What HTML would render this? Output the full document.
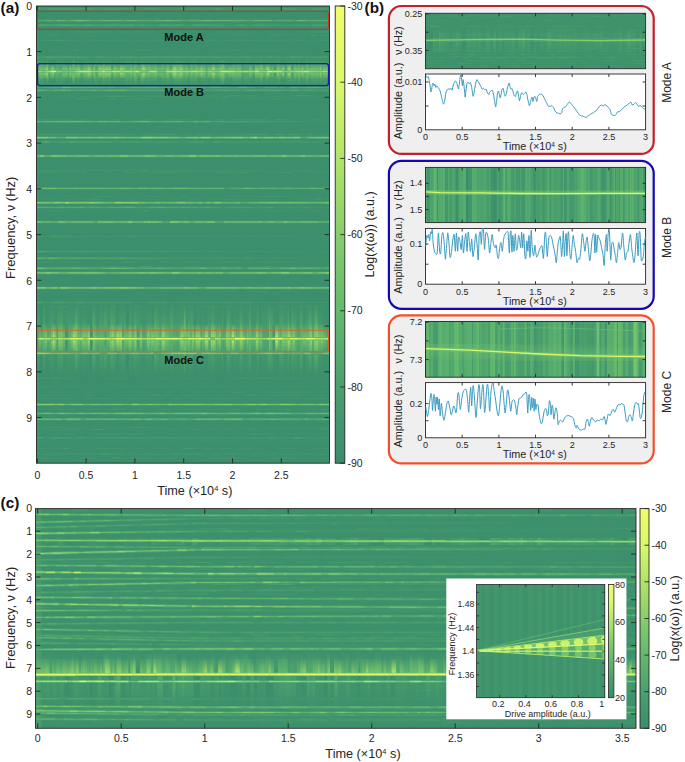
<!DOCTYPE html><html><head><meta charset="utf-8"><style>html,body{margin:0;padding:0;background:#fff;}body{width:685px;height:762px;overflow:hidden;font-family:"Liberation Sans",sans-serif;}svg{display:block;}</style></head><body>
<svg width="685" height="762" viewBox="0 0 685 762" font-family="Liberation Sans, sans-serif">
<defs>
<linearGradient id="cbg" x1="0" y1="1" x2="0" y2="0">
<stop offset="0.00" stop-color="#3a8d6c"/>
<stop offset="0.08" stop-color="#42966d"/>
<stop offset="0.17" stop-color="#4ba06e"/>
<stop offset="0.25" stop-color="#58ac6e"/>
<stop offset="0.33" stop-color="#64b96e"/>
<stop offset="0.42" stop-color="#76c36d"/>
<stop offset="0.50" stop-color="#87cd6c"/>
<stop offset="0.58" stop-color="#9cd86b"/>
<stop offset="0.67" stop-color="#b2e469"/>
<stop offset="0.75" stop-color="#c4ee6a"/>
<stop offset="0.83" stop-color="#d7f86c"/>
<stop offset="0.92" stop-color="#e5fa6a"/>
<stop offset="1.00" stop-color="#f2fc69"/>
</linearGradient>
<filter id="bl" x="-5%" y="-50%" width="110%" height="200%"><feGaussianBlur stdDeviation="0.45"/></filter>
<filter id="bl2" x="-5%" y="-50%" width="110%" height="200%"><feGaussianBlur stdDeviation="2.5"/></filter>
<clipPath id="cA"><rect x="36.5" y="6" width="293" height="457.2"/></clipPath>
<clipPath id="cC"><rect x="35.5" y="508.6" width="600.5" height="219.7"/></clipPath>
</defs>
<defs>
<linearGradient id="fadeV" x1="0" y1="0" x2="0" y2="1"><stop offset="0" stop-color="#fff" stop-opacity="0"/><stop offset="0.5" stop-color="#fff" stop-opacity="1"/><stop offset="1" stop-color="#fff" stop-opacity="0"/></linearGradient>
<mask id="mB" maskUnits="userSpaceOnUse" x="30" y="55" width="310" height="40"><rect x="30" y="60" width="310" height="26" fill="url(#fadeV)"/></mask>
<mask id="mC" maskUnits="userSpaceOnUse" x="30" y="295" width="310" height="90"><rect x="30" y="300" width="310" height="76" fill="url(#fadeV)"/></mask>
</defs>
<g clip-path="url(#cA)">
<rect x="36.5" y="6.0" width="293.0" height="457.2" fill="#3c8f6c"/>
<path d="M199 50.2H211.7M309.8 50.2H323.3M54.1 441.3H67.1M123.3 306.8H136.1M166.6 306.8H178.8M178.8 306.8H186.1M122.6 349.1H128.4M74.6 434.2H88.1M200.3 434.2H209.8M107.6 392.2H115.9M173.4 392.2H185.7M224.3 395.3H235.5M257 395.3H263.1M300.8 395.3H305.5M84.3 40.3H96.4M124.9 40.3H138.4M36.5 349.2H41.7M301.7 349.2H315.1M184 210.9H190.5M202 32H215.7M274.2 32H279.5M289.4 32H297.7M229 414.9H237.6M78.8 378.4H91.5M96.8 378.4H105.6M126.9 378.4H132.5M132.5 378.4H141.4M217.2 378.4H228.8M322.9 172.4H329.5M211.7 171.4H220.4M179.7 77.1H190.2M287.7 77.1H297.1M194.4 119.4H206.9M296 119.4H300.3M36.5 335.7H42.1M132.5 335.7H143.6M154.8 335.7H168.3M168.3 335.7H175M212.7 335.7H226.4M240.4 335.7H253.7M83.3 196.4H94.6M188.6 196.4H202.3M202.3 196.4H210.6M68.7 98.9H76M79.7 331H86.2M211.9 331H217.2M272.7 331H280.8M283 199.2H296M177.5 350.8H184.7M115.9 429.4H122M130 429.4H134.4M259.4 457.9H263.7M36.5 35H49.5M146.9 35H159.6M113.1 262H117.5M117.5 262H122.6M90.1 86.9H102M171.7 427.4H182.4M236.1 70.9H246.8M46.4 273.7H51.7M51.7 273.7H58.8M295.5 96.6H305.1M74.9 409.5H85.1M290 409.5H296M146.1 40.3H151M213.8 40.3H220.2M70.4 343.3H79.6" stroke="#3d906c" stroke-width="0.8" fill="none"/>
<path d="M36.5 291.8H49.5M49.5 291.8H55.7M68.5 291.8H80.7M187.9 291.8H193.8M193.8 291.8H199.8M299.4 291.8H309.3M309.3 291.8H319.7M325.2 291.8H329.5M60.9 50.2H73.6M79 50.2H92.4M92.4 50.2H102.1M102.1 50.2H108M117.5 50.2H130.4M152.6 50.2H161.3M177 50.2H190.7M44.9 441.3H54.1M67.1 441.3H76.9M76.9 441.3H89.7M124.7 441.3H136.8M147.9 441.3H155.2M155.2 441.3H161.3M161.3 441.3H167.4M188.6 441.3H199.2M249.2 441.3H254.3M266.3 441.3H275.6M275.6 441.3H280M290.7 441.3H300.4M118 306.8H123.3M232.3 306.8H240.9M245.9 306.8H251.2M263.5 306.8H271.3M129.9 386.8H141.9M178.3 386.8H188.7M211.5 386.8H219.3M250.3 386.8H263.5M268.9 386.8H282.8M307.2 386.8H321M42.4 349.1H48.6M100.4 349.1H108.3M108.3 349.1H113.6M128.4 349.1H137.2M137.2 349.1H147.9M234.7 349.1H247.9M255 349.1H259.7M304 349.1H315.4M321.1 349.1H326.7M56.7 434.2H63.5M119.3 434.2H128.8M146.3 434.2H157.5M178.4 434.2H191.7M231.6 434.2H243.1M273.5 434.2H283.9M72.1 392.2H81.7M92.4 392.2H100.6M100.6 392.2H107.6M124.4 392.2H134.2M185.7 392.2H194.4M242.6 392.2H251.1M322.5 392.2H327.2M41.9 95.4H53.6M53.6 95.4H66.8M95.1 95.4H104M117.7 95.4H123.5M123.5 95.4H137.1M160.2 95.4H166.9M193 95.4H206.3M275.4 95.4H285.6M285.6 95.4H296.3M104.6 395.3H110.1M127.6 395.3H134.3M168.3 395.3H178.4M235.5 395.3H243.4M263.1 395.3H269.9M305.5 395.3H311.6M41.7 40.3H50.5M104.9 40.3H112.1M120.1 40.3H124.9M158.6 40.3H168.5M215.1 40.3H223.1M230.9 40.3H241.7M260 40.3H266.5M266.5 40.3H279M289.4 40.3H302.6M302.6 40.3H308.3M41.7 349.2H48.8M74.8 349.2H81.6M138.3 349.2H151.5M192.5 349.2H206.2M206.2 349.2H211.5M216.5 349.2H223.9M238.3 349.2H248M78.3 210.9H85.1M149.3 210.9H159.2M170.3 210.9H184M190.5 210.9H204.5M132.7 77.2H144.8M171.5 77.2H184.1M210.3 77.2H223.3M262.5 77.2H270.9M270.9 77.2H284.4M296.7 77.2H308M324.2 77.2H329.5M36.5 32H44.8M49.4 32H53.5M61.4 32H68.3M176.1 32H190M256.8 32H270.1M279.5 32H289.4M329.3 32H329.5M44.4 414.9H57.2M57.2 414.9H62.2M76.1 414.9H83.1M180 414.9H191.2M191.2 414.9H199.3M199.3 414.9H205.1M250.8 414.9H261.8M279.4 414.9H289.5M325.7 414.9H329.5M54.2 266.5H66.9M73.8 266.5H80.7M85.5 266.5H97M102.5 266.5H109.5M163.8 266.5H176.6M176.6 266.5H189.3M200.5 266.5H207.2M273 266.5H285.8M285.8 266.5H290.4M290.4 266.5H298.2M298.2 266.5H308.1M308.1 266.5H315.5M146.3 378.4H159.4M166 378.4H173.2M189.8 378.4H202.8M302.5 378.4H316M316 378.4H329.5M56.9 172.4H61M71 172.4H82.3M133.6 172.4H147M196.2 172.4H207.9M207.9 172.4H216.5M256.8 172.4H265.7M272.2 172.4H280.6M36.5 69.4H50.2M62.1 69.4H74.8M101 69.4H112.9M204.7 69.4H211.3M260.5 69.4H270.6M280.2 69.4H289.2M63.8 171.4H71.4M97.3 171.4H102.7M170.3 171.4H178.2M178.2 171.4H189.2M132.3 77.1H138.3M145.3 77.1H152.7M166.1 77.1H179.7M201.2 77.1H209.3M218.6 77.1H229.8M243.8 77.1H251.2M251.2 77.1H256.2M307.9 77.1H319.8M328.8 77.1H329.5M69.8 119.4H78.2M91.2 119.4H100M134.1 119.4H144.9M151.9 119.4H165.2M206.9 119.4H214.6M225.2 119.4H233.2M288.4 119.4H296M300.3 119.4H312.3M111.6 398.4H123.9M240 398.4H249.1M255.3 398.4H259.9M268.4 398.4H276.2M325 398.4H329.5M53.8 335.7H58M58 335.7H69.5M87.2 335.7H93.1M93.1 335.7H101.7M111.1 335.7H121.7M261.9 335.7H267.6M327.1 335.7H329.5M36.5 196.4H47M70.4 196.4H83.3M111 196.4H119.8M137.3 196.4H145.3M158.8 196.4H163.9M218.8 196.4H232.3M292.4 196.4H305.9M40.6 98.9H45.4M56.3 98.9H68.7M89.2 98.9H96.8M162 98.9H168.1M206.1 98.9H216M234.8 98.9H241.7M278.8 98.9H286.2M311.7 98.9H323.1M36.5 331H50.3M98.5 331H109.9M109.9 331H118.5M118.5 331H126.1M150.8 331H162.3M184.8 331H198.5M225.5 331H237.8M253.2 331H259.9M52.7 199.2H63.6M111.8 199.2H125M157.8 199.2H169.2M275.1 199.2H283M104.3 350.8H115.3M129 350.8H139.4M139.4 350.8H147.8M168.5 350.8H177.5M251.1 350.8H260M260 350.8H271.3M134.4 429.4H148.3M174.3 429.4H186.1M220 429.4H224.9M268.2 429.4H274.9M280.1 429.4H290.6M304.4 429.4H314.2M314.2 429.4H318.6M68.4 337.8H77.2M77.2 337.8H89.7M105 337.8H114.3M135.4 337.8H144.4M187.4 337.8H196.1M202.3 337.8H207.2M231.3 337.8H236.3M280.2 337.8H287.4M61.8 457.9H73.1M177.4 457.9H188.4M252.2 457.9H259.4M263.7 457.9H273.7M294.6 457.9H300.3M300.3 457.9H308.8M308.8 457.9H317.6M58.6 35H68.1M101.4 35H112.7M112.7 35H120.7M170.4 35H183.8M183.8 35H196.8M264.8 35H269M306.6 35H310.7M93.5 262H104.8M176.9 262H182.6M204 262H215.6M234.8 262H247.1M254.1 262H259.6M275.4 262H286.4M286.4 262H298.8M298.8 262H311.2M311.2 262H324.5M36.5 86.9H49.2M83.4 86.9H90.1M113.1 86.9H124.3M136.6 86.9H149.5M161 86.9H168.5M182.4 86.9H194.1M245.7 86.9H258.1M277.9 86.9H283.9M111.2 136.8H119.6M119.6 136.8H125M125 136.8H134.6M134.6 136.8H147.5M167.8 136.8H178.8M190.9 136.8H203.2M203.2 136.8H213.9M213.9 136.8H222M234.8 136.8H242.6M248.3 136.8H261.2M277 136.8H285.8M303.5 136.8H311.4M326.7 136.8H329.5M165.3 427.4H171.7M217.1 427.4H228.2M228.2 427.4H238.5M255.9 427.4H264.2M93.3 70.9H103.6M140.7 70.9H147.6M177.6 70.9H190.2M208.6 70.9H215.3M265.6 70.9H277.3M295.4 70.9H308.9M308.9 70.9H313.5M321.6 70.9H329.5M44.5 448.7H50.8M81.3 448.7H91.5M129.3 448.7H135.5M214.5 448.7H219.4M249.8 448.7H255.4M294.9 448.7H301.4M119.3 273.7H125.9M235.1 273.7H242.8M255.9 273.7H268.3M268.3 273.7H275.7M275.7 273.7H281.8M62.9 96.6H73.2M80.5 96.6H93.6M194.6 96.6H199.2M229.9 96.6H242.1M255.8 96.6H259.8M269.7 96.6H274.5M305.1 96.6H316.2M36.5 409.5H44.3M44.3 409.5H56.4M64.9 409.5H70M99.1 409.5H104.6M176.3 409.5H188.1M188.1 409.5H198.1M198.1 409.5H204.2M222.4 409.5H234.4M296 409.5H308.1M308.1 409.5H320.7M326.9 409.5H329.5M109.5 40.3H121.6M130 40.3H138M220.2 40.3H227.8M249.5 40.3H262.8M288.8 40.3H295.8M305.1 40.3H319M64.4 343.3H70.4M102.9 343.3H115.6M129.8 343.3H135.6M135.6 343.3H146.1M146.1 343.3H152.3M156.7 343.3H163.9M192.4 343.3H199.5M217.2 343.3H223.2M247.7 343.3H260.9M281.6 343.3H286.3" stroke="#3f936d" stroke-width="0.8" fill="none"/>
<path d="M55.7 291.8H68.5M89.4 291.8H96.1M96.1 291.8H104.6M145.5 291.8H150M159.1 291.8H172.3M181.4 291.8H187.9M203.9 291.8H209.4M209.4 291.8H222.2M222.2 291.8H234.7M246.1 291.8H255.5M108 50.2H117.5M130.4 50.2H140.1M148.2 50.2H152.6M161.3 50.2H168.5M190.7 50.2H199M211.7 50.2H221.6M221.6 50.2H229.2M246.3 50.2H250.4M250.4 50.2H262.5M270.7 50.2H274.8M274.8 50.2H286.8M323.3 50.2H329.5M102.9 441.3H111.2M111.2 441.3H124.7M136.8 441.3H147.9M167.4 441.3H179.8M212.8 441.3H223.1M228.9 441.3H237M254.3 441.3H266.3M280 441.3H284.2M310.3 441.3H321.1M88.3 306.8H93.4M105.4 306.8H118M136.1 306.8H145.9M156 306.8H166.6M186.1 306.8H198.8M198.8 306.8H204.4M224.5 306.8H232.3M240.9 306.8H245.9M251.2 306.8H263.5M304.5 306.8H316.1M316.1 306.8H321.5M46.7 386.8H55M90.3 386.8H94.9M106.5 386.8H113.2M113.2 386.8H124.6M166.5 386.8H178.3M188.7 386.8H200.3M223.6 386.8H233M263.5 386.8H268.9M321 386.8H329.5M73.3 349.1H87.2M147.9 349.1H157.2M157.2 349.1H166.3M166.3 349.1H175.7M187.6 349.1H193.4M193.4 349.1H198.5M259.7 349.1H268.3M315.4 349.1H321.1M36.5 434.2H42.1M47 434.2H56.7M63.5 434.2H74.6M137.6 434.2H146.3M168.8 434.2H178.4M191.7 434.2H200.3M219.7 434.2H225.7M261.3 434.2H273.5M283.9 434.2H293.5M293.5 434.2H305M305 434.2H313.6M322.7 434.2H329.5M48.4 392.2H59.5M81.7 392.2H92.4M134.2 392.2H147.1M147.1 392.2H153.7M261.9 392.2H272.3M272.3 392.2H282.7M282.7 392.2H291.5M301.8 392.2H315.4M315.4 392.2H322.5M36.5 95.4H41.9M66.8 95.4H77M104 95.4H112.4M112.4 95.4H117.7M137.1 95.4H142.9M142.9 95.4H151.7M151.7 95.4H160.2M172.8 95.4H180.8M180.8 95.4H193M206.3 95.4H216.9M239.3 95.4H252.8M309.9 95.4H317.2M321.4 95.4H329.5M48.1 395.3H52.8M58.7 395.3H67.1M67.1 395.3H73.9M84.7 395.3H92.8M139.6 395.3H144.8M161.6 395.3H168.3M188.7 395.3H201.3M201.3 395.3H212.9M212.9 395.3H224.3M311.6 395.3H324.8M324.8 395.3H329.5M36.5 40.3H41.7M67.8 40.3H71.9M71.9 40.3H79.6M79.6 40.3H84.3M112.1 40.3H120.1M148.9 40.3H158.6M193.5 40.3H205.7M317.6 40.3H325.9M58.5 349.2H69.1M69.1 349.2H74.8M81.6 349.2H87.8M110.7 349.2H122.2M122.2 349.2H130.3M130.3 349.2H138.3M151.5 349.2H162.9M183.7 349.2H192.5M274 349.2H282.1M315.1 349.2H322.8M36.5 210.9H44.4M61.3 210.9H72M96.7 210.9H103.9M109.8 210.9H120.8M120.8 210.9H127.7M132.1 210.9H141.9M214.5 210.9H228M248.2 210.9H255.5M284.6 210.9H295.7M302.2 210.9H315.1M324.3 210.9H328.6M56.9 77.2H68.8M78.3 77.2H83.3M93.1 77.2H105.3M105.3 77.2H114.5M184.1 77.2H191.2M253.4 77.2H262.5M44.8 32H49.4M53.5 32H61.4M68.3 32H74M150.5 32H155.2M190 32H202M215.7 32H228.4M228.4 32H238.6M238.6 32H244.6M244.6 32H251.5M270.1 32H274.2M297.7 32H308.3M36.5 414.9H44.4M62.2 414.9H76.1M83.1 414.9H87.2M121.4 414.9H131M131 414.9H140.4M148.7 414.9H156.6M205.1 414.9H216.3M66.9 266.5H73.8M97 266.5H102.5M109.5 266.5H120.9M207.2 266.5H217.1M217.1 266.5H230.4M230.4 266.5H236.3M236.3 266.5H248.5M248.5 266.5H257.6M315.5 266.5H325.6M45.4 378.4H52.2M59.2 378.4H69.2M91.5 378.4H96.8M105.6 378.4H113.7M141.4 378.4H146.3M182.9 378.4H189.8M202.8 378.4H209.3M228.8 378.4H239.9M273.8 378.4H285M292.9 378.4H302.5M36.5 172.4H43.8M61 172.4H71M147 172.4H155.1M182.4 172.4H196.2M226.6 172.4H237.5M265.7 172.4H272.2M300.4 172.4H313.4M50.2 69.4H62.1M74.8 69.4H85.9M144.8 69.4H154.9M186.9 69.4H200.1M200.1 69.4H204.7M219.1 69.4H228M228 69.4H238.9M238.9 69.4H249.7M270.6 69.4H280.2M297 69.4H307.6M315.1 69.4H325.3M76.8 171.4H85.1M138.8 171.4H149.3M201.1 171.4H211.7M242.9 171.4H254.9M314.9 171.4H325.6M95.3 77.1H100.2M100.2 77.1H112.8M124.8 77.1H132.3M152.7 77.1H166.1M229.8 77.1H239.4M256.2 77.1H264.8M264.8 77.1H275.9M50.1 119.4H62.6M62.6 119.4H69.8M78.2 119.4H86.4M86.4 119.4H91.2M165.2 119.4H172.6M190.4 119.4H194.4M312.3 119.4H320.7M48.7 398.4H53M53 398.4H60M85.2 398.4H97.6M104.2 398.4H111.6M123.9 398.4H129.6M187.5 398.4H198.8M198.8 398.4H205.1M205.1 398.4H217.6M227.2 398.4H240M249.1 398.4H255.3M292.9 398.4H304.9M42.1 335.7H48.6M48.6 335.7H53.8M69.5 335.7H74.8M175 335.7H184.2M184.2 335.7H190.7M190.7 335.7H198.3M198.3 335.7H206.7M206.7 335.7H212.7M235.8 335.7H240.4M267.6 335.7H279.4M279.4 335.7H290.1M290.1 335.7H296.4M296.4 335.7H307.5M316 335.7H320.2M59.4 196.4H70.4M145.3 196.4H152.3M232.3 196.4H238.3M238.3 196.4H248.2M248.2 196.4H261.6M284.5 196.4H292.4M318.1 196.4H322.5M148.6 98.9H154.5M168.1 98.9H181.9M193.8 98.9H206.1M241.7 98.9H254.8M262.4 98.9H271.3M86.2 331H98.5M137.9 331H150.8M162.3 331H169.6M198.5 331H211.9M237.8 331H242.3M303.8 331H313.5M313.5 331H321.1M36.5 199.2H46.1M46.1 199.2H52.7M63.6 199.2H77.2M77.2 199.2H89.4M125 199.2H135M169.2 199.2H173.8M173.8 199.2H182.5M208.6 199.2H221.1M240.4 199.2H250.9M250.9 199.2H263.7M263.7 199.2H275.1M296 199.2H309.1M309.1 199.2H314.8M36.5 350.8H47.9M47.9 350.8H54.5M94.1 350.8H99.7M115.3 350.8H129M188.8 350.8H194.6M194.6 350.8H208.1M215.1 350.8H226.1M295.7 350.8H307.5M319.5 350.8H329.5M46.4 429.4H58.6M79.4 429.4H84.2M84.2 429.4H93M108.8 429.4H115.9M122 429.4H130M161.7 429.4H174.3M214.9 429.4H220M224.9 429.4H236.6M290.6 429.4H298.3M298.3 429.4H304.4M94.1 337.8H105M114.3 337.8H121.6M121.6 337.8H135.4M196.1 337.8H202.3M236.3 337.8H248.9M259.2 337.8H264.7M287.4 337.8H293.9M326.3 337.8H329.5M49.5 457.9H61.8M78.5 457.9H88.3M120.4 457.9H125.3M125.3 457.9H137M151.6 457.9H164.8M188.4 457.9H197.8M317.6 457.9H329.5M83.4 35H87.9M87.9 35H101.4M159.6 35H170.4M210.6 35H219.9M219.9 35H225.8M225.8 35H230.5M291.6 35H296.5M296.5 35H306.6M327.9 35H329.5M53.7 262H66.2M104.8 262H113.1M136.1 262H149.4M159.9 262H172.1M182.6 262H195.8M195.8 262H204M247.1 262H254.1M259.6 262H264.3M324.5 262H328.9M328.9 262H329.5M49.2 86.9H55.1M55.1 86.9H61.3M61.3 86.9H75M75 86.9H83.4M102 86.9H113.1M124.3 86.9H129.6M194.1 86.9H208.1M208.1 86.9H218.6M227.3 86.9H234.1M297.5 86.9H305.6M318.3 86.9H329.5M56.1 136.8H68.8M77.3 136.8H83.5M83.5 136.8H90.2M242.6 136.8H248.3M285.8 136.8H290.1M290.1 136.8H297.5M311.4 136.8H322.1M322.1 136.8H326.7M64.7 427.4H72.9M72.9 427.4H77.2M77.2 427.4H84.1M106.8 427.4H113.4M125.8 427.4H131.7M155.3 427.4H165.3M182.4 427.4H193.6M204.7 427.4H212.9M238.5 427.4H243.1M243.1 427.4H255.9M281.6 427.4H288.2M294.1 427.4H300.2M300.2 427.4H306.7M306.7 427.4H316.6M50.1 70.9H60.3M190.2 70.9H199.7M277.3 70.9H281.9M313.5 70.9H321.6M50.8 448.7H59.5M123.1 448.7H129.3M153.4 448.7H157.7M157.7 448.7H171.3M193.7 448.7H201.4M255.4 448.7H262M275.7 448.7H281M281 448.7H294.9M310.7 448.7H323.5M36.5 273.7H41.7M113.4 273.7H119.3M138.2 273.7H146.7M178 273.7H188.7M301.2 273.7H305.7M166.3 96.6H171.3M282.5 96.6H289.2M56.4 409.5H64.9M85.1 409.5H99.1M104.6 409.5H113M215.2 409.5H222.4M255.5 409.5H264.4M264.4 409.5H274M274 409.5H278.4M278.4 409.5H285.5M36.5 40.3H45.1M67.5 40.3H75.8M151 40.3H163.3M172.3 40.3H184.5M237.4 40.3H249.5M262.8 40.3H272.4M272.4 40.3H284.6M284.6 40.3H288.8M119.7 343.3H124.9M124.9 343.3H129.8M152.3 343.3H156.7M199.5 343.3H208.8M223.2 343.3H234.4M286.3 343.3H292.7M310.9 343.3H316.6" stroke="#42966d" stroke-width="0.8" fill="none"/>
<path d="M80.7 291.8H89.4M199.8 291.8H203.9M278.2 291.8H286.1M286.1 291.8H291.6M291.6 291.8H299.4M50.2 50.2H60.9M229.2 50.2H240.8M262.5 50.2H270.7M199.2 441.3H212.8M223.1 441.3H228.9M284.2 441.3H290.7M300.4 441.3H310.3M321.1 441.3H328.2M328.2 441.3H329.5M46.6 306.8H56.4M80.9 306.8H88.3M214.9 306.8H224.5M321.5 306.8H326.3M67.8 386.8H79.5M153.1 386.8H166.5M200.3 386.8H211.5M242.5 386.8H250.3M282.8 386.8H293.9M293.9 386.8H307.2M36.5 349.1H42.4M211.9 349.1H225.6M88.1 434.2H96.2M243.1 434.2H252.7M313.6 434.2H322.7M167.4 392.2H173.4M252.8 95.4H258M36.5 395.3H48.1M52.8 395.3H58.7M120.9 395.3H127.6M134.3 395.3H139.6M144.8 395.3H149.1M178.4 395.3H188.7M243.4 395.3H257M269.9 395.3H282.5M282.5 395.3H289.4M289.4 395.3H294.1M168.5 40.3H178M223.1 40.3H230.9M246.8 40.3H260M279 40.3H283.5M96.5 349.2H106.3M162.9 349.2H168.3M178.3 349.2H183.7M223.9 349.2H228.2M248 349.2H257.6M44.4 210.9H49.8M127.7 210.9H132.1M159.2 210.9H170.3M237.2 210.9H248.2M255.5 210.9H259.9M276.3 210.9H284.6M295.7 210.9H302.2M83.3 77.2H93.1M127.4 77.2H132.7M195.3 77.2H201.3M223.3 77.2H230.1M230.1 77.2H239.1M243.6 77.2H253.4M318.2 77.2H324.2M96.3 32H103.2M117.4 32H130.7M130.7 32H142.7M142.7 32H150.5M251.5 32H256.8M109.3 414.9H121.4M156.6 414.9H161.7M161.7 414.9H173.4M237.6 414.9H250.8M261.8 414.9H275.1M289.5 414.9H298.5M298.5 414.9H308M315.6 414.9H325.7M189.3 266.5H200.5M257.6 266.5H268.2M325.6 266.5H329.5M69.2 378.4H74.1M113.7 378.4H126.9M159.4 378.4H166M239.9 378.4H253.5M253.5 378.4H266.2M285 378.4H292.9M43.8 172.4H56.9M177.7 172.4H182.4M313.4 172.4H322.9M85.9 69.4H95M112.9 69.4H123.6M134.1 69.4H144.8M36.5 171.4H45.4M45.4 171.4H52.6M71.4 171.4H76.8M157 171.4H170.3M220.4 171.4H228.4M228.4 171.4H234.3M268.4 171.4H278.9M325.6 171.4H329.5M138.3 77.1H145.3M239.4 77.1H243.8M115.5 119.4H122.6M144.9 119.4H151.9M172.6 119.4H183M183 119.4H190.4M214.6 119.4H225.2M258.6 119.4H268M280.3 119.4H288.4M36.5 398.4H48.7M60 398.4H72.6M138.2 398.4H151.6M151.6 398.4H162.9M217.6 398.4H227.2M259.9 398.4H268.4M284 398.4H292.9M304.9 398.4H313.5M74.8 335.7H87.2M152.3 196.4H158.8M179.6 196.4H188.6M327.1 196.4H329.5M181.9 98.9H188.8M188.8 98.9H193.8M216 98.9H227M254.8 98.9H262.4M271.3 98.9H278.8M286.2 98.9H299.6M64.3 331H75.5M169.6 331H179.7M242.3 331H253.2M280.8 331H284.8M321.1 331H329.5M144.7 199.2H157.8M189.4 199.2H201.7M233.3 199.2H240.4M321.9 199.2H329.5M76.7 350.8H85.1M147.8 350.8H154.7M226.1 350.8H233.9M290.8 350.8H295.7M307.5 350.8H319.5M36.5 429.4H46.4M58.6 429.4H69.4M155.9 429.4H161.7M208.8 429.4H214.9M274.9 429.4H280.1M36.5 337.8H48.7M161.1 337.8H170.8M219.8 337.8H231.3M273.6 337.8H280.2M36.5 457.9H49.5M164.8 457.9H177.4M205.5 457.9H218.5M218.5 457.9H230.2M230.2 457.9H236M236 457.9H245.8M273.7 457.9H280.6M76.9 35H83.4M138 35H146.9M230.5 35H236.4M241.2 35H253.8M280.5 35H291.6M66.2 262H79.6M215.6 262H221.3M129.6 86.9H136.6M258.1 86.9H264.5M305.6 86.9H318.3M68.8 136.8H77.3M90.2 136.8H99.4M99.4 136.8H111.2M147.5 136.8H152.7M152.7 136.8H162.2M222 136.8H234.8M261.2 136.8H272.7M272.7 136.8H277M36.5 427.4H47.6M113.4 427.4H125.8M145.3 427.4H155.3M264.2 427.4H270.6M270.6 427.4H281.6M288.2 427.4H294.1M60.3 70.9H72.4M147.6 70.9H156.2M156.2 70.9H169.4M223.1 70.9H231.1M246.8 70.9H255.4M281.9 70.9H295.4M59.5 448.7H64M95.7 448.7H109.6M109.6 448.7H123.1M135.5 448.7H143.9M201.4 448.7H214.5M219.4 448.7H232.2M63.5 273.7H74.1M125.9 273.7H138.2M146.7 273.7H158.7M188.7 273.7H198.2M219.4 273.7H223.9M223.9 273.7H235.1M242.8 273.7H255.9M305.7 273.7H319M319 273.7H329.5M56.8 96.6H62.9M93.6 96.6H106M126.5 96.6H137.7M145 96.6H152.9M171.3 96.6H182M205.4 96.6H217.6M242.1 96.6H255.8M274.5 96.6H282.5M134.3 409.5H144.1M157.4 409.5H171.2M204.2 409.5H208.9M208.9 409.5H215.2M234.4 409.5H238.9M320.7 409.5H326.9M58 40.3H67.5M97.8 40.3H109.5M121.6 40.3H130M138 40.3H146.1M227.8 40.3H237.4M295.8 40.3H305.1M323.9 40.3H329.5M90.8 343.3H102.9M171.6 343.3H181.3M208.8 343.3H217.2M329.4 343.3H329.5" stroke="#44986d" stroke-width="0.8" fill="none"/>
<path d="M73.6 50.2H79M140.1 50.2H148.2M36.5 441.3H44.9M277.4 306.8H286M297.5 306.8H304.5M36.5 386.8H46.7M62.8 386.8H67.8M124.6 386.8H129.9M141.9 386.8H153.1M219.3 386.8H223.6M57.6 349.1H64.7M64.7 349.1H73.3M113.6 349.1H122.6M291.5 349.1H304M96.2 434.2H108.6M108.6 434.2H119.3M133.4 434.2H137.6M252.7 434.2H261.3M231.3 392.2H242.6M291.5 392.2H301.8M227.6 95.4H239.3M149.1 395.3H161.6M294.1 395.3H300.8M50.5 40.3H55.2M106.3 349.2H110.7M282.1 349.2H295M49.8 210.9H61.3M264.6 210.9H272M272 210.9H276.3M315.1 210.9H320.1M328.6 210.9H329.5M191.2 77.2H195.3M201.3 77.2H210.3M308 77.2H314.1M74 32H87.6M102.1 414.9H109.3M216.3 414.9H229M308 414.9H315.6M268.2 266.5H273M266.2 378.4H273.8M106.9 172.4H111.3M124.3 172.4H133.6M155.1 172.4H166.3M166.3 172.4H177.7M216.5 172.4H226.6M237.5 172.4H248.7M95 69.4H101M123.6 69.4H134.1M161.2 69.4H169.8M169.8 69.4H177.5M211.3 69.4H219.1M289.2 69.4H297M307.6 69.4H315.1M52.6 171.4H63.8M302.6 171.4H314.9M53.6 77.1H64.4M64.4 77.1H78.3M209.3 77.1H218.6M36.5 119.4H50.1M110.4 119.4H115.5M233.2 119.4H244.1M250 119.4H258.6M97.6 398.4H104.2M129.6 398.4H138.2M173.6 398.4H180.4M101.7 335.7H111.1M121.7 335.7H132.5M226.4 335.7H235.8M94.6 196.4H101.1M101.1 196.4H111M261.6 196.4H271.6M271.6 196.4H284.5M125.7 98.9H135.4M135.4 98.9H148.6M179.7 331H184.8M284.8 331H292.1M221.1 199.2H233.3M54.5 350.8H67.6M99.7 350.8H104.3M246.4 350.8H251.1M69.4 429.4H79.4M190.3 429.4H201.7M247.2 429.4H257.3M318.6 429.4H329.5M48.7 337.8H55.6M89.7 337.8H94.1M264.7 337.8H273.6M301.7 337.8H315M315 337.8H326.3M88.3 457.9H93.8M137 457.9H144.6M144.6 457.9H151.6M280.6 457.9H294.6M236.4 35H241.2M269 35H280.5M323 35H327.9M36.5 262H42.8M42.8 262H53.7M128.8 262H136.1M221.3 262H234.8M264.3 262H275.4M149.5 86.9H161M168.5 86.9H182.4M297.5 136.8H303.5M47.6 427.4H55.8M55.8 427.4H64.7M316.6 427.4H329.1M109.3 70.9H121M121 70.9H135M215.3 70.9H223.1M36.5 448.7H44.5M237.4 448.7H249.8M323.5 448.7H329.5M85.2 273.7H95.8M107.2 273.7H113.4M36.5 96.6H43M152.9 96.6H166.3M182 96.6H194.6M221.8 96.6H229.9M70 409.5H74.9M113 409.5H124.7M45.1 40.3H58M89.7 40.3H97.8M163.3 40.3H172.3M50.4 343.3H64.4M181.3 343.3H192.4M234.4 343.3H247.7" stroke="#479b6d" stroke-width="0.8" fill="none"/>
<path d="M255.5 291.8H268.2M56.4 306.8H68.4M204.4 306.8H214.9M87.2 349.1H100.4M175.7 349.1H187.6M247.9 349.1H255M296.3 95.4H309.9M55.2 40.3H67.8M205.7 40.3H215.1M241.7 40.3H246.8M325.9 40.3H329.5M87.8 349.2H96.5M49.5 77.2H56.9M68.8 77.2H78.3M87.6 32H96.3M103.2 32H110.1M308.3 32H316.3M316.3 32H329.3M140.4 414.9H148.7M173.4 414.9H180M120.9 266.5H125.5M36.5 378.4H45.4M82.3 172.4H87.2M280.6 172.4H292.9M177.5 69.4H186.9M45.4 77.1H53.6M112.8 77.1H124.8M297.1 77.1H307.9M244.1 119.4H250M274.4 119.4H280.3M313.5 398.4H325M253.7 335.7H261.9M76 98.9H89.2M110.2 98.9H115.1M126.1 331H137.9M89.4 199.2H102.6M314.8 199.2H321.9M67.6 350.8H76.7M85.1 350.8H94.1M55.6 337.8H68.4M180.1 337.8H187.4M248.9 337.8H259.2M49.5 35H58.6M310.7 35H315.6M122.6 262H128.8M131.7 427.4H145.3M36.5 70.9H50.1M72.4 70.9H80.7M182.7 448.7H193.7M41.7 273.7H46.4M74.1 273.7H85.2M167.1 273.7H178M106 96.6H115.7M115.7 96.6H126.5M316.6 343.3H329.4" stroke="#499e6e" stroke-width="0.8" fill="none"/>
<path d="M128.8 434.2H133.4M187.8 40.3H193.5M141.9 210.9H149.3M157.7 77.2H171.5M139.3 266.5H151M52.2 378.4H59.2M36.5 77.1H45.4M196.2 77.1H201.2M93 429.4H104.6M112.8 457.9H120.4M264.5 86.9H277.9M135 70.9H140.7M64 448.7H69.5M58.8 273.7H63.5M285.5 409.5H290" stroke="#4ca16e" stroke-width="0.8" fill="none"/>
<mask id="mB1" maskUnits="userSpaceOnUse" x="30" y="56" width="310" height="32"><rect x="30" y="58" width="310" height="28" fill="url(#fadeV)"/></mask>
<g mask="url(#mB1)" filter="url(#bl)">
<path d="M54.4 58V86" stroke="#3d906c" stroke-width="1.9" fill="none"/>
<path d="M76.3 58V86" stroke="#42966d" stroke-width="1.8" fill="none"/>
<path d="M45.4 58V86" stroke="#44986d" stroke-width="2.1" fill="none"/>
<path d="M50 58V86" stroke="#44986d" stroke-width="3" fill="none"/>
<path d="M67.1 58V86" stroke="#44986d" stroke-width="2.4" fill="none"/>
<path d="M71.2 58V86" stroke="#44986d" stroke-width="1.7" fill="none"/>
<path d="M92.9 58V86" stroke="#44986d" stroke-width="1.8" fill="none"/>
<path d="M199.6 58V86" stroke="#44986d" stroke-width="3.1" fill="none"/>
<path d="M209.4 58V86M302 58V86" stroke="#44986d" stroke-width="1.5" fill="none"/>
<path d="M281.8 58V86" stroke="#44986d" stroke-width="2.3" fill="none"/>
<path d="M80.3 58V86M139.3 58V86" stroke="#479b6d" stroke-width="2.4" fill="none"/>
<path d="M111.9 58V86" stroke="#479b6d" stroke-width="2.3" fill="none"/>
<path d="M122.1 58V86" stroke="#479b6d" stroke-width="2" fill="none"/>
<path d="M160.7 58V86" stroke="#479b6d" stroke-width="1.1" fill="none"/>
<path d="M188.3 58V86" stroke="#479b6d" stroke-width="3.3" fill="none"/>
<path d="M231.1 58V86" stroke="#479b6d" stroke-width="1.7" fill="none"/>
<path d="M253.4 58V86" stroke="#479b6d" stroke-width="3.1" fill="none"/>
<path d="M82.1 58V86" stroke="#499e6e" stroke-width="1.3" fill="none"/>
<path d="M119.3 58V86" stroke="#499e6e" stroke-width="1.1" fill="none"/>
<path d="M206.8 58V86" stroke="#499e6e" stroke-width="1.2" fill="none"/>
<path d="M284.4 58V86" stroke="#499e6e" stroke-width="2.9" fill="none"/>
<path d="M297.1 58V86M309.9 58V86" stroke="#499e6e" stroke-width="2.2" fill="none"/>
<path d="M328.7 58V86" stroke="#499e6e" stroke-width="2.7" fill="none"/>
<path d="M52.5 58V86" stroke="#4ca16e" stroke-width="2" fill="none"/>
<path d="M84.1 58V86" stroke="#4ca16e" stroke-width="2.8" fill="none"/>
<path d="M100.8 58V86" stroke="#4ca16e" stroke-width="3.3" fill="none"/>
<path d="M118.1 58V86" stroke="#4ca16e" stroke-width="1.5" fill="none"/>
<path d="M132.8 58V86" stroke="#4ca16e" stroke-width="1.7" fill="none"/>
<path d="M157.8 58V86" stroke="#4ca16e" stroke-width="2.6" fill="none"/>
<path d="M159.6 58V86" stroke="#4ca16e" stroke-width="1.1" fill="none"/>
<path d="M170.5 58V86" stroke="#4ca16e" stroke-width="2.1" fill="none"/>
<path d="M203.3 58V86" stroke="#4ca16e" stroke-width="1.4" fill="none"/>
<path d="M242.9 58V86" stroke="#4ca16e" stroke-width="3" fill="none"/>
<path d="M263.9 58V86" stroke="#4ca16e" stroke-width="2.4" fill="none"/>
<path d="M268.8 58V86" stroke="#4ca16e" stroke-width="1.6" fill="none"/>
<path d="M37.5 58V86M59.1 58V86M211.1 58V86M218.7 58V86" stroke="#50a56e" stroke-width="2" fill="none"/>
<path d="M64.2 58V86M271.3 58V86" stroke="#50a56e" stroke-width="3.5" fill="none"/>
<path d="M69.3 58V86" stroke="#50a56e" stroke-width="2.1" fill="none"/>
<path d="M98 58V86" stroke="#50a56e" stroke-width="2.3" fill="none"/>
<path d="M114.3 58V86" stroke="#50a56e" stroke-width="2.6" fill="none"/>
<path d="M120.5 58V86" stroke="#50a56e" stroke-width="1.3" fill="none"/>
<path d="M124.4 58V86M228.9 58V86" stroke="#50a56e" stroke-width="2.8" fill="none"/>
<path d="M172.4 58V86M300.5 58V86" stroke="#50a56e" stroke-width="1.7" fill="none"/>
<path d="M216.2 58V86" stroke="#50a56e" stroke-width="3" fill="none"/>
<path d="M226 58V86" stroke="#50a56e" stroke-width="3.2" fill="none"/>
<path d="M251.1 58V86" stroke="#50a56e" stroke-width="1.5" fill="none"/>
<path d="M274.3 58V86" stroke="#50a56e" stroke-width="2.7" fill="none"/>
<path d="M88.3 58V86M145.5 58V86" stroke="#54a96e" stroke-width="3" fill="none"/>
<path d="M90.9 58V86" stroke="#54a96e" stroke-width="2.2" fill="none"/>
<path d="M107.1 58V86M197.3 58V86" stroke="#54a96e" stroke-width="1.6" fill="none"/>
<path d="M116.5 58V86" stroke="#54a96e" stroke-width="1.8" fill="none"/>
<path d="M137.5 58V86M164.4 58V86" stroke="#54a96e" stroke-width="1.3" fill="none"/>
<path d="M153 58V86M205.1 58V86" stroke="#54a96e" stroke-width="2.3" fill="none"/>
<path d="M166 58V86" stroke="#54a96e" stroke-width="2" fill="none"/>
<path d="M184.2 58V86" stroke="#54a96e" stroke-width="1.7" fill="none"/>
<path d="M248.7 58V86" stroke="#54a96e" stroke-width="3.5" fill="none"/>
<path d="M258.6 58V86" stroke="#54a96e" stroke-width="2.6" fill="none"/>
<path d="M265.6 58V86" stroke="#54a96e" stroke-width="1.1" fill="none"/>
<path d="M287.5 58V86" stroke="#54a96e" stroke-width="3.4" fill="none"/>
<path d="M304.3 58V86" stroke="#54a96e" stroke-width="3.2" fill="none"/>
<path d="M56.8 58V86" stroke="#58ac6e" stroke-width="2.8" fill="none"/>
<path d="M131.5 58V86" stroke="#58ac6e" stroke-width="1.1" fill="none"/>
<path d="M151.1 58V86" stroke="#58ac6e" stroke-width="1.6" fill="none"/>
<path d="M162.5 58V86M276.9 58V86" stroke="#58ac6e" stroke-width="2.7" fill="none"/>
<path d="M208 58V86" stroke="#58ac6e" stroke-width="1.3" fill="none"/>
<path d="M233.5 58V86M323.9 58V86" stroke="#58ac6e" stroke-width="3.3" fill="none"/>
<path d="M239.9 58V86" stroke="#58ac6e" stroke-width="3.1" fill="none"/>
<path d="M256.1 58V86" stroke="#58ac6e" stroke-width="2.5" fill="none"/>
<path d="M292.9 58V86" stroke="#58ac6e" stroke-width="1.2" fill="none"/>
<path d="M319.2 58V86" stroke="#58ac6e" stroke-width="1.8" fill="none"/>
<path d="M61.3 58V86M129.8 58V86" stroke="#5bb06e" stroke-width="2.4" fill="none"/>
<path d="M78.1 58V86" stroke="#5bb06e" stroke-width="2.1" fill="none"/>
<path d="M86.2 58V86" stroke="#5bb06e" stroke-width="1.4" fill="none"/>
<path d="M109.4 58V86" stroke="#5bb06e" stroke-width="2.9" fill="none"/>
<path d="M148.7 58V86M181.8 58V86M315.7 58V86" stroke="#5bb06e" stroke-width="3.3" fill="none"/>
<path d="M174.8 58V86M290.8 58V86" stroke="#5bb06e" stroke-width="3.2" fill="none"/>
<path d="M185.9 58V86" stroke="#5bb06e" stroke-width="1.7" fill="none"/>
<path d="M191.7 58V86" stroke="#5bb06e" stroke-width="3.5" fill="none"/>
<path d="M201.9 58V86" stroke="#5bb06e" stroke-width="1.6" fill="none"/>
<path d="M213.4 58V86M245.7 58V86M294.8 58V86" stroke="#5bb06e" stroke-width="2.7" fill="none"/>
<path d="M267 58V86M326.5 58V86" stroke="#5bb06e" stroke-width="1.9" fill="none"/>
<path d="M280 58V86" stroke="#5bb06e" stroke-width="1.5" fill="none"/>
<path d="M312.5 58V86" stroke="#5bb06e" stroke-width="3.1" fill="none"/>
<path d="M43.5 58V86" stroke="#5fb46e" stroke-width="1.7" fill="none"/>
<path d="M95.4 58V86" stroke="#5fb46e" stroke-width="3.1" fill="none"/>
<path d="M105.4 58V86" stroke="#5fb46e" stroke-width="1.9" fill="none"/>
<path d="M155.4 58V86" stroke="#5fb46e" stroke-width="2.5" fill="none"/>
<path d="M168.2 58V86" stroke="#5fb46e" stroke-width="2.6" fill="none"/>
<path d="M195 58V86" stroke="#5fb46e" stroke-width="3.2" fill="none"/>
<path d="M236.8 58V86" stroke="#5fb46e" stroke-width="3.3" fill="none"/>
<path d="M321.2 58V86" stroke="#5fb46e" stroke-width="2.2" fill="none"/>
<path d="M39.6 58V86" stroke="#63b86e" stroke-width="2.2" fill="none"/>
<path d="M41.6 58V86" stroke="#63b86e" stroke-width="2.1" fill="none"/>
<path d="M127.2 58V86" stroke="#63b86e" stroke-width="2.9" fill="none"/>
<path d="M220.6 58V86" stroke="#63b86e" stroke-width="1.8" fill="none"/>
<path d="M103.4 58V86" stroke="#68bb6e" stroke-width="2.1" fill="none"/>
<path d="M261.3 58V86" stroke="#68bb6e" stroke-width="2.9" fill="none"/>
<path d="M47.5 58V86" stroke="#6dbe6d" stroke-width="2.2" fill="none"/>
<path d="M278.8 58V86M317.8 58V86" stroke="#6dbe6d" stroke-width="1.1" fill="none"/>
<path d="M307.3 58V86" stroke="#6dbe6d" stroke-width="3" fill="none"/>
<path d="M73.7 58V86" stroke="#72c16d" stroke-width="3.4" fill="none"/>
<path d="M135.3 58V86" stroke="#72c16d" stroke-width="3.2" fill="none"/>
<path d="M143.2 58V86" stroke="#72c16d" stroke-width="1.7" fill="none"/>
<path d="M177.3 58V86" stroke="#72c16d" stroke-width="2" fill="none"/>
<path d="M179.2 58V86" stroke="#72c16d" stroke-width="1.9" fill="none"/>
<path d="M141.4 58V86" stroke="#77c46d" stroke-width="1.9" fill="none"/>
<path d="M222.9 58V86" stroke="#7dc76d" stroke-width="3.1" fill="none"/>
<path d="M298.9 58V86" stroke="#7dc76d" stroke-width="1.5" fill="none"/>
</g>
<mask id="mB2" maskUnits="userSpaceOnUse" x="30" y="62" width="310" height="19"><rect x="30" y="64" width="310" height="15" fill="url(#fadeV)"/></mask>
<g mask="url(#mB2)" filter="url(#bl)">
<path d="M275.2 64V79" stroke="#499e6e" stroke-width="3.2" fill="none"/>
<path d="M292.1 64V79" stroke="#499e6e" stroke-width="2.7" fill="none"/>
<path d="M242 64V79" stroke="#4ca16e" stroke-width="1.2" fill="none"/>
<path d="M126.5 64V79" stroke="#50a56e" stroke-width="1.3" fill="none"/>
<path d="M245.9 64V79" stroke="#50a56e" stroke-width="1.9" fill="none"/>
<path d="M61.1 64V79M96.3 64V79" stroke="#54a96e" stroke-width="3.1" fill="none"/>
<path d="M248.1 64V79" stroke="#54a96e" stroke-width="2.4" fill="none"/>
<path d="M253.7 64V79" stroke="#54a96e" stroke-width="2.5" fill="none"/>
<path d="M68.6 64V79" stroke="#58ac6e" stroke-width="1.6" fill="none"/>
<path d="M243.8 64V79" stroke="#58ac6e" stroke-width="2.4" fill="none"/>
<path d="M285.8 64V79" stroke="#58ac6e" stroke-width="3.2" fill="none"/>
<path d="M111.9 64V79" stroke="#5bb06e" stroke-width="1.1" fill="none"/>
<path d="M48.7 64V79" stroke="#5fb46e" stroke-width="1.8" fill="none"/>
<path d="M55.2 64V79" stroke="#5fb46e" stroke-width="1.9" fill="none"/>
<path d="M128.8 64V79" stroke="#5fb46e" stroke-width="3.3" fill="none"/>
<path d="M170.6 64V79" stroke="#5fb46e" stroke-width="2.4" fill="none"/>
<path d="M185.3 64V79" stroke="#5fb46e" stroke-width="1.2" fill="none"/>
<path d="M194 64V79" stroke="#5fb46e" stroke-width="3.2" fill="none"/>
<path d="M206.3 64V79" stroke="#5fb46e" stroke-width="2.8" fill="none"/>
<path d="M37.5 64V79" stroke="#63b86e" stroke-width="2.1" fill="none"/>
<path d="M57.8 64V79M305.2 64V79" stroke="#63b86e" stroke-width="3.5" fill="none"/>
<path d="M81.8 64V79M189.9 64V79" stroke="#63b86e" stroke-width="2.9" fill="none"/>
<path d="M136.5 64V79M226 64V79" stroke="#63b86e" stroke-width="2" fill="none"/>
<path d="M235.6 64V79" stroke="#63b86e" stroke-width="1.5" fill="none"/>
<path d="M270.6 64V79" stroke="#63b86e" stroke-width="1.9" fill="none"/>
<path d="M92.1 64V79" stroke="#68bb6e" stroke-width="2.7" fill="none"/>
<path d="M164.7 64V79" stroke="#68bb6e" stroke-width="3.2" fill="none"/>
<path d="M228 64V79" stroke="#68bb6e" stroke-width="2" fill="none"/>
<path d="M321.7 64V79" stroke="#68bb6e" stroke-width="1.4" fill="none"/>
<path d="M113.1 64V79" stroke="#6dbe6d" stroke-width="1.5" fill="none"/>
<path d="M265.4 64V79M329.9 64V79" stroke="#6dbe6d" stroke-width="1.7" fill="none"/>
<path d="M280.5 64V79" stroke="#6dbe6d" stroke-width="3.5" fill="none"/>
<path d="M72.5 64V79" stroke="#72c16d" stroke-width="2.3" fill="none"/>
<path d="M74.5 64V79" stroke="#72c16d" stroke-width="1.8" fill="none"/>
<path d="M134.1 64V79" stroke="#72c16d" stroke-width="2.9" fill="none"/>
<path d="M140.8 64V79" stroke="#72c16d" stroke-width="3" fill="none"/>
<path d="M151.4 64V79" stroke="#72c16d" stroke-width="1.1" fill="none"/>
<path d="M153 64V79" stroke="#72c16d" stroke-width="2.2" fill="none"/>
<path d="M216.6 64V79" stroke="#72c16d" stroke-width="2.8" fill="none"/>
<path d="M272.6 64V79" stroke="#72c16d" stroke-width="2.1" fill="none"/>
<path d="M300 64V79" stroke="#72c16d" stroke-width="3.3" fill="none"/>
<path d="M308.5 64V79" stroke="#72c16d" stroke-width="3.2" fill="none"/>
<path d="M315.8 64V79" stroke="#72c16d" stroke-width="1.5" fill="none"/>
<path d="M318.8 64V79" stroke="#72c16d" stroke-width="2.5" fill="none"/>
<path d="M118.6 64V79" stroke="#77c46d" stroke-width="2.7" fill="none"/>
<path d="M138.4 64V79" stroke="#77c46d" stroke-width="2" fill="none"/>
<path d="M158.4 64V79M237.5 64V79" stroke="#77c46d" stroke-width="2.3" fill="none"/>
<path d="M177 64V79M322.9 64V79" stroke="#77c46d" stroke-width="1.1" fill="none"/>
<path d="M183.2 64V79" stroke="#77c46d" stroke-width="3.1" fill="none"/>
<path d="M218.5 64V79" stroke="#77c46d" stroke-width="1.2" fill="none"/>
<path d="M223.7 64V79" stroke="#77c46d" stroke-width="2.6" fill="none"/>
<path d="M294.2 64V79" stroke="#77c46d" stroke-width="1.6" fill="none"/>
<path d="M314.3 64V79" stroke="#77c46d" stroke-width="1.7" fill="none"/>
<path d="M41 64V79" stroke="#7dc76d" stroke-width="2.9" fill="none"/>
<path d="M50.8 64V79" stroke="#7dc76d" stroke-width="2.6" fill="none"/>
<path d="M86.7 64V79" stroke="#7dc76d" stroke-width="1.4" fill="none"/>
<path d="M147.2 64V79" stroke="#7dc76d" stroke-width="3.5" fill="none"/>
<path d="M149.9 64V79" stroke="#7dc76d" stroke-width="2" fill="none"/>
<path d="M155.7 64V79" stroke="#7dc76d" stroke-width="3.3" fill="none"/>
<path d="M160.2 64V79" stroke="#7dc76d" stroke-width="1.3" fill="none"/>
<path d="M162 64V79" stroke="#7dc76d" stroke-width="2.4" fill="none"/>
<path d="M178.9 64V79" stroke="#7dc76d" stroke-width="2.7" fill="none"/>
<path d="M233.6 64V79" stroke="#7dc76d" stroke-width="2.8" fill="none"/>
<path d="M240 64V79M259.5 64V79" stroke="#7dc76d" stroke-width="3" fill="none"/>
<path d="M296.6 64V79M311.7 64V79" stroke="#7dc76d" stroke-width="3.4" fill="none"/>
<path d="M39 64V79" stroke="#82ca6c" stroke-width="1.1" fill="none"/>
<path d="M43.6 64V79" stroke="#82ca6c" stroke-width="2.4" fill="none"/>
<path d="M84.7 64V79" stroke="#82ca6c" stroke-width="2.9" fill="none"/>
<path d="M116.4 64V79" stroke="#82ca6c" stroke-width="1.9" fill="none"/>
<path d="M131.5 64V79M208.8 64V79" stroke="#82ca6c" stroke-width="2.3" fill="none"/>
<path d="M167.8 64V79" stroke="#82ca6c" stroke-width="3.2" fill="none"/>
<path d="M197 64V79" stroke="#82ca6c" stroke-width="3" fill="none"/>
<path d="M199.3 64V79M250.1 64V79" stroke="#82ca6c" stroke-width="1.7" fill="none"/>
<path d="M210.9 64V79" stroke="#82ca6c" stroke-width="2" fill="none"/>
<path d="M230.6 64V79" stroke="#82ca6c" stroke-width="3.3" fill="none"/>
<path d="M251.7 64V79" stroke="#82ca6c" stroke-width="1.6" fill="none"/>
<path d="M66.2 64V79" stroke="#87cd6c" stroke-width="3.3" fill="none"/>
<path d="M187.2 64V79" stroke="#87cd6c" stroke-width="2.7" fill="none"/>
<path d="M203.5 64V79" stroke="#87cd6c" stroke-width="2.8" fill="none"/>
<path d="M220.8 64V79" stroke="#87cd6c" stroke-width="3.4" fill="none"/>
<path d="M262.1 64V79" stroke="#87cd6c" stroke-width="2.4" fill="none"/>
<path d="M263.9 64V79" stroke="#87cd6c" stroke-width="1.3" fill="none"/>
<path d="M317 64V79" stroke="#87cd6c" stroke-width="1.1" fill="none"/>
<path d="M324.4 64V79" stroke="#87cd6c" stroke-width="2.1" fill="none"/>
<path d="M63.6 64V79M76.3 64V79" stroke="#8dd06c" stroke-width="2" fill="none"/>
<path d="M98.5 64V79" stroke="#8dd06c" stroke-width="1.3" fill="none"/>
<path d="M124.5 64V79" stroke="#8dd06c" stroke-width="2.8" fill="none"/>
<path d="M172.4 64V79" stroke="#8dd06c" stroke-width="1.4" fill="none"/>
<path d="M191.9 64V79" stroke="#8dd06c" stroke-width="1.1" fill="none"/>
<path d="M255.8 64V79" stroke="#8dd06c" stroke-width="1.8" fill="none"/>
<path d="M326.3 64V79" stroke="#8dd06c" stroke-width="1.9" fill="none"/>
<path d="M78.8 64V79" stroke="#94d46b" stroke-width="3.2" fill="none"/>
<path d="M103.4 64V79" stroke="#94d46b" stroke-width="3.5" fill="none"/>
<path d="M277.8 64V79" stroke="#94d46b" stroke-width="2.1" fill="none"/>
<path d="M109.9 64V79" stroke="#9ad76b" stroke-width="2.9" fill="none"/>
<path d="M257.4 64V79" stroke="#9ad76b" stroke-width="1.4" fill="none"/>
<path d="M53.2 64V79" stroke="#a1db6a" stroke-width="2.3" fill="none"/>
<path d="M70.4 64V79M201.2 64V79" stroke="#a1db6a" stroke-width="2.1" fill="none"/>
<path d="M114.7 64V79" stroke="#a1db6a" stroke-width="1.6" fill="none"/>
<path d="M46.3 64V79" stroke="#a7de6a" stroke-width="3.1" fill="none"/>
<path d="M89.1 64V79" stroke="#a7de6a" stroke-width="3.4" fill="none"/>
<path d="M94.1 64V79" stroke="#a7de6a" stroke-width="1.5" fill="none"/>
<path d="M106.8 64V79" stroke="#a7de6a" stroke-width="3.3" fill="none"/>
<path d="M302.5 64V79M328.2 64V79" stroke="#a7de6a" stroke-width="1.9" fill="none"/>
<path d="M320.5 64V79" stroke="#a7de6a" stroke-width="1.1" fill="none"/>
<path d="M100.4 64V79" stroke="#aee269" stroke-width="2.6" fill="none"/>
<path d="M121.6 64V79" stroke="#aee269" stroke-width="3.2" fill="none"/>
<path d="M213.6 64V79" stroke="#aee269" stroke-width="3.3" fill="none"/>
<path d="M268 64V79M289.1 64V79" stroke="#aee269" stroke-width="3.5" fill="none"/>
<path d="M283.2 64V79" stroke="#aee269" stroke-width="2.1" fill="none"/>
<path d="M143.9 64V79" stroke="#b4e569" stroke-width="3.1" fill="none"/>
<path d="M174.8 64V79" stroke="#b4e569" stroke-width="3.4" fill="none"/>
<path d="M181 64V79" stroke="#bfeb6a" stroke-width="1.6" fill="none"/>
</g>
<mask id="mC1a" maskUnits="userSpaceOnUse" x="30" y="300" width="310" height="78"><rect x="30" y="302" width="310" height="74" fill="url(#fadeV)"/></mask>
<g mask="url(#mC1a)" filter="url(#bl)">
<path d="M127.5 302V376" stroke="#3a8d6c" stroke-width="3.1" fill="none"/>
<path d="M244 302V376" stroke="#3a8d6c" stroke-width="1.2" fill="none"/>
<path d="M277.6 302V376" stroke="#3a8d6c" stroke-width="1.1" fill="none"/>
<path d="M41.3 302V376" stroke="#3d906c" stroke-width="3.1" fill="none"/>
<path d="M91.2 302V376" stroke="#3f936d" stroke-width="2.4" fill="none"/>
<path d="M153.2 302V376" stroke="#3f936d" stroke-width="1.7" fill="none"/>
<path d="M195 302V376M225 302V376" stroke="#3f936d" stroke-width="3.4" fill="none"/>
<path d="M200.7 302V376" stroke="#3f936d" stroke-width="2" fill="none"/>
<path d="M205.9 302V376" stroke="#3f936d" stroke-width="3.2" fill="none"/>
<path d="M260 302V376" stroke="#3f936d" stroke-width="2.2" fill="none"/>
<path d="M327.4 302V376" stroke="#3f936d" stroke-width="1.8" fill="none"/>
<path d="M46.5 302V376M117.3 302V376" stroke="#42966d" stroke-width="3.1" fill="none"/>
<path d="M97.8 302V376" stroke="#42966d" stroke-width="3" fill="none"/>
<path d="M233.2 302V376" stroke="#42966d" stroke-width="1.3" fill="none"/>
<path d="M290.1 302V376" stroke="#42966d" stroke-width="2.1" fill="none"/>
<path d="M303.7 302V376" stroke="#42966d" stroke-width="1.5" fill="none"/>
<path d="M323.2 302V376" stroke="#42966d" stroke-width="2.9" fill="none"/>
<path d="M325.6 302V376" stroke="#42966d" stroke-width="1.9" fill="none"/>
<path d="M329.2 302V376" stroke="#42966d" stroke-width="2" fill="none"/>
<path d="M56.5 302V376" stroke="#44986d" stroke-width="1.6" fill="none"/>
<path d="M81.4 302V376M276.4 302V376" stroke="#44986d" stroke-width="1.4" fill="none"/>
<path d="M89.1 302V376" stroke="#44986d" stroke-width="1.8" fill="none"/>
<path d="M108.7 302V376" stroke="#44986d" stroke-width="2.6" fill="none"/>
<path d="M143.3 302V376M252.3 302V376" stroke="#44986d" stroke-width="2.8" fill="none"/>
<path d="M220.9 302V376" stroke="#44986d" stroke-width="2.3" fill="none"/>
<path d="M254.6 302V376" stroke="#44986d" stroke-width="2" fill="none"/>
<path d="M305.2 302V376" stroke="#44986d" stroke-width="1.7" fill="none"/>
<path d="M49.5 302V376M298.2 302V376" stroke="#479b6d" stroke-width="3.1" fill="none"/>
<path d="M54.2 302V376M86.7 302V376M274.3 302V376" stroke="#479b6d" stroke-width="3" fill="none"/>
<path d="M64.1 302V376M218.7 302V376" stroke="#479b6d" stroke-width="2.1" fill="none"/>
<path d="M140.8 302V376M186.8 302V376" stroke="#479b6d" stroke-width="2.3" fill="none"/>
<path d="M203 302V376" stroke="#479b6d" stroke-width="2.7" fill="none"/>
<path d="M210.4 302V376M248.3 302V376" stroke="#479b6d" stroke-width="1.3" fill="none"/>
<path d="M236.8 302V376M238.6 302V376" stroke="#479b6d" stroke-width="1.8" fill="none"/>
<path d="M285.8 302V376" stroke="#479b6d" stroke-width="3.4" fill="none"/>
<path d="M313.3 302V376" stroke="#479b6d" stroke-width="1.5" fill="none"/>
<path d="M66.5 302V376M132.7 302V376" stroke="#499e6e" stroke-width="2.7" fill="none"/>
<path d="M74.1 302V376" stroke="#499e6e" stroke-width="1.7" fill="none"/>
<path d="M79.5 302V376M176.4 302V376M231.3 302V376" stroke="#499e6e" stroke-width="2.6" fill="none"/>
<path d="M83 302V376" stroke="#499e6e" stroke-width="2" fill="none"/>
<path d="M146.3 302V376" stroke="#499e6e" stroke-width="3.5" fill="none"/>
<path d="M168.6 302V376" stroke="#499e6e" stroke-width="2.5" fill="none"/>
<path d="M174.2 302V376M216.7 302V376" stroke="#499e6e" stroke-width="1.9" fill="none"/>
<path d="M198.2 302V376" stroke="#499e6e" stroke-width="3.1" fill="none"/>
<path d="M215.1 302V376" stroke="#499e6e" stroke-width="1.3" fill="none"/>
<path d="M245.6 302V376" stroke="#499e6e" stroke-width="2.1" fill="none"/>
<path d="M247.2 302V376" stroke="#499e6e" stroke-width="1.1" fill="none"/>
<path d="M262.5 302V376M265.3 302V376" stroke="#499e6e" stroke-width="2.8" fill="none"/>
<path d="M38.8 302V376M159.9 302V376" stroke="#4ca16e" stroke-width="2.1" fill="none"/>
<path d="M71.9 302V376" stroke="#4ca16e" stroke-width="2.8" fill="none"/>
<path d="M150.9 302V376" stroke="#4ca16e" stroke-width="3.1" fill="none"/>
<path d="M178.7 302V376M180.8 302V376M234.9 302V376M256.7 302V376M320.7 302V376" stroke="#4ca16e" stroke-width="2.2" fill="none"/>
<path d="M279 302V376" stroke="#4ca16e" stroke-width="1.7" fill="none"/>
<path d="M69.1 302V376M307.4 302V376" stroke="#50a56e" stroke-width="2.8" fill="none"/>
<path d="M84.6 302V376M148.7 302V376" stroke="#50a56e" stroke-width="1.3" fill="none"/>
<path d="M103.2 302V376" stroke="#50a56e" stroke-width="1.5" fill="none"/>
<path d="M119.8 302V376" stroke="#50a56e" stroke-width="2" fill="none"/>
<path d="M122.5 302V376" stroke="#50a56e" stroke-width="3.5" fill="none"/>
<path d="M125.1 302V376" stroke="#50a56e" stroke-width="1.8" fill="none"/>
<path d="M130.2 302V376" stroke="#50a56e" stroke-width="2.5" fill="none"/>
<path d="M138.1 302V376" stroke="#50a56e" stroke-width="3.3" fill="none"/>
<path d="M161.6 302V376" stroke="#50a56e" stroke-width="1.4" fill="none"/>
<path d="M166.1 302V376" stroke="#50a56e" stroke-width="2.7" fill="none"/>
<path d="M182.9 302V376M318.6 302V376" stroke="#50a56e" stroke-width="2.1" fill="none"/>
<path d="M208.7 302V376" stroke="#50a56e" stroke-width="2.3" fill="none"/>
<path d="M51.9 302V376" stroke="#54a96e" stroke-width="1.7" fill="none"/>
<path d="M58.6 302V376" stroke="#54a96e" stroke-width="2.6" fill="none"/>
<path d="M95.4 302V376" stroke="#54a96e" stroke-width="2" fill="none"/>
<path d="M100.9 302V376" stroke="#54a96e" stroke-width="3.2" fill="none"/>
<path d="M163.5 302V376" stroke="#54a96e" stroke-width="2.5" fill="none"/>
<path d="M189.3 302V376" stroke="#54a96e" stroke-width="2.8" fill="none"/>
<path d="M242.4 302V376" stroke="#54a96e" stroke-width="2.3" fill="none"/>
<path d="M267.7 302V376" stroke="#54a96e" stroke-width="2.2" fill="none"/>
<path d="M283.1 302V376" stroke="#54a96e" stroke-width="2.1" fill="none"/>
<path d="M295 302V376" stroke="#54a96e" stroke-width="3.3" fill="none"/>
<path d="M37.1 302V376M222.6 302V376" stroke="#58ac6e" stroke-width="1.3" fill="none"/>
<path d="M43.9 302V376" stroke="#58ac6e" stroke-width="2.1" fill="none"/>
<path d="M61.4 302V376" stroke="#58ac6e" stroke-width="3.3" fill="none"/>
<path d="M114.6 302V376" stroke="#58ac6e" stroke-width="2.4" fill="none"/>
<path d="M135.3 302V376M271.6 302V376" stroke="#58ac6e" stroke-width="2.5" fill="none"/>
<path d="M157.4 302V376" stroke="#58ac6e" stroke-width="3" fill="none"/>
<path d="M192 302V376" stroke="#58ac6e" stroke-width="2.7" fill="none"/>
<path d="M212.7 302V376" stroke="#58ac6e" stroke-width="3.5" fill="none"/>
<path d="M280.9 302V376" stroke="#58ac6e" stroke-width="2.3" fill="none"/>
<path d="M312 302V376" stroke="#58ac6e" stroke-width="1.2" fill="none"/>
<path d="M105.7 302V376M111.7 302V376" stroke="#5bb06e" stroke-width="3.5" fill="none"/>
<path d="M171.6 302V376M228.3 302V376" stroke="#5bb06e" stroke-width="3.4" fill="none"/>
<path d="M240.4 302V376" stroke="#5bb06e" stroke-width="1.8" fill="none"/>
<path d="M258.3 302V376" stroke="#5bb06e" stroke-width="1.3" fill="none"/>
<path d="M292.3 302V376" stroke="#5bb06e" stroke-width="2.3" fill="none"/>
<path d="M301.3 302V376" stroke="#5bb06e" stroke-width="3.3" fill="none"/>
<path d="M155 302V376" stroke="#5fb46e" stroke-width="2" fill="none"/>
<path d="M249.9 302V376" stroke="#5fb46e" stroke-width="2.1" fill="none"/>
<path d="M288.3 302V376" stroke="#5fb46e" stroke-width="1.6" fill="none"/>
<path d="M76.5 302V376" stroke="#63b86e" stroke-width="3.4" fill="none"/>
<path d="M310.1 302V376" stroke="#63b86e" stroke-width="2.7" fill="none"/>
<path d="M315.1 302V376" stroke="#63b86e" stroke-width="2.1" fill="none"/>
<path d="M93.4 302V376" stroke="#68bb6e" stroke-width="2.1" fill="none"/>
<path d="M269.6 302V376" stroke="#6dbe6d" stroke-width="1.6" fill="none"/>
<path d="M316.8 302V376" stroke="#72c16d" stroke-width="1.6" fill="none"/>
<path d="M184.8 302V376" stroke="#82ca6c" stroke-width="1.8" fill="none"/>
</g>
<mask id="mC2a" maskUnits="userSpaceOnUse" x="30" y="321" width="310" height="36"><rect x="30" y="323" width="310" height="32" fill="url(#fadeV)"/></mask>
<g mask="url(#mC2a)" filter="url(#bl)">
<path d="M91.4 323V355" stroke="#3d906c" stroke-width="2.7" fill="none"/>
<path d="M66.5 323V355" stroke="#3f936d" stroke-width="3.1" fill="none"/>
<path d="M123 323V355" stroke="#479b6d" stroke-width="1.7" fill="none"/>
<path d="M273.7 323V355" stroke="#479b6d" stroke-width="3.1" fill="none"/>
<path d="M57.3 323V355" stroke="#499e6e" stroke-width="1.7" fill="none"/>
<path d="M138.1 323V355" stroke="#499e6e" stroke-width="3.1" fill="none"/>
<path d="M105.5 323V355" stroke="#4ca16e" stroke-width="2.8" fill="none"/>
<path d="M160.8 323V355" stroke="#4ca16e" stroke-width="1.1" fill="none"/>
<path d="M268 323V355" stroke="#4ca16e" stroke-width="2" fill="none"/>
<path d="M37.6 323V355" stroke="#50a56e" stroke-width="2.2" fill="none"/>
<path d="M177.7 323V355M263.9 323V355" stroke="#54a96e" stroke-width="3.2" fill="none"/>
<path d="M266.3 323V355" stroke="#54a96e" stroke-width="1.7" fill="none"/>
<path d="M313 323V355" stroke="#54a96e" stroke-width="1.5" fill="none"/>
<path d="M143.1 323V355" stroke="#58ac6e" stroke-width="2.3" fill="none"/>
<path d="M145.4 323V355" stroke="#58ac6e" stroke-width="2.5" fill="none"/>
<path d="M222.4 323V355" stroke="#58ac6e" stroke-width="2.9" fill="none"/>
<path d="M298.6 323V355" stroke="#58ac6e" stroke-width="2.6" fill="none"/>
<path d="M328.2 323V355" stroke="#58ac6e" stroke-width="3.5" fill="none"/>
<path d="M47.6 323V355" stroke="#5bb06e" stroke-width="1.4" fill="none"/>
<path d="M171.7 323V355M245.8 323V355" stroke="#5bb06e" stroke-width="1.9" fill="none"/>
<path d="M174.4 323V355" stroke="#5bb06e" stroke-width="3.5" fill="none"/>
<path d="M209.5 323V355" stroke="#5bb06e" stroke-width="2.7" fill="none"/>
<path d="M224.7 323V355" stroke="#5bb06e" stroke-width="2" fill="none"/>
<path d="M301.1 323V355" stroke="#5bb06e" stroke-width="2.6" fill="none"/>
<path d="M42.5 323V355" stroke="#5fb46e" stroke-width="1.3" fill="none"/>
<path d="M49.4 323V355" stroke="#5fb46e" stroke-width="2.1" fill="none"/>
<path d="M69.4 323V355" stroke="#5fb46e" stroke-width="2.7" fill="none"/>
<path d="M103 323V355" stroke="#5fb46e" stroke-width="2.3" fill="none"/>
<path d="M169.9 323V355" stroke="#5fb46e" stroke-width="1.9" fill="none"/>
<path d="M190.9 323V355" stroke="#5fb46e" stroke-width="1.8" fill="none"/>
<path d="M252.4 323V355" stroke="#5fb46e" stroke-width="3.4" fill="none"/>
<path d="M281.1 323V355" stroke="#5fb46e" stroke-width="2.4" fill="none"/>
<path d="M296.1 323V355" stroke="#5fb46e" stroke-width="2.5" fill="none"/>
<path d="M97.4 323V355M271.4 323V355" stroke="#63b86e" stroke-width="1.7" fill="none"/>
<path d="M100.8 323V355" stroke="#63b86e" stroke-width="2.1" fill="none"/>
<path d="M108.1 323V355" stroke="#63b86e" stroke-width="2.5" fill="none"/>
<path d="M150.4 323V355" stroke="#63b86e" stroke-width="1.2" fill="none"/>
<path d="M255 323V355" stroke="#63b86e" stroke-width="1.9" fill="none"/>
<path d="M43.9 323V355M307.7 323V355" stroke="#68bb6e" stroke-width="1.7" fill="none"/>
<path d="M81.2 323V355" stroke="#68bb6e" stroke-width="1.2" fill="none"/>
<path d="M99 323V355" stroke="#68bb6e" stroke-width="1.5" fill="none"/>
<path d="M133 323V355" stroke="#68bb6e" stroke-width="3.1" fill="none"/>
<path d="M159.1 323V355M249.5 323V355" stroke="#68bb6e" stroke-width="2.5" fill="none"/>
<path d="M184.4 323V355M216.4 323V355" stroke="#68bb6e" stroke-width="1.3" fill="none"/>
<path d="M237.9 323V355" stroke="#68bb6e" stroke-width="3.4" fill="none"/>
<path d="M244.2 323V355" stroke="#68bb6e" stroke-width="1.6" fill="none"/>
<path d="M40.3 323V355" stroke="#6dbe6d" stroke-width="3.2" fill="none"/>
<path d="M64.1 323V355" stroke="#6dbe6d" stroke-width="2" fill="none"/>
<path d="M78.9 323V355" stroke="#6dbe6d" stroke-width="3.5" fill="none"/>
<path d="M96 323V355" stroke="#6dbe6d" stroke-width="1.2" fill="none"/>
<path d="M200.8 323V355" stroke="#6dbe6d" stroke-width="1.7" fill="none"/>
<path d="M203.3 323V355" stroke="#6dbe6d" stroke-width="3.3" fill="none"/>
<path d="M291.6 323V355" stroke="#6dbe6d" stroke-width="2.2" fill="none"/>
<path d="M324.8 323V355" stroke="#6dbe6d" stroke-width="3.4" fill="none"/>
<path d="M94.1 323V355" stroke="#72c16d" stroke-width="2.7" fill="none"/>
<path d="M115.1 323V355" stroke="#72c16d" stroke-width="2.4" fill="none"/>
<path d="M154.9 323V355" stroke="#72c16d" stroke-width="1.1" fill="none"/>
<path d="M167.9 323V355" stroke="#72c16d" stroke-width="2.1" fill="none"/>
<path d="M179.9 323V355M195 323V355" stroke="#72c16d" stroke-width="1.3" fill="none"/>
<path d="M217.8 323V355" stroke="#72c16d" stroke-width="1.6" fill="none"/>
<path d="M258.8 323V355" stroke="#72c16d" stroke-width="1.4" fill="none"/>
<path d="M51.5 323V355" stroke="#77c46d" stroke-width="2.2" fill="none"/>
<path d="M124.7 323V355" stroke="#77c46d" stroke-width="1.9" fill="none"/>
<path d="M126.4 323V355" stroke="#77c46d" stroke-width="1.7" fill="none"/>
<path d="M165.8 323V355" stroke="#77c46d" stroke-width="2.1" fill="none"/>
<path d="M269.8 323V355" stroke="#77c46d" stroke-width="1.6" fill="none"/>
<path d="M279 323V355" stroke="#77c46d" stroke-width="1.8" fill="none"/>
<path d="M305.3 323V355" stroke="#77c46d" stroke-width="3.1" fill="none"/>
<path d="M71.7 323V355" stroke="#7dc76d" stroke-width="2" fill="none"/>
<path d="M156.7 323V355" stroke="#7dc76d" stroke-width="2.5" fill="none"/>
<path d="M229.7 323V355" stroke="#7dc76d" stroke-width="1.5" fill="none"/>
<path d="M235.1 323V355" stroke="#7dc76d" stroke-width="2.3" fill="none"/>
<path d="M260.9 323V355" stroke="#7dc76d" stroke-width="2.9" fill="none"/>
<path d="M303.1 323V355" stroke="#7dc76d" stroke-width="1.4" fill="none"/>
<path d="M319.4 323V355" stroke="#7dc76d" stroke-width="2.7" fill="none"/>
<path d="M45.9 323V355M188.9 323V355M309.6 323V355" stroke="#82ca6c" stroke-width="2.3" fill="none"/>
<path d="M61.5 323V355" stroke="#82ca6c" stroke-width="3.2" fill="none"/>
<path d="M83.4 323V355" stroke="#82ca6c" stroke-width="3.4" fill="none"/>
<path d="M86.4 323V355" stroke="#82ca6c" stroke-width="2.7" fill="none"/>
<path d="M110.4 323V355" stroke="#82ca6c" stroke-width="2.2" fill="none"/>
<path d="M186.4 323V355" stroke="#82ca6c" stroke-width="2.8" fill="none"/>
<path d="M231.3 323V355" stroke="#82ca6c" stroke-width="1.7" fill="none"/>
<path d="M247.5 323V355" stroke="#82ca6c" stroke-width="1.6" fill="none"/>
<path d="M284.3 323V355" stroke="#82ca6c" stroke-width="1.4" fill="none"/>
<path d="M286.2 323V355" stroke="#82ca6c" stroke-width="2.4" fill="none"/>
<path d="M59.1 323V355" stroke="#87cd6c" stroke-width="1.9" fill="none"/>
<path d="M128.6 323V355" stroke="#87cd6c" stroke-width="2.7" fill="none"/>
<path d="M140.8 323V355" stroke="#87cd6c" stroke-width="2.3" fill="none"/>
<path d="M152.7 323V355" stroke="#87cd6c" stroke-width="3.4" fill="none"/>
<path d="M193.1 323V355" stroke="#87cd6c" stroke-width="2.6" fill="none"/>
<path d="M242.7 323V355" stroke="#87cd6c" stroke-width="1.4" fill="none"/>
<path d="M314.5 323V355" stroke="#87cd6c" stroke-width="1.8" fill="none"/>
<path d="M322 323V355" stroke="#87cd6c" stroke-width="2.4" fill="none"/>
<path d="M55.6 323V355" stroke="#8dd06c" stroke-width="1.9" fill="none"/>
<path d="M148.3 323V355M227.3 323V355" stroke="#8dd06c" stroke-width="3.3" fill="none"/>
<path d="M219.7 323V355" stroke="#8dd06c" stroke-width="2.5" fill="none"/>
<path d="M293.8 323V355" stroke="#8dd06c" stroke-width="2.2" fill="none"/>
<path d="M76.2 323V355" stroke="#94d46b" stroke-width="2" fill="none"/>
<path d="M135.5 323V355" stroke="#94d46b" stroke-width="2.2" fill="none"/>
<path d="M240.8 323V355" stroke="#94d46b" stroke-width="2.5" fill="none"/>
<path d="M283 323V355" stroke="#94d46b" stroke-width="1.4" fill="none"/>
<path d="M316.7 323V355" stroke="#94d46b" stroke-width="2.8" fill="none"/>
<path d="M112.7 323V355" stroke="#9ad76b" stroke-width="2.6" fill="none"/>
<path d="M130.7 323V355" stroke="#9ad76b" stroke-width="1.5" fill="none"/>
<path d="M162.1 323V355" stroke="#9ad76b" stroke-width="1.7" fill="none"/>
<path d="M182.1 323V355" stroke="#9ad76b" stroke-width="3.3" fill="none"/>
<path d="M311.5 323V355" stroke="#9ad76b" stroke-width="1.6" fill="none"/>
<path d="M88.9 323V355" stroke="#a1db6a" stroke-width="2.4" fill="none"/>
<path d="M163.9 323V355" stroke="#a1db6a" stroke-width="1.9" fill="none"/>
<path d="M198.7 323V355" stroke="#a1db6a" stroke-width="2.5" fill="none"/>
<path d="M214.2 323V355" stroke="#a1db6a" stroke-width="3.3" fill="none"/>
<path d="M257 323V355" stroke="#a1db6a" stroke-width="2.3" fill="none"/>
<path d="M120.8 323V355" stroke="#a7de6a" stroke-width="2.7" fill="none"/>
<path d="M196.6 323V355" stroke="#a7de6a" stroke-width="1.9" fill="none"/>
<path d="M289 323V355" stroke="#a7de6a" stroke-width="3.2" fill="none"/>
<path d="M74 323V355" stroke="#aee269" stroke-width="2.6" fill="none"/>
<path d="M117.9 323V355" stroke="#aee269" stroke-width="3.2" fill="none"/>
<path d="M206.6 323V355" stroke="#aee269" stroke-width="3.3" fill="none"/>
<path d="M211.7 323V355" stroke="#b4e569" stroke-width="1.7" fill="none"/>
<path d="M276.7 323V355" stroke="#bfeb6a" stroke-width="2.9" fill="none"/>
<path d="M53.6 323V355" stroke="#c4ee6a" stroke-width="2.1" fill="none"/>
<path d="M233 323V355" stroke="#caf16b" stroke-width="1.9" fill="none"/>
</g>
<g filter="url(#bl)">
<path d="M298.6 121.6H307.9M307.9 121.6H316.9M316.9 121.6H324.2M324.2 121.6H329.5M80.8 134.7H85.5M127 134.7H135M135 134.7H142M177.7 134.7H183.7M183.7 134.7H188.7M191.7 134.7H197.1M214.4 134.7H222.4M267.8 134.7H275.5M283.1 134.7H288.6M302.3 134.7H305.5M313.6 134.7H321.9M36.5 170.4H41.7M45.1 170.4H52.4M52.4 170.4H61.1M69 170.4H72.5M72.5 170.4H76M76 170.4H79.9M79.9 170.4H89.9M89.9 170.4H97M97 170.4H106.8M106.8 170.4H114.6M114.6 170.4H119.7M119.7 170.4H123M123 170.4H131.3M131.3 170.4H140.5M147.7 170.4H152.3M152.3 170.4H161.9M161.9 170.4H170.5M170.5 170.4H175.4M175.4 170.4H183.7M183.7 170.4H193.6M193.6 170.4H197M197 170.4H200.5M200.5 170.4H205.7M205.7 170.4H210.4M210.4 170.4H216.8M216.8 170.4H224M224 170.4H227.5M227.5 170.4H233M233 170.4H242.4M242.4 170.4H249.6M249.6 170.4H259.1M259.1 170.4H266.4M266.4 170.4H271M271 170.4H274.7M274.7 170.4H284M284 170.4H288.2M288.2 170.4H291.9M291.9 170.4H300.9M300.9 170.4H306.3M306.3 170.4H313.8M313.8 170.4H318.4M318.4 170.4H327.1M327.1 170.4H329.5M273.3 207.4H277.3M282.5 207.4H287.7M309.5 207.4H315.9M315.9 207.4H321.2M321.2 207.4H329.5M43 236.4H52M70.5 236.4H76.9M84.6 236.4H93.3M93.3 236.4H101M101 236.4H106.4M109.9 236.4H119.6M119.6 236.4H125.9M136.3 236.4H145.5M145.5 236.4H154.4M154.4 236.4H163.4M163.4 236.4H171.1M171.1 236.4H179.2M179.2 236.4H185.5M185.5 236.4H189.4M189.4 236.4H193.7M193.7 236.4H197.8M197.8 236.4H207.5M207.5 236.4H210.8M210.8 236.4H217.1M217.1 236.4H221.1M221.1 236.4H230.6M230.6 236.4H239.9M239.9 236.4H247.7M247.7 236.4H255.3M255.3 236.4H259.4M259.4 236.4H263.1M263.1 236.4H268.8M268.8 236.4H277.9M277.9 236.4H282M282 236.4H291.4M291.4 236.4H294.6M294.6 236.4H302M302 236.4H306.3M306.3 236.4H313M313 236.4H318.5M318.5 236.4H322.9M322.9 236.4H327.4M327.4 236.4H329.5M196.3 251.6H205.1M205.1 251.6H209.4M216.8 251.6H223.1M223.1 251.6H231.2M231.2 251.6H234.6M234.6 251.6H244.5M244.5 251.6H251.9M258.9 251.6H267.3M267.3 251.6H273.5M273.5 251.6H277.6M277.6 251.6H283.7M283.7 251.6H290.3M290.3 251.6H298.4M298.4 251.6H303M303 251.6H306.4M306.4 251.6H314.7M314.7 251.6H318.7M318.7 251.6H327.6M327.6 251.6H329.5M179.2 258.2H186.6M186.6 258.2H194M194 258.2H201.9M223.6 258.2H230.8M230.8 258.2H240.3M240.3 258.2H243.5M251.6 258.2H254.8M254.8 258.2H262.7M262.7 258.2H268.4M268.4 258.2H271.8M271.8 258.2H277.8M277.8 258.2H284.2M284.2 258.2H293.3M293.3 258.2H299M299 258.2H305.5M305.5 258.2H314.7M314.7 258.2H320.2M320.2 258.2H326.1M326.1 258.2H329.5M132.5 302.5H142.2M142.2 302.5H147.6M165.8 302.5H170.6M170.6 302.5H175.3M205.2 302.5H209.4M214.8 302.5H218.7M218.7 302.5H221.9M231 302.5H235.5M253.9 302.5H260.9M260.9 302.5H267.8M267.8 302.5H273.9M273.9 302.5H283.8M301 302.5H305.1M305.1 302.5H311.7M311.7 302.5H319.1M319.1 302.5H327.9M327.9 302.5H329.5M221.3 437.9H229.2M229.2 437.9H236.8M328.3 437.9H329.5M40.3 454H48.1M63.7 454H73.4M73.4 454H77.4M77.4 454H84.9M89.7 454H95.1M95.1 454H100.6M108.9 454H117.8M122.9 454H130.4M130.4 454H135M135 454H142.5M142.5 454H146.2M150.6 454H157.3M157.3 454H160.6M160.6 454H163.7M163.7 454H168.8M168.8 454H172.9M182.8 454H186.1M186.1 454H192.7M202.6 454H211.8M218.4 454H222.9M222.9 454H229.8M229.8 454H233.3M237.5 454H242.7M242.7 454H252.4M252.4 454H258.8M258.8 454H263.3M263.3 454H270.3M270.3 454H275.3M275.3 454H278.4M278.4 454H281.7M281.7 454H291.7M291.7 454H298.1M298.1 454H303.7M303.7 454H311.6M311.6 454H317M317 454H325.9M325.9 454H329.5" stroke="#3d906c" stroke-width="2.4" fill="none"/>
<path d="M299 258.2H305.5M320.2 258.2H326.1" stroke="#3d906c" stroke-width="1" fill="none"/>
<path d="M41.6 8.9H48.1M93 8.9H99M99 8.9H102.1M129.4 8.9H132.8M136 8.9H144.1M158.6 8.9H166.9M166.9 8.9H176.6M176.6 8.9H183.2M183.2 8.9H189.8M189.8 8.9H193.1M193.1 8.9H201.6M201.6 8.9H208.4M208.4 8.9H214.3M221.6 8.9H230.9M230.9 8.9H240.9M240.9 8.9H245.8M245.8 8.9H249.3M253.1 8.9H261M266.6 8.9H271.4M274.6 8.9H281.6M296.1 8.9H301.1M301.1 8.9H306.1M306.1 8.9H313.1M322.1 8.9H329.5M134.6 25.2H138.6M144.8 25.2H153.8M153.8 25.2H159.1M183.5 25.2H192.7M223.2 25.2H231.9M231.9 25.2H236.9M245.1 25.2H252.7M264.3 25.2H273.4M273.4 25.2H282.5M282.5 25.2H289.5M289.5 25.2H295.5M295.5 25.2H300.3M300.3 25.2H305.9M305.9 25.2H309.3M309.3 25.2H312.4M321.6 25.2H329.5M40.3 57.2H44.6M89.4 57.2H95.4M104.6 57.2H112.2M112.2 57.2H119.7M222.5 57.2H225.7M228.9 57.2H236.5M250.6 57.2H260.2M260.2 57.2H267.1M272.3 57.2H275.9M275.9 57.2H280.3M280.3 57.2H289.8M302.1 57.2H306.6M306.6 57.2H312.3M327.5 87.4H329.5M202.2 90.3H210.9M249.4 121.6H258.7M264 121.6H269.6M269.6 121.6H275.6M275.6 121.6H281.8M281.8 121.6H288.8M288.8 121.6H298.6M36.5 134.7H44.9M44.9 134.7H51M51 134.7H54.7M54.7 134.7H58.4M58.4 134.7H63.9M63.9 134.7H67.4M67.4 134.7H76.3M76.3 134.7H80.8M85.5 134.7H90.4M90.4 134.7H96.8M96.8 134.7H101.8M101.8 134.7H107M107 134.7H114.4M114.4 134.7H122.1M122.1 134.7H127M142 134.7H151.5M151.5 134.7H160.8M160.8 134.7H168.7M168.7 134.7H172.8M172.8 134.7H177.7M188.7 134.7H191.7M197.1 134.7H202.2M202.2 134.7H206.7M206.7 134.7H214.4M222.4 134.7H227.8M227.8 134.7H232.4M232.4 134.7H238.6M238.6 134.7H243.1M243.1 134.7H251.1M251.1 134.7H259.7M259.7 134.7H267.8M275.5 134.7H283.1M288.6 134.7H298.2M298.2 134.7H302.3M305.5 134.7H309.6M309.6 134.7H313.6M321.9 134.7H327.8M327.8 134.7H329.5M49.7 142H59.1M111.3 142H119.9M141 142H147.5M147.5 142H151M151 142H157.4M166.4 142H173.9M173.9 142H178.9M178.9 142H183.7M183.7 142H189M204.7 142H212.5M219.8 142H223.7M223.7 142H228M228 142H235.1M235.1 142H244.1M244.1 142H250.5M250.5 142H259.8M259.8 142H268.9M268.9 142H276.6M276.6 142H283.4M283.4 142H287.6M287.6 142H291.4M291.4 142H296.5M296.5 142H304.9M304.9 142H310.6M310.6 142H320.1M320.1 142H327.7M327.7 142H329.5M41.7 170.4H45.1M61.1 170.4H69M140.5 170.4H147.7M216.4 207.4H220.7M220.7 207.4H229.4M245.3 207.4H250.2M250.2 207.4H254.4M254.4 207.4H264.2M268.4 207.4H273.3M277.3 207.4H282.5M287.7 207.4H294.9M294.9 207.4H303.3M303.3 207.4H309.5M36.5 236.4H43M52 236.4H60M60 236.4H65.8M65.8 236.4H70.5M76.9 236.4H84.6M106.4 236.4H109.9M125.9 236.4H131.7M131.7 236.4H136.3M45.7 251.6H53.9M53.9 251.6H58.9M58.9 251.6H65.6M65.6 251.6H74.7M74.7 251.6H82.8M87.7 251.6H96.6M96.6 251.6H104.2M104.2 251.6H109.4M109.4 251.6H116.7M116.7 251.6H123.2M123.2 251.6H132.6M132.6 251.6H136.8M136.8 251.6H140.4M140.4 251.6H148.4M148.4 251.6H155M155 251.6H158.5M158.5 251.6H164M164 251.6H168.3M168.3 251.6H175.7M175.7 251.6H179.9M179.9 251.6H188.5M188.5 251.6H196.3M209.4 251.6H216.8M251.9 251.6H258.9M141.8 258.2H150.3M150.3 258.2H157.8M157.8 258.2H163M163 258.2H170.4M170.4 258.2H179.2M201.9 258.2H207.8M207.8 258.2H215.5M215.5 258.2H223.6M243.5 258.2H251.6M241.4 268.3H247.7M41.8 302.5H44.8M44.8 302.5H53.5M65.2 302.5H69.9M69.9 302.5H75.3M84.9 302.5H91.3M91.3 302.5H98.6M98.6 302.5H102.1M102.1 302.5H111.5M111.5 302.5H115.8M115.8 302.5H122M122 302.5H128.4M128.4 302.5H132.5M147.6 302.5H152.1M152.1 302.5H161.7M161.7 302.5H165.8M175.3 302.5H180.2M180.2 302.5H188.2M188.2 302.5H194M194 302.5H199.7M199.7 302.5H205.2M209.4 302.5H214.8M221.9 302.5H231M235.5 302.5H244.3M244.3 302.5H253.9M283.8 302.5H291.3M291.3 302.5H301M43.6 437.9H51M59.6 437.9H67.3M71.4 437.9H76M76 437.9H85.2M85.2 437.9H92.9M92.9 437.9H100.3M100.3 437.9H109M109 437.9H115.7M115.7 437.9H119.9M119.9 437.9H128.1M128.1 437.9H137.6M137.6 437.9H145.7M145.7 437.9H153M153 437.9H158M158 437.9H166.3M166.3 437.9H173.3M173.3 437.9H183.1M183.1 437.9H187.8M187.8 437.9H197.3M197.3 437.9H204.3M204.3 437.9H212.5M212.5 437.9H221.3M236.8 437.9H244.3M244.3 437.9H251.7M251.7 437.9H257.7M257.7 437.9H263.1M263.1 437.9H267.6M267.6 437.9H276.7M276.7 437.9H285.8M285.8 437.9H293.9M301.5 437.9H309.4M309.4 437.9H319.3M319.3 437.9H325.2M325.2 437.9H328.3M36.5 454H40.3M48.1 454H51.4M51.4 454H55.4M55.4 454H63.7M84.9 454H89.7M100.6 454H108.9M117.8 454H122.9M146.2 454H150.6M172.9 454H182.8M192.7 454H202.6M211.8 454H218.4M233.3 454H237.5" stroke="#3f936d" stroke-width="2.4" fill="none"/>
<path d="M307.9 121.6H316.9M316.9 121.6H324.2M324.2 121.6H329.5M147.7 170.4H152.3M205.7 170.4H210.4M224 170.4H227.5M233 170.4H242.4M266.4 170.4H271M271 170.4H274.7M274.7 170.4H284M284 170.4H288.2M288.2 170.4H291.9M306.3 170.4H313.8M313.8 170.4H318.4M318.4 170.4H327.1M327.1 170.4H329.5M207.5 236.4H210.8M221.1 236.4H230.6M239.9 236.4H247.7M259.4 236.4H263.1M263.1 236.4H268.8M291.4 236.4H294.6M294.6 236.4H302M302 236.4H306.3M306.3 236.4H313M313 236.4H318.5M318.5 236.4H322.9M322.9 236.4H327.4M327.4 236.4H329.5M231.2 251.6H234.6M283.7 251.6H290.3M298.4 251.6H303M303 251.6H306.4M306.4 251.6H314.7M314.7 251.6H318.7M318.7 251.6H327.6M240.3 258.2H243.5M262.7 258.2H268.4M268.4 258.2H271.8M284.2 258.2H293.3M293.3 258.2H299M305.5 258.2H314.7M314.7 258.2H320.2M326.1 258.2H329.5M122.9 454H130.4M202.6 454H211.8M218.4 454H222.9M242.7 454H252.4M263.3 454H270.3M275.3 454H278.4M298.1 454H303.7M311.6 454H317M325.9 454H329.5" stroke="#3f936d" stroke-width="1" fill="none"/>
<path d="M36.5 8.9H41.6M48.1 8.9H54.3M54.3 8.9H62.2M62.2 8.9H71.4M71.4 8.9H76.4M76.4 8.9H81.5M81.5 8.9H84.9M84.9 8.9H93M102.1 8.9H111.2M111.2 8.9H118.8M118.8 8.9H124.7M124.7 8.9H129.4M132.8 8.9H136M144.1 8.9H150.6M150.6 8.9H154.8M154.8 8.9H158.6M214.3 8.9H221.6M249.3 8.9H253.1M261 8.9H266.6M271.4 8.9H274.6M281.6 8.9H290.6M290.6 8.9H296.1M313.1 8.9H322.1M249.7 20.6H252.7M271.6 20.6H276.1M291.9 20.6H296.9M46.2 25.2H50.8M50.8 25.2H54.7M78.2 25.2H84.1M93.3 25.2H101.2M101.2 25.2H109.1M109.1 25.2H115.3M115.3 25.2H119.4M119.4 25.2H128.3M128.3 25.2H134.6M138.6 25.2H144.8M166.8 25.2H174.6M178.6 25.2H183.5M202.1 25.2H205.7M205.7 25.2H214.3M214.3 25.2H223.2M236.9 25.2H245.1M252.7 25.2H260.8M260.8 25.2H264.3M312.4 25.2H321.6M36.5 57.2H40.3M44.6 57.2H54M54 57.2H62.4M62.4 57.2H71.3M71.3 57.2H76.6M76.6 57.2H80.6M80.6 57.2H89.4M95.4 57.2H104.6M119.7 57.2H128.5M128.5 57.2H133.6M133.6 57.2H137.4M137.4 57.2H141.3M141.3 57.2H144.6M144.6 57.2H153.1M153.1 57.2H162.9M162.9 57.2H166.3M166.3 57.2H171.3M171.3 57.2H174.4M174.4 57.2H181.6M181.6 57.2H188.5M188.5 57.2H195.7M195.7 57.2H199.1M199.1 57.2H205M205 57.2H214.5M214.5 57.2H217.8M217.8 57.2H222.5M225.7 57.2H228.9M236.5 57.2H245.7M245.7 57.2H250.6M267.1 57.2H272.3M289.8 57.2H295M295 57.2H302.1M312.3 57.2H318.1M318.1 57.2H327.2M327.2 57.2H329.5M36.5 87.4H42.9M228.9 87.4H238.1M255.9 87.4H263.8M276.7 87.4H279.8M284.5 87.4H290.6M49.6 90.3H52.8M71 90.3H79.9M150.4 90.3H158.3M184.4 90.3H189.2M210.9 90.3H220.8M220.8 90.3H226.1M226.1 90.3H235.5M235.5 90.3H239M239 90.3H244.7M254.6 90.3H259.5M275.6 90.3H285.4M285.4 90.3H290.9M298.4 90.3H304.2M313.3 90.3H318.6M318.6 90.3H322.5M322.5 90.3H327M327 90.3H329.5M186.1 121.6H193.7M210.6 121.6H218.5M223.9 121.6H233.7M233.7 121.6H239.6M239.6 121.6H249.4M258.7 121.6H264M36.5 142H43.9M59.1 142H69M78.1 142H85M85 142H93.7M93.7 142H97.6M97.6 142H104.4M104.4 142H111.3M119.9 142H125.3M125.3 142H133.6M133.6 142H141M157.4 142H166.4M189 142H198.7M198.7 142H204.7M212.5 142H219.8M223.8 188.4H229.9M255.7 188.4H258.7M47.9 207.4H57.5M64.7 207.4H74.2M83.8 207.4H89M95.4 207.4H100.9M100.9 207.4H108M134.9 207.4H142.8M142.8 207.4H149.2M149.2 207.4H157.3M166 207.4H169.9M178 207.4H181.3M181.3 207.4H186.6M186.6 207.4H190.3M190.3 207.4H193.4M196.6 207.4H204.8M212.1 207.4H216.4M229.4 207.4H236.7M236.7 207.4H245.3M264.2 207.4H268.4M36.5 251.6H45.7M82.8 251.6H87.7M60.6 258.2H64.5M97.7 258.2H105M105 258.2H110.8M110.8 258.2H118.3M123.5 258.2H128.1M128.1 258.2H131.8M131.8 258.2H135.9M135.9 258.2H141.8M134.9 268.3H142.1M170.8 268.3H177.8M177.8 268.3H182.7M270 268.3H279.4M320 268.3H327M36.5 302.5H41.8M53.5 302.5H61.1M61.1 302.5H65.2M75.3 302.5H84.9M36.5 437.9H43.6M51 437.9H59.6M67.3 437.9H71.4M293.9 437.9H301.5" stroke="#42966d" stroke-width="2.4" fill="none"/>
<path d="M298.6 121.6H307.9M135 134.7H142M177.7 134.7H183.7M191.7 134.7H197.1M214.4 134.7H222.4M267.8 134.7H275.5M283.1 134.7H288.6M302.3 134.7H305.5M313.6 134.7H321.9M36.5 170.4H41.7M45.1 170.4H52.4M52.4 170.4H61.1M69 170.4H72.5M72.5 170.4H76M76 170.4H79.9M79.9 170.4H89.9M97 170.4H106.8M106.8 170.4H114.6M114.6 170.4H119.7M119.7 170.4H123M123 170.4H131.3M131.3 170.4H140.5M152.3 170.4H161.9M161.9 170.4H170.5M170.5 170.4H175.4M175.4 170.4H183.7M183.7 170.4H193.6M193.6 170.4H197M197 170.4H200.5M200.5 170.4H205.7M210.4 170.4H216.8M216.8 170.4H224M227.5 170.4H233M242.4 170.4H249.6M249.6 170.4H259.1M259.1 170.4H266.4M291.9 170.4H300.9M300.9 170.4H306.3M273.3 207.4H277.3M309.5 207.4H315.9M315.9 207.4H321.2M321.2 207.4H329.5M43 236.4H52M70.5 236.4H76.9M84.6 236.4H93.3M93.3 236.4H101M109.9 236.4H119.6M119.6 236.4H125.9M136.3 236.4H145.5M154.4 236.4H163.4M163.4 236.4H171.1M171.1 236.4H179.2M179.2 236.4H185.5M189.4 236.4H193.7M193.7 236.4H197.8M197.8 236.4H207.5M210.8 236.4H217.1M217.1 236.4H221.1M230.6 236.4H239.9M247.7 236.4H255.3M255.3 236.4H259.4M268.8 236.4H277.9M277.9 236.4H282M282 236.4H291.4M196.3 251.6H205.1M205.1 251.6H209.4M223.1 251.6H231.2M234.6 251.6H244.5M244.5 251.6H251.9M258.9 251.6H267.3M267.3 251.6H273.5M273.5 251.6H277.6M277.6 251.6H283.7M290.3 251.6H298.4M327.6 251.6H329.5M179.2 258.2H186.6M186.6 258.2H194M194 258.2H201.9M230.8 258.2H240.3M251.6 258.2H254.8M254.8 258.2H262.7M271.8 258.2H277.8M277.8 258.2H284.2M132.5 302.5H142.2M205.2 302.5H209.4M253.9 302.5H260.9M301 302.5H305.1M305.1 302.5H311.7M311.7 302.5H319.1M319.1 302.5H327.9M327.9 302.5H329.5M328.3 437.9H329.5M40.3 454H48.1M63.7 454H73.4M73.4 454H77.4M77.4 454H84.9M89.7 454H95.1M95.1 454H100.6M130.4 454H135M135 454H142.5M142.5 454H146.2M157.3 454H160.6M163.7 454H168.8M168.8 454H172.9M229.8 454H233.3M237.5 454H242.7M252.4 454H258.8M258.8 454H263.3M270.3 454H275.3M278.4 454H281.7M281.7 454H291.7M291.7 454H298.1M303.7 454H311.6M317 454H325.9" stroke="#42966d" stroke-width="1" fill="none"/>
<path d="M36.5 20.6H45.2M52.2 20.6H56.6M64.9 20.6H69.7M90.3 20.6H96.7M122.3 20.6H126.7M136.7 20.6H143.1M143.1 20.6H147.1M147.1 20.6H154.9M180.9 20.6H189.9M244.2 20.6H249.7M276.1 20.6H282.4M282.4 20.6H288M305.8 20.6H313M313 20.6H319.5M319.5 20.6H326.2M36.5 25.2H42M42 25.2H46.2M54.7 25.2H60.3M60.3 25.2H69.5M69.5 25.2H78.2M84.1 25.2H93.3M159.1 25.2H166.8M174.6 25.2H178.6M192.7 25.2H202.1M42.9 87.4H52.4M52.4 87.4H55.9M55.9 87.4H62M100.2 87.4H107.7M115.6 87.4H123.8M123.8 87.4H130.8M158.9 87.4H167.1M167.1 87.4H174.5M183.6 87.4H190M195.4 87.4H205.1M205.1 87.4H210.3M220 87.4H228.9M247.6 87.4H252.3M252.3 87.4H255.9M263.8 87.4H272.8M272.8 87.4H276.7M279.8 87.4H284.5M298.3 87.4H306.8M319.1 87.4H327.5M44.7 90.3H49.6M57.7 90.3H61.1M79.9 90.3H85.7M85.7 90.3H90.6M96.5 90.3H104.6M125.4 90.3H130.1M130.1 90.3H136.4M136.4 90.3H140.7M140.7 90.3H150.4M158.3 90.3H164.2M164.2 90.3H168.5M168.5 90.3H174.5M174.5 90.3H184.4M189.2 90.3H196.2M196.2 90.3H202.2M244.7 90.3H250.1M250.1 90.3H254.6M259.5 90.3H265.5M265.5 90.3H272.1M272.1 90.3H275.6M290.9 90.3H298.4M304.2 90.3H309.7M309.7 90.3H313.3M40.4 121.6H45.2M93.3 121.6H98.4M120 121.6H123M123 121.6H132.5M148.9 121.6H156M156 121.6H164M182.1 121.6H186.1M198.4 121.6H203.1M218.5 121.6H223.9M43.9 142H49.7M69 142H78.1M229.9 188.4H239.6M239.6 188.4H243.5M264 188.4H269.2M275.6 188.4H283.8M293.5 188.4H298.3M298.3 188.4H304.4M304.4 188.4H309.7M326.3 188.4H329.5M41.6 207.4H47.9M74.2 207.4H78.7M89 207.4H92.3M92.3 207.4H95.4M108 207.4H116.4M116.4 207.4H125.7M125.7 207.4H134.9M157.3 207.4H166M169.9 207.4H178M193.4 207.4H196.6M204.8 207.4H212.1M44.2 258.2H47.9M64.5 258.2H72.3M72.3 258.2H77M77 258.2H85.4M85.4 258.2H90.9M90.9 258.2H97.7M118.3 258.2H123.5M88.1 268.3H94.3M94.3 268.3H101.5M142.1 268.3H149M149 268.3H157.5M163 268.3H170.8M182.7 268.3H191.6M206.5 268.3H210.5M210.5 268.3H214.7M214.7 268.3H222.4M226.8 268.3H230.8M230.8 268.3H236.8M290.9 413.4H299.5M299.5 413.4H305.3M80.8 419.2H85.2M140.7 419.2H145.5M168.3 419.2H176.3M187.3 419.2H191.2M191.2 419.2H195.4M242.1 419.2H249.4M299.6 419.2H304.5M308.3 419.2H315.7" stroke="#44986d" stroke-width="2.4" fill="none"/>
<path d="M223.2 25.2H231.9M275.6 121.6H281.8M281.8 121.6H288.8M288.8 121.6H298.6M36.5 134.7H44.9M51 134.7H54.7M54.7 134.7H58.4M63.9 134.7H67.4M76.3 134.7H80.8M80.8 134.7H85.5M90.4 134.7H96.8M96.8 134.7H101.8M114.4 134.7H122.1M122.1 134.7H127M127 134.7H135M142 134.7H151.5M151.5 134.7H160.8M168.7 134.7H172.8M183.7 134.7H188.7M188.7 134.7H191.7M197.1 134.7H202.2M202.2 134.7H206.7M206.7 134.7H214.4M222.4 134.7H227.8M227.8 134.7H232.4M232.4 134.7H238.6M238.6 134.7H243.1M243.1 134.7H251.1M259.7 134.7H267.8M298.2 134.7H302.3M305.5 134.7H309.6M321.9 134.7H327.8M327.8 134.7H329.5M178.9 142H183.7M204.7 142H212.5M320.1 142H327.7M327.7 142H329.5M41.7 170.4H45.1M61.1 170.4H69M89.9 170.4H97M140.5 170.4H147.7M277.3 207.4H282.5M282.5 207.4H287.7M294.9 207.4H303.3M303.3 207.4H309.5M36.5 236.4H43M60 236.4H65.8M65.8 236.4H70.5M76.9 236.4H84.6M101 236.4H106.4M106.4 236.4H109.9M125.9 236.4H131.7M131.7 236.4H136.3M145.5 236.4H154.4M185.5 236.4H189.4M96.6 251.6H104.2M132.6 251.6H136.8M148.4 251.6H155M155 251.6H158.5M158.5 251.6H164M168.3 251.6H175.7M175.7 251.6H179.9M179.9 251.6H188.5M188.5 251.6H196.3M209.4 251.6H216.8M216.8 251.6H223.1M251.9 251.6H258.9M170.4 258.2H179.2M201.9 258.2H207.8M207.8 258.2H215.5M215.5 258.2H223.6M223.6 258.2H230.8M243.5 258.2H251.6M69.9 302.5H75.3M84.9 302.5H91.3M115.8 302.5H122M142.2 302.5H147.6M165.8 302.5H170.6M170.6 302.5H175.3M175.3 302.5H180.2M180.2 302.5H188.2M188.2 302.5H194M194 302.5H199.7M199.7 302.5H205.2M209.4 302.5H214.8M214.8 302.5H218.7M218.7 302.5H221.9M231 302.5H235.5M235.5 302.5H244.3M260.9 302.5H267.8M267.8 302.5H273.9M273.9 302.5H283.8M283.8 302.5H291.3M291.3 302.5H301M43.6 437.9H51M71.4 437.9H76M85.2 437.9H92.9M187.8 437.9H197.3M204.3 437.9H212.5M212.5 437.9H221.3M221.3 437.9H229.2M229.2 437.9H236.8M236.8 437.9H244.3M244.3 437.9H251.7M257.7 437.9H263.1M263.1 437.9H267.6M276.7 437.9H285.8M285.8 437.9H293.9M309.4 437.9H319.3M325.2 437.9H328.3M36.5 454H40.3M48.1 454H51.4M51.4 454H55.4M55.4 454H63.7M84.9 454H89.7M108.9 454H117.8M117.8 454H122.9M146.2 454H150.6M150.6 454H157.3M160.6 454H163.7M172.9 454H182.8M182.8 454H186.1M186.1 454H192.7M192.7 454H202.6M211.8 454H218.4M222.9 454H229.8M233.3 454H237.5" stroke="#44986d" stroke-width="1" fill="none"/>
<path d="M56 137.6H65.9M300.4 137.6H307.3M240.6 202.8H249.1M162.2 222H169.8M214.7 222H223.7" stroke="#44986d" stroke-width="2.5" fill="none"/>
<path d="M99 8.9H102.1M136 8.9H144.1M158.6 8.9H166.9M166.9 8.9H176.6M183.2 8.9H189.8M201.6 8.9H208.4M221.6 8.9H230.9M230.9 8.9H240.9M266.6 8.9H271.4M296.1 8.9H301.1M301.1 8.9H306.1M306.1 8.9H313.1M153.8 25.2H159.1M183.5 25.2H192.7M231.9 25.2H236.9M245.1 25.2H252.7M282.5 25.2H289.5M309.3 25.2H312.4M89.4 57.2H95.4M250.6 57.2H260.2M260.2 57.2H267.1M280.3 57.2H289.8M269.6 121.6H275.6M44.9 134.7H51M58.4 134.7H63.9M67.4 134.7H76.3M85.5 134.7H90.4M101.8 134.7H107M107 134.7H114.4M160.8 134.7H168.7M172.8 134.7H177.7M251.1 134.7H259.7M275.5 134.7H283.1M288.6 134.7H298.2M309.6 134.7H313.6M151 142H157.4M173.9 142H178.9M183.7 142H189M219.8 142H223.7M223.7 142H228M235.1 142H244.1M250.5 142H259.8M259.8 142H268.9M268.9 142H276.6M287.6 142H291.4M304.9 142H310.6M310.6 142H320.1M220.7 207.4H229.4M250.2 207.4H254.4M254.4 207.4H264.2M287.7 207.4H294.9M52 236.4H60M58.9 251.6H65.6M104.2 251.6H109.4M109.4 251.6H116.7M116.7 251.6H123.2M123.2 251.6H132.6M136.8 251.6H140.4M140.4 251.6H148.4M164 251.6H168.3M150.3 258.2H157.8M157.8 258.2H163M163 258.2H170.4M41.8 302.5H44.8M44.8 302.5H53.5M98.6 302.5H102.1M102.1 302.5H111.5M111.5 302.5H115.8M122 302.5H128.4M128.4 302.5H132.5M147.6 302.5H152.1M152.1 302.5H161.7M221.9 302.5H231M244.3 302.5H253.9M59.6 437.9H67.3M92.9 437.9H100.3M128.1 437.9H137.6M137.6 437.9H145.7M145.7 437.9H153M153 437.9H158M166.3 437.9H173.3M173.3 437.9H183.1M183.1 437.9H187.8M197.3 437.9H204.3M251.7 437.9H257.7M301.5 437.9H309.4M319.3 437.9H325.2M100.6 454H108.9" stroke="#479b6d" stroke-width="1" fill="none"/>
<path d="M45.2 20.6H52.2M60.3 20.6H64.9M69.7 20.6H75.6M83.5 20.6H90.3M96.7 20.6H101.8M101.8 20.6H107.9M111.1 20.6H116.4M116.4 20.6H122.3M126.7 20.6H133.5M154.9 20.6H159.5M159.5 20.6H164.6M173.2 20.6H176.4M176.4 20.6H180.9M189.9 20.6H199.4M199.4 20.6H202.5M211.8 20.6H220.6M220.6 20.6H228.8M228.8 20.6H238.1M238.1 20.6H244.2M252.7 20.6H262M262 20.6H271.6M288 20.6H291.9M296.9 20.6H305.8M326.2 20.6H329.5M70.4 87.4H79.3M79.3 87.4H87.3M87.3 87.4H94.4M94.4 87.4H100.2M107.7 87.4H115.6M130.8 87.4H139.2M139.2 87.4H142.4M142.4 87.4H149.8M149.8 87.4H158.9M174.5 87.4H183.6M190 87.4H195.4M210.3 87.4H220M238.1 87.4H247.6M290.6 87.4H298.3M306.8 87.4H311.7M311.7 87.4H319.1M36.5 90.3H44.7M52.8 90.3H57.7M66.5 90.3H71M90.6 90.3H96.5M104.6 90.3H113.6M113.6 90.3H118.7M45.2 121.6H54.8M85.3 121.6H93.3M106 121.6H114.2M114.2 121.6H120M132.5 121.6H139.8M164 121.6H173.5M173.5 121.6H182.1M193.7 121.6H198.4M203.1 121.6H210.6M36.5 188.4H41.8M55.8 188.4H64.7M64.7 188.4H69.8M69.8 188.4H74M79.5 188.4H88.6M102.8 188.4H111.6M111.6 188.4H119.4M127.7 188.4H133.1M133.1 188.4H137.8M147.2 188.4H153M162.8 188.4H172.5M188.3 188.4H193.8M193.8 188.4H203.4M203.4 188.4H212M212 188.4H220.8M220.8 188.4H223.8M250.1 188.4H255.7M258.7 188.4H264M269.2 188.4H275.6M283.8 188.4H293.5M309.7 188.4H316.5M316.5 188.4H323.3M323.3 188.4H326.3M36.5 207.4H41.6M57.5 207.4H64.7M78.7 207.4H83.8M36.5 258.2H44.2M54.1 258.2H60.6M44.5 268.3H52.3M52.3 268.3H55.3M55.3 268.3H60.7M60.7 268.3H66.4M66.4 268.3H71.8M80.8 268.3H88.1M101.5 268.3H109.4M117 268.3H123.5M127.4 268.3H130.8M130.8 268.3H134.9M157.5 268.3H163M191.6 268.3H199.9M236.8 268.3H241.4M247.7 268.3H253M253 268.3H261M261 268.3H270M279.4 268.3H285.3M285.3 268.3H289.6M295.7 268.3H302.1M305.9 268.3H312.5M312.5 268.3H320M327 268.3H329.5M36.5 413.4H43.2M52.2 413.4H59.1M71.5 413.4H78.4M84 413.4H91M107.9 413.4H114.5M143.3 413.4H152.9M165.6 413.4H173.4M207.1 413.4H216.3M216.3 413.4H224.3M224.3 413.4H227.7M240.3 413.4H249.5M260.4 413.4H265.7M315 413.4H320.6M327 413.4H329.5M61.4 419.2H66.3M97.2 419.2H103.5M116.7 419.2H125.5M125.5 419.2H133.1M152.2 419.2H160.7M176.3 419.2H179.7M179.7 419.2H187.3M220.7 419.2H224.2M249.4 419.2H255.4M255.4 419.2H263.5M263.5 419.2H269.8M275.9 419.2H281.9M281.9 419.2H291M291 419.2H299.6M315.7 419.2H320.2M320.2 419.2H329.2M329.2 419.2H329.5" stroke="#479b6d" stroke-width="2.4" fill="none"/>
<path d="M179.8 137.6H186.2M202.8 202.8H206.8M51.2 222H57.9M93.5 222H98M188.9 222H194.5M318.2 222H328.2M105.4 272.9H110.5M223.1 272.9H228.5M144.2 287.9H149.8M149.8 287.9H158.5M198.5 287.9H205.9M99.5 353.3H107.5M153.5 353.3H161.6M64.2 404.5H70.4M83.2 404.5H91M123.5 404.5H131.5M161.6 404.5H168.2M295.4 404.5H298.5M313.1 404.5H319.2" stroke="#479b6d" stroke-width="2.5" fill="none"/>
<path d="M41.6 8.9H48.1M93 8.9H99M118.8 8.9H124.7M124.7 8.9H129.4M129.4 8.9H132.8M132.8 8.9H136M144.1 8.9H150.6M154.8 8.9H158.6M176.6 8.9H183.2M189.8 8.9H193.1M193.1 8.9H201.6M208.4 8.9H214.3M240.9 8.9H245.8M245.8 8.9H249.3M249.3 8.9H253.1M253.1 8.9H261M261 8.9H266.6M271.4 8.9H274.6M274.6 8.9H281.6M322.1 8.9H329.5M134.6 25.2H138.6M144.8 25.2H153.8M264.3 25.2H273.4M273.4 25.2H282.5M289.5 25.2H295.5M295.5 25.2H300.3M300.3 25.2H305.9M305.9 25.2H309.3M321.6 25.2H329.5M36.5 57.2H40.3M40.3 57.2H44.6M80.6 57.2H89.4M104.6 57.2H112.2M112.2 57.2H119.7M205 57.2H214.5M222.5 57.2H225.7M228.9 57.2H236.5M236.5 57.2H245.7M272.3 57.2H275.9M275.9 57.2H280.3M302.1 57.2H306.6M306.6 57.2H312.3M327.2 57.2H329.5M327.5 87.4H329.5M202.2 90.3H210.9M239 90.3H244.7M298.4 90.3H304.2M313.3 90.3H318.6M249.4 121.6H258.7M264 121.6H269.6M49.7 142H59.1M111.3 142H119.9M141 142H147.5M147.5 142H151M166.4 142H173.9M228 142H235.1M244.1 142H250.5M276.6 142H283.4M283.4 142H287.6M291.4 142H296.5M296.5 142H304.9M223.8 188.4H229.9M212.1 207.4H216.4M216.4 207.4H220.7M236.7 207.4H245.3M245.3 207.4H250.2M264.2 207.4H268.4M268.4 207.4H273.3M45.7 251.6H53.9M53.9 251.6H58.9M65.6 251.6H74.7M74.7 251.6H82.8M82.8 251.6H87.7M87.7 251.6H96.6M135.9 258.2H141.8M141.8 258.2H150.3M241.4 268.3H247.7M61.1 302.5H65.2M65.2 302.5H69.9M75.3 302.5H84.9M91.3 302.5H98.6M161.7 302.5H165.8M51 437.9H59.6M67.3 437.9H71.4M76 437.9H85.2M100.3 437.9H109M109 437.9H115.7M115.7 437.9H119.9M119.9 437.9H128.1M158 437.9H166.3M267.6 437.9H276.7" stroke="#499e6e" stroke-width="1" fill="none"/>
<path d="M56.6 20.6H60.3M107.9 20.6H111.1M133.5 20.6H136.7M164.6 20.6H170.1M170.1 20.6H173.2M202.5 20.6H211.8M62 87.4H70.4M61.1 90.3H66.5M118.7 90.3H125.4M36.5 121.6H40.4M54.8 121.6H63.6M63.6 121.6H70.5M70.5 121.6H75.9M75.9 121.6H85.3M98.4 121.6H106M139.8 121.6H148.9M41.8 188.4H47.7M74 188.4H79.5M88.6 188.4H95.1M95.1 188.4H102.8M119.4 188.4H127.7M137.8 188.4H147.2M153 188.4H162.8M172.5 188.4H179.1M179.1 188.4H188.3M243.5 188.4H250.1M47.9 258.2H54.1M71.8 268.3H80.8M109.4 268.3H117M123.5 268.3H127.4M199.9 268.3H206.5M222.4 268.3H226.8M302.1 268.3H305.9M43.2 413.4H52.2M63.9 413.4H71.5M78.4 413.4H84M91 413.4H98.4M98.4 413.4H107.9M114.5 413.4H120.5M135 413.4H138.2M152.9 413.4H159.8M173.4 413.4H182.1M182.1 413.4H192M192 413.4H200.3M227.7 413.4H231.3M231.3 413.4H240.3M249.5 413.4H254.7M275.6 413.4H282M282 413.4H290.9M305.3 413.4H315M320.6 413.4H327M36.5 419.2H42.1M42.1 419.2H48.5M48.5 419.2H55.4M85.2 419.2H94M94 419.2H97.2M103.5 419.2H111.1M111.1 419.2H116.7M160.7 419.2H168.3M200 419.2H208M208 419.2H215.7M215.7 419.2H220.7M269.8 419.2H275.9M304.5 419.2H308.3" stroke="#499e6e" stroke-width="2.4" fill="none"/>
<path d="M48.4 137.6H56M93.5 137.6H98.5M127.5 137.6H135.9M135.9 137.6H141.6M197.1 137.6H200.8M210.7 137.6H215M243.3 137.6H250.1M257.3 137.6H263.3M273.1 137.6H278.7M285.6 137.6H292.8M307.3 137.6H314.2M44 156H50.6M88.9 156H92.2M104.1 156H107.3M156.6 156H164.8M173.6 156H179.6M265.8 156H272.1M310.9 156H320.1M105.6 202.8H114.7M146.4 202.8H155.3M159.8 202.8H167.2M193.4 202.8H197.5M210.1 202.8H213.8M221.1 202.8H229M229 202.8H235.7M249.1 202.8H258M309.3 202.8H316.9M316.9 202.8H324.6M41.5 222H45.3M65.6 222H70.5M132.3 222H140.5M140.5 222H143.6M262.2 222H265.3M274.3 222H283.9M295.3 222H298.7M59.3 272.9H67.9M110.5 272.9H119.6M164 272.9H172M210.8 272.9H215.4M228.5 272.9H236.2M236.2 272.9H241.9M266 272.9H271.4M289.7 272.9H297.5M312.7 272.9H317.9M46.2 287.9H50.7M57.3 287.9H60.4M80.2 287.9H85.9M158.5 287.9H163.9M171.5 287.9H179.9M179.9 287.9H183.3M238.3 287.9H245.6M253.3 287.9H262.2M312.5 287.9H316.9M316.9 287.9H326.6M78.3 353.3H81.4M117.2 353.3H121.8M196.9 353.3H200.9M223.5 353.3H230.8M238.1 353.3H247.5M247.5 353.3H256.5M256.5 353.3H259.6M282.7 353.3H290.4M310.5 353.3H315.5M315.5 353.3H322.9M54.3 404.5H57.9M91 404.5H100.4M100.4 404.5H105M105 404.5H111.6M116.6 404.5H123.5M139.4 404.5H146.7M153.6 404.5H161.6M204.7 404.5H213.6M232.2 404.5H238.8M238.8 404.5H243M243 404.5H247.2M256.6 404.5H260.2M267.1 404.5H276.4M298.5 404.5H305.5M305.5 404.5H313.1M329.1 404.5H329.5" stroke="#499e6e" stroke-width="2.5" fill="none"/>
<path d="M71.4 8.9H76.4M76.4 8.9H81.5M102.1 8.9H111.2M111.2 8.9H118.8M150.6 8.9H154.8M281.6 8.9H290.6M290.6 8.9H296.1M313.1 8.9H322.1M93.3 25.2H101.2M205.7 25.2H214.3M214.3 25.2H223.2M252.7 25.2H260.8M54 57.2H62.4M71.3 57.2H76.6M95.4 57.2H104.6M133.6 57.2H137.4M137.4 57.2H141.3M144.6 57.2H153.1M153.1 57.2H162.9M166.3 57.2H171.3M171.3 57.2H174.4M181.6 57.2H188.5M188.5 57.2H195.7M199.1 57.2H205M217.8 57.2H222.5M225.7 57.2H228.9M267.1 57.2H272.3M295 57.2H302.1M312.3 57.2H318.1M318.1 57.2H327.2M255.9 87.4H263.8M284.5 87.4H290.6M210.9 90.3H220.8M285.4 90.3H290.9M318.6 90.3H322.5M210.6 121.6H218.5M223.9 121.6H233.7M233.7 121.6H239.6M258.7 121.6H264M97.6 142H104.4M104.4 142H111.3M119.9 142H125.3M125.3 142H133.6M133.6 142H141M157.4 142H166.4M189 142H198.7M198.7 142H204.7M212.5 142H219.8M83.8 207.4H89M100.9 207.4H108M134.9 207.4H142.8M142.8 207.4H149.2M178 207.4H181.3M190.3 207.4H193.4M196.6 207.4H204.8M229.4 207.4H236.7M131.8 258.2H135.9M53.5 302.5H61.1M36.5 437.9H43.6M293.9 437.9H301.5" stroke="#4ca16e" stroke-width="1" fill="none"/>
<path d="M75.6 20.6H83.5M47.7 188.4H55.8M36.5 268.3H44.5M289.6 268.3H295.7M59.1 413.4H63.9M120.5 413.4H127.8M127.8 413.4H135M138.2 413.4H143.3M159.8 413.4H165.6M200.3 413.4H207.1M254.7 413.4H260.4M265.7 413.4H275.6M55.4 419.2H61.4M66.3 419.2H73.9M73.9 419.2H80.8M133.1 419.2H140.7M145.5 419.2H152.2M195.4 419.2H200M224.2 419.2H233.8M233.8 419.2H242.1" stroke="#4ca16e" stroke-width="2.4" fill="none"/>
<path d="M62.1 71.5H65.4M156.8 71.5H166" stroke="#4ca16e" stroke-width="2.7" fill="none"/>
<path d="M77 137.6H84.5M84.5 137.6H93.5M102.9 137.6H112.5M118.6 137.6H127.5M168.6 137.6H175M175 137.6H179.8M186.2 137.6H193.6M215 137.6H222.3M222.3 137.6H230.7M263.3 137.6H273.1M314.2 137.6H321.8M321.8 137.6H328.8M328.8 137.6H329.5M36.5 156H39.8M66.4 156H74.9M92.2 156H96.4M96.4 156H104.1M112.4 156H119.5M128.4 156H136.9M136.9 156H144.3M196.1 156H199.4M220.5 156H223.9M223.9 156H233.7M238.1 156H243.4M243.4 156H251.3M272.1 156H275.6M275.6 156H281.4M286.8 156H295.6M295.6 156H300.3M305 156H310.9M320.1 156H327.9M327.9 156H329.5M47.9 202.8H53.7M101.6 202.8H105.6M138.5 202.8H146.4M167.2 202.8H176.5M185.2 202.8H193.4M197.5 202.8H202.8M235.7 202.8H240.6M258 202.8H267.1M267.1 202.8H277M277 202.8H286.3M286.3 202.8H292M292 202.8H301.7M301.7 202.8H309.3M45.3 222H51.2M70.5 222H77.9M77.9 222H86.7M86.7 222H93.5M115.3 222H118.9M118.9 222H128.2M157.8 222H162.2M179.1 222H183.8M201.1 222H206.5M223.7 222H228.4M228.4 222H237.8M237.8 222H244.2M244.2 222H247.9M247.9 222H257.4M265.3 222H268.4M287 222H295.3M298.7 222H308.5M308.5 222H312.6M312.6 222H318.2M36.5 272.9H46M50.8 272.9H59.3M67.9 272.9H74.8M74.8 272.9H82.4M99.7 272.9H105.4M119.6 272.9H129.3M129.3 272.9H138.2M145.5 272.9H148.6M156.9 272.9H164M179.6 272.9H186.4M186.4 272.9H193.4M193.4 272.9H197.2M201 272.9H205.3M205.3 272.9H210.8M215.4 272.9H223.1M241.9 272.9H247M247 272.9H256.4M271.4 272.9H280.7M297.5 272.9H304.2M317.9 272.9H325.9M68.1 287.9H73.6M73.6 287.9H80.2M85.9 287.9H91.5M97.5 287.9H103.6M136.4 287.9H140.9M140.9 287.9H144.2M163.9 287.9H171.5M190.5 287.9H198.5M205.9 287.9H213.9M213.9 287.9H223.3M223.3 287.9H233.1M233.1 287.9H238.3M245.6 287.9H253.3M262.2 287.9H266.8M270.8 287.9H280.7M280.7 287.9H286.5M290.1 287.9H298.3M305.6 287.9H312.5M326.6 287.9H329.5M49.9 353.3H58.3M68.1 353.3H71.3M71.3 353.3H78.3M88.3 353.3H94.3M121.8 353.3H130.4M138.2 353.3H143.7M143.7 353.3H149.6M215.9 353.3H223.5M259.6 353.3H265.2M271.8 353.3H278.2M290.4 353.3H293.9M293.9 353.3H299.6M299.6 353.3H304.5M70.4 404.5H78.2M78.2 404.5H83.2M111.6 404.5H116.6M146.7 404.5H153.6M172.2 404.5H181.9M181.9 404.5H190.6M190.6 404.5H200.2M200.2 404.5H204.7M213.6 404.5H222.4M276.4 404.5H279.7M291.8 404.5H295.4M324.2 404.5H329.1" stroke="#4ca16e" stroke-width="2.5" fill="none"/>
<path d="M36.5 8.9H41.6M48.1 8.9H54.3M54.3 8.9H62.2M62.2 8.9H71.4M81.5 8.9H84.9M84.9 8.9H93M214.3 8.9H221.6M271.6 20.6H276.1M291.9 20.6H296.9M46.2 25.2H50.8M50.8 25.2H54.7M78.2 25.2H84.1M115.3 25.2H119.4M119.4 25.2H128.3M138.6 25.2H144.8M166.8 25.2H174.6M178.6 25.2H183.5M202.1 25.2H205.7M236.9 25.2H245.1M260.8 25.2H264.3M312.4 25.2H321.6M44.6 57.2H54M62.4 57.2H71.3M76.6 57.2H80.6M119.7 57.2H128.5M128.5 57.2H133.6M141.3 57.2H144.6M162.9 57.2H166.3M174.4 57.2H181.6M195.7 57.2H199.1M245.7 57.2H250.6M289.8 57.2H295M36.5 87.4H42.9M228.9 87.4H238.1M276.7 87.4H279.8M49.6 90.3H52.8M71 90.3H79.9M184.4 90.3H189.2M226.1 90.3H235.5M322.5 90.3H327M327 90.3H329.5M186.1 121.6H193.7M239.6 121.6H249.4M36.5 142H43.9M59.1 142H69M78.1 142H85M85 142H93.7M93.7 142H97.6M166 207.4H169.9M36.5 251.6H45.7M60.6 258.2H64.5M97.7 258.2H105M105 258.2H110.8M110.8 258.2H118.3M123.5 258.2H128.1M128.1 258.2H131.8M134.9 268.3H142.1M177.8 268.3H182.7M36.5 302.5H41.8" stroke="#50a56e" stroke-width="1" fill="none"/>
<path d="M41.5 71.5H46.6M65.4 71.5H75.1M142 71.5H149.4M204.6 71.5H208.2M282 71.5H289.3" stroke="#50a56e" stroke-width="2.7" fill="none"/>
<path d="M39.9 137.6H48.4M65.9 137.6H72.9M72.9 137.6H77M98.5 137.6H102.9M112.5 137.6H118.6M151 137.6H156.9M156.9 137.6H160M160 137.6H168.6M193.6 137.6H197.1M200.8 137.6H210.7M230.7 137.6H235.3M235.3 137.6H243.3M250.1 137.6H254M278.7 137.6H285.6M292.8 137.6H300.4M60.2 156H66.4M74.9 156H78M78 156H83.9M83.9 156H88.9M107.3 156H112.4M149.9 156H156.6M164.8 156H173.6M179.6 156H188.4M199.4 156H206.8M206.8 156H215.8M233.7 156H238.1M251.3 156H254.3M254.3 156H259.8M259.8 156H265.8M40 202.8H47.9M60.5 202.8H65.2M69.1 202.8H72.6M72.6 202.8H81.3M81.3 202.8H89M95 202.8H101.6M155.3 202.8H159.8M206.8 202.8H210.1M213.8 202.8H221.1M324.6 202.8H329.5M36.5 222H41.5M57.9 222H65.6M98 222H102.5M102.5 222H111.5M111.5 222H115.3M143.6 222H147.9M151.6 222H157.8M183.8 222H188.9M194.5 222H201.1M257.4 222H262.2M268.4 222H274.3M328.2 222H329.5M82.4 272.9H91.3M91.3 272.9H99.7M138.2 272.9H145.5M148.6 272.9H156.9M197.2 272.9H201M256.4 272.9H262.5M262.5 272.9H266M304.2 272.9H312.7M50.7 287.9H57.3M91.5 287.9H97.5M103.6 287.9H111.1M111.1 287.9H117M117 287.9H120.1M129.5 287.9H136.4M183.3 287.9H190.5M266.8 287.9H270.8M286.5 287.9H290.1M298.3 287.9H305.6M58.3 353.3H68.1M81.4 353.3H88.3M94.3 353.3H99.5M107.5 353.3H117.2M130.4 353.3H138.2M161.6 353.3H171.1M200.9 353.3H203.9M210.6 353.3H215.9M230.8 353.3H238.1M278.2 353.3H282.7M322.9 353.3H329.5M36.5 404.5H46.3M46.3 404.5H54.3M57.9 404.5H64.2M131.5 404.5H139.4M168.2 404.5H172.2M222.4 404.5H232.2M247.2 404.5H256.6M260.2 404.5H267.1M279.7 404.5H287.4M287.4 404.5H291.8M319.2 404.5H324.2" stroke="#50a56e" stroke-width="2.5" fill="none"/>
<path d="M210.3 338.7H215" stroke="#50a56e" stroke-width="2.9" fill="none"/>
<path d="M36.5 20.6H45.2M52.2 20.6H56.6M180.9 20.6H189.9M249.7 20.6H252.7M36.5 25.2H42M42 25.2H46.2M54.7 25.2H60.3M69.5 25.2H78.2M101.2 25.2H109.1M109.1 25.2H115.3M128.3 25.2H134.6M159.1 25.2H166.8M174.6 25.2H178.6M192.7 25.2H202.1M214.5 57.2H217.8M115.6 87.4H123.8M158.9 87.4H167.1M205.1 87.4H210.3M319.1 87.4H327.5M130.1 90.3H136.4M140.7 90.3H150.4M150.4 90.3H158.3M189.2 90.3H196.2M196.2 90.3H202.2M220.8 90.3H226.1M235.5 90.3H239M254.6 90.3H259.5M259.5 90.3H265.5M265.5 90.3H272.1M275.6 90.3H285.4M304.2 90.3H309.7M309.7 90.3H313.3M123 121.6H132.5M156 121.6H164M198.4 121.6H203.1M218.5 121.6H223.9M69 142H78.1M229.9 188.4H239.6M255.7 188.4H258.7M47.9 207.4H57.5M64.7 207.4H74.2M74.2 207.4H78.7M89 207.4H92.3M95.4 207.4H100.9M149.2 207.4H157.3M169.9 207.4H178M181.3 207.4H186.6M186.6 207.4H190.3M204.8 207.4H212.1M64.5 258.2H72.3M90.9 258.2H97.7M118.3 258.2H123.5M94.3 268.3H101.5M170.8 268.3H177.8M206.5 268.3H210.5M270 268.3H279.4M320 268.3H327" stroke="#54a96e" stroke-width="1" fill="none"/>
<path d="M56 71.5H62.1M90.9 71.5H95.2M95.2 71.5H101.4M138.7 71.5H142M212.3 71.5H220.5M248.8 71.5H254.7M259.3 71.5H267.3M289.3 71.5H295.1M309.5 71.5H316.3M316.3 71.5H321.7" stroke="#54a96e" stroke-width="2.7" fill="none"/>
<path d="M36.5 137.6H39.9M141.6 137.6H151M39.8 156H44M50.6 156H56.6M56.6 156H60.2M119.5 156H128.4M144.3 156H149.9M215.8 156H220.5M281.4 156H286.8M300.3 156H305M36.5 202.8H40M53.7 202.8H60.5M89 202.8H95M114.7 202.8H123.5M123.5 202.8H128.9M128.9 202.8H138.5M176.5 202.8H185.2M147.9 222H151.6M169.8 222H179.1M206.5 222H214.7M283.9 222H287M46 272.9H50.8M172 272.9H179.6M280.7 272.9H289.7M325.9 272.9H329.5M36.5 287.9H46.2M60.4 287.9H68.1M120.1 287.9H129.5M45.3 353.3H49.9M149.6 353.3H153.5M171.1 353.3H177.3M187.2 353.3H196.9M203.9 353.3H210.6M265.2 353.3H271.8M304.5 353.3H310.5" stroke="#54a96e" stroke-width="2.5" fill="none"/>
<path d="M300.4 137.6H307.3" stroke="#54a96e" stroke-width="1.1" fill="none"/>
<path d="M220 338.7H225.5M259.9 338.7H267" stroke="#54a96e" stroke-width="2.9" fill="none"/>
<path d="M64.9 20.6H69.7M90.3 20.6H96.7M122.3 20.6H126.7M143.1 20.6H147.1M147.1 20.6H154.9M244.2 20.6H249.7M276.1 20.6H282.4M282.4 20.6H288M305.8 20.6H313M319.5 20.6H326.2M84.1 25.2H93.3M42.9 87.4H52.4M55.9 87.4H62M123.8 87.4H130.8M220 87.4H228.9M247.6 87.4H252.3M252.3 87.4H255.9M263.8 87.4H272.8M279.8 87.4H284.5M298.3 87.4H306.8M44.7 90.3H49.6M57.7 90.3H61.1M85.7 90.3H90.6M96.5 90.3H104.6M136.4 90.3H140.7M158.3 90.3H164.2M168.5 90.3H174.5M174.5 90.3H184.4M244.7 90.3H250.1M272.1 90.3H275.6M120 121.6H123M182.1 121.6H186.1M239.6 188.4H243.5M275.6 188.4H283.8M293.5 188.4H298.3M92.3 207.4H95.4M108 207.4H116.4M116.4 207.4H125.7M193.4 207.4H196.6M72.3 258.2H77M77 258.2H85.4M85.4 258.2H90.9M210.5 268.3H214.7M214.7 268.3H222.4M290.9 413.4H299.5M187.3 419.2H191.2M299.6 419.2H304.5M308.3 419.2H315.7" stroke="#58ac6e" stroke-width="1" fill="none"/>
<path d="M36.5 71.5H41.5M46.6 71.5H50.9M75.1 71.5H78.6M104.9 71.5H111.8M120.7 71.5H126M130.8 71.5H135.3M181.5 71.5H191M197.8 71.5H204.6M208.2 71.5H212.3M234.8 71.5H243.8M243.8 71.5H248.8M295.1 71.5H300.1M321.7 71.5H329.5" stroke="#58ac6e" stroke-width="2.7" fill="none"/>
<path d="M254 137.6H257.3M188.4 156H196.1M128.2 222H132.3M36.5 353.3H45.3M177.3 353.3H187.2" stroke="#58ac6e" stroke-width="2.5" fill="none"/>
<path d="M162.2 222H169.8" stroke="#58ac6e" stroke-width="1.1" fill="none"/>
<path d="M50.3 338.7H58.6M62.4 338.7H69.5M83.4 338.7H87.5M142.6 338.7H147" stroke="#58ac6e" stroke-width="2.9" fill="none"/>
<path d="M96.7 20.6H101.8M136.7 20.6H143.1M189.9 20.6H199.4M313 20.6H319.5M60.3 25.2H69.5M52.4 87.4H55.9M100.2 87.4H107.7M167.1 87.4H174.5M183.6 87.4H190M195.4 87.4H205.1M272.8 87.4H276.7M79.9 90.3H85.7M125.4 90.3H130.1M164.2 90.3H168.5M250.1 90.3H254.6M290.9 90.3H298.4M40.4 121.6H45.2M93.3 121.6H98.4M148.9 121.6H156M43.9 142H49.7M133.1 188.4H137.8M264 188.4H269.2M269.2 188.4H275.6M283.8 188.4H293.5M298.3 188.4H304.4M304.4 188.4H309.7M316.5 188.4H323.3M326.3 188.4H329.5M36.5 207.4H41.6M41.6 207.4H47.9M57.5 207.4H64.7M125.7 207.4H134.9M157.3 207.4H166M44.2 258.2H47.9M54.1 258.2H60.6M88.1 268.3H94.3M142.1 268.3H149M149 268.3H157.5M163 268.3H170.8M182.7 268.3H191.6M191.6 268.3H199.9M226.8 268.3H230.8M230.8 268.3H236.8M52.2 413.4H59.1M224.3 413.4H227.7M299.5 413.4H305.3M61.4 419.2H66.3M80.8 419.2H85.2M140.7 419.2H145.5M168.3 419.2H176.3M191.2 419.2H195.4M242.1 419.2H249.4" stroke="#5bb06e" stroke-width="1" fill="none"/>
<path d="M78.6 71.5H83.6M111.8 71.5H120.7M126 71.5H130.8M149.4 71.5H156.8M166 71.5H172M176 71.5H181.5M191 71.5H197.8M229.6 71.5H234.8M300.1 71.5H303.9" stroke="#5bb06e" stroke-width="2.7" fill="none"/>
<path d="M56 137.6H65.9M240.6 202.8H249.1M214.7 222H223.7" stroke="#5bb06e" stroke-width="1.1" fill="none"/>
<path d="M65.2 202.8H69.1" stroke="#5bb06e" stroke-width="2.5" fill="none"/>
<path d="M36.5 338.7H39.8M42.8 338.7H50.3M182.2 338.7H187.7M215 338.7H220M225.5 338.7H234.9M252 338.7H259.9M282.7 338.7H290M297 338.7H305.9M314.6 338.7H317.9M317.9 338.7H322M322 338.7H326.7" stroke="#5bb06e" stroke-width="2.9" fill="none"/>
<path d="M45.2 20.6H52.2M159.5 20.6H164.6M199.4 20.6H202.5M211.8 20.6H220.6M228.8 20.6H238.1M238.1 20.6H244.2M252.7 20.6H262M288 20.6H291.9M326.2 20.6H329.5M79.3 87.4H87.3M94.4 87.4H100.2M107.7 87.4H115.6M139.2 87.4H142.4M149.8 87.4H158.9M190 87.4H195.4M210.3 87.4H220M290.6 87.4H298.3M306.8 87.4H311.7M52.8 90.3H57.7M66.5 90.3H71M90.6 90.3H96.5M113.6 90.3H118.7M85.3 121.6H93.3M106 121.6H114.2M164 121.6H173.5M173.5 121.6H182.1M203.1 121.6H210.6M36.5 188.4H41.8M111.6 188.4H119.4M147.2 188.4H153M162.8 188.4H172.5M188.3 188.4H193.8M193.8 188.4H203.4M203.4 188.4H212M250.1 188.4H255.7M258.7 188.4H264M323.3 188.4H326.3M78.7 207.4H83.8M44.5 268.3H52.3M52.3 268.3H55.3M66.4 268.3H71.8M80.8 268.3H88.1M127.4 268.3H130.8M130.8 268.3H134.9M236.8 268.3H241.4M253 268.3H261M295.7 268.3H302.1M312.5 268.3H320M71.5 413.4H78.4M143.3 413.4H152.9M165.6 413.4H173.4M176.3 419.2H179.7M220.7 419.2H224.2M291 419.2H299.6M315.7 419.2H320.2M320.2 419.2H329.2" stroke="#5fb46e" stroke-width="1" fill="none"/>
<path d="M83.6 71.5H90.9M101.4 71.5H104.9M135.3 71.5H138.7M172 71.5H176M220.5 71.5H229.6M254.7 71.5H259.3M272.5 71.5H282M303.9 71.5H309.5" stroke="#5fb46e" stroke-width="2.7" fill="none"/>
<path d="M93.5 222H98M223.1 272.9H228.5M198.5 287.9H205.9M99.5 353.3H107.5M83.2 404.5H91M123.5 404.5H131.5" stroke="#5fb46e" stroke-width="1.1" fill="none"/>
<path d="M39.8 338.7H42.8M58.6 338.7H62.4M105.1 338.7H111.7M111.7 338.7H115.7M137.4 338.7H142.6M147 338.7H155.3M244.6 338.7H252M267 338.7H273.3" stroke="#5fb46e" stroke-width="2.9" fill="none"/>
<path d="M60.3 20.6H64.9M69.7 20.6H75.6M83.5 20.6H90.3M101.8 20.6H107.9M111.1 20.6H116.4M116.4 20.6H122.3M126.7 20.6H133.5M154.9 20.6H159.5M173.2 20.6H176.4M176.4 20.6H180.9M220.6 20.6H228.8M262 20.6H271.6M70.4 87.4H79.3M87.3 87.4H94.4M130.8 87.4H139.2M142.4 87.4H149.8M174.5 87.4H183.6M238.1 87.4H247.6M311.7 87.4H319.1M36.5 90.3H44.7M104.6 90.3H113.6M45.2 121.6H54.8M132.5 121.6H139.8M193.7 121.6H198.4M55.8 188.4H64.7M64.7 188.4H69.8M69.8 188.4H74M102.8 188.4H111.6M212 188.4H220.8M220.8 188.4H223.8M36.5 258.2H44.2M55.3 268.3H60.7M60.7 268.3H66.4M101.5 268.3H109.4M117 268.3H123.5M157.5 268.3H163M247.7 268.3H253M261 268.3H270M285.3 268.3H289.6M36.5 413.4H43.2M84 413.4H91M107.9 413.4H114.5M216.3 413.4H224.3M240.3 413.4H249.5M260.4 413.4H265.7M315 413.4H320.6M327 413.4H329.5M116.7 419.2H125.5M152.2 419.2H160.7M179.7 419.2H187.3M249.4 419.2H255.4M255.4 419.2H263.5M263.5 419.2H269.8M275.9 419.2H281.9M281.9 419.2H291M329.2 419.2H329.5" stroke="#63b86e" stroke-width="1" fill="none"/>
<path d="M50.9 71.5H56M267.3 71.5H272.5" stroke="#63b86e" stroke-width="2.7" fill="none"/>
<path d="M179.8 137.6H186.2M202.8 202.8H206.8M188.9 222H194.5M318.2 222H328.2M105.4 272.9H110.5M144.2 287.9H149.8M149.8 287.9H158.5M153.5 353.3H161.6M64.2 404.5H70.4M161.6 404.5H168.2M295.4 404.5H298.5" stroke="#63b86e" stroke-width="1.1" fill="none"/>
<path d="M69.5 338.7H79.2M79.2 338.7H83.4M87.5 338.7H92M97.8 338.7H105.1M124.4 338.7H129M129 338.7H137.4M162.3 338.7H172.1M172.1 338.7H178.3M178.3 338.7H182.2M187.7 338.7H197.7M202.4 338.7H210.3M290 338.7H293.3M293.3 338.7H297M326.7 338.7H329.5" stroke="#63b86e" stroke-width="2.9" fill="none"/>
<path d="M170.1 20.6H173.2M296.9 20.6H305.8M61.1 90.3H66.5M118.7 90.3H125.4M114.2 121.6H120M74 188.4H79.5M79.5 188.4H88.6M88.6 188.4H95.1M95.1 188.4H102.8M127.7 188.4H133.1M153 188.4H162.8M243.5 188.4H250.1M309.7 188.4H316.5M47.9 258.2H54.1M71.8 268.3H80.8M123.5 268.3H127.4M222.4 268.3H226.8M279.4 268.3H285.3M302.1 268.3H305.9M305.9 268.3H312.5M327 268.3H329.5M63.9 413.4H71.5M152.9 413.4H159.8M207.1 413.4H216.3M282 413.4H290.9M305.3 413.4H315M42.1 419.2H48.5M48.5 419.2H55.4M94 419.2H97.2M97.2 419.2H103.5M125.5 419.2H133.1" stroke="#68bb6e" stroke-width="1" fill="none"/>
<path d="M210.7 137.6H215M88.9 156H92.2M221.1 202.8H229M229 202.8H235.7M249.1 202.8H258M51.2 222H57.9M262.2 222H265.3M59.3 272.9H67.9M110.5 272.9H119.6M312.7 272.9H317.9M57.3 287.9H60.4M247.5 353.3H256.5M310.5 353.3H315.5M315.5 353.3H322.9M100.4 404.5H105M139.4 404.5H146.7M238.8 404.5H243M313.1 404.5H319.2M329.1 404.5H329.5" stroke="#68bb6e" stroke-width="1.1" fill="none"/>
<path d="M92 338.7H97.8M155.3 338.7H162.3M197.7 338.7H202.4M305.9 338.7H314.6" stroke="#68bb6e" stroke-width="2.9" fill="none"/>
<path d="M107.9 20.6H111.1M133.5 20.6H136.7M164.6 20.6H170.1M202.5 20.6H211.8M36.5 121.6H40.4M54.8 121.6H63.6M63.6 121.6H70.5M70.5 121.6H75.9M75.9 121.6H85.3M98.4 121.6H106M139.8 121.6H148.9M119.4 188.4H127.7M137.8 188.4H147.2M172.5 188.4H179.1M179.1 188.4H188.3M199.9 268.3H206.5M91 413.4H98.4M98.4 413.4H107.9M135 413.4H138.2M173.4 413.4H182.1M192 413.4H200.3M227.7 413.4H231.3M231.3 413.4H240.3M249.5 413.4H254.7M320.6 413.4H327M36.5 419.2H42.1M103.5 419.2H111.1M111.1 419.2H116.7M160.7 419.2H168.3M200 419.2H208M215.7 419.2H220.7M269.8 419.2H275.9M304.5 419.2H308.3" stroke="#6dbe6d" stroke-width="1" fill="none"/>
<path d="M48.4 137.6H56M93.5 137.6H98.5M127.5 137.6H135.9M135.9 137.6H141.6M243.3 137.6H250.1M257.3 137.6H263.3M307.3 137.6H314.2M44 156H50.6M146.4 202.8H155.3M193.4 202.8H197.5M210.1 202.8H213.8M309.3 202.8H316.9M65.6 222H70.5M274.3 222H283.9M295.3 222H298.7M266 272.9H271.4M46.2 287.9H50.7M238.3 287.9H245.6M78.3 353.3H81.4M196.9 353.3H200.9M238.1 353.3H247.5M105 404.5H111.6M153.6 404.5H161.6M204.7 404.5H213.6M232.2 404.5H238.8M243 404.5H247.2M267.1 404.5H276.4" stroke="#6dbe6d" stroke-width="1.1" fill="none"/>
<path d="M273.3 338.7H282.7" stroke="#6dbe6d" stroke-width="2.9" fill="none"/>
<path d="M56.6 20.6H60.3M62 87.4H70.4M41.8 188.4H47.7M109.4 268.3H117M289.6 268.3H295.7M43.2 413.4H52.2M78.4 413.4H84M114.5 413.4H120.5M138.2 413.4H143.3M182.1 413.4H192M275.6 413.4H282M85.2 419.2H94M145.5 419.2H152.2M208 419.2H215.7" stroke="#72c16d" stroke-width="1" fill="none"/>
<path d="M77 137.6H84.5M118.6 137.6H127.5M168.6 137.6H175M197.1 137.6H200.8M215 137.6H222.3M273.1 137.6H278.7M285.6 137.6H292.8M104.1 156H107.3M156.6 156H164.8M173.6 156H179.6M265.8 156H272.1M286.8 156H295.6M310.9 156H320.1M105.6 202.8H114.7M159.8 202.8H167.2M235.7 202.8H240.6M316.9 202.8H324.6M41.5 222H45.3M132.3 222H140.5M140.5 222H143.6M164 272.9H172M201 272.9H205.3M210.8 272.9H215.4M228.5 272.9H236.2M236.2 272.9H241.9M247 272.9H256.4M289.7 272.9H297.5M73.6 287.9H80.2M80.2 287.9H85.9M158.5 287.9H163.9M163.9 287.9H171.5M171.5 287.9H179.9M179.9 287.9H183.3M253.3 287.9H262.2M290.1 287.9H298.3M312.5 287.9H316.9M316.9 287.9H326.6M117.2 353.3H121.8M121.8 353.3H130.4M223.5 353.3H230.8M256.5 353.3H259.6M282.7 353.3H290.4M299.6 353.3H304.5M54.3 404.5H57.9M91 404.5H100.4M116.6 404.5H123.5M172.2 404.5H181.9M256.6 404.5H260.2M276.4 404.5H279.7M298.5 404.5H305.5M305.5 404.5H313.1" stroke="#72c16d" stroke-width="1.1" fill="none"/>
<path d="M115.7 338.7H124.4" stroke="#72c16d" stroke-width="2.9" fill="none"/>
<path d="M75.6 20.6H83.5M47.7 188.4H55.8M36.5 268.3H44.5M59.1 413.4H63.9M127.8 413.4H135M159.8 413.4H165.6M265.7 413.4H275.6M55.4 419.2H61.4M73.9 419.2H80.8M133.1 419.2H140.7M195.4 419.2H200M224.2 419.2H233.8" stroke="#77c46d" stroke-width="1" fill="none"/>
<path d="M62.1 71.5H65.4M156.8 71.5H166" stroke="#77c46d" stroke-width="1.3" fill="none"/>
<path d="M84.5 137.6H93.5M102.9 137.6H112.5M175 137.6H179.8M222.3 137.6H230.7M314.2 137.6H321.8M328.8 137.6H329.5M36.5 156H39.8M66.4 156H74.9M92.2 156H96.4M128.4 156H136.9M196.1 156H199.4M220.5 156H223.9M238.1 156H243.4M243.4 156H251.3M295.6 156H300.3M305 156H310.9M320.1 156H327.9M327.9 156H329.5M167.2 202.8H176.5M185.2 202.8H193.4M258 202.8H267.1M277 202.8H286.3M292 202.8H301.7M301.7 202.8H309.3M45.3 222H51.2M70.5 222H77.9M115.3 222H118.9M179.1 222H183.8M228.4 222H237.8M237.8 222H244.2M247.9 222H257.4M287 222H295.3M99.7 272.9H105.4M119.6 272.9H129.3M129.3 272.9H138.2M179.6 272.9H186.4M186.4 272.9H193.4M193.4 272.9H197.2M241.9 272.9H247M297.5 272.9H304.2M136.4 287.9H140.9M140.9 287.9H144.2M190.5 287.9H198.5M223.3 287.9H233.1M233.1 287.9H238.3M262.2 287.9H266.8M270.8 287.9H280.7M280.7 287.9H286.5M71.3 353.3H78.3M138.2 353.3H143.7M143.7 353.3H149.6M290.4 353.3H293.9M293.9 353.3H299.6M70.4 404.5H78.2M111.6 404.5H116.6M200.2 404.5H204.7M324.2 404.5H329.1" stroke="#77c46d" stroke-width="1.1" fill="none"/>
<path d="M234.9 338.7H244.6" stroke="#77c46d" stroke-width="2.9" fill="none"/>
<path d="M186.2 137.6H193.6M321.8 137.6H328.8M96.4 156H104.1M136.9 156H144.3M223.9 156H233.7M275.6 156H281.4M47.9 202.8H53.7M101.6 202.8H105.6M138.5 202.8H146.4M197.5 202.8H202.8M286.3 202.8H292M86.7 222H93.5M118.9 222H128.2M157.8 222H162.2M201.1 222H206.5M244.2 222H247.9M298.7 222H308.5M308.5 222H312.6M312.6 222H318.2M36.5 272.9H46M50.8 272.9H59.3M67.9 272.9H74.8M74.8 272.9H82.4M145.5 272.9H148.6M156.9 272.9H164M205.3 272.9H210.8M215.4 272.9H223.1M271.4 272.9H280.7M317.9 272.9H325.9M68.1 287.9H73.6M85.9 287.9H91.5M97.5 287.9H103.6M205.9 287.9H213.9M213.9 287.9H223.3M245.6 287.9H253.3M305.6 287.9H312.5M49.9 353.3H58.3M68.1 353.3H71.3M88.3 353.3H94.3M215.9 353.3H223.5M271.8 353.3H278.2M146.7 404.5H153.6M181.9 404.5H190.6M190.6 404.5H200.2M213.6 404.5H222.4M291.8 404.5H295.4" stroke="#7dc76d" stroke-width="1.1" fill="none"/>
<path d="M120.5 413.4H127.8M200.3 413.4H207.1M254.7 413.4H260.4M66.3 419.2H73.9M233.8 419.2H242.1" stroke="#7dc76d" stroke-width="1" fill="none"/>
<path d="M65.4 71.5H75.1M204.6 71.5H208.2" stroke="#82ca6c" stroke-width="1.3" fill="none"/>
<path d="M65.9 137.6H72.9M98.5 137.6H102.9M112.5 137.6H118.6M156.9 137.6H160M230.7 137.6H235.3M250.1 137.6H254M263.3 137.6H273.1M278.7 137.6H285.6M292.8 137.6H300.4M74.9 156H78M83.9 156H88.9M107.3 156H112.4M112.4 156H119.5M179.6 156H188.4M251.3 156H254.3M272.1 156H275.6M60.5 202.8H65.2M155.3 202.8H159.8M206.8 202.8H210.1M267.1 202.8H277M324.6 202.8H329.5M77.9 222H86.7M111.5 222H115.3M223.7 222H228.4M257.4 222H262.2M265.3 222H268.4M328.2 222H329.5M82.4 272.9H91.3M91.3 272.9H99.7M262.5 272.9H266M304.2 272.9H312.7M111.1 287.9H117M117 287.9H120.1M129.5 287.9H136.4M183.3 287.9H190.5M266.8 287.9H270.8M326.6 287.9H329.5M94.3 353.3H99.5M161.6 353.3H171.1M259.6 353.3H265.2M36.5 404.5H46.3M78.2 404.5H83.2M131.5 404.5H139.4M168.2 404.5H172.2M222.4 404.5H232.2M247.2 404.5H256.6M319.2 404.5H324.2" stroke="#82ca6c" stroke-width="1.1" fill="none"/>
<path d="M41.5 71.5H46.6M142 71.5H149.4" stroke="#87cd6c" stroke-width="1.3" fill="none"/>
<path d="M39.9 137.6H48.4M72.9 137.6H77M151 137.6H156.9M160 137.6H168.6M193.6 137.6H197.1M235.3 137.6H243.3M60.2 156H66.4M78 156H83.9M164.8 156H173.6M206.8 156H215.8M233.7 156H238.1M254.3 156H259.8M259.8 156H265.8M40 202.8H47.9M69.1 202.8H72.6M72.6 202.8H81.3M81.3 202.8H89M95 202.8H101.6M98 222H102.5M183.8 222H188.9M194.5 222H201.1M268.4 222H274.3M138.2 272.9H145.5M148.6 272.9H156.9M197.2 272.9H201M256.4 272.9H262.5M50.7 287.9H57.3M103.6 287.9H111.1M298.3 287.9H305.6M58.3 353.3H68.1M200.9 353.3H203.9M210.6 353.3H215.9M46.3 404.5H54.3M57.9 404.5H64.2M260.2 404.5H267.1M279.7 404.5H287.4M287.4 404.5H291.8" stroke="#87cd6c" stroke-width="1.1" fill="none"/>
<path d="M56 71.5H62.1M212.3 71.5H220.5M282 71.5H289.3" stroke="#8dd06c" stroke-width="1.3" fill="none"/>
<path d="M200.8 137.6H210.7M149.9 156H156.6M199.4 156H206.8M176.5 202.8H185.2M213.8 202.8H221.1M36.5 222H41.5M57.9 222H65.6M102.5 222H111.5M143.6 222H147.9M151.6 222H157.8M206.5 222H214.7M36.5 287.9H46.2M91.5 287.9H97.5M286.5 287.9H290.1M81.4 353.3H88.3M107.5 353.3H117.2M130.4 353.3H138.2M230.8 353.3H238.1M278.2 353.3H282.7M304.5 353.3H310.5M322.9 353.3H329.5" stroke="#8dd06c" stroke-width="1.1" fill="none"/>
<path d="M210.3 338.7H215" stroke="#8dd06c" stroke-width="1.5" fill="none"/>
<path d="M138.7 71.5H142M259.3 71.5H267.3M316.3 71.5H321.7" stroke="#94d46b" stroke-width="1.3" fill="none"/>
<path d="M36.5 137.6H39.9M141.6 137.6H151M50.6 156H56.6M56.6 156H60.2M215.8 156H220.5M281.4 156H286.8M300.3 156H305M36.5 202.8H40M123.5 202.8H128.9M283.9 222H287M46 272.9H50.8M172 272.9H179.6M280.7 272.9H289.7M325.9 272.9H329.5M60.4 287.9H68.1M120.1 287.9H129.5M149.6 353.3H153.5M203.9 353.3H210.6M265.2 353.3H271.8" stroke="#94d46b" stroke-width="1.1" fill="none"/>
<path d="M90.9 71.5H95.2M95.2 71.5H101.4M289.3 71.5H295.1M309.5 71.5H316.3" stroke="#9ad76b" stroke-width="1.3" fill="none"/>
<path d="M119.5 156H128.4M144.3 156H149.9M53.7 202.8H60.5M89 202.8H95M128.9 202.8H138.5M147.9 222H151.6M169.8 222H179.1M45.3 353.3H49.9M171.1 353.3H177.3M187.2 353.3H196.9" stroke="#9ad76b" stroke-width="1.1" fill="none"/>
<path d="M220 338.7H225.5M259.9 338.7H267" stroke="#9ad76b" stroke-width="1.5" fill="none"/>
<path d="M36.5 71.5H41.5M75.1 71.5H78.6M120.7 71.5H126M208.2 71.5H212.3M234.8 71.5H243.8M248.8 71.5H254.7" stroke="#a1db6a" stroke-width="1.3" fill="none"/>
<path d="M254 137.6H257.3M39.8 156H44M188.4 156H196.1M114.7 202.8H123.5M128.2 222H132.3M177.3 353.3H187.2" stroke="#a1db6a" stroke-width="1.1" fill="none"/>
<path d="M50.3 338.7H58.6" stroke="#a1db6a" stroke-width="1.5" fill="none"/>
<path d="M46.6 71.5H50.9M104.9 71.5H111.8M130.8 71.5H135.3M181.5 71.5H191M197.8 71.5H204.6M321.7 71.5H329.5" stroke="#a7de6a" stroke-width="1.3" fill="none"/>
<path d="M83.4 338.7H87.5" stroke="#a7de6a" stroke-width="1.5" fill="none"/>
<path d="M166 71.5H172M243.8 71.5H248.8M295.1 71.5H300.1" stroke="#aee269" stroke-width="1.3" fill="none"/>
<path d="M65.2 202.8H69.1M36.5 353.3H45.3" stroke="#aee269" stroke-width="1.1" fill="none"/>
<path d="M62.4 338.7H69.5M142.6 338.7H147" stroke="#aee269" stroke-width="1.5" fill="none"/>
<path d="M126 71.5H130.8M149.4 71.5H156.8M176 71.5H181.5M191 71.5H197.8M300.1 71.5H303.9" stroke="#b4e569" stroke-width="1.3" fill="none"/>
<path d="M36.5 338.7H39.8M42.8 338.7H50.3M225.5 338.7H234.9M252 338.7H259.9M282.7 338.7H290M317.9 338.7H322M322 338.7H326.7" stroke="#b4e569" stroke-width="1.5" fill="none"/>
<path d="M111.8 71.5H120.7M229.6 71.5H234.8" stroke="#b9e86a" stroke-width="1.3" fill="none"/>
<path d="M182.2 338.7H187.7M215 338.7H220M297 338.7H305.9" stroke="#b9e86a" stroke-width="1.5" fill="none"/>
<path d="M78.6 71.5H83.6M83.6 71.5H90.9M172 71.5H176M272.5 71.5H282M303.9 71.5H309.5" stroke="#bfeb6a" stroke-width="1.3" fill="none"/>
<path d="M111.7 338.7H115.7M147 338.7H155.3M244.6 338.7H252M314.6 338.7H317.9" stroke="#bfeb6a" stroke-width="1.5" fill="none"/>
<path d="M101.4 71.5H104.9M135.3 71.5H138.7M220.5 71.5H229.6M254.7 71.5H259.3" stroke="#c4ee6a" stroke-width="1.3" fill="none"/>
<path d="M58.6 338.7H62.4M105.1 338.7H111.7M137.4 338.7H142.6M267 338.7H273.3" stroke="#c4ee6a" stroke-width="1.5" fill="none"/>
<path d="M39.8 338.7H42.8M202.4 338.7H210.3" stroke="#caf16b" stroke-width="1.5" fill="none"/>
<path d="M267.3 71.5H272.5" stroke="#d0f46b" stroke-width="1.3" fill="none"/>
<path d="M79.2 338.7H83.4M97.8 338.7H105.1M124.4 338.7H129M129 338.7H137.4M178.3 338.7H182.2M187.7 338.7H197.7M293.3 338.7H297M326.7 338.7H329.5" stroke="#d0f46b" stroke-width="1.5" fill="none"/>
<path d="M50.9 71.5H56" stroke="#d5f76c" stroke-width="1.3" fill="none"/>
<path d="M69.5 338.7H79.2M87.5 338.7H92M162.3 338.7H172.1M172.1 338.7H178.3M290 338.7H293.3" stroke="#d5f76c" stroke-width="1.5" fill="none"/>
<path d="M92 338.7H97.8M155.3 338.7H162.3M305.9 338.7H314.6" stroke="#daf86c" stroke-width="1.5" fill="none"/>
<path d="M197.7 338.7H202.4" stroke="#e2fa6b" stroke-width="1.5" fill="none"/>
<path d="M273.3 338.7H282.7" stroke="#e6fa6a" stroke-width="1.5" fill="none"/>
<path d="M115.7 338.7H124.4M234.9 338.7H244.6" stroke="#f2fc69" stroke-width="1.5" fill="none"/>
</g>
</g>
<rect x="37.5" y="11.2" width="291" height="18.2" rx="2" fill="none" stroke="#c0392b" stroke-width="1.1"/>
<rect x="37.5" y="63.6" width="291" height="22" rx="2.5" fill="none" stroke="#1a1ab8" stroke-width="1.3"/>
<rect x="37.5" y="330.3" width="291" height="21.3" rx="2" fill="none" stroke="#e0622a" stroke-width="1.1"/>
<text x="164.3" y="41.4" font-size="11" text-anchor="start" font-weight="bold" fill="#111">Mode A</text>
<text x="164.3" y="96.3" font-size="11" text-anchor="start" font-weight="bold" fill="#111">Mode B</text>
<text x="164.3" y="364.2" font-size="11" text-anchor="start" font-weight="bold" fill="#111">Mode C</text>
<rect x="36.5" y="6.0" width="293.0" height="457.2" fill="none" stroke="#262626" stroke-width="0.9"/>
<path d="M36.5 51.5h4.8M329.5 51.5h-4.8M36.5 97.3h4.8M329.5 97.3h-4.8M36.5 143.1h4.8M329.5 143.1h-4.8M36.5 188.8h4.8M329.5 188.8h-4.8M36.5 234.6h4.8M329.5 234.6h-4.8M36.5 280.3h4.8M329.5 280.3h-4.8M36.5 326.1h4.8M329.5 326.1h-4.8M36.5 371.8h4.8M329.5 371.8h-4.8M36.5 417.6h4.8M329.5 417.6h-4.8M37.3 6.0v4.8M37.3 463.2v-4.8M86.1 6.0v4.8M86.1 463.2v-4.8M134.9 6.0v4.8M134.9 463.2v-4.8M183.7 6.0v4.8M183.7 463.2v-4.8M232.5 6.0v4.8M232.5 463.2v-4.8M281.3 6.0v4.8M281.3 463.2v-4.8" stroke="#262626" stroke-width="0.9" fill="none"/>
<text x="32.2" y="10.1" font-size="10.5" text-anchor="end" fill="#262626">0</text>
<text x="32.2" y="55.8" font-size="10.5" text-anchor="end" fill="#262626">1</text>
<text x="32.2" y="101.6" font-size="10.5" text-anchor="end" fill="#262626">2</text>
<text x="32.2" y="147.4" font-size="10.5" text-anchor="end" fill="#262626">3</text>
<text x="32.2" y="193.1" font-size="10.5" text-anchor="end" fill="#262626">4</text>
<text x="32.2" y="238.9" font-size="10.5" text-anchor="end" fill="#262626">5</text>
<text x="32.2" y="284.6" font-size="10.5" text-anchor="end" fill="#262626">6</text>
<text x="32.2" y="330.4" font-size="10.5" text-anchor="end" fill="#262626">7</text>
<text x="32.2" y="376.1" font-size="10.5" text-anchor="end" fill="#262626">8</text>
<text x="32.2" y="421.9" font-size="10.5" text-anchor="end" fill="#262626">9</text>
<text x="37.3" y="479" font-size="10.5" text-anchor="middle" fill="#262626">0</text>
<text x="86.1" y="479" font-size="10.5" text-anchor="middle" fill="#262626">0.5</text>
<text x="134.9" y="479" font-size="10.5" text-anchor="middle" fill="#262626">1</text>
<text x="183.7" y="479" font-size="10.5" text-anchor="middle" fill="#262626">1.5</text>
<text x="232.5" y="479" font-size="10.5" text-anchor="middle" fill="#262626">2</text>
<text x="281.3" y="479" font-size="10.5" text-anchor="middle" fill="#262626">2.5</text>
<text x="194.8" y="495.2" font-size="12.7" text-anchor="middle" fill="#262626">Time (×10<tspan font-size="7.5" dy="-4.3">4</tspan><tspan dy="4.3"> s)</tspan></text>
<text x="15.2" y="227.8" font-size="13.0" text-anchor="middle" transform="rotate(-90 15.2 227.8)" fill="#262626">Frequency, ν (Hz)</text>
<rect x="335.2" y="6" width="9.6" height="457.2" fill="url(#cbg)" stroke="#262626" stroke-width="0.9"/>
<path d="M344.8 6h-4.5M344.8 82.2h-4.5M344.8 158.4h-4.5M344.8 234.6h-4.5M344.8 310.8h-4.5M344.8 387h-4.5M344.8 463.2h-4.5" stroke="#262626" stroke-width="0.9"/>
<text x="347.5" y="9.5" font-size="10.5" text-anchor="start" fill="#262626">-30</text>
<text x="347.5" y="85.7" font-size="10.5" text-anchor="start" fill="#262626">-40</text>
<text x="347.5" y="161.9" font-size="10.5" text-anchor="start" fill="#262626">-50</text>
<text x="347.5" y="238.1" font-size="10.5" text-anchor="start" fill="#262626">-60</text>
<text x="347.5" y="314.3" font-size="10.5" text-anchor="start" fill="#262626">-70</text>
<text x="347.5" y="390.5" font-size="10.5" text-anchor="start" fill="#262626">-80</text>
<text x="347.5" y="466.7" font-size="10.5" text-anchor="start" fill="#262626">-90</text>
<text x="374.3" y="234.5" font-size="12.5" text-anchor="middle" transform="rotate(-90 374.3 234.5)" fill="#262626">Log(x(ω)) (a.u.)</text>
<text x="364.6" y="12.7" font-size="15.3" font-weight="bold" fill="#111">(b)</text>
<text x="0.6" y="12.7" font-size="15.3" font-weight="bold" fill="#111">(a)</text>
<text x="0.6" y="508.4" font-size="15.3" font-weight="bold" fill="#111">(c)</text>
<rect x="388.9" y="6.0" width="264.8" height="147.9" rx="12.5" fill="#efefef" stroke="#c4202b" stroke-width="2.2"/>
<clipPath id="cb0"><rect x="425.5" y="13.3" width="220.1" height="55.4"/></clipPath>
<g clip-path="url(#cb0)">
<rect x="425.5" y="13.3" width="220.1" height="55.4" fill="#3e926c"/>
<path d="M476.4 41.3H481.9M559 41.3H568.4M607.6 41.3H618.3M434.9 54.7H442.4M595.6 54.7H600.4M555.9 45.6H564.4M520.1 51.1H528.3M541.4 51.1H546M597.3 51.1H601.7M450.2 30.4H460.8M490.1 30.4H495.1M507 30.4H514.5M613.7 63.7H622.9M425.5 43H435.5M458.3 48.6H469.8M560.1 40.2H566.9M437.1 57.9H447M589.3 26.5H595.9M490.9 36.2H500.2M540 14.9H547M461 60.3H465.8" stroke="#3d906c" stroke-width="0.8" fill="none"/>
<path d="M430.3 41.3H435.3M435.3 41.3H442.8M450.9 41.3H458.7M522.2 41.3H530.7M554.1 41.3H559M629.3 41.3H638.9M638.9 41.3H645.6M482.6 50.5H491.2M591.2 50.5H601.5M619.8 50.5H625.6M625.6 50.5H635.8M481.4 54.7H487M497.1 54.7H505.2M538.7 54.7H550.4M554.6 54.7H563M574.5 54.7H580.3M612 54.7H621.9M641.4 54.7H645.6M616.9 45.6H628M638.4 45.6H645.6M517.2 16.8H523.1M523.1 16.8H534.5M564.7 16.8H576.1M621.5 16.8H631.7M641.3 16.8H645.6M585.4 51.1H593M593 51.1H597.3M511.6 41.7H521.7M534.4 41.7H538.9M596.4 41.7H604.3M632.9 41.7H638.6M433.2 56.8H442.7M481.2 56.8H488.8M493.2 56.8H501.9M521.1 56.8H528.3M540 56.8H548.5M604.8 56.8H609.2M633.3 56.8H644.3M644.3 56.8H645.6M441.1 30.4H450.2M470.9 30.4H476.7M586.1 30.4H597.9M442.9 63.7H454.7M472.7 63.7H483.1M573.3 63.7H580.1M586.9 63.7H596.7M596.7 63.7H607.1M607.1 63.7H613.7M469.1 20.3H475.6M475.6 20.3H486.6M486.6 20.3H492M615.7 20.3H622.3M425.5 57.5H436.9M442.6 57.5H450.7M454.7 57.5H462.5M537.5 57.5H545.1M583.4 57.5H592.6M592.6 57.5H601.2M626.8 57.5H631.9M638.5 57.5H645.3M425.5 66.1H433.8M433.8 66.1H442M459.5 66.1H465.6M487.4 66.1H495.5M560.6 66.1H566.3M632.8 66.1H641.2M641.2 66.1H645.6M475.4 43H486.9M529.8 43H539.9M545 43H550.5M556 43H562.2M588.6 43H592.9M469.8 48.6H476.3M518.2 48.6H523.2M550.5 48.6H559.7M559.7 48.6H568.4M597.1 48.6H604.2M611.9 48.6H619.6M425.5 40.2H432M432 40.2H442.2M479.5 40.2H483.5M503.6 40.2H515.4M549 40.2H555.9M487.9 57.9H493M503.9 57.9H513.1M432.5 33.4H437.9M485.9 33.4H494.6M512.1 33.4H517.5M561.9 33.4H572.3M578.4 33.4H583.9M605.8 33.4H613.1M626.1 33.4H630.4M425.5 26.5H430.6M438.7 26.5H447.7M447.7 26.5H457.8M627.5 26.5H637.6M425.5 36.2H431M431 36.2H441.9M541.2 36.2H548.4M556.6 36.2H560.7M614.7 36.2H619.1M425.5 14.9H430.9M430.9 14.9H436.4M457.6 14.9H467.1M534 14.9H540M642.9 14.9H645.6M455.4 58H466.9M466.9 58H472.9M472.9 58H477.4M530.9 58H538.9M601 34.4H608.1M620.4 34.4H624.6M625 41.4H635.5M511.6 60.3H517" stroke="#3f936d" stroke-width="0.8" fill="none"/>
<path d="M458.7 41.3H466.7M499.9 41.3H506.2M506.2 41.3H517.8M618.3 41.3H622.8M425.5 50.5H434.3M500.7 50.5H509.1M519.3 50.5H526M537.8 50.5H548.3M548.3 50.5H557.3M567.6 50.5H572.4M582.9 50.5H591.2M607.9 50.5H619.8M635.8 50.5H641M425.5 54.7H434.9M442.4 54.7H446.8M446.8 54.7H450.9M459 54.7H468.3M580.3 54.7H590.3M600.4 54.7H605.4M632.5 54.7H641.4M425.5 45.6H434.1M443.1 45.6H453.4M527.3 45.6H538.9M564.4 45.6H573.8M593.3 45.6H605M472.8 16.8H477.6M511.3 16.8H517.2M534.5 16.8H545.2M545.2 16.8H549.5M576.1 16.8H585.4M609.5 16.8H621.5M631.7 16.8H641.3M457.9 51.1H462.6M462.6 51.1H470.3M490.3 51.1H495.6M500.1 51.1H509.3M567 51.1H573.9M631.1 51.1H640.5M425.5 41.7H431.6M431.6 41.7H442.6M442.6 41.7H447.1M458.5 41.7H468.1M505.8 41.7H511.6M559.2 41.7H565.7M604.3 41.7H613.1M613.1 41.7H623.5M442.7 56.8H452.1M459.3 56.8H467.1M475.6 56.8H481.2M513.8 56.8H521.1M533.9 56.8H540M593.9 56.8H604.8M476.7 30.4H482.1M482.1 30.4H490.1M530.7 30.4H540.3M597.9 30.4H604.1M454.7 63.7H459.2M515.6 63.7H521.8M551.5 63.7H563.4M445.3 20.3H455.4M492 20.3H500M507 20.3H517.1M517.1 20.3H523.6M564.8 20.3H575.6M622.3 20.3H632M436.9 57.5H442.6M462.5 57.5H471.3M507 57.5H515.3M515.3 57.5H522.6M545.1 57.5H556.8M574.2 57.5H583.4M611.5 57.5H619.9M619.9 57.5H626.8M631.9 57.5H638.5M645.3 57.5H645.6M469.8 66.1H476.1M495.5 66.1H503.1M521.8 66.1H532.1M566.3 66.1H575.1M623.2 66.1H632.8M458.7 43H464.8M504.6 43H514.8M522.5 43H529.8M539.9 43H545M583.1 43H588.6M619.8 43H625.9M633 43H637M436.7 48.6H443.2M476.3 48.6H483.5M492.9 48.6H497.1M503.4 48.6H508.1M523.2 48.6H534.2M628.1 48.6H632.4M447.2 40.2H452.7M492.1 40.2H503.6M555.9 40.2H560.1M586.8 40.2H595.1M618.9 40.2H629.8M447 57.9H458.1M458.1 57.9H462.7M467.7 57.9H472.2M522.9 57.9H530.7M553.7 57.9H557.8M578.4 57.9H588.5M597.3 57.9H605M614.6 57.9H621.1M621.1 57.9H628.6M628.6 57.9H638.7M446.1 33.4H455.7M528 33.4H538.4M583.9 33.4H593.1M479.6 26.5H483.7M519.4 26.5H526M532.2 26.5H539.9M539.9 26.5H546.2M567.4 26.5H577M604.4 26.5H616.2M616.2 26.5H627.5M637.6 26.5H645.6M473.5 36.2H480.8M500.2 36.2H512M596.3 36.2H605.1M605.1 36.2H609.2M609.2 36.2H614.7M619.1 36.2H628.1M635.3 36.2H640.5M488 14.9H493M617.8 14.9H623.2M425.5 58H431.1M477.4 58H486.4M526.8 58H530.9M579.8 58H589.4M589.4 58H596.6M619.7 58H628.3M635.4 58H645.6M425.5 34.4H430.3M440.5 34.4H451M484.3 34.4H493.3M493.3 34.4H500.6M542 34.4H546.6M546.6 34.4H551M560.6 34.4H569.9M569.9 34.4H579M579 34.4H583M608.1 34.4H612.4M641.6 34.4H645.6M437.4 41.4H447M483.2 41.4H493.1M535 41.4H540.1M540.1 41.4H547.4M578.9 41.4H586.1M586.1 41.4H597.5M597.5 41.4H608.4M441.1 60.3H449.2M496.1 60.3H500.2M500.2 60.3H506.9M506.9 60.3H511.6M524.8 60.3H532.7M558.5 60.3H565.5M585 60.3H591.9M591.9 60.3H602.1M625.2 60.3H629.7" stroke="#42966d" stroke-width="0.8" fill="none"/>
<path d="M425.5 41.3H430.3M442.8 41.3H450.9M466.7 41.3H476.4M488.7 41.3H499.9M517.8 41.3H522.2M538.4 41.3H543.1M579.3 41.3H583.3M622.8 41.3H629.3M444.1 50.5H449.5M454.5 50.5H465.9M474.5 50.5H482.6M491.2 50.5H500.7M509.1 50.5H519.3M526 50.5H537.8M557.3 50.5H567.6M476.5 54.7H481.4M487 54.7H497.1M505.2 54.7H514M528.2 54.7H534M563 54.7H574.5M590.3 54.7H595.6M605.4 54.7H612M463.6 45.6H469.7M469.7 45.6H474.6M474.6 45.6H480.8M480.8 45.6H489.8M516.9 45.6H527.3M582.3 45.6H587.1M587.1 45.6H593.3M612.1 45.6H616.9M425.5 16.8H436.4M441.2 16.8H450.9M468.2 16.8H472.8M477.6 16.8H483.7M483.7 16.8H492.9M492.9 16.8H499.4M558.7 16.8H564.7M425.5 51.1H437.1M437.1 51.1H443.2M443.2 51.1H450M546 51.1H557.4M468.1 41.7H477.7M489.1 41.7H495.6M495.6 41.7H505.8M527.9 41.7H534.4M538.9 41.7H547.5M547.5 41.7H559.2M565.7 41.7H576.9M586.5 41.7H596.4M425.5 56.8H433.2M488.8 56.8H493.2M501.9 56.8H509.1M548.5 56.8H558.9M576.5 56.8H584.2M584.2 56.8H593.9M609.2 56.8H616.8M623.1 56.8H633.3M434.9 30.4H441.1M460.8 30.4H470.9M495.1 30.4H507M514.5 30.4H522.8M522.8 30.4H530.7M540.3 30.4H548.9M579.1 30.4H586.1M615.3 30.4H620.9M620.9 30.4H629M425.5 63.7H432.9M432.9 63.7H442.9M463.3 63.7H472.7M508.5 63.7H515.6M538.9 63.7H543.5M543.5 63.7H551.5M563.4 63.7H573.3M580.1 63.7H586.9M622.9 63.7H634.3M425.5 20.3H434.6M455.4 20.3H461.9M500 20.3H507M523.6 20.3H533M553.2 20.3H564.8M581.4 20.3H590.2M590.2 20.3H600.5M600.5 20.3H607.5M607.5 20.3H615.7M632 20.3H642M471.3 57.5H480.8M493.9 57.5H501.8M556.8 57.5H561.7M566.9 57.5H574.2M601.2 57.5H611.5M465.6 66.1H469.8M503.1 66.1H512.6M536.5 66.1H545.4M545.4 66.1H551.8M575.1 66.1H584.1M435.5 43H446.5M454.4 43H458.7M562.2 43H572.8M604.6 43H615.5M625.9 43H633M637 43H643.4M643.4 43H645.6M443.2 48.6H453M453 48.6H458.3M488.1 48.6H492.9M508.1 48.6H518.2M534.2 48.6H541.1M541.1 48.6H545.6M568.4 48.6H579.7M619.6 48.6H628.1M442.2 40.2H447.2M483.5 40.2H492.1M530.1 40.2H537.9M566.9 40.2H577.6M582.6 40.2H586.8M609.4 40.2H618.9M635.2 40.2H645.6M497.3 57.9H503.9M437.9 33.4H446.1M455.7 33.4H461.6M461.6 33.4H473.2M538.4 33.4H545.1M572.3 33.4H578.4M599.8 33.4H605.8M621.2 33.4H626.1M630.4 33.4H634.9M457.8 26.5H467.8M498.8 26.5H508.7M508.7 26.5H519.4M546.2 26.5H552.7M581.8 26.5H589.3M537 36.2H541.2M588.8 36.2H596.3M628.1 36.2H635.3M596.4 14.9H606.3M606.3 14.9H617.8M431.1 58H440.7M445.1 58H450.1M450.1 58H455.4M507.1 58H514.9M547.1 58H556.8M568.4 58H579.8M608.4 58H619.7M509.9 34.4H515.2M515.2 34.4H522.5M522.5 34.4H531.5M583 34.4H589.5M589.5 34.4H601M612.4 34.4H620.4M478.3 41.4H483.2M493.1 41.4H501.8M509.9 41.4H521.2M521.2 41.4H528.7M528.7 41.4H535M553.8 41.4H560.3M560.3 41.4H572.1M572.1 41.4H578.9M635.5 41.4H645.4M645.4 41.4H645.6M425.5 60.3H435.1M543 60.3H553.2M553.2 60.3H558.5M565.5 60.3H574.9M614.1 60.3H625.2" stroke="#44986d" stroke-width="0.8" fill="none"/>
<path d="M481.9 41.3H488.7M530.7 41.3H538.4M543.1 41.3H554.1M568.4 41.3H579.3M592.4 41.3H601.1M601.1 41.3H607.6M449.5 50.5H454.5M572.4 50.5H578M578 50.5H582.9M534 54.7H538.7M621.9 54.7H632.5M434.1 45.6H443.1M453.4 45.6H463.6M489.8 45.6H498.5M498.5 45.6H510.4M545.6 45.6H555.9M628 45.6H638.4M450.9 16.8H456.6M456.6 16.8H468.2M549.5 16.8H558.7M585.4 16.8H591.2M602 16.8H609.5M495.6 51.1H500.1M509.3 51.1H520.1M528.3 51.1H533.3M533.3 51.1H541.4M573.9 51.1H585.4M601.7 51.1H613.4M624.6 51.1H631.1M640.5 51.1H645.6M576.9 41.7H581.8M581.8 41.7H586.5M467.1 56.8H475.6M509.1 56.8H513.8M528.3 56.8H533.9M558.9 56.8H564.6M564.6 56.8H576.5M548.9 30.4H560.2M560.2 30.4H571.5M571.5 30.4H579.1M644.3 30.4H645.6M497.4 63.7H508.5M521.8 63.7H530.1M530.1 63.7H538.9M434.6 20.3H445.3M575.6 20.3H581.4M450.7 57.5H454.7M486.8 57.5H493.9M501.8 57.5H507M522.6 57.5H533M561.7 57.5H566.9M442 66.1H450.7M450.7 66.1H459.5M476.1 66.1H487.4M551.8 66.1H560.6M584.1 66.1H591.5M591.5 66.1H600.3M611.4 66.1H623.2M446.5 43H454.4M486.9 43H493.8M493.8 43H504.6M514.8 43H522.5M550.5 43H556M572.8 43H583.1M592.9 43H604.6M615.5 43H619.8M425.5 48.6H436.7M483.5 48.6H488.1M579.7 48.6H589.3M452.7 40.2H463.6M470.8 40.2H479.5M515.4 40.2H521M595.1 40.2H602.4M425.5 57.9H437.1M483.6 57.9H487.9M530.7 57.9H542.6M557.8 57.9H567.6M567.6 57.9H578.4M588.5 57.9H597.3M425.5 33.4H432.5M473.2 33.4H481.2M481.2 33.4H485.9M494.6 33.4H500.4M517.5 33.4H528M593.1 33.4H599.8M613.1 33.4H621.2M483.7 26.5H489.9M552.7 26.5H561.4M561.4 26.5H567.4M577 26.5H581.8M595.9 26.5H604.4M441.9 36.2H449.3M512 36.2H518.2M518.2 36.2H527.3M568.2 36.2H575.3M575.3 36.2H581.9M581.9 36.2H588.8M640.5 36.2H645.6M436.4 14.9H447.7M479.1 14.9H488M502.8 14.9H509.6M509.6 14.9H514.7M514.7 14.9H521.2M521.2 14.9H526.2M526.2 14.9H534M552.7 14.9H560.1M560.1 14.9H571.6M571.6 14.9H577.1M577.1 14.9H583.2M583.2 14.9H592.3M592.3 14.9H596.4M634.9 14.9H642.9M628.3 58H635.4M460 34.4H467.2M551 34.4H560.6M624.6 34.4H632.4M632.4 34.4H641.6M425.5 41.4H437.4M458.3 41.4H469.5M469.5 41.4H478.3M547.4 41.4H553.8M608.4 41.4H615.5M615.5 41.4H625M435.1 60.3H441.1M477.5 60.3H486.8M486.8 60.3H496.1M517 60.3H524.8M574.9 60.3H580.2M580.2 60.3H585M602.1 60.3H614.1M629.7 60.3H637M644.2 60.3H645.6" stroke="#479b6d" stroke-width="0.8" fill="none"/>
<path d="M583.3 41.3H592.4M465.9 50.5H474.5M601.5 50.5H607.9M641 50.5H645.6M450.9 54.7H459M520.2 54.7H528.2M538.9 45.6H545.6M591.2 16.8H602M470.3 51.1H481.7M481.7 51.1H490.3M557.4 51.1H567M477.7 41.7H489.1M623.5 41.7H632.9M452.1 56.8H459.3M629 30.4H640.2M492.7 63.7H497.4M634.3 63.7H644.7M461.9 20.3H469.1M544.9 20.3H553.2M642 20.3H645.6M480.8 57.5H486.8M533 57.5H537.5M512.6 66.1H521.8M532.1 66.1H536.5M497.1 48.6H503.4M589.3 48.6H597.1M604.2 48.6H611.9M632.4 48.6H640.5M521 40.2H530.1M537.9 40.2H549M577.6 40.2H582.6M602.4 40.2H609.4M629.8 40.2H635.2M462.7 57.9H467.7M513.1 57.9H522.9M605 57.9H614.6M467.8 26.5H479.6M526 26.5H532.2M458.9 36.2H466.7M480.8 36.2H486.3M486.3 36.2H490.9M447.7 14.9H457.6M467.1 14.9H479.1M493 14.9H502.8M547 14.9H552.7M623.2 14.9H634.9M486.4 58H495.3M495.3 58H507.1M520.9 58H526.8M538.9 58H547.1M451 34.4H460M467.2 34.4H476.5M476.5 34.4H484.3M531.5 34.4H542M501.8 41.4H509.9M465.8 60.3H477.5M637 60.3H644.2" stroke="#499e6e" stroke-width="0.8" fill="none"/>
<path d="M434.3 50.5H444.1M550.4 54.7H554.6M499.4 16.8H511.3M459.2 63.7H463.3M545.6 48.6H550.5M463.6 40.2H470.8M542.6 57.9H553.7M500.4 33.4H512.1M548.4 36.2H556.6M560.7 36.2H568.2M440.7 58H445.1M556.8 58H568.4M447 41.4H458.3" stroke="#4ca16e" stroke-width="0.8" fill="none"/>
<path d="M468.3 54.7H476.5M545.1 33.4H553.9M430.6 26.5H438.7" stroke="#50a56e" stroke-width="0.8" fill="none"/>
<mask id="mAb" maskUnits="userSpaceOnUse" x="420" y="24" width="230" height="34"><rect x="420" y="26" width="230" height="30" fill="url(#fadeV)"/></mask>
<g mask="url(#mAb)" filter="url(#bl)">
<path d="M431.1 26V56" stroke="#3a8d6c" stroke-width="3.7" fill="none"/>
<path d="M463.5 26V56" stroke="#3a8d6c" stroke-width="3.6" fill="none"/>
<path d="M451.1 26V56" stroke="#3d906c" stroke-width="1.6" fill="none"/>
<path d="M465.8 26V56" stroke="#3d906c" stroke-width="1.1" fill="none"/>
<path d="M497.2 26V56" stroke="#3d906c" stroke-width="2.1" fill="none"/>
<path d="M517.1 26V56" stroke="#3d906c" stroke-width="2.3" fill="none"/>
<path d="M526 26V56" stroke="#3d906c" stroke-width="1.5" fill="none"/>
<path d="M532.1 26V56" stroke="#3d906c" stroke-width="3.5" fill="none"/>
<path d="M427.4 26V56" stroke="#3f936d" stroke-width="3.8" fill="none"/>
<path d="M483.6 26V56" stroke="#3f936d" stroke-width="3.7" fill="none"/>
<path d="M491.5 26V56" stroke="#3f936d" stroke-width="3.3" fill="none"/>
<path d="M503.1 26V56" stroke="#3f936d" stroke-width="1.9" fill="none"/>
<path d="M538.5 26V56" stroke="#3f936d" stroke-width="3.1" fill="none"/>
<path d="M637.5 26V56" stroke="#3f936d" stroke-width="1.1" fill="none"/>
<path d="M642.5 26V56" stroke="#3f936d" stroke-width="2" fill="none"/>
<path d="M459.5 26V56M638.8 26V56" stroke="#42966d" stroke-width="1.7" fill="none"/>
<path d="M471.8 26V56M613.1 26V56" stroke="#42966d" stroke-width="1.6" fill="none"/>
<path d="M481.1 26V56M562.9 26V56M636.4 26V56" stroke="#42966d" stroke-width="1.3" fill="none"/>
<path d="M504.6 26V56" stroke="#42966d" stroke-width="1.2" fill="none"/>
<path d="M536.3 26V56" stroke="#42966d" stroke-width="1.4" fill="none"/>
<path d="M545.5 26V56" stroke="#42966d" stroke-width="3.4" fill="none"/>
<path d="M580.1 26V56" stroke="#42966d" stroke-width="2.8" fill="none"/>
<path d="M610.5 26V56" stroke="#42966d" stroke-width="3.7" fill="none"/>
<path d="M435.8 26V56M507 26V56" stroke="#44986d" stroke-width="3.7" fill="none"/>
<path d="M438.3 26V56" stroke="#44986d" stroke-width="1.4" fill="none"/>
<path d="M448.4 26V56M553.1 26V56M625.5 26V56" stroke="#44986d" stroke-width="3.8" fill="none"/>
<path d="M453.7 26V56M557.7 26V56" stroke="#44986d" stroke-width="1.7" fill="none"/>
<path d="M476.4 26V56" stroke="#44986d" stroke-width="2.6" fill="none"/>
<path d="M510.1 26V56M577.4 26V56" stroke="#44986d" stroke-width="2.8" fill="none"/>
<path d="M514.9 26V56" stroke="#44986d" stroke-width="2.2" fill="none"/>
<path d="M541.9 26V56" stroke="#44986d" stroke-width="3.9" fill="none"/>
<path d="M571.9 26V56" stroke="#44986d" stroke-width="1.5" fill="none"/>
<path d="M582.9 26V56" stroke="#44986d" stroke-width="2.7" fill="none"/>
<path d="M591.9 26V56M607.1 26V56" stroke="#44986d" stroke-width="3.3" fill="none"/>
<path d="M603.7 26V56" stroke="#44986d" stroke-width="3.5" fill="none"/>
<path d="M617.1 26V56" stroke="#44986d" stroke-width="3.4" fill="none"/>
<path d="M623.1 26V56" stroke="#44986d" stroke-width="1.1" fill="none"/>
<path d="M644.3 26V56" stroke="#44986d" stroke-width="1.6" fill="none"/>
<path d="M444.6 26V56" stroke="#479b6d" stroke-width="3.9" fill="none"/>
<path d="M452.4 26V56" stroke="#479b6d" stroke-width="1.1" fill="none"/>
<path d="M455.5 26V56M555.9 26V56" stroke="#479b6d" stroke-width="1.9" fill="none"/>
<path d="M461 26V56M599.1 26V56M614.6 26V56" stroke="#479b6d" stroke-width="1.5" fill="none"/>
<path d="M467.9 26V56" stroke="#479b6d" stroke-width="3.3" fill="none"/>
<path d="M500.2 26V56" stroke="#479b6d" stroke-width="4" fill="none"/>
<path d="M534.7 26V56M589.4 26V56" stroke="#479b6d" stroke-width="1.8" fill="none"/>
<path d="M566.1 26V56" stroke="#479b6d" stroke-width="2.9" fill="none"/>
<path d="M569.3 26V56" stroke="#479b6d" stroke-width="3.8" fill="none"/>
<path d="M574.4 26V56" stroke="#479b6d" stroke-width="3.5" fill="none"/>
<path d="M585.2 26V56" stroke="#479b6d" stroke-width="2.1" fill="none"/>
<path d="M595.3 26V56" stroke="#479b6d" stroke-width="3.6" fill="none"/>
<path d="M433.5 26V56" stroke="#499e6e" stroke-width="1.1" fill="none"/>
<path d="M441.7 26V56" stroke="#499e6e" stroke-width="2.1" fill="none"/>
<path d="M470.2 26V56" stroke="#499e6e" stroke-width="1.5" fill="none"/>
<path d="M473.9 26V56M631.4 26V56" stroke="#499e6e" stroke-width="2.7" fill="none"/>
<path d="M479.1 26V56" stroke="#499e6e" stroke-width="2.9" fill="none"/>
<path d="M486.9 26V56" stroke="#499e6e" stroke-width="3" fill="none"/>
<path d="M512.7 26V56" stroke="#499e6e" stroke-width="2.3" fill="none"/>
<path d="M519.9 26V56" stroke="#499e6e" stroke-width="3.4" fill="none"/>
<path d="M528.5 26V56" stroke="#499e6e" stroke-width="3.7" fill="none"/>
<path d="M560.4 26V56M620.7 26V56" stroke="#499e6e" stroke-width="3.9" fill="none"/>
<path d="M587.4 26V56" stroke="#499e6e" stroke-width="2.4" fill="none"/>
<path d="M597.8 26V56" stroke="#499e6e" stroke-width="1.3" fill="none"/>
<path d="M634.2 26V56" stroke="#499e6e" stroke-width="3.1" fill="none"/>
<path d="M457.6 26V56" stroke="#4ca16e" stroke-width="2.4" fill="none"/>
<path d="M489.1 26V56" stroke="#4ca16e" stroke-width="1.6" fill="none"/>
<path d="M494.7 26V56" stroke="#4ca16e" stroke-width="3.1" fill="none"/>
<path d="M549.2 26V56" stroke="#4ca16e" stroke-width="4" fill="none"/>
<path d="M600.9 26V56" stroke="#4ca16e" stroke-width="2.1" fill="none"/>
<path d="M640.6 26V56" stroke="#4ca16e" stroke-width="2" fill="none"/>
<path d="M646.1 26V56" stroke="#4ca16e" stroke-width="2.2" fill="none"/>
<path d="M439.8 26V56" stroke="#50a56e" stroke-width="1.7" fill="none"/>
<path d="M523.4 26V56" stroke="#50a56e" stroke-width="3.8" fill="none"/>
<path d="M564.1 26V56" stroke="#50a56e" stroke-width="1.1" fill="none"/>
<path d="M628.7 26V56" stroke="#50a56e" stroke-width="2.7" fill="none"/>
</g>
</g>
<g clip-path="url(#cb0)" filter="url(#bl)">
<path d="M425.5 40.4 L470 39.6 L520 39.2 L560 40.2 L600 40.6 L645.6 40" stroke="#50a56e" stroke-width="4" fill="none" opacity="0.6"/>
<path d="M425.5 40.4 L470 39.6 L520 39.2 L560 40.2 L600 40.6 L645.6 40" stroke="#87cd6c" stroke-width="1.3" fill="none"/>
</g>
<rect x="425.5" y="13.3" width="220.1" height="55.4" fill="none" stroke="#262626" stroke-width="0.9"/>
<rect x="425.5" y="74.0" width="220.1" height="55.8" fill="#fff" stroke="#262626" stroke-width="0.9"/>
<path d="M426.1 75.3C426.2 75.5 427.2 77.8 427.4 77.9C427.5 78 428.3 76.4 428.4 76.7C428.6 76.9 429 79.7 429.1 80.5C429.3 81.3 430 85.7 430.2 86.6C430.3 87.6 430.7 91.6 430.9 91.9C431 92.2 431.4 90.7 431.6 90.1C431.7 89.6 432.1 85.5 432.3 84.9C432.4 84.3 433 83.1 433.1 83.1C433.3 83.2 433.9 85.7 434 85.8C434.2 85.8 434.7 83.9 434.9 84C435 84.2 435.6 87.4 435.8 87.5C435.9 87.7 436.5 85.8 436.6 85.8C436.8 85.7 437.3 86.4 437.5 86.6C437.7 86.9 438.7 88 438.9 88.4C439.1 88.8 439.9 90.4 440.1 91C440.4 91.7 441.2 95.5 441.4 96.3C441.6 97.1 442.2 100 442.4 100.7C442.6 101.3 443.3 104.1 443.5 104.2C443.7 104.2 444.3 102.5 444.5 101.5C444.7 100.6 445.7 93.8 445.9 92.8C446.1 91.8 447 89.9 447.2 89.6C447.4 89.3 448.2 89 448.4 88.9C448.6 88.9 449.5 89.3 449.8 89.3C450 89.2 451 88.3 451.2 88.4C451.4 88.5 451.9 90.4 452.1 90.1C452.2 89.9 453.1 85.6 453.3 84.9C453.5 84.2 454.3 82.2 454.5 81.9C454.7 81.6 455.4 80.8 455.6 80.9C455.8 81 456.6 82.7 456.8 83.1C457 83.6 457.5 86.2 457.7 86.6C457.8 87.1 458.4 89.2 458.5 88.9C458.7 88.6 459.3 84.2 459.4 83.1C459.6 82.1 460.2 76.8 460.3 76.1C460.4 75.4 460.9 74.5 461 74.9C461.1 75.3 461.6 79.6 461.7 80.5C461.8 81.4 462.3 85.8 462.4 85.8C462.5 85.7 463 79.8 463.1 79.6C463.2 79.5 463.7 82.9 463.8 84C463.9 85.1 464.6 91.7 464.7 92.8C464.8 93.9 465.1 97.4 465.2 97.2C465.3 96.9 465.9 90.4 466.1 89.3C466.2 88.1 466.8 83.7 467 83.1C467.1 82.6 468 82.2 468.2 82.3C468.4 82.3 469.2 84 469.4 84C469.6 84 470.3 82.3 470.5 82.6C470.6 82.9 471.5 86.4 471.7 87.5C471.9 88.7 472.9 96 473.1 96.3C473.3 96.6 474.1 92.1 474.3 91C474.5 89.9 475.5 84.1 475.7 83.1C475.9 82.2 476.7 79.8 476.9 79.6C477.1 79.5 477.9 81 478.2 81.4C478.4 81.8 479.3 83.6 479.6 84C479.8 84.5 480.7 86.2 481 86.6C481.2 87.1 482 89.1 482.2 89.3C482.4 89.4 483.2 88.4 483.4 88.4C483.6 88.4 484.6 89.5 484.8 89.6C485.1 89.7 486 89 486.2 89.3C486.4 89.5 487.2 92.3 487.4 92.8C487.7 93.2 488.5 94.6 488.7 94.5C488.9 94.5 489.5 92.2 489.7 91.9C489.9 91.6 490.7 91.2 491 91C491.2 90.9 492 90 492.2 90.1C492.4 90.3 493.1 92.1 493.2 92.8C493.4 93.4 494 97.2 494.1 98C494.3 98.9 494.9 102.6 495 103.3C495.1 104 495.6 106.9 495.7 106.8C495.8 106.6 496.4 102.6 496.6 101.5C496.7 100.4 497.3 94.5 497.4 93.7C497.6 92.8 498.3 91 498.5 91C498.6 91 499 93.1 499.2 93.7C499.3 94.2 500.1 97.9 500.2 98C500.4 98.2 500.8 96.1 500.9 95.4C501.1 94.7 501.8 89.9 502 89.3C502.2 88.7 503 88.1 503.2 88.4C503.4 88.7 503.9 92.1 504.1 92.8C504.3 93.4 505 96.1 505.1 96.3C505.3 96.4 506 95.1 506.2 94.5C506.4 93.9 507.1 90.1 507.2 89.3C507.4 88.4 508.3 84.5 508.5 84C508.6 83.5 509.2 82.8 509.3 83.1C509.5 83.4 510.1 87 510.2 87.5C510.4 88 511 89.2 511.1 89.3C511.2 89.3 511.8 88.2 512 88.4C512.1 88.5 512.7 90.4 512.9 91C513 91.6 513.9 95 514.1 95.4C514.3 95.8 515.3 96.6 515.5 96.3C515.7 96 516.5 92.3 516.7 91.9C516.9 91.5 517.6 90.7 517.8 91C517.9 91.4 518.5 95.5 518.6 96.3C518.8 97.1 519.3 100.7 519.5 100.7C519.7 100.6 520.6 96.1 520.7 95.4C520.9 94.7 521.4 92.8 521.6 92.8C521.8 92.7 522.8 94.5 523 94.5C523.2 94.6 524.1 93.8 524.2 93.7C524.4 93.5 525 92.9 525.1 92.8C525.3 92.6 525.8 91.8 526 91.9C526.1 92 526.7 93.9 526.9 94.5C527 95.1 527.6 98.2 527.7 98.9C527.9 99.6 528.5 102.7 528.6 103.3C528.8 103.9 529.3 106 529.5 105.9C529.6 105.8 530.2 103 530.4 102.4C530.5 101.8 531.1 99.3 531.2 98.9C531.4 98.5 532 96.9 532.1 97.2C532.3 97.4 532.9 101.5 533 101.5C533.1 101.5 533.7 97.6 533.9 97.2C534 96.7 534.8 96.1 535 96.3C535.2 96.4 535.7 98.5 535.9 98.9C536 99.3 536.6 101.8 536.8 101.5C536.9 101.3 537.4 96.9 537.6 96.3C537.8 95.7 539.1 94.7 539.4 94.5C539.7 94.3 540.8 93.9 541.1 94C541.4 94.1 542.6 95 542.9 95.4C543.2 95.8 544.3 98.3 544.6 98.9C544.9 99.5 546.1 101.8 546.4 102.4C546.7 103 547.8 105.6 548.1 105.9C548.4 106.3 549.6 106.4 549.9 106.4C550.2 106.4 551.4 105.9 551.6 105.9C551.9 106 553.1 106.7 553.4 107.1C553.7 107.6 554.9 110.7 555.1 111.2C555.4 111.7 556.6 112.7 556.9 112.9C557.2 113.1 558.4 113.4 558.7 113.4C558.9 113.5 560.2 113.8 560.4 113.8C560.7 113.8 561.4 113.4 561.6 112.9C561.8 112.5 562.5 109 562.7 108.5C562.9 108.1 563.7 107.8 563.9 107.7C564.2 107.5 565.4 107.1 565.7 106.8C566 106.5 567.1 104.6 567.4 104.2C567.7 103.8 568.9 102.1 569.2 102.1C569.5 102 570.6 103 570.9 103.3C571.2 103.6 572.4 105.5 572.7 105.9C573 106.3 574.1 107.3 574.4 107.7C574.7 108 575.9 109.9 576.2 110.3C576.5 110.7 577.6 112.5 577.9 112.9C578.2 113.3 579.4 115 579.7 115.2C580 115.4 581.1 115.8 581.4 115.9C581.7 116 582.9 116.3 583.2 116.4C583.5 116.5 584.7 116.8 584.9 117C585.2 117.1 585.9 117.7 586.2 117.7C586.4 117.6 587.3 116.1 587.6 115.9C587.8 115.7 589 115.4 589.3 115.2C589.6 115 590.8 114 591.1 113.8C591.4 113.6 592.5 113.1 592.8 112.9C593.1 112.7 594.3 111.9 594.6 111.7C594.9 111.5 596 110.9 596.3 110.6C596.6 110.4 597.8 108.6 598.1 108.2C598.4 107.8 599.5 106.2 599.8 105.9C600.1 105.7 601.3 105 601.6 105C601.9 105 603 105.9 603.3 105.9C603.6 105.9 604.8 104.7 605.1 104.7C605.4 104.7 606.5 105.7 606.8 105.9C607.1 106.2 608.3 107.4 608.6 107.7C608.8 108 609.8 108.9 610 109.4C610.2 109.9 611 113.3 611.2 113.8C611.5 114.3 612.7 115.1 613 115.2C613.3 115.3 614.5 115.6 614.7 115.6C615 115.5 615.7 115 615.9 114.7C616.2 114.4 617.1 112.3 617.3 112C617.6 111.8 618.8 111.8 619.1 111.7C619.4 111.5 620.6 110.5 620.8 110.3C621.1 110.1 622.3 109.2 622.6 108.9C622.9 108.6 624.1 107 624.3 106.8C624.6 106.5 625.8 106.1 626.1 105.9C626.4 105.7 627.6 104.4 627.9 104.2C628.1 103.9 629.3 103.5 629.6 103.3C629.9 103.1 630.8 101.9 631 102.1C631.2 102.2 632 104.9 632.2 105C632.5 105.2 633.7 104.4 634 104.2C634.3 103.9 635.5 102.4 635.7 102.4C636 102.4 636.7 103.8 637 104.2C637.2 104.5 638.1 106.3 638.4 106.4C638.6 106.6 639.8 105.5 640.1 105.6C640.4 105.6 641.6 106.5 641.9 106.8C642.2 107 643.4 108.4 643.6 108.5C643.9 108.7 644.9 108.9 645 108.9" fill="none" stroke="#3699c0" stroke-width="1.0" stroke-linejoin="round"/>
<path d="M462.2 13.3v3M462.2 68.7v-3M462.2 74.0v3M462.2 129.8v-3M498.9 13.3v3M498.9 68.7v-3M498.9 74.0v3M498.9 129.8v-3M535.5 13.3v3M535.5 68.7v-3M535.5 74.0v3M535.5 129.8v-3M572.2 13.3v3M572.2 68.7v-3M572.2 74.0v3M572.2 129.8v-3M608.9 13.3v3M608.9 68.7v-3M608.9 74.0v3M608.9 129.8v-3M425.5 13.9h3M645.6 13.9h-3M425.5 32.2h3M645.6 32.2h-3M425.5 50.4h3M645.6 50.4h-3M425.5 82h3M645.6 82h-3M425.5 106h3M645.6 106h-3" stroke="#262626" stroke-width="0.9" fill="none"/>
<text x="422.2" y="17" font-size="9.0" text-anchor="end" fill="#262626">0.25</text>
<text x="422.2" y="53.5" font-size="9.0" text-anchor="end" fill="#262626">0.35</text>
<text x="422.2" y="85.1" font-size="9.0" text-anchor="end" fill="#262626">0.01</text>
<text x="422.2" y="132.9" font-size="9.0" text-anchor="end" fill="#262626">0</text>
<text x="425.5" y="140.3" font-size="9.0" text-anchor="middle" fill="#262626">0</text>
<text x="462.2" y="140.3" font-size="9.0" text-anchor="middle" fill="#262626">0.5</text>
<text x="498.9" y="140.3" font-size="9.0" text-anchor="middle" fill="#262626">1</text>
<text x="535.5" y="140.3" font-size="9.0" text-anchor="middle" fill="#262626">1.5</text>
<text x="572.2" y="140.3" font-size="9.0" text-anchor="middle" fill="#262626">2</text>
<text x="608.9" y="140.3" font-size="9.0" text-anchor="middle" fill="#262626">2.5</text>
<text x="645.6" y="140.3" font-size="9.0" text-anchor="middle" fill="#262626">3</text>
<text x="534.8" y="150.3" font-size="10.8" text-anchor="middle" fill="#262626">Time (×10<tspan font-size="6.5" dy="-3.7">4</tspan><tspan dy="3.7"> s)</tspan></text>
<text x="401.6" y="40.7" font-size="10.8" text-anchor="middle" transform="rotate(-90 401.6 40.7)" fill="#262626">ν (Hz)</text>
<text x="401.7" y="100.9" font-size="10.85" text-anchor="middle" transform="rotate(-90 401.7 100.9)" fill="#262626">Amplitude (a.u.)</text>
<text x="670.8" y="82.5" font-size="12" text-anchor="middle" transform="rotate(-90 670.8 82.5)" fill="#262626">Mode A</text>
<rect x="388.9" y="160.9" width="264.8" height="147.9" rx="12.5" fill="#efefef" stroke="#1408b4" stroke-width="2.2"/>
<clipPath id="cb1"><rect x="425.5" y="167.4" width="220.1" height="55.2"/></clipPath>
<g clip-path="url(#cb1)">
<rect x="425.5" y="167.4" width="220.1" height="55.2" fill="#4ea36e"/>
<path d="M467.3 167.4V222.6" stroke="#3a8d6c" stroke-width="3" fill="none"/>
<path d="M457.1 167.4V222.6" stroke="#3d906c" stroke-width="2.6" fill="none"/>
<path d="M487.9 167.4V222.6" stroke="#3d906c" stroke-width="1.4" fill="none"/>
<path d="M491.7 167.4V222.6" stroke="#3d906c" stroke-width="1.8" fill="none"/>
<path d="M493.8 167.4V222.6" stroke="#3d906c" stroke-width="2.3" fill="none"/>
<path d="M495.9 167.4V222.6" stroke="#3d906c" stroke-width="2" fill="none"/>
<path d="M513.1 167.4V222.6" stroke="#3d906c" stroke-width="1.3" fill="none"/>
<path d="M534 167.4V222.6" stroke="#3d906c" stroke-width="1.6" fill="none"/>
<path d="M428.7 167.4V222.6M499.6 167.4V222.6" stroke="#3f936d" stroke-width="2.3" fill="none"/>
<path d="M471.7 167.4V222.6" stroke="#3f936d" stroke-width="0.9" fill="none"/>
<path d="M535.5 167.4V222.6" stroke="#3f936d" stroke-width="1.5" fill="none"/>
<path d="M543.6 167.4V222.6" stroke="#3f936d" stroke-width="2.2" fill="none"/>
<path d="M565.2 167.4V222.6" stroke="#3f936d" stroke-width="3" fill="none"/>
<path d="M602.5 167.4V222.6M644.5 167.4V222.6" stroke="#3f936d" stroke-width="2.7" fill="none"/>
<path d="M604.7 167.4V222.6" stroke="#3f936d" stroke-width="1.8" fill="none"/>
<path d="M615.7 167.4V222.6" stroke="#3f936d" stroke-width="1.3" fill="none"/>
<path d="M437.3 167.4V222.6M524.4 167.4V222.6" stroke="#42966d" stroke-width="1.5" fill="none"/>
<path d="M442.2 167.4V222.6" stroke="#42966d" stroke-width="0.7" fill="none"/>
<path d="M446.4 167.4V222.6" stroke="#42966d" stroke-width="3" fill="none"/>
<path d="M470.1 167.4V222.6M610.6 167.4V222.6" stroke="#42966d" stroke-width="2.6" fill="none"/>
<path d="M522.5 167.4V222.6" stroke="#42966d" stroke-width="2.4" fill="none"/>
<path d="M590.8 167.4V222.6" stroke="#42966d" stroke-width="2" fill="none"/>
<path d="M427.3 167.4V222.6M539.4 167.4V222.6" stroke="#44986d" stroke-width="0.7" fill="none"/>
<path d="M516.4 167.4V222.6M619.3 167.4V222.6" stroke="#44986d" stroke-width="1.6" fill="none"/>
<path d="M518.5 167.4V222.6" stroke="#44986d" stroke-width="2.9" fill="none"/>
<path d="M561.7 167.4V222.6M570.5 167.4V222.6M573.2 167.4V222.6" stroke="#44986d" stroke-width="2.8" fill="none"/>
<path d="M606.2 167.4V222.6" stroke="#44986d" stroke-width="1.3" fill="none"/>
<path d="M623.7 167.4V222.6" stroke="#44986d" stroke-width="1.8" fill="none"/>
<path d="M638.3 167.4V222.6" stroke="#44986d" stroke-width="2.2" fill="none"/>
<path d="M450.6 167.4V222.6" stroke="#479b6d" stroke-width="2.7" fill="none"/>
<path d="M455.3 167.4V222.6" stroke="#479b6d" stroke-width="1.2" fill="none"/>
<path d="M502.1 167.4V222.6" stroke="#479b6d" stroke-width="2.8" fill="none"/>
<path d="M511.1 167.4V222.6" stroke="#479b6d" stroke-width="1.4" fill="none"/>
<path d="M537.5 167.4V222.6" stroke="#479b6d" stroke-width="1" fill="none"/>
<path d="M550 167.4V222.6" stroke="#479b6d" stroke-width="2.9" fill="none"/>
<path d="M592.8 167.4V222.6" stroke="#479b6d" stroke-width="2" fill="none"/>
<path d="M432 167.4V222.6M538.5 167.4V222.6" stroke="#499e6e" stroke-width="1.2" fill="none"/>
<path d="M458.9 167.4V222.6" stroke="#499e6e" stroke-width="1.1" fill="none"/>
<path d="M505.4 167.4V222.6" stroke="#499e6e" stroke-width="1.5" fill="none"/>
<path d="M506.8 167.4V222.6M545.3 167.4V222.6M629.8 167.4V222.6" stroke="#499e6e" stroke-width="1.3" fill="none"/>
<path d="M531.8 167.4V222.6" stroke="#499e6e" stroke-width="2.9" fill="none"/>
<path d="M555.3 167.4V222.6" stroke="#499e6e" stroke-width="2.4" fill="none"/>
<path d="M576.1 167.4V222.6M600.8 167.4V222.6" stroke="#499e6e" stroke-width="0.8" fill="none"/>
<path d="M595.3 167.4V222.6" stroke="#499e6e" stroke-width="1.8" fill="none"/>
<path d="M425.9 167.4V222.6M528.9 167.4V222.6M536.6 167.4V222.6" stroke="#4ca16e" stroke-width="0.8" fill="none"/>
<path d="M478.1 167.4V222.6M596.8 167.4V222.6" stroke="#4ca16e" stroke-width="1.3" fill="none"/>
<path d="M481.8 167.4V222.6" stroke="#4ca16e" stroke-width="3" fill="none"/>
<path d="M489.7 167.4V222.6" stroke="#4ca16e" stroke-width="2.3" fill="none"/>
<path d="M497.7 167.4V222.6" stroke="#4ca16e" stroke-width="1.6" fill="none"/>
<path d="M512.1 167.4V222.6" stroke="#4ca16e" stroke-width="0.7" fill="none"/>
<path d="M514.7 167.4V222.6" stroke="#4ca16e" stroke-width="2" fill="none"/>
<path d="M520.6 167.4V222.6M559.6 167.4V222.6M577.2 167.4V222.6" stroke="#4ca16e" stroke-width="1.5" fill="none"/>
<path d="M541.2 167.4V222.6" stroke="#4ca16e" stroke-width="2.8" fill="none"/>
<path d="M546.9 167.4V222.6" stroke="#4ca16e" stroke-width="1.9" fill="none"/>
<path d="M557.7 167.4V222.6" stroke="#4ca16e" stroke-width="2.4" fill="none"/>
<path d="M575.1 167.4V222.6" stroke="#4ca16e" stroke-width="1.2" fill="none"/>
<path d="M586.6 167.4V222.6" stroke="#4ca16e" stroke-width="1" fill="none"/>
<path d="M612.8 167.4V222.6" stroke="#4ca16e" stroke-width="1.8" fill="none"/>
<path d="M625 167.4V222.6M631.7 167.4V222.6" stroke="#4ca16e" stroke-width="0.9" fill="none"/>
<path d="M634.9 167.4V222.6" stroke="#4ca16e" stroke-width="2.9" fill="none"/>
<path d="M426.6 167.4V222.6M594.1 167.4V222.6M597.7 167.4V222.6" stroke="#50a56e" stroke-width="0.7" fill="none"/>
<path d="M430.6 167.4V222.6" stroke="#50a56e" stroke-width="1.6" fill="none"/>
<path d="M433.1 167.4V222.6M462.5 167.4V222.6" stroke="#50a56e" stroke-width="1.2" fill="none"/>
<path d="M453.3 167.4V222.6" stroke="#50a56e" stroke-width="2.7" fill="none"/>
<path d="M476.9 167.4V222.6M628.7 167.4V222.6" stroke="#50a56e" stroke-width="1.1" fill="none"/>
<path d="M479.5 167.4V222.6" stroke="#50a56e" stroke-width="1.7" fill="none"/>
<path d="M484.4 167.4V222.6" stroke="#50a56e" stroke-width="2.2" fill="none"/>
<path d="M486.4 167.4V222.6" stroke="#50a56e" stroke-width="1.9" fill="none"/>
<path d="M552.8 167.4V222.6M588.5 167.4V222.6" stroke="#50a56e" stroke-width="2.8" fill="none"/>
<path d="M567.9 167.4V222.6" stroke="#50a56e" stroke-width="2.5" fill="none"/>
<path d="M617 167.4V222.6" stroke="#50a56e" stroke-width="1.5" fill="none"/>
<path d="M639.8 167.4V222.6" stroke="#50a56e" stroke-width="1" fill="none"/>
<path d="M439.3 167.4V222.6M526.4 167.4V222.6" stroke="#54a96e" stroke-width="2.5" fill="none"/>
<path d="M448.6 167.4V222.6" stroke="#54a96e" stroke-width="1.5" fill="none"/>
<path d="M460.1 167.4V222.6" stroke="#54a96e" stroke-width="1.4" fill="none"/>
<path d="M461.4 167.4V222.6" stroke="#54a96e" stroke-width="1.1" fill="none"/>
<path d="M528.1 167.4V222.6M636.8 167.4V222.6" stroke="#54a96e" stroke-width="0.9" fill="none"/>
<path d="M579.3 167.4V222.6M641.7 167.4V222.6" stroke="#54a96e" stroke-width="2.9" fill="none"/>
<path d="M599.2 167.4V222.6" stroke="#54a96e" stroke-width="2.4" fill="none"/>
<path d="M608.1 167.4V222.6" stroke="#54a96e" stroke-width="2.6" fill="none"/>
<path d="M618.1 167.4V222.6" stroke="#54a96e" stroke-width="0.8" fill="none"/>
<path d="M441.2 167.4V222.6" stroke="#58ac6e" stroke-width="1.4" fill="none"/>
<path d="M464.4 167.4V222.6M584.7 167.4V222.6" stroke="#58ac6e" stroke-width="2.9" fill="none"/>
<path d="M472.9 167.4V222.6" stroke="#58ac6e" stroke-width="1.6" fill="none"/>
<path d="M475.1 167.4V222.6M621.5 167.4V222.6" stroke="#58ac6e" stroke-width="2.8" fill="none"/>
<path d="M508.9 167.4V222.6" stroke="#58ac6e" stroke-width="3" fill="none"/>
<path d="M529.8 167.4V222.6" stroke="#58ac6e" stroke-width="1.1" fill="none"/>
<path d="M626.8 167.4V222.6" stroke="#58ac6e" stroke-width="2.7" fill="none"/>
<path d="M443.7 167.4V222.6" stroke="#5bb06e" stroke-width="2.4" fill="none"/>
<path d="M563.4 167.4V222.6" stroke="#5bb06e" stroke-width="0.8" fill="none"/>
<path d="M614.4 167.4V222.6" stroke="#5bb06e" stroke-width="1.4" fill="none"/>
<path d="M435.2 167.4V222.6" stroke="#5fb46e" stroke-width="3" fill="none"/>
<path d="M582.1 167.4V222.6" stroke="#5fb46e" stroke-width="2.6" fill="none"/>
<path d="M632.8 167.4V222.6" stroke="#5fb46e" stroke-width="1.4" fill="none"/>
<path d="M548.2 167.4V222.6" stroke="#63b86e" stroke-width="0.9" fill="none"/>
<path d="M504.1 167.4V222.6" stroke="#68bb6e" stroke-width="1.3" fill="none"/>
<path d="M630.8 167.4V222.6" stroke="#77c46d" stroke-width="0.8" fill="none"/>
</g>
<g clip-path="url(#cb1)" filter="url(#bl)">
<path d="M425.5 191.8 L440 192.6 L480 192.8 L520 193.5 L560 193.6 L600 193.4 L645.6 193.4" stroke="#7dc76d" stroke-width="16" fill="none" opacity="0.25" filter="url(#bl2)"/>
<path d="M425.5 191.8 L440 192.6 L480 192.8 L520 193.5 L560 193.6 L600 193.4 L645.6 193.4" stroke="#72c16d" stroke-width="4" fill="none" opacity="0.6"/>
<path d="M425.5 191.8 L440 192.6 L480 192.8 L520 193.5 L560 193.6 L600 193.4 L645.6 193.4" stroke="#daf86c" stroke-width="1.3" fill="none"/>
</g>
<rect x="425.5" y="167.4" width="220.1" height="55.2" fill="none" stroke="#262626" stroke-width="0.9"/>
<rect x="425.5" y="228.5" width="220.1" height="55.7" fill="#fff" stroke="#262626" stroke-width="0.9"/>
<path d="M425.8 246C425.9 244.6 426.4 236.6 426.7 235.5C426.9 234.5 427.6 238.3 427.9 238.1C428.2 238 428.5 234.3 428.8 234.6C429 235 429.4 241.1 429.6 240.8C429.9 240.4 430.3 232.9 430.5 232C430.7 231.1 431.2 234.1 431.4 233.8C431.6 233.4 432 228.2 432.3 229.4C432.5 230.5 432.9 239.6 433.1 242.5C433.4 245.4 434 249.8 434.4 251.3C434.7 252.8 435.4 253.7 435.8 253.9C436.1 254.1 436.8 255.8 437.2 253C437.5 250.2 438.1 233.1 438.4 232.9C438.7 232.7 439.3 248.6 439.6 251.3C439.9 254 440.4 255.1 440.7 253C441 250.9 441.6 238.2 441.9 235.5C442.2 232.8 442.8 231.9 443.1 232.9C443.4 233.8 443.9 239 444.2 242.5C444.5 246 445.1 258.7 445.4 259.2C445.7 259.6 446.3 249.5 446.6 246C446.9 242.5 447.4 233.4 447.7 232.9C448 232.4 448.6 239.2 448.9 242.5C449.2 245.8 449.8 256.2 450.1 257.4C450.5 258.6 451.2 253.7 451.5 251.3C451.9 248.8 452.6 241.2 452.9 239C453.3 236.8 453.8 233 454.2 234.6C454.5 236.3 455.1 251.5 455.4 251.3C455.7 251 456.1 232.9 456.4 232.9C456.7 232.9 457.4 250.7 457.7 251.3C457.9 251.9 458.2 238.7 458.5 237.3C458.8 235.9 459.6 239.1 459.9 240.8C460.3 242.4 460.8 250.2 461.2 249.5C461.5 248.8 462.1 235 462.4 235.5C462.7 236 463.1 252.3 463.4 253C463.8 253.7 464.3 243.3 464.7 240.8C465 238.2 465.6 232.4 465.9 233.8C466.2 235.2 466.6 251.5 467 251.3C467.3 251 467.9 233.2 468.2 232C468.5 230.8 469.1 239.9 469.4 242.5C469.7 245.1 470.2 251.7 470.5 251.3C470.8 250.8 471.4 238.3 471.7 239C472 239.7 472.6 255.4 472.9 256.5C473.3 257.7 473.9 250.8 474.3 247.8C474.7 244.7 475.4 234.5 475.7 233.8C476.1 233.1 476.6 239 476.9 242.5C477.3 246 477.9 261 478.2 260C478.5 259.1 478.9 239.2 479.2 235.5C479.5 231.8 480.2 230.8 480.4 232C480.7 233.2 481.1 244.5 481.3 244.3C481.6 244 481.9 232.2 482.2 230.3C482.5 228.3 483.1 226.8 483.4 229.4C483.7 231.9 484.2 248.9 484.5 249.5C484.8 250.1 485.4 236 485.7 233.8C486 231.5 486.6 232.2 486.9 232.9C487.3 233.6 488 236.3 488.3 239C488.7 241.7 489.2 252.6 489.6 253C489.9 253.5 490.6 245 491 242.5C491.3 240.1 491.8 234.4 492.2 234.6C492.5 234.9 493.2 242.5 493.6 244.3C494 246 494.6 247.7 495 247.8C495.3 247.9 495.9 244.1 496.2 245.1C496.5 246.2 497.1 253.9 497.4 255.7C497.7 257.4 498.2 259.3 498.5 258.3C498.8 257.2 499.4 249.9 499.7 247.8C500 245.7 500.6 242.1 500.9 242.5C501.3 243 502 251.5 502.3 251.3C502.7 251 503.1 242.9 503.4 240.8C503.7 238.7 504.1 236.6 504.4 235.5C504.8 234.5 505.5 233.4 505.8 232.9C506.2 232.4 506.8 232 507.1 232C507.4 232 507.8 230.1 508.1 232.9C508.4 235.7 509.1 252.9 509.3 253C509.6 253.1 510 236.6 510.2 233.8C510.5 231 510.9 229.6 511.1 232C511.3 234.5 511.7 251.7 512 252.2C512.2 252.6 512.6 235.6 512.9 235.5C513.1 235.4 513.8 251.5 514.1 251.3C514.4 251 515 234 515.3 233.8C515.6 233.5 516.1 247.7 516.4 249.5C516.6 251.4 517.1 249.6 517.4 247.8C517.7 245.9 518.2 236.7 518.5 235.5C518.7 234.3 519.2 237.4 519.5 239C519.8 240.7 520.5 248.7 520.7 247.8C521 246.8 521.4 232 521.6 232C521.9 232 522.4 247.5 522.7 247.8C522.9 248 523.4 232.8 523.7 233.8C524 234.7 524.5 251.5 524.8 254.8C525 258.1 525.5 260.2 525.8 258.3C526.1 256.4 526.6 241.7 526.9 240.8C527.1 239.8 527.6 252 527.9 251.3C528.2 250.6 528.7 234.7 529 235.5C529.3 236.3 529.7 258.1 530 257.4C530.3 256.7 531 231.8 531.2 230.3C531.5 228.7 531.8 242.6 532.1 246C532.4 249.4 533.2 255.7 533.5 255.7C533.9 255.7 534.6 247.3 534.8 246C534.9 244.7 534.8 244.6 535 246C535.2 247.4 536.1 255.2 536.4 256.5C536.8 257.8 537.3 256.4 537.6 255.7C538 255 538.5 252.3 538.9 251.3C539.2 250.2 539.8 248.5 540.3 247.8C540.7 247.1 541.6 244.6 542 246C542.4 247.4 543.1 259.5 543.4 258.3C543.8 257.1 544.4 240.8 544.6 237.3C544.9 233.8 545.3 231.3 545.5 232C545.7 232.7 546.2 239.2 546.4 242.5C546.6 245.8 547 257 547.3 256.5C547.6 256.1 548.3 241.8 548.7 239C549 236.2 549.5 235.7 549.9 235.5C550.3 235.3 551.2 235.9 551.6 237.3C552.1 238.7 552.9 243.7 553.4 246C553.9 248.4 554.8 252.6 555.1 254.8C555.5 257 556 263.8 556.4 262.7C556.7 261.5 557.4 249.2 557.8 246C558.1 242.9 558.8 240.2 559.2 239C559.5 237.8 560.1 234.9 560.4 237.3C560.7 239.6 561.3 255.8 561.6 256.5C561.9 257.2 562.4 245.9 562.7 242.5C562.9 239.1 563.1 229.3 563.4 231.1C563.6 233 564.2 255 564.4 256.5C564.7 258.1 564.9 245.6 565.1 242.5C565.4 239.5 566 232 566.2 233.8C566.4 235.5 566.7 255.5 566.9 255.7C567.1 255.8 567.7 237.7 567.9 234.6C568.2 231.6 568.4 230.7 568.6 232.9C568.9 235.1 569.4 247.8 569.7 251.3C570 254.8 570.6 259.9 570.9 259.2C571.2 258.5 571.8 249.2 572.1 246C572.4 242.9 572.9 235.7 573.2 235.5C573.5 235.3 574.1 242.2 574.4 244.3C574.7 246.4 575.3 248.8 575.6 251.3C576 253.7 576.7 261.7 577 262.7C577.4 263.6 578.1 258.8 578.4 258.3C578.8 257.8 579.3 260.3 579.7 259.2C580 258 580.6 252.9 580.9 249.5C581.3 246.1 581.9 234.7 582.3 233.8C582.7 232.8 583.4 240.2 583.7 242.5C584.1 244.9 584.6 251.5 584.9 251.3C585.3 251 585.9 242.6 586.2 240.8C586.5 238.9 586.9 236.1 587.2 237.3C587.5 238.4 588.1 246.4 588.4 249.5C588.8 252.7 589.4 260.2 589.7 260.9C590 261.6 590.4 257.5 590.7 254.8C591 252.1 591.6 243.6 591.9 240.8C592.3 238 592.9 234.5 593.2 233.8C593.5 233.1 594 232.9 594.2 235.5C594.4 238.1 594.7 253.1 594.9 253C595.1 252.9 595.4 234.8 595.6 234.6C595.9 234.5 596.4 252 596.7 252.2C596.9 252.3 597.4 237.4 597.7 235.5C598 233.6 598.6 237.4 598.9 238.1C599.3 238.8 599.8 239.5 600.2 240.8C600.5 242.1 601.2 245.9 601.6 247.8C601.9 249.6 602.6 252.4 603 254.8C603.3 257.1 603.9 266.9 604.2 265.3C604.5 263.7 605.1 246.6 605.4 242.5C605.7 238.4 606.2 233.5 606.5 234.6C606.7 235.8 606.9 251.4 607.2 251.3C607.4 251.2 607.9 236.2 608.2 233.8C608.5 231.3 609.1 229.4 609.5 232.9C609.8 236.4 610.4 258.5 610.7 260C611 261.6 611.4 246.6 611.7 244.3C612 241.9 612.6 241.8 613 242.5C613.3 243.2 613.9 247.9 614.2 249.5C614.5 251.2 614.9 253 615.2 254.8C615.5 256.5 616.1 263.1 616.5 262.7C616.8 262.2 617.4 254 617.7 251.3C618 248.6 618.4 242.8 618.7 242.5C619 242.3 619.6 249.1 620 249.5C620.3 250 620.8 248.2 621.2 246C621.5 243.8 622.2 232.9 622.6 232.9C622.9 232.9 623.5 242.4 623.8 246C624.2 249.6 624.9 259.1 625.2 260C625.6 261 626.1 254.2 626.5 253C626.8 251.9 627.5 252.7 627.9 251.3C628.2 249.9 628.7 244.7 629.1 242.5C629.4 240.3 630.1 233.9 630.5 234.6C630.8 235.3 631.4 244.9 631.7 247.8C632 250.7 632.5 254.5 632.8 256.5C633.1 258.5 633.7 263.1 634 262.7C634.3 262.2 634.9 256.4 635.2 253C635.5 249.6 636 239.8 636.3 237.3C636.5 234.7 636.7 231.3 637 233.8C637.2 236.2 637.7 255.7 638 255.7C638.3 255.7 638.8 236.7 639.1 233.8C639.3 230.8 639.8 230.4 640.1 233.8C640.4 237.1 640.9 255.7 641.2 259.2C641.4 262.7 641.9 260.4 642.2 260C642.5 259.7 643 258.9 643.3 256.5C643.6 254.2 644.2 245.1 644.5 242.5C644.8 239.9 645.3 238 645.4 237.3" fill="none" stroke="#3699c0" stroke-width="1.0" stroke-linejoin="round"/>
<path d="M462.2 167.4v3M462.2 222.6v-3M462.2 228.5v3M462.2 284.2v-3M498.9 167.4v3M498.9 222.6v-3M498.9 228.5v3M498.9 284.2v-3M535.5 167.4v3M535.5 222.6v-3M535.5 228.5v3M535.5 284.2v-3M572.2 167.4v3M572.2 222.6v-3M572.2 228.5v3M572.2 284.2v-3M608.9 167.4v3M608.9 222.6v-3M608.9 228.5v3M608.9 284.2v-3M425.5 183.3h3M645.6 183.3h-3M425.5 196.4h3M645.6 196.4h-3M425.5 209.6h3M645.6 209.6h-3M425.5 244.1h3M645.6 244.1h-3M425.5 264.2h3M645.6 264.2h-3" stroke="#262626" stroke-width="0.9" fill="none"/>
<text x="422.2" y="186.4" font-size="9.0" text-anchor="end" fill="#262626">1.4</text>
<text x="422.2" y="212.7" font-size="9.0" text-anchor="end" fill="#262626">1.5</text>
<text x="422.2" y="247.2" font-size="9.0" text-anchor="end" fill="#262626">0.1</text>
<text x="422.2" y="287.3" font-size="9.0" text-anchor="end" fill="#262626">0</text>
<text x="425.5" y="294.7" font-size="9.0" text-anchor="middle" fill="#262626">0</text>
<text x="462.2" y="294.7" font-size="9.0" text-anchor="middle" fill="#262626">0.5</text>
<text x="498.9" y="294.7" font-size="9.0" text-anchor="middle" fill="#262626">1</text>
<text x="535.5" y="294.7" font-size="9.0" text-anchor="middle" fill="#262626">1.5</text>
<text x="572.2" y="294.7" font-size="9.0" text-anchor="middle" fill="#262626">2</text>
<text x="608.9" y="294.7" font-size="9.0" text-anchor="middle" fill="#262626">2.5</text>
<text x="645.6" y="294.7" font-size="9.0" text-anchor="middle" fill="#262626">3</text>
<text x="534.8" y="304.7" font-size="10.8" text-anchor="middle" fill="#262626">Time (×10<tspan font-size="6.5" dy="-3.7">4</tspan><tspan dy="3.7"> s)</tspan></text>
<text x="401.6" y="194.7" font-size="10.8" text-anchor="middle" transform="rotate(-90 401.6 194.7)" fill="#262626">ν (Hz)</text>
<text x="401.7" y="255.4" font-size="10.85" text-anchor="middle" transform="rotate(-90 401.7 255.4)" fill="#262626">Amplitude (a.u.)</text>
<text x="670.8" y="237.4" font-size="12" text-anchor="middle" transform="rotate(-90 670.8 237.4)" fill="#262626">Mode B</text>
<rect x="388.9" y="315.4" width="264.8" height="148" rx="12.5" fill="#efefef" stroke="#f0502a" stroke-width="2.2"/>
<clipPath id="cb2"><rect x="425.5" y="321.5" width="220.1" height="55.7"/></clipPath>
<g clip-path="url(#cb2)">
<rect x="425.5" y="321.5" width="220.1" height="55.7" fill="#58ac6e"/>
<path d="M436.6 321.5V377.2" stroke="#42966d" stroke-width="1.6" fill="none"/>
<path d="M472.3 321.5V377.2M482.9 321.5V377.2" stroke="#42966d" stroke-width="1.1" fill="none"/>
<path d="M513.4 321.5V377.2" stroke="#42966d" stroke-width="0.7" fill="none"/>
<path d="M527.7 321.5V377.2" stroke="#42966d" stroke-width="1.4" fill="none"/>
<path d="M535 321.5V377.2M562.8 321.5V377.2" stroke="#42966d" stroke-width="2.9" fill="none"/>
<path d="M575.7 321.5V377.2" stroke="#42966d" stroke-width="2.3" fill="none"/>
<path d="M577.9 321.5V377.2" stroke="#42966d" stroke-width="2.2" fill="none"/>
<path d="M605.8 321.5V377.2" stroke="#42966d" stroke-width="2.7" fill="none"/>
<path d="M459 321.5V377.2" stroke="#44986d" stroke-width="0.7" fill="none"/>
<path d="M537.4 321.5V377.2M587.5 321.5V377.2" stroke="#44986d" stroke-width="2" fill="none"/>
<path d="M591.3 321.5V377.2" stroke="#44986d" stroke-width="0.8" fill="none"/>
<path d="M592.4 321.5V377.2M630.4 321.5V377.2" stroke="#44986d" stroke-width="1.5" fill="none"/>
<path d="M593.8 321.5V377.2" stroke="#44986d" stroke-width="1.4" fill="none"/>
<path d="M595.1 321.5V377.2M617.5 321.5V377.2" stroke="#44986d" stroke-width="1.2" fill="none"/>
<path d="M640.4 321.5V377.2" stroke="#44986d" stroke-width="2.4" fill="none"/>
<path d="M434.5 321.5V377.2" stroke="#479b6d" stroke-width="2.7" fill="none"/>
<path d="M463 321.5V377.2" stroke="#479b6d" stroke-width="1.3" fill="none"/>
<path d="M479.3 321.5V377.2" stroke="#479b6d" stroke-width="0.8" fill="none"/>
<path d="M489.5 321.5V377.2" stroke="#479b6d" stroke-width="1" fill="none"/>
<path d="M505.4 321.5V377.2M546.4 321.5V377.2" stroke="#479b6d" stroke-width="1.9" fill="none"/>
<path d="M507.7 321.5V377.2" stroke="#479b6d" stroke-width="2.9" fill="none"/>
<path d="M529.6 321.5V377.2" stroke="#479b6d" stroke-width="2.3" fill="none"/>
<path d="M541.6 321.5V377.2" stroke="#479b6d" stroke-width="2.6" fill="none"/>
<path d="M571.5 321.5V377.2" stroke="#479b6d" stroke-width="3" fill="none"/>
<path d="M583 321.5V377.2" stroke="#479b6d" stroke-width="2.8" fill="none"/>
<path d="M589.7 321.5V377.2" stroke="#479b6d" stroke-width="2.5" fill="none"/>
<path d="M600.6 321.5V377.2" stroke="#479b6d" stroke-width="2.4" fill="none"/>
<path d="M429.2 321.5V377.2" stroke="#499e6e" stroke-width="0.7" fill="none"/>
<path d="M496.5 321.5V377.2" stroke="#499e6e" stroke-width="2.8" fill="none"/>
<path d="M501.6 321.5V377.2" stroke="#499e6e" stroke-width="2.3" fill="none"/>
<path d="M519.7 321.5V377.2M646.1 321.5V377.2" stroke="#499e6e" stroke-width="3" fill="none"/>
<path d="M521.9 321.5V377.2" stroke="#499e6e" stroke-width="1.5" fill="none"/>
<path d="M523.6 321.5V377.2M539.3 321.5V377.2" stroke="#499e6e" stroke-width="2" fill="none"/>
<path d="M532.1 321.5V377.2M584.9 321.5V377.2" stroke="#499e6e" stroke-width="1.1" fill="none"/>
<path d="M580.3 321.5V377.2M624.3 321.5V377.2" stroke="#499e6e" stroke-width="2.6" fill="none"/>
<path d="M586 321.5V377.2" stroke="#499e6e" stroke-width="1.2" fill="none"/>
<path d="M628.9 321.5V377.2" stroke="#499e6e" stroke-width="1.6" fill="none"/>
<path d="M430.1 321.5V377.2" stroke="#4ca16e" stroke-width="1.3" fill="none"/>
<path d="M449.9 321.5V377.2M510 321.5V377.2" stroke="#4ca16e" stroke-width="1.9" fill="none"/>
<path d="M464.1 321.5V377.2" stroke="#4ca16e" stroke-width="0.9" fill="none"/>
<path d="M488.4 321.5V377.2" stroke="#4ca16e" stroke-width="1.4" fill="none"/>
<path d="M632.4 321.5V377.2" stroke="#4ca16e" stroke-width="2.5" fill="none"/>
<path d="M437.9 321.5V377.2" stroke="#50a56e" stroke-width="1" fill="none"/>
<path d="M452.8 321.5V377.2" stroke="#50a56e" stroke-width="2.6" fill="none"/>
<path d="M484.6 321.5V377.2" stroke="#50a56e" stroke-width="2.4" fill="none"/>
<path d="M500 321.5V377.2" stroke="#50a56e" stroke-width="1.1" fill="none"/>
<path d="M516.9 321.5V377.2" stroke="#50a56e" stroke-width="2.8" fill="none"/>
<path d="M548.3 321.5V377.2" stroke="#50a56e" stroke-width="2" fill="none"/>
<path d="M568.7 321.5V377.2" stroke="#50a56e" stroke-width="2.7" fill="none"/>
<path d="M638.6 321.5V377.2" stroke="#50a56e" stroke-width="1.2" fill="none"/>
<path d="M642.5 321.5V377.2" stroke="#50a56e" stroke-width="1.9" fill="none"/>
<path d="M438.7 321.5V377.2" stroke="#54a96e" stroke-width="0.8" fill="none"/>
<path d="M481 321.5V377.2M603.1 321.5V377.2" stroke="#54a96e" stroke-width="2.8" fill="none"/>
<path d="M486.8 321.5V377.2" stroke="#54a96e" stroke-width="1.9" fill="none"/>
<path d="M544.2 321.5V377.2" stroke="#54a96e" stroke-width="2.7" fill="none"/>
<path d="M551.3 321.5V377.2M557.3 321.5V377.2" stroke="#54a96e" stroke-width="2.5" fill="none"/>
<path d="M596.3 321.5V377.2" stroke="#54a96e" stroke-width="1.4" fill="none"/>
<path d="M426.2 321.5V377.2" stroke="#58ac6e" stroke-width="1.4" fill="none"/>
<path d="M432 321.5V377.2" stroke="#58ac6e" stroke-width="2.4" fill="none"/>
<path d="M443 321.5V377.2" stroke="#58ac6e" stroke-width="1.9" fill="none"/>
<path d="M445 321.5V377.2M460.5 321.5V377.2M613.1 321.5V377.2" stroke="#58ac6e" stroke-width="2.2" fill="none"/>
<path d="M451.2 321.5V377.2" stroke="#58ac6e" stroke-width="0.8" fill="none"/>
<path d="M462 321.5V377.2" stroke="#58ac6e" stroke-width="0.9" fill="none"/>
<path d="M465.9 321.5V377.2" stroke="#58ac6e" stroke-width="2.9" fill="none"/>
<path d="M473.8 321.5V377.2" stroke="#58ac6e" stroke-width="1.8" fill="none"/>
<path d="M475.7 321.5V377.2" stroke="#58ac6e" stroke-width="2" fill="none"/>
<path d="M525.8 321.5V377.2" stroke="#58ac6e" stroke-width="2.5" fill="none"/>
<path d="M533.1 321.5V377.2" stroke="#58ac6e" stroke-width="1" fill="none"/>
<path d="M553.5 321.5V377.2M566.3 321.5V377.2" stroke="#58ac6e" stroke-width="2.1" fill="none"/>
<path d="M610.6 321.5V377.2" stroke="#58ac6e" stroke-width="2.8" fill="none"/>
<path d="M626.8 321.5V377.2" stroke="#58ac6e" stroke-width="2.6" fill="none"/>
<path d="M447.5 321.5V377.2" stroke="#5bb06e" stroke-width="2.9" fill="none"/>
<path d="M468.6 321.5V377.2" stroke="#5bb06e" stroke-width="2.5" fill="none"/>
<path d="M470.8 321.5V377.2" stroke="#5bb06e" stroke-width="2" fill="none"/>
<path d="M498.6 321.5V377.2M622.2 321.5V377.2" stroke="#5bb06e" stroke-width="1.6" fill="none"/>
<path d="M512 321.5V377.2" stroke="#5bb06e" stroke-width="2.1" fill="none"/>
<path d="M549.7 321.5V377.2" stroke="#5bb06e" stroke-width="0.8" fill="none"/>
<path d="M559.9 321.5V377.2" stroke="#5bb06e" stroke-width="2.8" fill="none"/>
<path d="M573.8 321.5V377.2" stroke="#5bb06e" stroke-width="1.7" fill="none"/>
<path d="M607.6 321.5V377.2M608.7 321.5V377.2" stroke="#5bb06e" stroke-width="1.1" fill="none"/>
<path d="M440.6 321.5V377.2" stroke="#5fb46e" stroke-width="3" fill="none"/>
<path d="M491.4 321.5V377.2" stroke="#5fb46e" stroke-width="2.8" fill="none"/>
<path d="M503.6 321.5V377.2" stroke="#5fb46e" stroke-width="1.8" fill="none"/>
<path d="M555.3 321.5V377.2" stroke="#5fb46e" stroke-width="1.6" fill="none"/>
<path d="M599 321.5V377.2" stroke="#5fb46e" stroke-width="0.8" fill="none"/>
<path d="M427.9 321.5V377.2" stroke="#63b86e" stroke-width="2.1" fill="none"/>
<path d="M455.4 321.5V377.2" stroke="#63b86e" stroke-width="2.6" fill="none"/>
<path d="M477.8 321.5V377.2" stroke="#63b86e" stroke-width="2.3" fill="none"/>
<path d="M493.9 321.5V377.2" stroke="#63b86e" stroke-width="2.4" fill="none"/>
<path d="M514.6 321.5V377.2M620.5 321.5V377.2" stroke="#63b86e" stroke-width="1.8" fill="none"/>
<path d="M644 321.5V377.2" stroke="#63b86e" stroke-width="1.2" fill="none"/>
<path d="M457.7 321.5V377.2" stroke="#68bb6e" stroke-width="2.1" fill="none"/>
<path d="M531.1 321.5V377.2" stroke="#68bb6e" stroke-width="0.9" fill="none"/>
<path d="M564.8 321.5V377.2" stroke="#68bb6e" stroke-width="1.2" fill="none"/>
<path d="M615.5 321.5V377.2" stroke="#68bb6e" stroke-width="2.8" fill="none"/>
<path d="M618.8 321.5V377.2" stroke="#68bb6e" stroke-width="1.6" fill="none"/>
<path d="M637.2 321.5V377.2" stroke="#68bb6e" stroke-width="1.7" fill="none"/>
<path d="M597.8 321.5V377.2" stroke="#72c16d" stroke-width="1.7" fill="none"/>
<path d="M635 321.5V377.2" stroke="#77c46d" stroke-width="2.9" fill="none"/>
</g>
<g clip-path="url(#cb2)" filter="url(#bl)">
<path d="M425.5 348.6 L470 350.2 L510 352.3 L540 354 L580 355.6 L620 356.3 L645.6 356.5" stroke="#7dc76d" stroke-width="16" fill="none" opacity="0.25" filter="url(#bl2)"/>
<path d="M425.5 348.6 L470 350.2 L510 352.3 L540 354 L580 355.6 L620 356.3 L645.6 356.5" stroke="#72c16d" stroke-width="4" fill="none" opacity="0.6"/>
<path d="M425.5 348.6 L470 350.2 L510 352.3 L540 354 L580 355.6 L620 356.3 L645.6 356.5" stroke="#daf86c" stroke-width="1.3" fill="none"/>
<path d="M500 329 L535 327.8 L570 328.3 L600 329.5 L645 331" stroke="#72c16d" stroke-width="1" fill="none" opacity="0.55"/>
</g>
<rect x="425.5" y="321.5" width="220.1" height="55.7" fill="none" stroke="#262626" stroke-width="0.9"/>
<rect x="425.5" y="382.6" width="220.1" height="55.2" fill="#fff" stroke="#262626" stroke-width="0.9"/>
<path d="M425.8 406.9C426 408.2 427 416.2 427.4 416.5C427.8 416.9 428.4 412.1 428.8 409.5C429.1 407 429.9 399.4 430.2 397.3C430.5 395.1 430.8 393.2 431 393.4C431.3 393.7 431.7 396.8 431.9 399C432.1 401.3 432.4 410.9 432.6 410.4C432.8 409.9 433.4 397.4 433.7 395.5C433.9 393.7 434.3 394.3 434.5 396.4C434.8 398.5 435.2 411.2 435.4 411.3C435.6 411.4 435.9 398.2 436.1 397.3C436.3 396.3 436.8 404.3 437 404.3C437.2 404.3 437.3 396.6 437.5 397.3C437.7 398 438.2 409.3 438.4 409.5C438.6 409.8 439 398.2 439.3 399C439.5 399.8 439.9 415.1 440.1 415.7C440.4 416.3 441.1 403.9 441.4 403.4C441.7 402.9 442.1 409.9 442.4 412.2C442.7 414.4 443.4 419.2 443.7 420C443.9 420.9 444.2 419.7 444.5 418.3C444.8 416.9 445.6 411.6 445.9 409.5C446.3 407.4 446.8 403.6 447.2 402.5C447.5 401.4 448 400.4 448.4 401.1C448.7 401.8 449.4 406 449.8 407.8C450.2 409.6 450.8 414.3 451.2 414.8C451.5 415.3 452.1 412.5 452.4 411.3C452.7 410.1 453.3 406.5 453.6 406C453.9 405.6 454.4 406.8 454.7 407.8C455 408.7 455.6 413 455.9 413C456.2 413 456.6 410.2 456.8 407.8C457 405.3 457.4 396.6 457.7 394.6C457.9 392.7 458.3 392.1 458.5 392.9C458.8 393.7 459.2 398.6 459.4 400.8C459.7 403 460.1 409.1 460.3 409.5C460.5 410 460.9 405.9 461.2 404.3C461.4 402.6 461.8 398.8 462 397.3C462.3 395.8 462.7 393.8 462.9 392.9C463.2 392 463.5 390.7 463.8 390.3C464.1 389.8 464.8 389.4 465.2 389.4C465.6 389.4 466.1 388.7 466.4 390.3C466.8 391.8 467.3 397.9 467.7 400.8C468 403.7 468.4 413 468.7 412.2C469 411.3 469.6 397.9 469.9 394.6C470.2 391.4 470.6 386.1 470.8 387.6C471 389.2 471.4 405.7 471.7 406C471.9 406.4 472.3 392.9 472.6 390.3C472.8 387.6 473.2 384.5 473.4 385.9C473.7 387.3 474.3 396.6 474.7 400.8C475 405 475.7 417.7 476.1 417.4C476.4 417.2 477.1 403.3 477.5 399C477.8 394.7 478.4 386.4 478.7 385C479 383.6 479.3 385.4 479.6 388.5C479.8 391.7 480.2 407.7 480.4 408.7C480.7 409.6 481.4 398.7 481.7 395.5C481.9 392.4 482.3 386.1 482.5 385C482.8 384 483.2 384 483.4 387.6C483.7 391.3 484.2 410.2 484.5 412.2C484.8 414.1 485.4 405.9 485.7 402.5C486 399.1 486.6 389.1 486.9 386.8C487.2 384.4 487.5 383.4 487.8 385C488.1 386.6 488.6 395.5 488.9 399C489.1 402.5 489.4 412.2 489.7 411.3C490 410.4 490.6 395.6 491 392C491.3 388.4 491.9 385.3 492.2 384.1C492.5 383 492.9 382.1 493.2 383.3C493.5 384.4 494.1 390.6 494.5 392.9C494.8 395.2 495.3 398.3 495.7 400.8C496 403.2 496.7 409.3 497.1 411.3C497.5 413.3 498.1 416.4 498.5 415.7C498.8 415 499.4 409.2 499.7 406C500 402.9 500.6 394.7 500.9 392C501.2 389.3 501.7 385.9 502 385.9C502.3 385.9 502.9 389.7 503.2 392C503.5 394.4 503.8 400.6 504.1 403.4C504.3 406.2 504.9 412.9 505.1 413C505.4 413.2 505.9 407.1 506.2 404.3C506.5 401.5 507 393.9 507.2 392C507.5 390.1 507.8 389.3 508.1 390.3C508.4 391.2 509 396.2 509.3 399C509.7 401.8 510.4 410.9 510.7 411.3C511.1 411.6 511.6 403.2 512 401.7C512.3 400.1 512.9 400 513.2 399.9C513.6 399.8 514.2 399.6 514.6 400.8C515 401.9 515.7 406.8 516 408.7C516.3 410.5 516.5 415.1 516.7 414.8C516.9 414.4 517.5 408.1 517.8 406C518.1 403.9 518.7 400.1 519 399C519.3 398 519.9 398.4 520.2 398.1C520.6 397.9 521.2 397.7 521.6 397.3C522 396.8 522.9 395.1 523.4 394.6C523.8 394.2 524.4 394.1 524.8 393.8C525.1 393.4 525.7 391.8 526 392C526.3 392.2 526.6 392.7 526.9 395.5C527.1 398.3 527.5 412.9 527.7 413C528 413.2 528.4 398.7 528.6 396.4C528.9 394.1 529.2 393.7 529.5 395.5C529.8 397.4 530.4 410.2 530.7 410.4C531 410.6 531.4 397.6 531.6 397.3C531.8 396.9 532.2 407.7 532.5 407.8C532.7 407.9 533.1 397.7 533.3 398.1C533.6 398.6 534 411.2 534.2 411.3C534.4 411.4 534.8 399.3 535 399C535.2 398.8 535.6 408.8 535.9 409.5C536.1 410.2 536.4 404.7 536.8 404.3C537.1 403.8 537.8 404.4 538.2 406C538.5 407.7 539 414.2 539.4 416.5C539.8 418.9 540.7 422.8 541.1 423.6C541.5 424.3 542 423.2 542.4 421.8C542.7 420.4 543.4 414.8 543.8 413C544.1 411.3 544.8 409.1 545.2 408.7C545.5 408.2 546.1 408.6 546.4 409.5C546.7 410.5 547 415.2 547.3 415.7C547.5 416.1 548 415 548.3 413C548.6 411.1 549.1 401.9 549.4 400.8C549.6 399.6 550.2 402.4 550.4 404.3C550.7 406.1 550.9 414.7 551.1 414.8C551.3 414.9 551.8 406 552 405.2C552.2 404.3 552.6 406.8 552.9 408.7C553.1 410.5 553.6 418.8 553.9 419.2C554.2 419.5 554.9 412.8 555.1 411.3C555.4 409.8 555.8 407.7 556 407.8C556.3 407.9 556.8 409.9 557.1 412.2C557.4 414.4 557.8 423.1 558.1 424.4C558.4 425.7 558.9 422.4 559.2 421.8C559.5 421.2 560.1 420.1 560.4 420C560.7 420 561.3 421.2 561.6 421.4C562 421.7 562.7 422.2 563 421.8C563.4 421.4 564.1 419 564.4 418.3C564.8 417.6 565.3 416.9 565.7 416.5C566.1 416.2 566.9 415.8 567.4 415.7C567.9 415.5 568.7 415.5 569.2 415.7C569.6 415.8 570.4 416.3 570.9 416.5C571.4 416.8 572.3 417 572.7 417.4C573.1 417.9 573.6 419 573.9 420C574.2 421.1 574.6 424.3 574.9 425.3C575.2 426.4 575.9 427.9 576.2 427.9C576.5 427.9 576.7 425.3 577 425.3C577.3 425.3 578.1 427.3 578.4 427.9C578.8 428.5 579.3 429.4 579.7 429.7C580.1 430 581 430.3 581.4 430.2C581.9 430.1 582.7 429.3 583.2 429.2C583.6 429 584.6 429.9 584.9 429.2C585.3 428.4 585.6 424.8 585.8 423.6C586 422.3 586.4 420.6 586.7 420C586.9 419.5 587.3 418.8 587.6 419.2C587.8 419.5 588.2 421.7 588.4 422.7C588.7 423.6 589 426.5 589.3 426.2C589.6 425.8 590.4 421.2 590.7 420C591.1 418.9 591.6 417.4 591.9 417.4C592.3 417.4 593 419.6 593.3 420C593.7 420.5 594.2 420.7 594.6 420.9C594.9 421.2 595.6 421.9 596 421.8C596.3 421.7 596.8 420.2 597.2 420C597.6 419.9 598.5 421 598.9 420.9C599.4 420.8 600.2 419.3 600.7 419.2C601.2 419.1 602 420.4 602.4 420C602.9 419.7 603.9 416.5 604.2 416.5C604.6 416.5 604.8 419 605.1 420C605.3 421.1 605.7 424.3 606 424.4C606.2 424.5 606.6 422.1 606.8 420.9C607.1 419.8 607.5 416.6 607.7 415.7C607.9 414.7 608.3 413.9 608.6 413.9C608.9 413.9 609.6 415.8 610 415.7C610.3 415.5 610.9 413.7 611.2 413C611.5 412.3 611.8 410.9 612.1 410.4C612.4 409.9 613.1 409.3 613.5 409.5C613.8 409.8 614.4 412.2 614.7 412.2C615 412.2 615.6 410.4 615.9 409.5C616.3 408.7 617 406.7 617.3 406C617.7 405.3 618.4 404.4 618.7 404.3C619.1 404.2 619.6 405.3 620 405.2C620.3 405 620.8 403.5 621.2 403.4C621.5 403.3 622.2 404 622.6 404.3C623 404.5 623.6 404 624 405.2C624.3 406.3 624.9 411.1 625.2 413C625.5 415 625.8 418.9 626.1 420C626.4 421.2 627.2 422.3 627.5 421.8C627.9 421.3 628.4 417.5 628.7 416.5C629.1 415.6 629.6 414.7 630 414.8C630.3 414.9 631 416.6 631.4 417.4C631.7 418.2 632.1 421.5 632.4 420.9C632.7 420.3 633.1 415.3 633.5 413C633.8 410.8 634.5 405.7 634.9 404.3C635.2 402.9 635.9 402.5 636.3 402.5C636.6 402.5 637.2 404.2 637.5 404.3C637.8 404.4 638.1 402.7 638.4 403.4C638.6 404.1 639 407.7 639.2 409.5C639.5 411.4 639.9 416.3 640.1 417.4C640.3 418.6 640.7 418.9 641 418.3C641.3 417.7 641.9 415.4 642.2 413C642.5 410.7 643 403.2 643.3 400.8C643.5 398.3 643.7 395.8 644 394.6C644.2 393.5 644.9 392.4 645 392" fill="none" stroke="#3699c0" stroke-width="1.0" stroke-linejoin="round"/>
<path d="M462.2 321.5v3M462.2 377.2v-3M462.2 382.6v3M462.2 437.8v-3M498.9 321.5v3M498.9 377.2v-3M498.9 382.6v3M498.9 437.8v-3M535.5 321.5v3M535.5 377.2v-3M535.5 382.6v3M535.5 437.8v-3M572.2 321.5v3M572.2 377.2v-3M572.2 382.6v3M572.2 437.8v-3M608.9 321.5v3M608.9 377.2v-3M608.9 382.6v3M608.9 437.8v-3M425.5 322.2h3M645.6 322.2h-3M425.5 340.9h3M645.6 340.9h-3M425.5 359.6h3M645.6 359.6h-3M425.5 403.6h3M645.6 403.6h-3M425.5 420.7h3M645.6 420.7h-3" stroke="#262626" stroke-width="0.9" fill="none"/>
<text x="422.2" y="325.3" font-size="9.0" text-anchor="end" fill="#262626">7.2</text>
<text x="422.2" y="362.7" font-size="9.0" text-anchor="end" fill="#262626">7.3</text>
<text x="422.2" y="406.7" font-size="9.0" text-anchor="end" fill="#262626">0.2</text>
<text x="422.2" y="440.9" font-size="9.0" text-anchor="end" fill="#262626">0</text>
<text x="425.5" y="448.3" font-size="9.0" text-anchor="middle" fill="#262626">0</text>
<text x="462.2" y="448.3" font-size="9.0" text-anchor="middle" fill="#262626">0.5</text>
<text x="498.9" y="448.3" font-size="9.0" text-anchor="middle" fill="#262626">1</text>
<text x="535.5" y="448.3" font-size="9.0" text-anchor="middle" fill="#262626">1.5</text>
<text x="572.2" y="448.3" font-size="9.0" text-anchor="middle" fill="#262626">2</text>
<text x="608.9" y="448.3" font-size="9.0" text-anchor="middle" fill="#262626">2.5</text>
<text x="645.6" y="448.3" font-size="9.0" text-anchor="middle" fill="#262626">3</text>
<text x="534.8" y="458.3" font-size="10.8" text-anchor="middle" fill="#262626">Time (×10<tspan font-size="6.5" dy="-3.7">4</tspan><tspan dy="3.7"> s)</tspan></text>
<text x="401.6" y="349.1" font-size="10.8" text-anchor="middle" transform="rotate(-90 401.6 349.1)" fill="#262626">ν (Hz)</text>
<text x="401.7" y="409.2" font-size="10.85" text-anchor="middle" transform="rotate(-90 401.7 409.2)" fill="#262626">Amplitude (a.u.)</text>
<text x="670.8" y="391.9" font-size="12" text-anchor="middle" transform="rotate(-90 670.8 391.9)" fill="#262626">Mode C</text>
<defs>
<linearGradient id="fadeUp" x1="0" y1="0" x2="0" y2="1"><stop offset="0" stop-color="#fff" stop-opacity="0"/><stop offset="1" stop-color="#fff" stop-opacity="1"/></linearGradient>
<linearGradient id="fadeDn" x1="0" y1="0" x2="0" y2="1"><stop offset="0" stop-color="#fff" stop-opacity="1"/><stop offset="1" stop-color="#fff" stop-opacity="0"/></linearGradient>
<linearGradient id="fadeR" x1="0" y1="0" x2="1" y2="0"><stop offset="0" stop-color="#fff" stop-opacity="1"/><stop offset="0.45" stop-color="#fff" stop-opacity="0.6"/><stop offset="1" stop-color="#fff" stop-opacity="0.15"/></linearGradient>
<mask id="mC1" maskUnits="userSpaceOnUse" x="30" y="640" width="610" height="40"><rect x="30" y="652" width="610" height="23" fill="url(#fadeUp)"/></mask>
<mask id="mC2" maskUnits="userSpaceOnUse" x="30" y="670" width="610" height="50"><rect x="30" y="675" width="610" height="35" fill="url(#fadeDn)"/></mask>
<mask id="mC3" maskUnits="userSpaceOnUse" x="30" y="500" width="610" height="230"><rect x="30" y="500" width="610" height="230" fill="url(#fadeR)"/></mask>
</defs>
<g clip-path="url(#cC)">
<rect x="35.5" y="508.6" width="600.5" height="219.7" fill="#3d906c"/>
<path d="M554.1 611.2H569.2M500.9 594.1H510.5M57.5 619.1H69.7M581 619.1H600.9M619.9 619.1H629.1M456.6 611.1H470.7M155.4 636.3H174.3M304.1 636.3H312.7M80.8 722.7H92.7M187.3 722.7H194M354.3 635H370.3M525.1 635H536.5M558.5 635H571.4M156.2 716.9H168.1M227.5 716.9H246.1M335.2 716.9H342.5M461.5 716.9H478.2M88.1 538.6H103.6M487 538.6H493.2M127.7 708.1H144.2M327.2 708.1H339.2M463.1 708.1H476M460.8 718.3H477.5M384 640.9H401.8M69.3 617.8H85.1M330.4 584.2H337.6M557.2 584.2H565.2M588.1 584.2H598.4M261.8 569.2H271.7M377.9 569.2H394.8M493.8 587.7H512.5M124.2 649.7H132.9M316.5 649.7H323.7M442.6 634.1H451.5M477.8 634.1H490.3M580.1 634.1H592.8M64.5 660.5H77.8M182.4 660.5H201.5M288.8 660.5H302.3M381.4 660.5H394.8M544.5 660.5H564.3M67.8 690.3H78.7M200.9 679.7H209.4M373.8 679.7H384.7M384.7 679.7H399M414.2 679.7H423.6M81.8 688H99M423.3 688H433.1M266.2 529H276.3M60.7 709.2H77.9M197.5 709.2H211.2M283.5 709.2H303.5M515.5 540.4H521.9M536.9 540.4H553.4M540.1 631H546.4M100.5 686.7H107M197.8 686.7H212.1M287 686.7H302.1M208.3 584.5H214.5M318.2 562.5H324.3M408.5 562.5H425.6M59 597.8H72.8M147.4 597.8H161.9M161.9 597.8H169.6M169.6 597.8H176.5M414.1 597.8H432.1M134.5 599.2H148.2" stroke="#3d906c" stroke-width="0.8" fill="none"/>
<path d="M35.5 611.2H47.1M120.5 611.2H135.4M181.2 611.2H187.9M198.7 611.2H206.6M313.3 611.2H330.6M358.4 611.2H377.7M388.1 611.2H399M442.3 611.2H448.9M448.9 611.2H460.1M580.4 611.2H594.8M35.5 594.1H52M93.8 594.1H102.9M102.9 594.1H111.4M118.2 594.1H125.6M145.2 594.1H153.7M207.2 594.1H224.4M298.2 594.1H316M316 594.1H331.3M361.9 594.1H372.2M385.5 594.1H405.1M405.1 594.1H421.2M430.2 594.1H437.5M484.5 594.1H500.9M528.1 594.1H538.2M562.6 594.1H581.6M624.2 594.1H631.4M89.7 619.1H106.2M225.7 619.1H237M304.7 619.1H322.6M399.6 619.1H407.9M407.9 619.1H421.3M428.7 619.1H436.7M446.8 619.1H452.9M489 619.1H501.7M539.8 619.1H555.3M565 619.1H581M600.9 619.1H619.9M629.1 619.1H636M116.4 611.1H122.6M182.2 611.1H191.7M297.1 611.1H306.5M321.5 611.1H329.5M413.4 611.1H428.6M470.7 611.1H477.5M627.9 611.1H636M35.5 636.3H46.7M276.4 636.3H293.2M312.7 636.3H323.5M484 636.3H494M575.3 636.3H588M588 636.3H600.8M620.7 636.3H636M66.7 722.7H80.8M155.9 722.7H166M194 722.7H206.2M216.8 722.7H229.6M328.8 722.7H337.6M337.6 722.7H350.9M350.9 722.7H359M461.2 722.7H469.9M493.1 722.7H508.8M515.2 722.7H532.7M555.5 722.7H574.1M591.9 722.7H607M88.3 635H107M107 635H118.5M151.2 635H157.8M241.5 635H251.8M493 635H510.4M510.4 635H525.1M536.5 635H550.9M46.4 716.9H63.7M101.5 716.9H113.8M120.7 716.9H127.4M185.7 716.9H199M272.3 716.9H292.1M292.1 716.9H304.4M370.3 716.9H383.9M418 716.9H434.9M478.2 716.9H494.7M541.8 716.9H548.3M594.4 716.9H610.7M79.2 538.6H88.1M127.5 538.6H138.9M172.6 538.6H187.3M250.3 538.6H267.5M359.5 538.6H371.4M409.8 538.6H424.5M443.3 538.6H450.6M450.6 538.6H467.1M505.3 538.6H520.5M552.1 538.6H562.9M600 538.6H608.1M619.7 538.6H636M73 709.4H87.8M165.7 709.4H176.3M226.7 709.4H246M262.6 709.4H273.7M305.3 709.4H312.7M329.6 709.4H338.1M409.1 709.4H427.4M427.4 709.4H444.5M475 709.4H482.9M482.9 709.4H492.2M492.2 709.4H510.6M35.5 708.1H49.7M109.7 708.1H119.1M163.4 708.1H174M233.2 708.1H248.6M259.8 708.1H269.5M387.8 708.1H395.4M448.4 708.1H463.1M568.2 708.1H588M50.3 718.3H70.2M96.4 718.3H112.7M130.2 718.3H138.1M178.5 718.3H186.7M202 718.3H212.6M238.5 718.3H252.7M329.2 718.3H340.7M340.7 718.3H360.4M477.5 718.3H491.7M505.2 718.3H512.8M512.8 718.3H518.9M624.8 718.3H636M50.5 640.9H68.8M68.8 640.9H88.7M88.7 640.9H102.8M102.8 640.9H118.3M144.3 640.9H159.2M240.2 640.9H253M302 640.9H314.5M314.5 640.9H321.7M321.7 640.9H340.2M420.5 640.9H436.8M473.1 640.9H486.3M69.5 607.8H88.5M149.2 607.8H156.3M156.3 607.8H172.3M179.9 607.8H195.1M205.7 607.8H220.5M300.3 607.8H311.8M422.1 607.8H437M437 607.8H447.1M514.2 607.8H530.6M561.8 607.8H572.1M595.6 607.8H609.6M181.7 617.8H187.9M196.3 617.8H207.5M252.4 617.8H262.9M262.9 617.8H274.4M348.8 617.8H355.3M364 617.8H371.4M386.1 617.8H396.3M425.9 617.8H436.3M490.4 617.8H510.4M554.6 617.8H567.1M35.5 584.2H54.8M113.9 584.2H122.3M135.8 584.2H149.6M157.1 584.2H165.7M165.7 584.2H178.1M259.2 584.2H270M298.8 584.2H317.5M387.7 584.2H398.6M465 584.2H480.6M497.9 584.2H515.7M609.6 584.2H623.8M186.5 569.2H195.3M211.5 569.2H226.7M333.4 569.2H348.9M394.8 569.2H405.7M424.7 569.2H444.5M472.3 569.2H488.4M510.6 569.2H530.1M572.2 569.2H590.5M590.5 569.2H602.1M81.2 587.7H91.8M180.3 587.7H195.4M205.2 587.7H220.7M250.8 587.7H268.6M381.4 587.7H395.1M410.3 587.7H418.3M418.3 587.7H427.2M512.5 587.7H526M542.9 587.7H554.9M35.5 649.7H53.1M53.1 649.7H69M69 649.7H87.9M132.9 649.7H142.2M169.6 649.7H187.5M238.8 649.7H248.2M257.5 649.7H268.9M352 649.7H369.3M443.6 649.7H456.4M514.6 649.7H526.2M551.6 649.7H557.7M557.7 649.7H576M164.5 634.1H176.2M190.6 634.1H207.6M269.2 634.1H287M296.9 634.1H305.6M357.9 634.1H373M391.7 634.1H398.2M398.2 634.1H410.5M451.5 634.1H463.9M552.1 634.1H570.6M592.8 634.1H600.6M169.1 660.5H182.4M209 660.5H227.8M321.9 660.5H336M336 660.5H342.6M342.6 660.5H353.8M394.8 660.5H411.1M465.4 660.5H480.5M480.5 660.5H494.9M49.9 690.3H67.8M78.7 690.3H95.7M192.6 690.3H212M234.4 690.3H246.1M267.6 690.3H281.6M281.6 690.3H294.5M294.5 690.3H309.9M458.9 690.3H478.5M478.5 690.3H492.9M538.1 690.3H555.1M555.1 690.3H562M568.2 690.3H580M609.9 690.3H622.9M622.9 690.3H636M35.5 510.1H52.7M52.7 510.1H72.3M267.6 510.1H285.5M285.5 510.1H300.6M347.2 510.1H355.4M367.9 510.1H382.8M382.8 510.1H398M418.3 510.1H437.7M437.7 510.1H452.3M452.3 510.1H465M465 510.1H481M492.8 510.1H507.3M518.3 510.1H526.6M602.7 510.1H616.7M49.5 679.7H62.7M82.5 679.7H97.9M143.7 679.7H153.1M226.8 679.7H242.2M242.2 679.7H259.2M259.2 679.7H270.3M361.5 679.7H373.8M423.6 679.7H433M498.4 679.7H514.8M536.9 679.7H555.6M598.1 679.7H607M54.2 688H71.6M116.3 688H129.7M129.7 688H136M197.2 688H216.6M216.6 688H229.7M256.3 688H268.4M325.7 688H333.2M333.2 688H340.1M456.3 688H473.4M522.3 688H534.5M543.2 688H550.5M589.8 688H598.2M624.2 688H636M93.8 529H108.6M295.5 529H306.4M320.5 529H330.9M389.7 529H397.5M506 529H523.4M42.8 709.2H60.7M218.4 709.2H231.6M248.6 709.2H259.9M361.5 709.2H370.5M379.4 709.2H386M433 709.2H442M535.6 709.2H543M543 709.2H560.2M611.4 709.2H621.6M90.6 540.4H105.2M113.4 540.4H120.8M128.3 540.4H141.1M141.1 540.4H152.3M170.5 540.4H181.9M193.2 540.4H202.4M202.4 540.4H214.6M245.6 540.4H260.7M374 540.4H380.4M573.8 540.4H581.5M591.6 540.4H600.9M109.3 631H123.8M123.8 631H132.6M149.9 631H169.5M197.1 631H207.2M219.3 631H239.1M254 631H271.5M298.2 631H311.8M332.2 631H348.2M413.9 631H421M421 631H433.9M466.1 631H483.8M585.9 631H601.3M350.2 686.7H369M386.2 686.7H392.6M479.8 686.7H486.9M486.9 686.7H503.2M549.6 686.7H563.2M46.3 584.5H59.9M59.9 584.5H69.2M177 584.5H196.4M196.4 584.5H208.3M291.7 584.5H306.5M306.5 584.5H316.7M323.2 584.5H334.4M334.4 584.5H346M364.1 584.5H370.4M387.4 584.5H406.7M516 584.5H530.8M567.4 584.5H580.5M597.5 584.5H603.6M50.4 562.5H61.5M155.6 562.5H175.4M463.2 562.5H477.2M477.2 562.5H494.4M613.3 562.5H626.7M216.4 597.8H223.2M223.2 597.8H230.6M266.7 597.8H275.6M319.5 597.8H337.7M337.7 597.8H346.7M346.7 597.8H362.6M432.1 597.8H439.7M456.1 597.8H466.6M526.8 597.8H545.7M568.7 597.8H587.4M606.5 597.8H622.2M70.8 599.2H84.4M103.1 599.2H117.7M117.7 599.2H134.5M148.2 599.2H165.2M194.5 599.2H214.1M286.3 599.2H297.1M297.1 599.2H314.4M378.3 599.2H384.9M417.4 599.2H427.4M427.4 599.2H436.9M505.6 599.2H518.4M576.9 599.2H587M587 599.2H599.5M35.5 719H49M49 719H55.1M100.2 719H115.2M383.8 719H393.8M430.5 719H441.7M441.7 719H452.1M534.8 719H542.4M610.2 719H622.3" stroke="#3f936d" stroke-width="0.8" fill="none"/>
<path d="M47.1 611.2H59.4M87.7 611.2H105.4M105.4 611.2H120.5M173.1 611.2H181.2M206.6 611.2H221M238.2 611.2H254.5M330.6 611.2H343.5M520.8 611.2H527.7M614 611.2H633.6M224.4 594.1H230.8M230.8 594.1H241.4M241.4 594.1H249.5M275.8 594.1H281.9M350.2 594.1H361.9M421.2 594.1H430.2M437.5 594.1H444.3M444.3 594.1H455.7M455.7 594.1H466.4M478.2 594.1H484.5M544.5 594.1H562.6M35.5 619.1H48.3M48.3 619.1H57.5M77.7 619.1H89.7M113.5 619.1H125.2M135.9 619.1H151.5M151.5 619.1H169.7M196.9 619.1H211.4M345.9 619.1H354.5M354.5 619.1H360.8M360.8 619.1H375.6M387 619.1H399.6M421.3 619.1H428.7M436.7 619.1H446.8M452.9 619.1H472.3M501.7 619.1H511M122.6 611.1H137M146.1 611.1H155.9M155.9 611.1H163M306.5 611.1H321.5M329.5 611.1H347.7M347.7 611.1H361.7M369.2 611.1H376.8M396.2 611.1H404.2M404.2 611.1H413.4M477.5 611.1H490.3M497.1 611.1H507.1M507.1 611.1H526M526 611.1H536M555.7 611.1H567.7M567.7 611.1H580.1M60.5 636.3H76.2M76.2 636.3H91.6M109 636.3H119.5M128.2 636.3H141M220.7 636.3H227.2M227.2 636.3H245.3M323.5 636.3H332.3M381.8 636.3H394M394 636.3H401.6M512.8 636.3H532.1M35.5 722.7H44.1M44.1 722.7H57.2M57.2 722.7H66.7M92.7 722.7H108.5M136.7 722.7H155.9M173.3 722.7H187.3M206.2 722.7H216.8M294.2 722.7H302.3M374.5 722.7H386.5M386.5 722.7H404.6M477.5 722.7H484.8M484.8 722.7H493.1M607 722.7H620.5M65.2 635H73.1M73.1 635H88.3M183.9 635H198.2M277 635H284.8M284.8 635H290.9M303.6 635H317M334.3 635H342.8M387.9 635H396.3M396.3 635H412.6M448.7 635H464.2M478.9 635H493M634.9 635H636M113.8 716.9H120.7M263.9 716.9H272.3M304.4 716.9H322.3M434.9 716.9H442.8M442.8 716.9H461.5M509.9 716.9H516.8M516.8 716.9H524.3M524.3 716.9H541.8M561.4 716.9H581.1M194 538.6H208.7M296.9 538.6H314.1M328.2 538.6H344.7M344.7 538.6H359.5M520.5 538.6H535.2M35.5 709.4H44.6M106.9 709.4H121.7M150.2 709.4H165.7M188.3 709.4H207.1M380.2 709.4H399.2M602.4 709.4H610.7M622.9 709.4H636M202.1 708.1H219.2M219.2 708.1H233.2M269.5 708.1H279.6M356.8 708.1H368.1M402.1 708.1H418.4M418.4 708.1H433.3M506.6 708.1H515.5M535.1 708.1H547.4M588 708.1H601.1M601.1 708.1H615.2M635.1 708.1H636M87.1 718.3H96.4M149.7 718.3H169.3M169.3 718.3H178.5M252.7 718.3H272.1M272.1 718.3H289.2M360.4 718.3H366.5M391.9 718.3H408.4M423.1 718.3H443.1M491.7 718.3H505.2M562.9 718.3H573.7M586.7 718.3H598.5M598.5 718.3H607.6M35.5 640.9H50.5M187.5 640.9H204.5M274.4 640.9H282.2M282.2 640.9H302M486.3 640.9H500.9M577.1 640.9H583.5M591.8 640.9H604.1M604.1 640.9H622.8M50 607.8H69.5M88.5 607.8H105.2M172.3 607.8H179.9M280.3 607.8H300.3M320 607.8H329.8M340.3 607.8H351.4M363.5 607.8H372.4M398.9 607.8H405M447.1 607.8H455.7M455.7 607.8H475.1M489.6 607.8H507.6M536.9 607.8H544.9M55.2 617.8H69.3M138.1 617.8H144.7M187.9 617.8H196.3M234.7 617.8H241M294.5 617.8H301.2M371.4 617.8H386.1M396.3 617.8H415.6M415.6 617.8H425.9M523.4 617.8H542.2M590.6 617.8H606.1M635.6 617.8H636M54.8 584.2H69.9M83.1 584.2H100.5M100.5 584.2H113.9M149.6 584.2H157.1M178.1 584.2H189.7M270 584.2H280.6M317.5 584.2H330.4M360 584.2H371M380.6 584.2H387.7M421.8 584.2H434.4M434.4 584.2H441.8M565.2 584.2H574.1M598.4 584.2H609.6M35.5 569.2H50.3M131.9 569.2H151.7M151.7 569.2H158.6M178.2 569.2H186.5M226.7 569.2H245.5M281.8 569.2H295M295 569.2H309.4M322.5 569.2H333.4M360.7 569.2H377.9M444.5 569.2H453.3M602.1 569.2H611.6M611.6 569.2H618.7M618.7 569.2H630.5M630.5 569.2H636M35.5 587.7H47.6M47.6 587.7H58M98.9 587.7H113.6M129.2 587.7H143.1M172.3 587.7H180.3M195.4 587.7H205.2M298 587.7H311.3M345 587.7H364.4M364.4 587.7H381.4M486.3 587.7H493.8M526 587.7H542.9M554.9 587.7H566.6M579 587.7H598.8M622.2 587.7H636M87.9 649.7H101.3M101.3 649.7H107.5M142.2 649.7H159.9M248.2 649.7H257.5M294.9 649.7H307.3M343.2 649.7H352M369.3 649.7H386.2M403.1 649.7H416.2M416.2 649.7H425.2M476.1 649.7H485.7M485.7 649.7H494.9M526.2 649.7H536.5M612.1 649.7H628.1M35.5 634.1H48.2M73.7 634.1H80.1M90.1 634.1H98M139.2 634.1H152.9M152.9 634.1H164.5M410.5 634.1H420.8M624.8 634.1H631.9M631.9 634.1H636M35.5 660.5H46.2M151.2 660.5H169.1M201.5 660.5H209M265.2 660.5H276.7M302.3 660.5H321.9M411.1 660.5H419.8M580.8 660.5H600.6M600.6 660.5H616.8M616.8 660.5H636M35.5 690.3H49.9M117.8 690.3H132.8M132.8 690.3H148.3M159.9 690.3H177.7M309.9 690.3H329.4M329.4 690.3H336.1M336.1 690.3H346.7M366 690.3H377.2M384.1 690.3H400.5M400.5 690.3H417.5M433.1 690.3H440.6M91 510.1H108.9M127.6 510.1H144.9M144.9 510.1H155.9M179.5 510.1H198.5M238.6 510.1H247.9M300.6 510.1H311.5M311.5 510.1H327.9M337.5 510.1H347.2M398 510.1H405.3M481 510.1H492.8M507.3 510.1H518.3M526.6 510.1H541.5M552 510.1H559.8M616.7 510.1H633.1M35.5 679.7H49.5M105.4 679.7H112.8M112.8 679.7H125.7M191.9 679.7H200.9M220 679.7H226.8M270.3 679.7H287M313.8 679.7H328.8M328.8 679.7H346.4M433 679.7H448M448 679.7H466.9M491.1 679.7H498.4M514.8 679.7H530.6M555.6 679.7H564.3M587.8 679.7H598.1M152.7 688H169.6M178.1 688H197.2M229.7 688H248.6M268.4 688H281.2M295.1 688H311.9M386 688H405.4M405.4 688H423.3M441 688H456.3M473.4 688H488.8M488.8 688H500.8M572.9 688H589.8M598.2 688H607M607 688H614.8M614.8 688H624.2M35.5 529H52M161.8 529H168.1M228.9 529H246.2M246.2 529H266.2M276.3 529H295.5M397.5 529H408.3M480.6 529H493.3M493.3 529H506M523.4 529H536.8M536.8 529H556M570.2 529H583.5M598.5 529H606.4M606.4 529H615M629.7 529H636M35.5 709.2H42.8M128.6 709.2H136.6M164 709.2H180.6M180.6 709.2H197.5M386 709.2H404.6M423.4 709.2H433M527.8 709.2H535.6M590.6 709.2H597M49.4 540.4H68M68 540.4H80.9M152.3 540.4H170.5M230.5 540.4H245.6M276.6 540.4H292.2M380.4 540.4H389.1M389.1 540.4H402.3M426.2 540.4H442.6M442.6 540.4H455.4M455.4 540.4H474.9M501.2 540.4H515.5M581.5 540.4H591.6M600.9 540.4H620.3M35.5 631H49.4M80.4 631H92.9M207.2 631H219.3M311.8 631H324.1M405.4 631H413.9M447.1 631H466.1M483.8 631H493.5M510.9 631H523.1M566.2 631H585.9M601.3 631H614.2M35.5 686.7H42.3M74.4 686.7H86.1M107 686.7H119.9M155.9 686.7H173.6M185.1 686.7H197.8M212.1 686.7H230.3M263.6 686.7H280.6M280.6 686.7H287M449.6 686.7H463.4M463.4 686.7H472.1M472.1 686.7H479.8M503.2 686.7H509.6M535.1 686.7H549.6M563.2 686.7H576.4M69.2 584.5H85.6M165.4 584.5H177M225.5 584.5H233.4M418.4 584.5H437.7M437.7 584.5H448.9M530.8 584.5H550.1M616.1 584.5H628M61.5 562.5H77.5M77.5 562.5H95.3M147.7 562.5H155.6M175.4 562.5H194.2M296.2 562.5H312.1M324.3 562.5H335.9M347.6 562.5H360.6M425.6 562.5H435.2M494.4 562.5H500.8M542.1 562.5H557.2M590.1 562.5H605.6M626.7 562.5H636M35.5 597.8H52.5M113 597.8H131.7M190.3 597.8H196.6M230.6 597.8H243.9M291.2 597.8H302.4M515.2 597.8H526.8M545.7 597.8H559.8M636 597.8H636M84.4 599.2H103.1M165.2 599.2H172.4M179.8 599.2H194.5M239.5 599.2H257.3M314.4 599.2H324M345.6 599.2H362.5M456.2 599.2H473.9M473.9 599.2H490.5M490.5 599.2H498.3M72.3 719H85.8M85.8 719H100.2M151 719H169.1M185.7 719H205.4M220.2 719H238.9M246.2 719H256.8M268 719H284.4M356.1 719H366M422.9 719H430.5M478.2 719H495.4M508.6 719H524.6M554 719H561.5M576.2 719H596.1" stroke="#42966d" stroke-width="0.8" fill="none"/>
<path d="M59.4 611.2H76.3M76.3 611.2H87.7M135.4 611.2H148.6M162.2 611.2H173.1M187.9 611.2H198.7M221 611.2H238.2M264.7 611.2H278.7M278.7 611.2H296.8M306.7 611.2H313.3M343.5 611.2H358.4M399 611.2H411.9M426.4 611.2H442.3M460.1 611.2H469.9M469.9 611.2H479.5M540 611.2H554.1M569.2 611.2H580.4M52 594.1H62.9M62.9 594.1H74.9M74.9 594.1H93.8M125.6 594.1H145.2M153.7 594.1H168M178.1 594.1H192.7M249.5 594.1H261.2M261.2 594.1H275.8M372.2 594.1H385.5M466.4 594.1H478.2M510.5 594.1H528.1M538.2 594.1H544.5M106.2 619.1H113.5M169.7 619.1H182.6M182.6 619.1H196.9M237 619.1H249.3M270 619.1H277.4M277.4 619.1H286.6M286.6 619.1H304.7M322.6 619.1H329.9M375.6 619.1H387M472.3 619.1H489M527.2 619.1H539.8M35.5 611.1H52.6M88.4 611.1H101.9M247 611.1H261.7M261.7 611.1H273.1M273.1 611.1H286.2M376.8 611.1H388.9M388.9 611.1H396.2M490.3 611.1H497.1M608.7 611.1H627.9M174.3 636.3H192.4M245.3 636.3H254.8M254.8 636.3H269.9M471.5 636.3H484M532.1 636.3H551.1M108.5 722.7H127.6M127.6 722.7H136.7M166 722.7H173.3M302.3 722.7H314.5M314.5 722.7H328.8M359 722.7H368.2M404.6 722.7H413.7M413.7 722.7H423.2M469.9 722.7H477.5M135.5 635H151.2M198.2 635H207.6M263.1 635H277M370.3 635H387.9M438.2 635H448.7M464.2 635H478.9M590 635H599.7M599.7 635H608.5M608.5 635H624M63.7 716.9H77.4M77.4 716.9H95.3M127.4 716.9H138.7M168.1 716.9H185.7M246.1 716.9H263.9M322.3 716.9H335.2M405.9 716.9H418M581.1 716.9H594.4M610.7 716.9H627.2M48.5 538.6H65.6M103.6 538.6H111M187.3 538.6H194M267.5 538.6H283.1M283.1 538.6H296.9M398.2 538.6H409.8M467.1 538.6H487M493.2 538.6H505.3M543.8 538.6H552.1M562.9 538.6H580.7M580.7 538.6H587.8M587.8 538.6H600M44.6 709.4H56.4M87.8 709.4H106.9M121.7 709.4H140.5M207.1 709.4H218.9M289 709.4H305.3M312.7 709.4H329.6M338.1 709.4H348.1M444.5 709.4H454.8M510.6 709.4H530M545.6 709.4H557.9M49.7 708.1H56.6M144.2 708.1H163.4M193.8 708.1H202.1M288.5 708.1H299.6M395.4 708.1H402.1M515.5 708.1H526.3M526.3 708.1H535.1M560.3 708.1H568.2M70.2 718.3H87.1M138.1 718.3H149.7M289.2 718.3H301.7M366.5 718.3H382.5M408.4 718.3H423.1M443.1 718.3H454.5M545.7 718.3H562.9M573.7 718.3H586.7M135.9 640.9H144.3M253 640.9H262.1M508.1 640.9H519M537.2 640.9H545.2M142.1 607.8H149.2M246.4 607.8H264.4M264.4 607.8H280.3M329.8 607.8H340.3M351.4 607.8H363.5M475.1 607.8H489.6M572.1 607.8H587M623 607.8H636M35.5 617.8H55.2M102.1 617.8H108.9M170.9 617.8H181.7M226.3 617.8H234.7M285.4 617.8H294.5M317.5 617.8H335.3M335.3 617.8H348.8M196.3 584.2H212.4M280.6 584.2H298.8M412.5 584.2H421.8M441.8 584.2H455.7M480.6 584.2H497.9M542.1 584.2H557.2M574.1 584.2H588.1M68.4 569.2H80.8M271.7 569.2H281.8M405.7 569.2H424.7M453.3 569.2H472.3M495.6 569.2H510.6M530.1 569.2H536.3M67.6 587.7H81.2M91.8 587.7H98.9M113.6 587.7H129.2M164.2 587.7H172.3M220.7 587.7H235.9M268.6 587.7H286.6M320.1 587.7H333.1M333.1 587.7H345M395.1 587.7H410.3M427.2 587.7H437.8M598.8 587.7H612.2M107.5 649.7H124.2M211.6 649.7H221.9M221.9 649.7H238.8M307.3 649.7H316.5M425.2 649.7H443.6M456.4 649.7H464M464 649.7H476.1M494.9 649.7H514.6M176.2 634.1H190.6M207.6 634.1H213.7M305.6 634.1H314.7M330.7 634.1H344.7M344.7 634.1H357.9M436.5 634.1H442.6M524.6 634.1H540.6M540.6 634.1H552.1M570.6 634.1H580.1M600.6 634.1H616.3M616.3 634.1H624.8M46.2 660.5H64.5M102.5 660.5H110.1M110.1 660.5H121.9M227.8 660.5H235M235 660.5H252.7M252.7 660.5H265.2M432 660.5H450.8M450.8 660.5H465.4M573.8 660.5H580.8M95.7 690.3H110.6M212 690.3H225.1M225.1 690.3H234.4M246.1 690.3H253.9M253.9 690.3H267.6M346.7 690.3H366M527.3 690.3H538.1M602.9 690.3H609.9M155.9 510.1H163.5M207.7 510.1H227.1M227.1 510.1H238.6M355.4 510.1H367.9M405.3 510.1H418.3M575.3 510.1H584.7M159.4 679.7H174.5M209.4 679.7H220M405.5 679.7H414.2M530.6 679.7H536.9M43.4 688H54.2M136 688H152.7M281.2 688H295.1M311.9 688H325.7M514.2 688H522.3M566.2 688H572.9M62.5 529H78.7M78.7 529H93.8M108.6 529H125.6M187.3 529H201.4M306.4 529H313.4M339 529H348.1M438.3 529H454.7M474.1 529H480.6M556 529H570.2M583.5 529H598.5M143.9 709.2H157.9M157.9 709.2H164M211.2 709.2H218.4M231.6 709.2H248.6M317.4 709.2H331.6M331.6 709.2H349.8M349.8 709.2H361.5M404.6 709.2H423.4M461.6 709.2H473.9M568.1 709.2H583.9M597 709.2H611.4M35.5 540.4H49.4M120.8 540.4H128.3M181.9 540.4H193.2M312.1 540.4H320.3M320.3 540.4H332.4M360.4 540.4H374M416.9 540.4H426.2M92.9 631H109.3M324.1 631H332.2M348.2 631H359.1M493.5 631H510.9M246.6 686.7H263.6M302.1 686.7H321.9M337.9 686.7H350.2M392.6 686.7H399.2M435.4 686.7H449.6M509.6 686.7H525M598.3 686.7H613.9M632.7 686.7H636M139.2 584.5H149.3M233.4 584.5H247.6M346 584.5H364.1M448.9 584.5H455.8M455.8 584.5H470.8M470.8 584.5H486M502.7 584.5H516M35.5 562.5H50.4M123.1 562.5H131.7M131.7 562.5H147.7M245.5 562.5H256.8M256.8 562.5H267.4M312.1 562.5H318.2M360.6 562.5H372.1M390.4 562.5H398.5M398.5 562.5H408.5M500.8 562.5H512.4M557.2 562.5H571.8M605.6 562.5H613.3M196.6 597.8H216.4M362.6 597.8H369.3M369.3 597.8H386.7M439.7 597.8H456.1M466.6 597.8H475.8M505.6 597.8H515.2M587.4 597.8H606.5M44.8 599.2H55.9M274.4 599.2H286.3M362.5 599.2H378.3M404.5 599.2H417.4M449.1 599.2H456.2M535.9 599.2H553M553 599.2H562.9M562.9 599.2H576.9M628.7 599.2H636M176.3 719H185.7M205.4 719H220.2M256.8 719H268M284.4 719H301.9M341.3 719H356.1M471.9 719H478.2" stroke="#44986d" stroke-width="0.8" fill="none"/>
<path d="M296.8 611.2H306.7M377.7 611.2H388.1M494.6 611.2H505M111.4 594.1H118.2M281.9 594.1H298.2M597.6 594.1H613.7M69.7 619.1H77.7M249.3 619.1H256.6M262.8 619.1H270M52.6 611.1H60.9M163 611.1H182.2M203.8 611.1H211.8M286.2 611.1H297.1M437.7 611.1H443.9M443.9 611.1H456.6M91.6 636.3H109M119.5 636.3H128.2M141 636.3H155.4M192.4 636.3H205.7M353.6 636.3H362.6M372 636.3H381.8M444 636.3H458.8M458.8 636.3H471.5M567.6 636.3H575.3M600.8 636.3H620.7M259 722.7H270.9M282 722.7H294.2M508.8 722.7H515.2M574.1 722.7H591.9M620.5 722.7H636M118.5 635H135.5M157.8 635H173M173 635H183.9M412.6 635H431.2M571.4 635H590M35.5 716.9H46.4M95.3 716.9H101.5M138.7 716.9H156.2M360.8 716.9H370.3M394.7 716.9H405.9M494.7 716.9H509.9M154.9 538.6H172.6M383.5 538.6H390.7M424.5 538.6H443.3M535.2 538.6H543.8M56.4 709.4H73M176.3 709.4H188.3M399.2 709.4H409.1M454.8 709.4H464.2M530 709.4H545.6M557.9 709.4H576.4M610.7 709.4H622.9M84.3 708.1H91.3M91.3 708.1H109.7M248.6 708.1H259.8M279.6 708.1H288.5M310.8 708.1H327.2M433.3 708.1H448.4M476 708.1H488.5M488.5 708.1H506.6M615.2 708.1H635.1M314.1 718.3H321.4M382.5 718.3H391.9M518.9 718.3H528.7M174.5 640.9H187.5M204.5 640.9H222.2M222.2 640.9H240.2M350.1 640.9H366.3M436.8 640.9H454.8M454.8 640.9H473.1M583.5 640.9H591.8M622.8 640.9H631.5M122.1 607.8H142.1M236.6 607.8H246.4M311.8 607.8H320M544.9 607.8H561.8M587 607.8H595.6M125.2 617.8H138.1M301.2 617.8H317.5M355.3 617.8H364M472.9 617.8H490.4M510.4 617.8H523.4M618.4 617.8H635.6M69.9 584.2H83.1M122.3 584.2H135.8M212.4 584.2H219.5M219.5 584.2H233.2M337.6 584.2H347.1M398.6 584.2H412.5M455.7 584.2H465M80.8 569.2H94.1M115.9 569.2H131.9M195.3 569.2H211.5M245.5 569.2H261.8M348.9 569.2H360.7M488.4 569.2H495.6M536.3 569.2H554.9M554.9 569.2H572.2M235.9 587.7H242.7M242.7 587.7H250.8M457 587.7H475.2M566.6 587.7H579M612.2 587.7H622.2M187.5 649.7H196.7M283.9 649.7H294.9M536.5 649.7H551.6M628.1 649.7H636M48.2 634.1H59.2M98 634.1H114.2M213.7 634.1H222.3M239 634.1H257.2M257.2 634.1H269.2M287 634.1H296.9M86.4 660.5H102.5M140.8 660.5H151.2M276.7 660.5H288.8M353.8 660.5H373M513.9 660.5H530.8M530.8 660.5H544.5M499.6 690.3H518.3M580 690.3H593.3M163.5 510.1H179.5M198.5 510.1H207.7M327.9 510.1H337.5M584.7 510.1H602.7M633.1 510.1H636M153.1 679.7H159.4M304.3 679.7H313.8M482.4 679.7H491.1M571.3 679.7H587.8M607 679.7H626.3M626.3 679.7H635.8M635.8 679.7H636M99 688H116.3M169.6 688H178.1M375.2 688H386M534.5 688H543.2M550.5 688H566.2M168.1 529H187.3M373.7 529H389.7M454.7 529H474.1M102.3 709.2H113.9M370.5 709.2H379.4M214.6 540.4H230.5M292.2 540.4H312.1M340.4 540.4H360.4M402.3 540.4H416.9M474.9 540.4H483.1M186.5 631H197.1M271.5 631H286.5M371 631H382.6M546.4 631H566.2M86.1 686.7H100.5M119.9 686.7H135.5M399.2 686.7H419M576.4 686.7H585.6M613.9 686.7H632.7M104.1 584.5H121.3M406.7 584.5H418.4M486 584.5H502.7M550.1 584.5H567.4M580.5 584.5H597.5M227.4 562.5H237.5M237.5 562.5H245.5M267.4 562.5H285M384 562.5H390.4M453.3 562.5H463.2M571.8 562.5H590.1M85.3 597.8H100.6M176.5 597.8H190.3M243.9 597.8H257.1M386.7 597.8H405.2M405.2 597.8H414.1M488.1 597.8H505.6M622.2 597.8H636M214.1 599.2H226.1M257.3 599.2H267.3M267.3 599.2H274.4M324 599.2H335.5M612.9 599.2H628.7M115.2 719H129.4M169.1 719H176.3M238.9 719H246.2M366 719H383.8M406.9 719H415.3M452.1 719H471.9M495.4 719H508.6M622.3 719H636" stroke="#479b6d" stroke-width="0.8" fill="none"/>
<path d="M505 611.2H520.8M594.8 611.2H614M125.2 619.1H135.9M211.4 619.1H225.7M137 611.1H146.1M580.1 611.1H599.6M599.6 611.1H608.7M46.7 636.3H60.5M401.6 636.3H415.3M442.1 722.7H461.2M51.4 635H58.1M317 635H334.3M550.9 635H558.5M548.3 716.9H561.4M111 538.6H127.5M608.1 538.6H619.7M246 709.4H253.1M364.9 709.4H380.2M56.6 708.1H74.6M301.7 718.3H314.1M607.6 718.3H624.8M118.3 640.9H135.9M401.8 640.9H420.5M519 640.9H537.2M561.4 640.9H577.1M631.5 640.9H636M35.5 607.8H50M108.9 617.8H125.2M155.1 617.8H170.9M436.3 617.8H453.9M542.2 617.8H554.6M575.9 617.8H590.6M606.1 617.8H618.4M233.2 584.2H242.5M371 584.2H380.6M286.6 587.7H298M311.3 587.7H320.1M196.7 649.7H211.6M323.7 649.7H343.2M386.2 649.7H403.1M314.7 634.1H330.7M463.9 634.1H477.8M499.1 634.1H517.1M564.3 660.5H573.8M72.3 510.1H91M247.9 510.1H267.6M541.5 510.1H552M97.9 679.7H105.4M357 688H375.2M356.2 529H373.7M408.3 529H427.6M77.9 709.2H88.2M442 709.2H461.6M473.9 709.2H493.7M621.6 709.2H636M260.7 540.4H276.6M483.1 540.4H501.2M553.4 540.4H562M382.6 631H394M614.2 631H628.2M55.7 686.7H74.4M173.6 686.7H185.1M585.6 686.7H598.3M35.5 584.5H46.3M85.6 584.5H104.1M121.3 584.5H139.2M214.5 584.5H225.5M267.3 584.5H281.9M634.3 584.5H636M95.3 562.5H112.2M194.2 562.5H210.9M335.9 562.5H347.6M257.1 597.8H266.7M172.4 599.2H179.8M55.1 719H72.3M328.2 719H341.3M393.8 719H406.9" stroke="#499e6e" stroke-width="0.8" fill="none"/>
<path d="M168 594.1H178.1M192.7 594.1H207.2M631.4 594.1H636M293.2 636.3H304.1M251.8 635H263.1M431.2 635H438.2M144.7 617.8H155.1M110.6 690.3H117.8M417.5 690.3H433.1M125.7 679.7H143.7M201.4 529H216.3M216.3 529H228.9M615 529H629.7M259.9 709.2H269M332.4 540.4H340.4M419 686.7H435.4" stroke="#4ca16e" stroke-width="0.8" fill="none"/>
<path d="M281.9 584.5H291.7" stroke="#50a56e" stroke-width="0.8" fill="none"/>
<path d="M609.6 607.8H623" stroke="#54a96e" stroke-width="0.8" fill="none"/>
<g mask="url(#mC1)" filter="url(#bl)">
<path d="M100.6 652V675" stroke="#3a8d6c" stroke-width="5.8" fill="none"/>
<path d="M178.9 652V675" stroke="#3a8d6c" stroke-width="4.5" fill="none"/>
<path d="M188.1 652V675" stroke="#3a8d6c" stroke-width="3.2" fill="none"/>
<path d="M253.3 652V675" stroke="#3a8d6c" stroke-width="5.5" fill="none"/>
<path d="M600 652V675" stroke="#3a8d6c" stroke-width="5.1" fill="none"/>
<path d="M80.7 652V675" stroke="#3d906c" stroke-width="3.3" fill="none"/>
<path d="M446.1 652V675" stroke="#3d906c" stroke-width="1.8" fill="none"/>
<path d="M197.4 652V675M340.4 652V675" stroke="#3f936d" stroke-width="3.5" fill="none"/>
<path d="M508.2 652V675" stroke="#3f936d" stroke-width="2.9" fill="none"/>
<path d="M62.2 652V675M387.3 652V675" stroke="#42966d" stroke-width="2.6" fill="none"/>
<path d="M89.8 652V675" stroke="#42966d" stroke-width="5.2" fill="none"/>
<path d="M403.4 652V675" stroke="#42966d" stroke-width="3.1" fill="none"/>
<path d="M469.7 652V675" stroke="#42966d" stroke-width="4.5" fill="none"/>
<path d="M539.7 652V675" stroke="#42966d" stroke-width="2.8" fill="none"/>
<path d="M555.4 652V675" stroke="#42966d" stroke-width="3.8" fill="none"/>
<path d="M95 652V675" stroke="#44986d" stroke-width="5.3" fill="none"/>
<path d="M123.4 652V675" stroke="#44986d" stroke-width="5" fill="none"/>
<path d="M210.9 652V675" stroke="#44986d" stroke-width="2" fill="none"/>
<path d="M217.3 652V675" stroke="#44986d" stroke-width="2.9" fill="none"/>
<path d="M220 652V675" stroke="#44986d" stroke-width="2.7" fill="none"/>
<path d="M331 652V675M425.3 652V675" stroke="#44986d" stroke-width="2.2" fill="none"/>
<path d="M351.1 652V675" stroke="#44986d" stroke-width="4.9" fill="none"/>
<path d="M372.6 652V675" stroke="#44986d" stroke-width="2.8" fill="none"/>
<path d="M428.7 652V675" stroke="#44986d" stroke-width="4.7" fill="none"/>
<path d="M608.8 652V675" stroke="#44986d" stroke-width="4.8" fill="none"/>
<path d="M55 652V675" stroke="#479b6d" stroke-width="4.7" fill="none"/>
<path d="M69.3 652V675" stroke="#479b6d" stroke-width="4.6" fill="none"/>
<path d="M143.5 652V675" stroke="#479b6d" stroke-width="5" fill="none"/>
<path d="M191.8 652V675" stroke="#479b6d" stroke-width="4.4" fill="none"/>
<path d="M207 652V675" stroke="#479b6d" stroke-width="5.8" fill="none"/>
<path d="M304.8 652V675" stroke="#479b6d" stroke-width="3.8" fill="none"/>
<path d="M325.5 652V675" stroke="#479b6d" stroke-width="2.3" fill="none"/>
<path d="M355.3 652V675" stroke="#479b6d" stroke-width="3.7" fill="none"/>
<path d="M366.3 652V675M565.6 652V675" stroke="#479b6d" stroke-width="3.2" fill="none"/>
<path d="M369.5 652V675" stroke="#479b6d" stroke-width="3.4" fill="none"/>
<path d="M407.3 652V675" stroke="#479b6d" stroke-width="4.8" fill="none"/>
<path d="M558.8 652V675" stroke="#479b6d" stroke-width="3.1" fill="none"/>
<path d="M40.4 652V675" stroke="#499e6e" stroke-width="2.1" fill="none"/>
<path d="M47.3 652V675" stroke="#499e6e" stroke-width="3.3" fill="none"/>
<path d="M59.1 652V675" stroke="#499e6e" stroke-width="3.6" fill="none"/>
<path d="M139.5 652V675" stroke="#499e6e" stroke-width="3" fill="none"/>
<path d="M183.8 652V675" stroke="#499e6e" stroke-width="5.5" fill="none"/>
<path d="M201.6 652V675" stroke="#499e6e" stroke-width="5.1" fill="none"/>
<path d="M258.4 652V675" stroke="#499e6e" stroke-width="4.8" fill="none"/>
<path d="M321.7 652V675" stroke="#499e6e" stroke-width="5.4" fill="none"/>
<path d="M450.3 652V675" stroke="#499e6e" stroke-width="2.5" fill="none"/>
<path d="M458.3 652V675" stroke="#499e6e" stroke-width="3.7" fill="none"/>
<path d="M491 652V675" stroke="#499e6e" stroke-width="5.8" fill="none"/>
<path d="M542.2 652V675" stroke="#499e6e" stroke-width="2.3" fill="none"/>
<path d="M614.5 652V675" stroke="#499e6e" stroke-width="3.5" fill="none"/>
<path d="M628.4 652V675" stroke="#499e6e" stroke-width="2.4" fill="none"/>
<path d="M50.8 652V675" stroke="#4ca16e" stroke-width="3.8" fill="none"/>
<path d="M76.5 652V675" stroke="#4ca16e" stroke-width="5.3" fill="none"/>
<path d="M110.7 652V675" stroke="#4ca16e" stroke-width="3.2" fill="none"/>
<path d="M114.3 652V675" stroke="#4ca16e" stroke-width="4.2" fill="none"/>
<path d="M127.6 652V675" stroke="#4ca16e" stroke-width="3.5" fill="none"/>
<path d="M227.3 652V675M390.1 652V675" stroke="#4ca16e" stroke-width="3.1" fill="none"/>
<path d="M274.7 652V675" stroke="#4ca16e" stroke-width="5.7" fill="none"/>
<path d="M289 652V675M515.4 652V675" stroke="#4ca16e" stroke-width="2.5" fill="none"/>
<path d="M299.6 652V675M337.6 652V675" stroke="#4ca16e" stroke-width="2.1" fill="none"/>
<path d="M343.8 652V675" stroke="#4ca16e" stroke-width="3.4" fill="none"/>
<path d="M383.6 652V675" stroke="#4ca16e" stroke-width="4.9" fill="none"/>
<path d="M435.7 652V675" stroke="#4ca16e" stroke-width="5.6" fill="none"/>
<path d="M440 652V675" stroke="#4ca16e" stroke-width="3" fill="none"/>
<path d="M474.5 652V675" stroke="#4ca16e" stroke-width="5.1" fill="none"/>
<path d="M511.9 652V675" stroke="#4ca16e" stroke-width="4.6" fill="none"/>
<path d="M604.5 652V675" stroke="#4ca16e" stroke-width="3.9" fill="none"/>
<path d="M612 652V675" stroke="#4ca16e" stroke-width="1.6" fill="none"/>
<path d="M43.6 652V675" stroke="#50a56e" stroke-width="4.3" fill="none"/>
<path d="M65.2 652V675" stroke="#50a56e" stroke-width="3.6" fill="none"/>
<path d="M84.8 652V675" stroke="#50a56e" stroke-width="4.9" fill="none"/>
<path d="M194.8 652V675" stroke="#50a56e" stroke-width="1.7" fill="none"/>
<path d="M213.9 652V675" stroke="#50a56e" stroke-width="4" fill="none"/>
<path d="M231.5 652V675" stroke="#50a56e" stroke-width="5.3" fill="none"/>
<path d="M240.8 652V675" stroke="#50a56e" stroke-width="2.9" fill="none"/>
<path d="M249.3 652V675" stroke="#50a56e" stroke-width="2.6" fill="none"/>
<path d="M262.8 652V675" stroke="#50a56e" stroke-width="4.1" fill="none"/>
<path d="M270.7 652V675" stroke="#50a56e" stroke-width="2.3" fill="none"/>
<path d="M334.3 652V675" stroke="#50a56e" stroke-width="4.5" fill="none"/>
<path d="M362.9 652V675" stroke="#50a56e" stroke-width="3.7" fill="none"/>
<path d="M393.3 652V675" stroke="#50a56e" stroke-width="3.4" fill="none"/>
<path d="M401 652V675" stroke="#50a56e" stroke-width="1.8" fill="none"/>
<path d="M432 652V675" stroke="#50a56e" stroke-width="2" fill="none"/>
<path d="M496.5 652V675M632.2 652V675" stroke="#50a56e" stroke-width="5.2" fill="none"/>
<path d="M501.2 652V675" stroke="#50a56e" stroke-width="4.2" fill="none"/>
<path d="M576.3 652V675" stroke="#50a56e" stroke-width="4.4" fill="none"/>
<path d="M118.7 652V675M583.9 652V675" stroke="#54a96e" stroke-width="4.6" fill="none"/>
<path d="M131.2 652V675" stroke="#54a96e" stroke-width="3.7" fill="none"/>
<path d="M136.9 652V675" stroke="#54a96e" stroke-width="2.3" fill="none"/>
<path d="M223.6 652V675" stroke="#54a96e" stroke-width="4.5" fill="none"/>
<path d="M236.8 652V675M309.3 652V675" stroke="#54a96e" stroke-width="5.3" fill="none"/>
<path d="M293.1 652V675" stroke="#54a96e" stroke-width="5.8" fill="none"/>
<path d="M297.3 652V675" stroke="#54a96e" stroke-width="2.7" fill="none"/>
<path d="M316.6 652V675" stroke="#54a96e" stroke-width="4.9" fill="none"/>
<path d="M358.1 652V675" stroke="#54a96e" stroke-width="2.1" fill="none"/>
<path d="M360.1 652V675" stroke="#54a96e" stroke-width="2" fill="none"/>
<path d="M376.1 652V675M595.4 652V675" stroke="#54a96e" stroke-width="4.3" fill="none"/>
<path d="M479.6 652V675" stroke="#54a96e" stroke-width="5.2" fill="none"/>
<path d="M37.5 652V675" stroke="#58ac6e" stroke-width="3.9" fill="none"/>
<path d="M163.7 652V675M580 652V675" stroke="#58ac6e" stroke-width="3.2" fill="none"/>
<path d="M267.2 652V675" stroke="#58ac6e" stroke-width="4.8" fill="none"/>
<path d="M301.8 652V675M313.1 652V675" stroke="#58ac6e" stroke-width="2.3" fill="none"/>
<path d="M379.7 652V675" stroke="#58ac6e" stroke-width="3" fill="none"/>
<path d="M397.6 652V675M519.3 652V675M550.9 652V675" stroke="#58ac6e" stroke-width="5.3" fill="none"/>
<path d="M422.3 652V675M443.3 652V675M562.2 652V675" stroke="#58ac6e" stroke-width="3.8" fill="none"/>
<path d="M531.7 652V675" stroke="#58ac6e" stroke-width="4.1" fill="none"/>
<path d="M545.8 652V675" stroke="#58ac6e" stroke-width="5.1" fill="none"/>
<path d="M635.6 652V675" stroke="#58ac6e" stroke-width="1.8" fill="none"/>
<path d="M72.7 652V675" stroke="#5bb06e" stroke-width="2.4" fill="none"/>
<path d="M170.5 652V675M536 652V675" stroke="#5bb06e" stroke-width="4.6" fill="none"/>
<path d="M174.7 652V675" stroke="#5bb06e" stroke-width="4" fill="none"/>
<path d="M280.1 652V675M462.7 652V675" stroke="#5bb06e" stroke-width="5.2" fill="none"/>
<path d="M347.1 652V675" stroke="#5bb06e" stroke-width="3.2" fill="none"/>
<path d="M414.9 652V675M454 652V675M527.2 652V675" stroke="#5bb06e" stroke-width="5.1" fill="none"/>
<path d="M568.7 652V675" stroke="#5bb06e" stroke-width="3" fill="none"/>
<path d="M588.2 652V675" stroke="#5bb06e" stroke-width="4.1" fill="none"/>
<path d="M619.1 652V675" stroke="#5bb06e" stroke-width="5.9" fill="none"/>
<path d="M624.7 652V675" stroke="#5bb06e" stroke-width="5.3" fill="none"/>
<path d="M134.4 652V675M523.3 652V675" stroke="#5fb46e" stroke-width="2.8" fill="none"/>
<path d="M147.7 652V675" stroke="#5fb46e" stroke-width="3.5" fill="none"/>
<path d="M151 652V675" stroke="#5fb46e" stroke-width="3.1" fill="none"/>
<path d="M154.7 652V675" stroke="#5fb46e" stroke-width="4.4" fill="none"/>
<path d="M245.1 652V675" stroke="#5fb46e" stroke-width="5.8" fill="none"/>
<path d="M286.7 652V675M448 652V675" stroke="#5fb46e" stroke-width="2.2" fill="none"/>
<path d="M166.7 652V675" stroke="#63b86e" stroke-width="3" fill="none"/>
<path d="M328.3 652V675" stroke="#63b86e" stroke-width="3.4" fill="none"/>
<path d="M483.8 652V675" stroke="#63b86e" stroke-width="3.5" fill="none"/>
<path d="M486.9 652V675" stroke="#63b86e" stroke-width="2.6" fill="none"/>
<path d="M505 652V675" stroke="#63b86e" stroke-width="3.6" fill="none"/>
<path d="M159.5 652V675" stroke="#68bb6e" stroke-width="5.2" fill="none"/>
<path d="M284.1 652V675" stroke="#68bb6e" stroke-width="3" fill="none"/>
<path d="M466.4 652V675" stroke="#68bb6e" stroke-width="2.3" fill="none"/>
<path d="M572.1 652V675" stroke="#68bb6e" stroke-width="4" fill="none"/>
<path d="M591.7 652V675" stroke="#68bb6e" stroke-width="3.2" fill="none"/>
<path d="M106.3 652V675" stroke="#6dbe6d" stroke-width="5.7" fill="none"/>
<path d="M419 652V675" stroke="#6dbe6d" stroke-width="3" fill="none"/>
<path d="M411 652V675" stroke="#72c16d" stroke-width="2.8" fill="none"/>
</g>
<mask id="mC1b" maskUnits="userSpaceOnUse" x="30" y="655" width="610" height="22"><rect x="30" y="658" width="610" height="17" fill="url(#fadeUp)"/></mask>
<g mask="url(#mC1b)" filter="url(#bl)">
<path d="M137.7 658V675" stroke="#3d906c" stroke-width="4.4" fill="none"/>
<path d="M129.3 658V675" stroke="#3f936d" stroke-width="1.6" fill="none"/>
<path d="M275.9 658V675" stroke="#42966d" stroke-width="4.1" fill="none"/>
<path d="M359.1 658V675" stroke="#44986d" stroke-width="1.9" fill="none"/>
<path d="M295.3 658V675" stroke="#479b6d" stroke-width="3.7" fill="none"/>
<path d="M332.1 658V675" stroke="#479b6d" stroke-width="3.9" fill="none"/>
<path d="M488 658V675" stroke="#479b6d" stroke-width="2" fill="none"/>
<path d="M469.4 658V675" stroke="#499e6e" stroke-width="1.6" fill="none"/>
<path d="M503.3 658V675" stroke="#499e6e" stroke-width="3.2" fill="none"/>
<path d="M215.7 658V675" stroke="#4ca16e" stroke-width="4.6" fill="none"/>
<path d="M226.4 658V675" stroke="#4ca16e" stroke-width="2.1" fill="none"/>
<path d="M288.3 658V675" stroke="#4ca16e" stroke-width="1.6" fill="none"/>
<path d="M291.3 658V675" stroke="#4ca16e" stroke-width="4.5" fill="none"/>
<path d="M50.8 658V675" stroke="#50a56e" stroke-width="2.9" fill="none"/>
<path d="M442.4 658V675" stroke="#50a56e" stroke-width="2.2" fill="none"/>
<path d="M493.7 658V675" stroke="#50a56e" stroke-width="1.6" fill="none"/>
<path d="M519.3 658V675" stroke="#50a56e" stroke-width="2" fill="none"/>
<path d="M152 658V675" stroke="#54a96e" stroke-width="2.7" fill="none"/>
<path d="M172.6 658V675" stroke="#54a96e" stroke-width="4.8" fill="none"/>
<path d="M229.4 658V675" stroke="#54a96e" stroke-width="4" fill="none"/>
<path d="M349.4 658V675" stroke="#54a96e" stroke-width="3.9" fill="none"/>
<path d="M397.9 658V675" stroke="#54a96e" stroke-width="3.8" fill="none"/>
<path d="M439.3 658V675" stroke="#54a96e" stroke-width="4.1" fill="none"/>
<path d="M478.2 658V675" stroke="#54a96e" stroke-width="4.4" fill="none"/>
<path d="M570.1 658V675" stroke="#54a96e" stroke-width="3.6" fill="none"/>
<path d="M256.1 658V675M496.9 658V675" stroke="#58ac6e" stroke-width="4.9" fill="none"/>
<path d="M308.6 658V675" stroke="#58ac6e" stroke-width="4.8" fill="none"/>
<path d="M561.7 658V675" stroke="#58ac6e" stroke-width="4.1" fill="none"/>
<path d="M54.6 658V675M538.1 658V675" stroke="#5bb06e" stroke-width="1.7" fill="none"/>
<path d="M163.4 658V675" stroke="#5bb06e" stroke-width="4.3" fill="none"/>
<path d="M194 658V675M326.4 658V675" stroke="#5bb06e" stroke-width="2.6" fill="none"/>
<path d="M245.5 658V675" stroke="#5bb06e" stroke-width="3.9" fill="none"/>
<path d="M298.5 658V675" stroke="#5bb06e" stroke-width="2.8" fill="none"/>
<path d="M312 658V675" stroke="#5bb06e" stroke-width="2.1" fill="none"/>
<path d="M344.7 658V675" stroke="#5bb06e" stroke-width="1.6" fill="none"/>
<path d="M361 658V675M382.5 658V675" stroke="#5bb06e" stroke-width="1.9" fill="none"/>
<path d="M508 658V675" stroke="#5bb06e" stroke-width="2.2" fill="none"/>
<path d="M115.5 658V675" stroke="#5fb46e" stroke-width="2.2" fill="none"/>
<path d="M196.5 658V675" stroke="#5fb46e" stroke-width="2.5" fill="none"/>
<path d="M280.4 658V675" stroke="#5fb46e" stroke-width="5" fill="none"/>
<path d="M285.2 658V675" stroke="#5fb46e" stroke-width="4.7" fill="none"/>
<path d="M346.5 658V675" stroke="#5fb46e" stroke-width="2.1" fill="none"/>
<path d="M512.8 658V675" stroke="#5fb46e" stroke-width="2.8" fill="none"/>
<path d="M522 658V675" stroke="#5fb46e" stroke-width="3.5" fill="none"/>
<path d="M614.1 658V675" stroke="#5fb46e" stroke-width="4.6" fill="none"/>
<path d="M36.7 658V675M409.7 658V675M536 658V675" stroke="#63b86e" stroke-width="2.5" fill="none"/>
<path d="M79.7 658V675" stroke="#63b86e" stroke-width="2.1" fill="none"/>
<path d="M111.3 658V675M594.3 658V675" stroke="#63b86e" stroke-width="1.7" fill="none"/>
<path d="M406.3 658V675" stroke="#63b86e" stroke-width="4.5" fill="none"/>
<path d="M427.6 658V675M532.5 658V675" stroke="#63b86e" stroke-width="4.6" fill="none"/>
<path d="M446 658V675M622.4 658V675" stroke="#63b86e" stroke-width="5" fill="none"/>
<path d="M463.3 658V675" stroke="#63b86e" stroke-width="3.3" fill="none"/>
<path d="M591.1 658V675" stroke="#63b86e" stroke-width="4.9" fill="none"/>
<path d="M599 658V675" stroke="#63b86e" stroke-width="2" fill="none"/>
<path d="M144.4 658V675" stroke="#68bb6e" stroke-width="4.4" fill="none"/>
<path d="M167.9 658V675" stroke="#68bb6e" stroke-width="4.7" fill="none"/>
<path d="M180.5 658V675" stroke="#68bb6e" stroke-width="1.9" fill="none"/>
<path d="M191.2 658V675" stroke="#68bb6e" stroke-width="3.1" fill="none"/>
<path d="M232.4 658V675M633 658V675" stroke="#68bb6e" stroke-width="2.1" fill="none"/>
<path d="M266.2 658V675" stroke="#68bb6e" stroke-width="4.6" fill="none"/>
<path d="M272.6 658V675" stroke="#68bb6e" stroke-width="2.6" fill="none"/>
<path d="M342.8 658V675" stroke="#68bb6e" stroke-width="2.2" fill="none"/>
<path d="M389 658V675" stroke="#68bb6e" stroke-width="4.8" fill="none"/>
<path d="M424.6 658V675" stroke="#68bb6e" stroke-width="1.7" fill="none"/>
<path d="M471.9 658V675" stroke="#68bb6e" stroke-width="3.3" fill="none"/>
<path d="M579.6 658V675" stroke="#68bb6e" stroke-width="3.9" fill="none"/>
<path d="M61 658V675" stroke="#6dbe6d" stroke-width="1.7" fill="none"/>
<path d="M88.5 658V675" stroke="#6dbe6d" stroke-width="2" fill="none"/>
<path d="M91.7 658V675" stroke="#6dbe6d" stroke-width="4.3" fill="none"/>
<path d="M103.8 658V675M554.6 658V675" stroke="#6dbe6d" stroke-width="2.7" fill="none"/>
<path d="M199.8 658V675" stroke="#6dbe6d" stroke-width="4.2" fill="none"/>
<path d="M208.4 658V675" stroke="#6dbe6d" stroke-width="3" fill="none"/>
<path d="M314.1 658V675" stroke="#6dbe6d" stroke-width="2.2" fill="none"/>
<path d="M356.6 658V675" stroke="#6dbe6d" stroke-width="3.3" fill="none"/>
<path d="M412.8 658V675" stroke="#6dbe6d" stroke-width="3.8" fill="none"/>
<path d="M416.8 658V675" stroke="#6dbe6d" stroke-width="4.4" fill="none"/>
<path d="M474.8 658V675" stroke="#6dbe6d" stroke-width="2.6" fill="none"/>
<path d="M505.9 658V675" stroke="#6dbe6d" stroke-width="2.1" fill="none"/>
<path d="M510.2 658V675M540.1 658V675" stroke="#6dbe6d" stroke-width="2.4" fill="none"/>
<path d="M587.2 658V675" stroke="#6dbe6d" stroke-width="2.9" fill="none"/>
<path d="M609.5 658V675M636.4 658V675" stroke="#6dbe6d" stroke-width="4.8" fill="none"/>
<path d="M618.2 658V675" stroke="#6dbe6d" stroke-width="3.6" fill="none"/>
<path d="M74.9 658V675" stroke="#72c16d" stroke-width="2" fill="none"/>
<path d="M98.6 658V675" stroke="#72c16d" stroke-width="2.5" fill="none"/>
<path d="M122.5 658V675" stroke="#72c16d" stroke-width="2.1" fill="none"/>
<path d="M158.8 658V675" stroke="#72c16d" stroke-width="5" fill="none"/>
<path d="M177.3 658V675M322.8 658V675M459.4 658V675" stroke="#72c16d" stroke-width="4.6" fill="none"/>
<path d="M223.9 658V675M596.6 658V675" stroke="#72c16d" stroke-width="3" fill="none"/>
<path d="M241.7 658V675" stroke="#72c16d" stroke-width="3.9" fill="none"/>
<path d="M259.7 658V675" stroke="#72c16d" stroke-width="2.4" fill="none"/>
<path d="M364 658V675M627 658V675" stroke="#72c16d" stroke-width="4.3" fill="none"/>
<path d="M516.2 658V675" stroke="#72c16d" stroke-width="4.2" fill="none"/>
<path d="M42.9 658V675" stroke="#77c46d" stroke-width="3.7" fill="none"/>
<path d="M57.8 658V675M566 658V675" stroke="#77c46d" stroke-width="4.8" fill="none"/>
<path d="M68.1 658V675" stroke="#77c46d" stroke-width="2.8" fill="none"/>
<path d="M86.5 658V675" stroke="#77c46d" stroke-width="2.2" fill="none"/>
<path d="M125.2 658V675M188 658V675" stroke="#77c46d" stroke-width="3.4" fill="none"/>
<path d="M262.4 658V675" stroke="#77c46d" stroke-width="3.1" fill="none"/>
<path d="M301.1 658V675M500.5 658V675" stroke="#77c46d" stroke-width="2.5" fill="none"/>
<path d="M316.3 658V675" stroke="#77c46d" stroke-width="2.4" fill="none"/>
<path d="M449.5 658V675" stroke="#77c46d" stroke-width="2.1" fill="none"/>
<path d="M455.9 658V675" stroke="#77c46d" stroke-width="2.6" fill="none"/>
<path d="M484.8 658V675" stroke="#77c46d" stroke-width="4.4" fill="none"/>
<path d="M557.8 658V675" stroke="#77c46d" stroke-width="3.8" fill="none"/>
<path d="M583.7 658V675" stroke="#77c46d" stroke-width="4.3" fill="none"/>
<path d="M601.8 658V675" stroke="#77c46d" stroke-width="3.5" fill="none"/>
<path d="M53 658V675" stroke="#7dc76d" stroke-width="1.6" fill="none"/>
<path d="M64.3 658V675" stroke="#7dc76d" stroke-width="4.9" fill="none"/>
<path d="M83.1 658V675" stroke="#7dc76d" stroke-width="4.7" fill="none"/>
<path d="M95.6 658V675" stroke="#7dc76d" stroke-width="3.6" fill="none"/>
<path d="M127.7 658V675" stroke="#7dc76d" stroke-width="1.7" fill="none"/>
<path d="M131.6 658V675" stroke="#7dc76d" stroke-width="3.1" fill="none"/>
<path d="M141.1 658V675M481.5 658V675M542.4 658V675" stroke="#7dc76d" stroke-width="2.3" fill="none"/>
<path d="M249.1 658V675" stroke="#7dc76d" stroke-width="3.3" fill="none"/>
<path d="M252.2 658V675" stroke="#7dc76d" stroke-width="3" fill="none"/>
<path d="M369.1 658V675" stroke="#7dc76d" stroke-width="2.1" fill="none"/>
<path d="M380.3 658V675" stroke="#7dc76d" stroke-width="2.5" fill="none"/>
<path d="M401.9 658V675" stroke="#7dc76d" stroke-width="4.3" fill="none"/>
<path d="M435.6 658V675" stroke="#7dc76d" stroke-width="3.4" fill="none"/>
<path d="M528.4 658V675" stroke="#7dc76d" stroke-width="3.7" fill="none"/>
<path d="M39.5 658V675" stroke="#82ca6c" stroke-width="3.1" fill="none"/>
<path d="M113.3 658V675M203 658V675" stroke="#82ca6c" stroke-width="2.3" fill="none"/>
<path d="M353.1 658V675" stroke="#82ca6c" stroke-width="3.6" fill="none"/>
<path d="M372.3 658V675" stroke="#82ca6c" stroke-width="4.3" fill="none"/>
<path d="M376.7 658V675" stroke="#82ca6c" stroke-width="4.7" fill="none"/>
<path d="M385 658V675" stroke="#82ca6c" stroke-width="3.3" fill="none"/>
<path d="M452.6 658V675" stroke="#82ca6c" stroke-width="4.2" fill="none"/>
<path d="M466.8 658V675" stroke="#82ca6c" stroke-width="3.8" fill="none"/>
<path d="M545.2 658V675" stroke="#82ca6c" stroke-width="3.4" fill="none"/>
<path d="M47 658V675" stroke="#87cd6c" stroke-width="4.7" fill="none"/>
<path d="M101.2 658V675M576.3 658V675" stroke="#87cd6c" stroke-width="2.7" fill="none"/>
<path d="M211.7 658V675M335.8 658V675" stroke="#87cd6c" stroke-width="3.6" fill="none"/>
<path d="M328.9 658V675" stroke="#87cd6c" stroke-width="2.6" fill="none"/>
<path d="M421.3 658V675" stroke="#87cd6c" stroke-width="4.8" fill="none"/>
<path d="M548.4 658V675" stroke="#87cd6c" stroke-width="3.1" fill="none"/>
<path d="M71.7 658V675" stroke="#8dd06c" stroke-width="4.5" fill="none"/>
<path d="M234.3 658V675" stroke="#8dd06c" stroke-width="1.8" fill="none"/>
<path d="M319 658V675M573.5 658V675" stroke="#8dd06c" stroke-width="3.1" fill="none"/>
<path d="M525.1 658V675" stroke="#8dd06c" stroke-width="2.9" fill="none"/>
<path d="M605.3 658V675" stroke="#8dd06c" stroke-width="3.6" fill="none"/>
<path d="M77.3 658V675M269.9 658V675" stroke="#94d46b" stroke-width="2.9" fill="none"/>
<path d="M119 658V675" stroke="#94d46b" stroke-width="5" fill="none"/>
<path d="M148.6 658V675M339.7 658V675" stroke="#94d46b" stroke-width="4.2" fill="none"/>
<path d="M304.3 658V675" stroke="#94d46b" stroke-width="3.9" fill="none"/>
<path d="M490.9 658V675" stroke="#94d46b" stroke-width="4" fill="none"/>
<path d="M431.9 658V675" stroke="#9ad76b" stroke-width="4.1" fill="none"/>
<path d="M109.3 658V675M134.3 658V675" stroke="#a1db6a" stroke-width="2.5" fill="none"/>
<path d="M183.9 658V675" stroke="#a1db6a" stroke-width="5" fill="none"/>
<path d="M220.2 658V675" stroke="#a7de6a" stroke-width="4.4" fill="none"/>
<path d="M106.6 658V675" stroke="#aee269" stroke-width="3" fill="none"/>
<path d="M205.5 658V675" stroke="#aee269" stroke-width="2.9" fill="none"/>
<path d="M367.1 658V675" stroke="#aee269" stroke-width="2.1" fill="none"/>
<path d="M154.8 658V675" stroke="#b4e569" stroke-width="3.1" fill="none"/>
<path d="M630.5 658V675" stroke="#b4e569" stroke-width="2.9" fill="none"/>
<path d="M393.7 658V675" stroke="#bfeb6a" stroke-width="4.7" fill="none"/>
<path d="M237.5 658V675" stroke="#c4ee6a" stroke-width="4.6" fill="none"/>
<path d="M551.6 658V675" stroke="#c4ee6a" stroke-width="3.4" fill="none"/>
</g>
<g mask="url(#mC2)" filter="url(#bl)">
<path d="M67 676V708" stroke="#3a8d6c" stroke-width="4.9" fill="none"/>
<path d="M91 676V708M255.7 676V708" stroke="#3a8d6c" stroke-width="3.1" fill="none"/>
<path d="M111.4 676V708" stroke="#3a8d6c" stroke-width="5.5" fill="none"/>
<path d="M130.1 676V708" stroke="#3a8d6c" stroke-width="1.8" fill="none"/>
<path d="M195.3 676V708" stroke="#3a8d6c" stroke-width="3.8" fill="none"/>
<path d="M198.7 676V708" stroke="#3a8d6c" stroke-width="3" fill="none"/>
<path d="M220.2 676V708" stroke="#3a8d6c" stroke-width="1.7" fill="none"/>
<path d="M231.8 676V708M235 676V708" stroke="#3a8d6c" stroke-width="3.3" fill="none"/>
<path d="M248.1 676V708" stroke="#3a8d6c" stroke-width="4.4" fill="none"/>
<path d="M268.1 676V708" stroke="#3a8d6c" stroke-width="4.7" fill="none"/>
<path d="M272 676V708" stroke="#3a8d6c" stroke-width="3.2" fill="none"/>
<path d="M325.9 676V708" stroke="#3a8d6c" stroke-width="3.7" fill="none"/>
<path d="M359.1 676V708" stroke="#3a8d6c" stroke-width="2.5" fill="none"/>
<path d="M454.1 676V708" stroke="#3a8d6c" stroke-width="4.5" fill="none"/>
<path d="M457.4 676V708" stroke="#3a8d6c" stroke-width="2.1" fill="none"/>
<path d="M464 676V708" stroke="#3a8d6c" stroke-width="2.4" fill="none"/>
<path d="M514.2 676V708" stroke="#3a8d6c" stroke-width="5.9" fill="none"/>
<path d="M558.2 676V708" stroke="#3a8d6c" stroke-width="3.4" fill="none"/>
<path d="M594.4 676V708" stroke="#3a8d6c" stroke-width="4" fill="none"/>
<path d="M601.9 676V708" stroke="#3a8d6c" stroke-width="4.1" fill="none"/>
<path d="M616.1 676V708" stroke="#3a8d6c" stroke-width="2.2" fill="none"/>
<path d="M618.5 676V708" stroke="#3a8d6c" stroke-width="2.7" fill="none"/>
<path d="M636 676V708" stroke="#3a8d6c" stroke-width="2.3" fill="none"/>
<path d="M41.3 676V708" stroke="#3d906c" stroke-width="2.1" fill="none"/>
<path d="M123.1 676V708M392.8 676V708" stroke="#3d906c" stroke-width="5.2" fill="none"/>
<path d="M304.4 676V708M529 676V708" stroke="#3d906c" stroke-width="4.9" fill="none"/>
<path d="M462.1 676V708" stroke="#3d906c" stroke-width="1.7" fill="none"/>
<path d="M481.7 676V708" stroke="#3d906c" stroke-width="4.6" fill="none"/>
<path d="M539.5 676V708" stroke="#3d906c" stroke-width="5.9" fill="none"/>
<path d="M555 676V708" stroke="#3d906c" stroke-width="3" fill="none"/>
<path d="M571.3 676V708" stroke="#3d906c" stroke-width="5.8" fill="none"/>
<path d="M580.4 676V708" stroke="#3d906c" stroke-width="5.6" fill="none"/>
<path d="M51 676V708" stroke="#3f936d" stroke-width="1.7" fill="none"/>
<path d="M57.8 676V708" stroke="#3f936d" stroke-width="2.3" fill="none"/>
<path d="M70.7 676V708" stroke="#3f936d" stroke-width="2.6" fill="none"/>
<path d="M93.9 676V708" stroke="#3f936d" stroke-width="2.8" fill="none"/>
<path d="M165.4 676V708" stroke="#3f936d" stroke-width="4.7" fill="none"/>
<path d="M212.7 676V708" stroke="#3f936d" stroke-width="3.9" fill="none"/>
<path d="M227.4 676V708M612.3 676V708" stroke="#3f936d" stroke-width="5.6" fill="none"/>
<path d="M239.5 676V708" stroke="#3f936d" stroke-width="5.7" fill="none"/>
<path d="M298.9 676V708" stroke="#3f936d" stroke-width="6" fill="none"/>
<path d="M316.6 676V708" stroke="#3f936d" stroke-width="2" fill="none"/>
<path d="M332.3 676V708M472.3 676V708" stroke="#3f936d" stroke-width="4.1" fill="none"/>
<path d="M372.5 676V708" stroke="#3f936d" stroke-width="5.1" fill="none"/>
<path d="M384.1 676V708" stroke="#3f936d" stroke-width="5.8" fill="none"/>
<path d="M450 676V708" stroke="#3f936d" stroke-width="3.7" fill="none"/>
<path d="M476.8 676V708" stroke="#3f936d" stroke-width="1.9" fill="none"/>
<path d="M496.3 676V708M566 676V708" stroke="#3f936d" stroke-width="4.8" fill="none"/>
<path d="M508.1 676V708" stroke="#3f936d" stroke-width="1.8" fill="none"/>
<path d="M524 676V708" stroke="#3f936d" stroke-width="5.2" fill="none"/>
<path d="M544 676V708" stroke="#3f936d" stroke-width="3.1" fill="none"/>
<path d="M585.9 676V708" stroke="#3f936d" stroke-width="5.3" fill="none"/>
<path d="M37.9 676V708" stroke="#42966d" stroke-width="4.8" fill="none"/>
<path d="M72.8 676V708" stroke="#42966d" stroke-width="1.7" fill="none"/>
<path d="M84.3 676V708" stroke="#42966d" stroke-width="2.7" fill="none"/>
<path d="M96.7 676V708" stroke="#42966d" stroke-width="2.9" fill="none"/>
<path d="M156.2 676V708" stroke="#42966d" stroke-width="2" fill="none"/>
<path d="M321.6 676V708" stroke="#42966d" stroke-width="4.9" fill="none"/>
<path d="M352.8 676V708" stroke="#42966d" stroke-width="6" fill="none"/>
<path d="M356.8 676V708M419.5 676V708" stroke="#42966d" stroke-width="2.2" fill="none"/>
<path d="M362 676V708" stroke="#42966d" stroke-width="3.2" fill="none"/>
<path d="M365.3 676V708M598.1 676V708" stroke="#42966d" stroke-width="3.6" fill="none"/>
<path d="M376.4 676V708" stroke="#42966d" stroke-width="2.8" fill="none"/>
<path d="M410.8 676V708" stroke="#42966d" stroke-width="5.3" fill="none"/>
<path d="M423.3 676V708" stroke="#42966d" stroke-width="5.4" fill="none"/>
<path d="M444.4 676V708" stroke="#42966d" stroke-width="4.7" fill="none"/>
<path d="M488.7 676V708" stroke="#42966d" stroke-width="4.2" fill="none"/>
<path d="M510.1 676V708" stroke="#42966d" stroke-width="2.3" fill="none"/>
<path d="M590.5 676V708" stroke="#42966d" stroke-width="4" fill="none"/>
<path d="M80.9 676V708" stroke="#44986d" stroke-width="4.2" fill="none"/>
<path d="M86.7 676V708M414.6 676V708" stroke="#44986d" stroke-width="2.3" fill="none"/>
<path d="M88.7 676V708" stroke="#44986d" stroke-width="1.7" fill="none"/>
<path d="M102.4 676V708" stroke="#44986d" stroke-width="3.1" fill="none"/>
<path d="M105.2 676V708M176.8 676V708" stroke="#44986d" stroke-width="2.6" fill="none"/>
<path d="M127.5 676V708M222.8 676V708" stroke="#44986d" stroke-width="3.6" fill="none"/>
<path d="M143.5 676V708" stroke="#44986d" stroke-width="5.4" fill="none"/>
<path d="M170 676V708" stroke="#44986d" stroke-width="4.8" fill="none"/>
<path d="M259.2 676V708" stroke="#44986d" stroke-width="4.1" fill="none"/>
<path d="M263.5 676V708" stroke="#44986d" stroke-width="4.6" fill="none"/>
<path d="M339.9 676V708" stroke="#44986d" stroke-width="4.7" fill="none"/>
<path d="M344.7 676V708M432.9 676V708" stroke="#44986d" stroke-width="4.9" fill="none"/>
<path d="M379.5 676V708" stroke="#44986d" stroke-width="3.4" fill="none"/>
<path d="M407.2 676V708" stroke="#44986d" stroke-width="2.1" fill="none"/>
<path d="M459.9 676V708" stroke="#44986d" stroke-width="2.9" fill="none"/>
<path d="M467.7 676V708" stroke="#44986d" stroke-width="5.1" fill="none"/>
<path d="M505.3 676V708" stroke="#44986d" stroke-width="4" fill="none"/>
<path d="M519.3 676V708" stroke="#44986d" stroke-width="4.3" fill="none"/>
<path d="M546.7 676V708" stroke="#44986d" stroke-width="2.5" fill="none"/>
<path d="M633.8 676V708" stroke="#44986d" stroke-width="2.2" fill="none"/>
<path d="M44 676V708" stroke="#479b6d" stroke-width="3.4" fill="none"/>
<path d="M61.7 676V708" stroke="#479b6d" stroke-width="5.7" fill="none"/>
<path d="M148.9 676V708" stroke="#479b6d" stroke-width="5.4" fill="none"/>
<path d="M153.4 676V708" stroke="#479b6d" stroke-width="3.8" fill="none"/>
<path d="M208.1 676V708M276.2 676V708" stroke="#479b6d" stroke-width="5.5" fill="none"/>
<path d="M217 676V708" stroke="#479b6d" stroke-width="4.8" fill="none"/>
<path d="M244.1 676V708" stroke="#479b6d" stroke-width="3.7" fill="none"/>
<path d="M310.7 676V708" stroke="#479b6d" stroke-width="1.8" fill="none"/>
<path d="M318.4 676V708" stroke="#479b6d" stroke-width="1.6" fill="none"/>
<path d="M388.6 676V708" stroke="#479b6d" stroke-width="3.3" fill="none"/>
<path d="M398.2 676V708M606.7 676V708" stroke="#479b6d" stroke-width="5.6" fill="none"/>
<path d="M403.6 676V708" stroke="#479b6d" stroke-width="5.3" fill="none"/>
<path d="M417.1 676V708" stroke="#479b6d" stroke-width="2.9" fill="none"/>
<path d="M440.5 676V708" stroke="#479b6d" stroke-width="3.2" fill="none"/>
<path d="M575.9 676V708" stroke="#479b6d" stroke-width="3.5" fill="none"/>
<path d="M630.5 676V708" stroke="#479b6d" stroke-width="4.5" fill="none"/>
<path d="M48 676V708" stroke="#499e6e" stroke-width="4.6" fill="none"/>
<path d="M54.3 676V708" stroke="#499e6e" stroke-width="4.9" fill="none"/>
<path d="M76.3 676V708M138.2 676V708M202.7 676V708" stroke="#499e6e" stroke-width="5.3" fill="none"/>
<path d="M107.5 676V708" stroke="#499e6e" stroke-width="2.2" fill="none"/>
<path d="M133.3 676V708" stroke="#499e6e" stroke-width="4.7" fill="none"/>
<path d="M252.2 676V708" stroke="#499e6e" stroke-width="3.9" fill="none"/>
<path d="M293.2 676V708" stroke="#499e6e" stroke-width="5.6" fill="none"/>
<path d="M328.9 676V708M485.3 676V708" stroke="#499e6e" stroke-width="2.6" fill="none"/>
<path d="M368.6 676V708" stroke="#499e6e" stroke-width="3" fill="none"/>
<path d="M447.5 676V708" stroke="#499e6e" stroke-width="1.6" fill="none"/>
<path d="M115.5 676V708" stroke="#4ca16e" stroke-width="2.9" fill="none"/>
<path d="M179.9 676V708" stroke="#4ca16e" stroke-width="3.8" fill="none"/>
<path d="M187.4 676V708" stroke="#4ca16e" stroke-width="5.6" fill="none"/>
<path d="M191.8 676V708" stroke="#4ca16e" stroke-width="3.3" fill="none"/>
<path d="M281.8 676V708" stroke="#4ca16e" stroke-width="5.8" fill="none"/>
<path d="M313.6 676V708" stroke="#4ca16e" stroke-width="4" fill="none"/>
<path d="M348.4 676V708" stroke="#4ca16e" stroke-width="2.8" fill="none"/>
<path d="M428.2 676V708M626 676V708" stroke="#4ca16e" stroke-width="4.6" fill="none"/>
<path d="M437.1 676V708" stroke="#4ca16e" stroke-width="3.6" fill="none"/>
<path d="M501 676V708" stroke="#4ca16e" stroke-width="4.7" fill="none"/>
<path d="M561.8 676V708" stroke="#4ca16e" stroke-width="3.9" fill="none"/>
<path d="M99.5 676V708" stroke="#50a56e" stroke-width="2.8" fill="none"/>
<path d="M287.6 676V708" stroke="#50a56e" stroke-width="5.8" fill="none"/>
<path d="M308.3 676V708" stroke="#50a56e" stroke-width="3.1" fill="none"/>
<path d="M475.1 676V708" stroke="#50a56e" stroke-width="1.6" fill="none"/>
<path d="M478.6 676V708" stroke="#50a56e" stroke-width="1.8" fill="none"/>
<path d="M534 676V708" stroke="#50a56e" stroke-width="5.2" fill="none"/>
<path d="M621.8 676V708" stroke="#50a56e" stroke-width="4" fill="none"/>
<path d="M160.1 676V708" stroke="#54a96e" stroke-width="5.9" fill="none"/>
<path d="M183.2 676V708" stroke="#54a96e" stroke-width="2.9" fill="none"/>
<path d="M118.7 676V708" stroke="#58ac6e" stroke-width="3.7" fill="none"/>
<path d="M336 676V708" stroke="#58ac6e" stroke-width="3.4" fill="none"/>
<path d="M492.3 676V708" stroke="#58ac6e" stroke-width="3.2" fill="none"/>
<path d="M173.9 676V708" stroke="#5bb06e" stroke-width="3.1" fill="none"/>
<path d="M550.7 676V708" stroke="#5bb06e" stroke-width="5.6" fill="none"/>
</g>
<g filter="url(#bl)">
<path d="M49.2 538V545" stroke="#3a8d6c" stroke-width="2.7" fill="none"/>
<path d="M68.2 538V545" stroke="#3a8d6c" stroke-width="4.3" fill="none"/>
<path d="M72.2 538V545" stroke="#3a8d6c" stroke-width="3.8" fill="none"/>
<path d="M109.7 538V545M374.8 538V545" stroke="#3a8d6c" stroke-width="5.9" fill="none"/>
<path d="M121.1 538V545" stroke="#3a8d6c" stroke-width="3.9" fill="none"/>
<path d="M149.4 538V545" stroke="#3a8d6c" stroke-width="3" fill="none"/>
<path d="M218 538V545" stroke="#3a8d6c" stroke-width="3.7" fill="none"/>
<path d="M381.2 538V545" stroke="#3a8d6c" stroke-width="6.9" fill="none"/>
<path d="M428.2 538V545" stroke="#3a8d6c" stroke-width="7.7" fill="none"/>
<path d="M437.7 538V545" stroke="#3a8d6c" stroke-width="5.5" fill="none"/>
<path d="M481.5 538V545" stroke="#3a8d6c" stroke-width="6.2" fill="none"/>
<path d="M624.3 538V545" stroke="#3a8d6c" stroke-width="5.3" fill="none"/>
<path d="M41.1 538V545M370.4 538V545" stroke="#3d906c" stroke-width="3.2" fill="none"/>
<path d="M53.8 538V545" stroke="#3d906c" stroke-width="6.6" fill="none"/>
<path d="M76.3 538V545" stroke="#3d906c" stroke-width="4.5" fill="none"/>
<path d="M82.5 538V545M202.1 538V545" stroke="#3d906c" stroke-width="8" fill="none"/>
<path d="M114.7 538V545M214.1 538V545" stroke="#3d906c" stroke-width="4.2" fill="none"/>
<path d="M118 538V545M174 538V545" stroke="#3d906c" stroke-width="2.5" fill="none"/>
<path d="M188.6 538V545" stroke="#3d906c" stroke-width="7.7" fill="none"/>
<path d="M339 538V545" stroke="#3d906c" stroke-width="7.2" fill="none"/>
<path d="M487.5 538V545" stroke="#3d906c" stroke-width="5.7" fill="none"/>
<path d="M37.5 538V545" stroke="#3f936d" stroke-width="4" fill="none"/>
<path d="M45.3 538V545" stroke="#3f936d" stroke-width="5.3" fill="none"/>
<path d="M64.5 538V545M124.6 538V545" stroke="#3f936d" stroke-width="3.2" fill="none"/>
<path d="M89 538V545" stroke="#3f936d" stroke-width="4.9" fill="none"/>
<path d="M94.2 538V545" stroke="#3f936d" stroke-width="5.7" fill="none"/>
<path d="M100.3 538V545" stroke="#3f936d" stroke-width="6.6" fill="none"/>
<path d="M105.2 538V545" stroke="#3f936d" stroke-width="3.3" fill="none"/>
<path d="M128.3 538V545" stroke="#3f936d" stroke-width="4.3" fill="none"/>
<path d="M133.6 538V545" stroke="#3f936d" stroke-width="6.5" fill="none"/>
<path d="M140 538V545" stroke="#3f936d" stroke-width="6.4" fill="none"/>
<path d="M145.6 538V545" stroke="#3f936d" stroke-width="4.8" fill="none"/>
<path d="M163.1 538V545" stroke="#3f936d" stroke-width="5.6" fill="none"/>
<path d="M209.1 538V545" stroke="#3f936d" stroke-width="6" fill="none"/>
<path d="M229.1 538V545" stroke="#3f936d" stroke-width="3.7" fill="none"/>
<path d="M234.5 538V545" stroke="#3f936d" stroke-width="7.2" fill="none"/>
<path d="M244.2 538V545" stroke="#3f936d" stroke-width="7.1" fill="none"/>
<path d="M249.1 538V545" stroke="#3f936d" stroke-width="2.8" fill="none"/>
<path d="M322.7 538V545" stroke="#3f936d" stroke-width="3.6" fill="none"/>
<path d="M444.4 538V545" stroke="#3f936d" stroke-width="8" fill="none"/>
<path d="M449.4 538V545" stroke="#3f936d" stroke-width="2.1" fill="none"/>
<path d="M617.9 538V545" stroke="#3f936d" stroke-width="7.5" fill="none"/>
<path d="M60 538V545" stroke="#42966d" stroke-width="5.9" fill="none"/>
<path d="M157.7 538V545" stroke="#42966d" stroke-width="5.2" fill="none"/>
<path d="M169.3 538V545" stroke="#42966d" stroke-width="6.9" fill="none"/>
<path d="M223.6 538V545" stroke="#42966d" stroke-width="7.5" fill="none"/>
<path d="M239.4 538V545" stroke="#42966d" stroke-width="2.6" fill="none"/>
<path d="M264.4 538V545" stroke="#42966d" stroke-width="2.9" fill="none"/>
<path d="M290.2 538V545" stroke="#42966d" stroke-width="4.5" fill="none"/>
<path d="M302.5 538V545M396.9 538V545" stroke="#42966d" stroke-width="6.2" fill="none"/>
<path d="M360.8 538V545" stroke="#42966d" stroke-width="5.5" fill="none"/>
<path d="M366.1 538V545" stroke="#42966d" stroke-width="5.3" fill="none"/>
<path d="M390.5 538V545" stroke="#42966d" stroke-width="6.8" fill="none"/>
<path d="M475.8 538V545" stroke="#42966d" stroke-width="5.4" fill="none"/>
<path d="M535.2 538V545" stroke="#42966d" stroke-width="3.4" fill="none"/>
<path d="M551.1 538V545" stroke="#42966d" stroke-width="4.8" fill="none"/>
<path d="M554.6 538V545" stroke="#42966d" stroke-width="2.2" fill="none"/>
<path d="M563.9 538V545" stroke="#42966d" stroke-width="2.8" fill="none"/>
<path d="M572.2 538V545" stroke="#42966d" stroke-width="2.4" fill="none"/>
<path d="M600.9 538V545" stroke="#42966d" stroke-width="6.7" fill="none"/>
<path d="M608.1 538V545" stroke="#42966d" stroke-width="2.5" fill="none"/>
<path d="M628.4 538V545" stroke="#42966d" stroke-width="3.1" fill="none"/>
<path d="M153 538V545" stroke="#44986d" stroke-width="4.2" fill="none"/>
<path d="M176.7 538V545" stroke="#44986d" stroke-width="3.1" fill="none"/>
<path d="M181.5 538V545" stroke="#44986d" stroke-width="6.6" fill="none"/>
<path d="M261.7 538V545" stroke="#44986d" stroke-width="2.5" fill="none"/>
<path d="M268.5 538V545" stroke="#44986d" stroke-width="5.6" fill="none"/>
<path d="M274 538V545" stroke="#44986d" stroke-width="5.5" fill="none"/>
<path d="M285.5 538V545" stroke="#44986d" stroke-width="5.1" fill="none"/>
<path d="M295.9 538V545" stroke="#44986d" stroke-width="7.1" fill="none"/>
<path d="M313.5 538V545M466 538V545" stroke="#44986d" stroke-width="2.2" fill="none"/>
<path d="M326.1 538V545M596 538V545" stroke="#44986d" stroke-width="3.3" fill="none"/>
<path d="M331.6 538V545" stroke="#44986d" stroke-width="7.7" fill="none"/>
<path d="M346.4 538V545" stroke="#44986d" stroke-width="7.8" fill="none"/>
<path d="M421.8 538V545" stroke="#44986d" stroke-width="5.2" fill="none"/>
<path d="M433.5 538V545" stroke="#44986d" stroke-width="3" fill="none"/>
<path d="M452.6 538V545" stroke="#44986d" stroke-width="4.5" fill="none"/>
<path d="M457.3 538V545" stroke="#44986d" stroke-width="5" fill="none"/>
<path d="M470.1 538V545" stroke="#44986d" stroke-width="6.2" fill="none"/>
<path d="M506.5 538V545" stroke="#44986d" stroke-width="3.4" fill="none"/>
<path d="M526.2 538V545" stroke="#44986d" stroke-width="7.3" fill="none"/>
<path d="M546.9 538V545" stroke="#44986d" stroke-width="3.6" fill="none"/>
<path d="M559.1 538V545" stroke="#44986d" stroke-width="7" fill="none"/>
<path d="M568.2 538V545" stroke="#44986d" stroke-width="5.8" fill="none"/>
<path d="M581.1 538V545" stroke="#44986d" stroke-width="5.4" fill="none"/>
<path d="M587.5 538V545" stroke="#44986d" stroke-width="7.4" fill="none"/>
<path d="M605.6 538V545" stroke="#44986d" stroke-width="2.7" fill="none"/>
<path d="M253.1 538V545" stroke="#479b6d" stroke-width="5.1" fill="none"/>
<path d="M258.1 538V545" stroke="#479b6d" stroke-width="5" fill="none"/>
<path d="M279.9 538V545" stroke="#479b6d" stroke-width="6.2" fill="none"/>
<path d="M385.9 538V545" stroke="#479b6d" stroke-width="2.6" fill="none"/>
<path d="M404 538V545" stroke="#479b6d" stroke-width="8" fill="none"/>
<path d="M503.8 538V545" stroke="#479b6d" stroke-width="2.1" fill="none"/>
<path d="M518 538V545" stroke="#479b6d" stroke-width="4.9" fill="none"/>
<path d="M531.7 538V545" stroke="#479b6d" stroke-width="3.7" fill="none"/>
<path d="M543.1 538V545" stroke="#479b6d" stroke-width="4.1" fill="none"/>
<path d="M195.3 538V545" stroke="#499e6e" stroke-width="5.7" fill="none"/>
<path d="M309 538V545" stroke="#499e6e" stroke-width="6.9" fill="none"/>
<path d="M317.8 538V545" stroke="#499e6e" stroke-width="6.4" fill="none"/>
<path d="M352 538V545" stroke="#499e6e" stroke-width="3.5" fill="none"/>
<path d="M410.2 538V545M416.9 538V545" stroke="#499e6e" stroke-width="4.7" fill="none"/>
<path d="M499.7 538V545" stroke="#499e6e" stroke-width="6.2" fill="none"/>
<path d="M575.9 538V545" stroke="#499e6e" stroke-width="5.1" fill="none"/>
<path d="M592.7 538V545" stroke="#499e6e" stroke-width="3.3" fill="none"/>
<path d="M611.8 538V545" stroke="#499e6e" stroke-width="4.8" fill="none"/>
<path d="M633.5 538V545" stroke="#499e6e" stroke-width="7.2" fill="none"/>
<path d="M355.9 538V545" stroke="#4ca16e" stroke-width="4.3" fill="none"/>
<path d="M413.6 538V545" stroke="#4ca16e" stroke-width="2.1" fill="none"/>
<path d="M462.3 538V545" stroke="#4ca16e" stroke-width="5.2" fill="none"/>
<path d="M511.9 538V545" stroke="#4ca16e" stroke-width="7.4" fill="none"/>
<path d="M493.5 538V545" stroke="#50a56e" stroke-width="6.4" fill="none"/>
<path d="M539 538V545" stroke="#50a56e" stroke-width="4.3" fill="none"/>
<path d="M521.5 538V545" stroke="#54a96e" stroke-width="2.2" fill="none"/>
</g>
<rect x="35.5" y="508.6" width="6" height="219.7" fill="#5fb46e" opacity="0.3"/>
<g filter="url(#bl)">
<path d="M223.6 518.4H232.8M249.3 518.4H259.1M284.5 518.3H289.5M289.5 518.3H294.5M305 518.2H314.5M314.5 518.2H321.5M336.2 518.2H340.8M340.8 518.2H344.9M350.3 518.1H356.7M356.7 518.1H363.2M363.2 518.1H367.4M367.4 518.1H374.9M383.3 518.1H392.3M392.3 518.1H399.9M399.9 518H406M406 518H409.9M409.9 518H416.1M416.1 518H422.3M422.3 518H426.4M426.4 518H434.4M434.4 518H443.6M443.6 517.9H453.5M453.5 517.9H459.2M459.2 517.9H465.5M465.5 517.9H471.3M471.3 517.9H477.8M477.8 517.9H485.7M485.7 517.8H488.8M488.8 517.8H497M497 517.8H506.8M506.8 517.8H513.4M513.4 517.8H517.8M517.8 517.8H527.3M527.3 517.7H533.9M533.9 517.7H539.6M539.6 517.7H546.8M546.8 517.7H550.2M550.2 517.7H558M558 517.7H566.1M566.1 517.7H574.8M574.8 517.6H579.3M579.3 517.6H582.7M582.7 517.6H590M590 517.6H599M599 517.6H602.2M602.2 517.6H611.1M611.1 517.5H619.1M619.1 517.5H623.1M623.1 517.5H630.3M630.3 517.5H634.7M387.5 523H391.6M408.7 523H415.7M443.7 522.9H451.9M451.9 522.9H459.5M459.5 522.9H467.2M467.2 522.8H476.2M481.1 522.8H488.5M488.5 522.8H496.6M500.6 522.8H510.4M510.4 522.8H516.5M516.5 522.7H525.9M525.9 522.7H534.8M534.8 522.7H538.8M538.8 522.7H547.5M547.5 522.7H552.7M552.7 522.7H561.1M561.1 522.6H570.7M570.7 522.6H578.9M578.9 522.6H583.8M583.8 522.6H590.3M590.3 522.6H600.3M600.3 522.6H607.9M607.9 522.5H616.8M616.8 522.5H620.8M620.8 522.5H630.1M556.9 548.2H561.9M608.3 548.3H617.9M617.9 548.3H624.2M632.9 548.3H636M260.2 557.4H266.6M275.5 557.4H283.1M318.7 557.4H324.2M338.6 557.3H348.1M363.3 557.3H372.6M382.4 557.3H387.3M394.2 557.3H403.7M408.6 557.3H418.1M418.1 557.2H424.8M424.8 557.2H433.1M433.1 557.2H441.5M441.5 557.2H449.7M449.7 557.2H457.7M457.7 557.2H461M461 557.2H469.3M469.3 557.2H478.5M478.5 557.2H486.2M486.2 557.2H491.1M491.1 557.2H498.1M498.1 557.2H505.3M505.3 557.1H509.6M509.6 557.1H517.3M517.3 557.1H520.5M520.5 557.1H527.2M527.2 557.1H531.7M531.7 557.1H539M539 557.1H546.5M546.5 557.1H555.4M555.4 557.1H564.1M564.1 557.1H568.3M568.3 557.1H573.1M573.1 557.1H576.5M576.5 557.1H583.5M583.5 557.1H591.5M591.5 557H595M595 557H603.6M603.6 557H611.2M611.2 557H616.2M616.2 557H623.7M623.7 557H631.9M631.9 557H636M290.7 578.4H295.5M313.1 578.4H321.7M351.2 578.3H360.2M360.2 578.3H366.9M366.9 578.3H371.9M371.9 578.3H380.3M383.6 578.3H388.5M388.5 578.3H392M392 578.3H401.4M406.6 578.3H412.4M412.4 578.3H418.3M418.3 578.2H422.4M422.4 578.2H427.8M427.8 578.2H435.6M440.1 578.2H448.4M448.4 578.2H458.2M458.2 578.2H462.4M469.1 578.2H473.3M473.3 578.2H482.4M482.4 578.2H490.6M490.6 578.2H495.6M495.6 578.2H502.6M502.6 578.2H506.4M506.4 578.1H510M510 578.1H516.8M516.8 578.1H520.7M520.7 578.1H526.1M526.1 578.1H536M536 578.1H539.2M539.2 578.1H545.6M545.6 578.1H553.9M553.9 578.1H560.7M560.7 578.1H569.2M569.2 578.1H576.5M576.5 578.1H581.1M581.1 578.1H589.3M589.3 578H597.1M597.1 578H604.3M604.3 578H613.7M617.1 578H622.5M622.5 578H630.3M314 590.1H318.3M548.4 589.4H556.8M624.3 589.2H631.4M379.7 610H385.9M393.2 610H401M401 610H408.9M408.9 610H414.1M447.8 610H453.2M461.5 610H465.3M475.8 610H481.6M481.6 610H486.4M486.4 610H490.2M490.2 610H496.6M496.6 610H501M505.6 610H509.3M509.3 610H514.3M514.3 610H518.4M518.4 610H525.4M525.4 610H529.3M529.3 610H535.1M535.1 610H544.3M544.3 610H549.4M549.4 610H556.5M556.5 610H563M563 610H566.9M566.9 610H575.7M575.7 610H580.7M580.7 610H586.5M586.5 610H591.5M591.5 610H597M597 610H605.8M605.8 610H610.1M610.1 610H616.4M616.4 610H622.9M622.9 610H631.6M631.6 610H636M565.7 622.6H569.5M624.9 632.3H630.7M557 638.4H560.1M560.1 638.4H563.8M541.5 641H550.1M575.5 641H581M589.3 641H597.2M610.3 641H615.7M152.1 644.4H159.8M219.9 645H224.2M224.2 645H230.1M234 645H242.4M245.7 645H251.6M257 645H263.6M273.2 645H281M281 645H284.1M284.1 645H289M289 645H293.5M301.7 645H305.6M310.5 645H313.6M313.6 645H321.7M321.7 645H329.4M329.4 645H336.7M345.6 645H350.8M356.9 645H363.6M363.6 645H370.9M370.9 645H374.5M374.5 645H384.2M384.2 645H393.6M393.6 645H397.6M397.6 645H406.5M406.5 645H414.4M414.4 645H422.8M428.6 645H433.8M433.8 645H439M439 645H448.6M448.6 645H458.3M458.3 645H465.7M465.7 645H475M475 645H482.3M482.3 645H485.7M485.7 645H490.7M490.7 645H494M494 645H498.3M498.3 645H502.3M502.3 645H512.1M512.1 645H521.1M521.1 645H525M525 645H532M532 645H538.9M538.9 645H544.8M544.8 645H553.2M553.2 645H558.5M558.5 645H567.2M567.2 645H571.3M571.3 645H576.4M576.4 645H583.7M583.7 645H587.4M587.4 645H593.4M593.4 645H601.2M601.2 645H607.2M607.2 645H616.6M616.6 645H620.1M620.1 645H629.8M629.8 645H636M268.6 699H274.8M305.8 699H312.7M364.1 699H372.3M403 699H412.5M428 699H436.7M445.3 699H455.1M455.1 699H462.6M472.6 699H475.8M485.7 699H489.2M489.2 699H497.5M501.1 699H507.1M511.1 699H516.8M516.8 699H524.4M524.4 699H530.3M530.3 699H534.1M534.1 699H542.3M542.3 699H548.6M553.4 699H561.9M561.9 699H569.3M569.3 699H577.9M577.9 699H582.8M592.8 699H601.6M601.6 699H604.8M604.8 699H609.5M609.5 699H617M617 699H625.9M625.9 699H630.1M630.1 699H636M482.6 720H491.3M507 720H512.5M524.9 720H528.3M528.3 720H537.2M560 720H566.1M574.5 720H584.3M629.5 720H636" stroke="#3d906c" stroke-width="2.6" fill="none"/>
<path d="M566.1 517.7H574.8M574.8 517.6H579.3M599 517.6H602.2M602.2 517.6H611.1M630.3 517.5H634.7M600.3 522.6H607.9M616.8 522.5H620.8M620.8 522.5H630.1M583.5 557.1H591.5M591.5 557H595M603.6 557H611.2M616.2 557H623.7M623.7 557H631.9M631.9 557H636M597.1 578H604.3M604.3 578H613.7M617.1 578H622.5M622.5 578H630.3M586.5 610H591.5M616.4 610H622.9M622.9 610H631.6M631.6 610H636M521.1 645H525M571.3 645H576.4" stroke="#3d906c" stroke-width="1" fill="none"/>
<path d="M366.6 531H371.4M405.6 530.9H413.9M413.9 530.9H423.7M454.9 530.8H459.9M476.7 530.8H480.2M480.2 530.8H486.8M486.8 530.8H495M495 530.8H500.7M500.7 530.7H509.9M509.9 530.7H518.8M518.8 530.7H524.7M524.7 530.7H529.3M529.3 530.7H534.5M534.5 530.7H542.2M542.2 530.7H547M547 530.7H550M550 530.7H555M555 530.6H561.2M561.2 530.6H569.4M569.4 530.6H573.8M573.8 530.6H583.2M583.2 530.6H590.1M590.1 530.6H598.4M598.4 530.6H604.2M604.2 530.6H611.6M611.6 530.5H617.4M617.4 530.5H626.6M632.3 530.5H636M582.3 549.1H585.7M616 549H620.1M620.1 549H626.7M630.2 549H636" stroke="#3d906c" stroke-width="2.7" fill="none"/>
<path d="M617.4 530.5H626.6" stroke="#3d906c" stroke-width="1.1" fill="none"/>
<path d="M586.7 515.2H590.9M186.6 518.8H189.6M189.6 518.7H194.5M194.5 518.6H199.9M199.9 518.5H206.5M206.5 518.5H213.8M213.8 518.5H223.6M232.8 518.4H240.7M240.7 518.4H249.3M259.1 518.4H266.6M266.6 518.3H273.6M273.6 518.3H279.6M279.6 518.3H284.5M294.5 518.3H301.1M301.1 518.3H305M321.5 518.2H327.6M327.6 518.2H336.2M344.9 518.2H350.3M374.9 518.1H383.3M131.7 525H141.3M175.9 523.9H182.9M188.2 523.7H192.1M207.5 523.4H214.9M214.9 523.4H219.1M219.1 523.4H225.3M239.9 523.3H248.4M257.2 523.3H260.4M267.1 523.3H276.5M276.5 523.2H285.3M294 523.2H303.3M303.3 523.2H307.5M307.5 523.2H315.5M315.5 523.2H322M322 523.1H326.2M326.2 523.1H331.8M337.3 523.1H340.4M340.4 523.1H344.7M344.7 523.1H354.7M354.7 523.1H364.5M364.5 523.1H370M370 523H374.8M374.8 523H383.7M383.7 523H387.5M391.6 523H396M396 523H401M401 523H408.7M415.7 522.9H425.6M425.6 522.9H431M431 522.9H437.9M437.9 522.9H443.7M476.2 522.8H481.1M496.6 522.8H500.6M195.7 547.5H203.6M287.2 547.7H297M297 547.7H300M310.3 547.7H317.6M327 547.7H331.6M344.3 547.8H347.4M351.2 547.8H355.4M355.4 547.8H361M364.5 547.8H369.1M387 547.9H396.6M405.5 547.9H413.1M428.8 547.9H432.3M432.3 547.9H436.3M445.4 548H453.3M453.3 548H461M461 548H467.8M467.8 548H476.1M476.1 548H485.6M493.6 548H503.5M508.7 548.1H514.9M514.9 548.1H519.3M519.3 548.1H524.5M533 548.1H540.7M540.7 548.1H547.7M547.7 548.1H556.9M561.9 548.2H565.1M565.1 548.2H573.1M573.1 548.2H581.5M581.5 548.2H590M590 548.2H594.1M594.1 548.2H602.4M602.4 548.2H608.3M624.2 548.3H632.9M133.9 558.5H138.6M154.2 558.1H161.9M166 557.9H176M181 557.7H189.7M189.7 557.6H194.4M194.4 557.5H203.3M203.3 557.5H213M213 557.5H219.6M219.6 557.5H223.2M223.2 557.5H227.4M227.4 557.5H230.6M230.6 557.5H237.2M237.2 557.5H246M246 557.4H249M249 557.4H254.5M254.5 557.4H260.2M266.6 557.4H272.3M272.3 557.4H275.5M283.1 557.4H286.9M286.9 557.4H293.5M293.5 557.4H300.1M300.1 557.4H308.8M308.8 557.4H318.7M324.2 557.4H328.5M328.5 557.3H335.3M335.3 557.3H338.6M348.1 557.3H352.6M352.6 557.3H359M359 557.3H363.3M372.6 557.3H382.4M387.3 557.3H394.2M403.7 557.3H408.6M173.9 578.6H183.1M190.2 578.5H197.5M197.5 578.5H203.7M212.2 578.5H215.6M215.6 578.5H222M222 578.5H228.8M228.8 578.5H234.6M234.6 578.5H241.5M241.5 578.4H247.4M247.4 578.4H254M254 578.4H258.1M258.1 578.4H265.4M265.4 578.4H270.8M270.8 578.4H275.6M275.6 578.4H279.1M279.1 578.4H284.8M284.8 578.4H290.7M295.5 578.4H303.2M303.2 578.4H313.1M321.7 578.4H326.3M326.3 578.4H332.8M332.8 578.3H336.3M336.3 578.3H343.8M343.8 578.3H351.2M380.3 578.3H383.6M401.4 578.3H406.6M435.6 578.2H440.1M462.4 578.2H469.1M104.3 591.6H108.2M108.2 591.5H113.2M150.9 591H155.3M173.4 590.7H180.1M180.1 590.6H184.9M184.9 590.6H188.9M224.4 590.3H230M242.7 590.3H248.6M248.6 590.3H257.4M283.3 590.2H292.1M318.3 590.1H325.2M325.2 590H334.8M334.8 590H339.4M346.1 590H352.7M365.6 589.9H371.3M371.3 589.9H380.6M380.6 589.9H390.5M390.5 589.9H395M395 589.9H399.1M399.1 589.8H406.5M411.1 589.8H416.2M416.2 589.8H424.2M424.2 589.8H433M433 589.8H437M437 589.7H442.4M442.4 589.7H449M449 589.7H455.7M461.2 589.7H470.6M470.6 589.6H478.3M478.3 589.6H483.4M483.4 589.6H491.4M491.4 589.6H497.3M497.3 589.6H506.5M506.5 589.5H511.4M511.4 589.5H514.8M514.8 589.5H522.6M522.6 589.5H527.7M527.7 589.5H532.6M532.6 589.5H542.5M542.5 589.4H548.4M556.8 589.4H564.7M564.7 589.4H568.2M568.2 589.4H577.4M577.4 589.4H585.3M585.3 589.3H594.5M594.5 589.3H603.4M603.4 589.3H611M611 589.3H620.9M620.9 589.2H624.3M631.4 589.2H636M192.9 610H199.2M208.2 610H217.8M217.8 610H221.9M221.9 610H227.6M249.4 610H254.2M262.2 610H267M267 610H274.9M274.9 610H281.6M281.6 610H289.2M289.2 610H294.2M294.2 610H300.1M300.1 610H303.9M303.9 610H309.8M309.8 610H318.7M318.7 610H323.3M323.3 610H326.4M326.4 610H331.7M331.7 610H336M336 610H344.1M344.1 610H351M351 610H360.5M360.5 610H363.9M363.9 610H370.8M370.8 610H379.7M385.9 610H393.2M414.1 610H419.8M419.8 610H424.6M424.6 610H432.1M432.1 610H441M441 610H447.8M453.2 610H461.5M465.3 610H471.3M471.3 610H475.8M501 610H505.6M253.6 622.6H262.1M300.7 622.6H307.4M336.2 622.6H345.7M396.2 622.6H399.3M399.3 622.6H402.8M402.8 622.6H411.2M427.9 622.6H435.2M447.2 622.6H453.6M453.6 622.6H458.1M458.1 622.6H464.2M464.2 622.6H467.8M467.8 622.6H477.7M484.4 622.6H492.8M492.8 622.6H499.4M499.4 622.6H502.5M502.5 622.6H506.4M506.4 622.6H510.4M510.4 622.6H515.5M515.5 622.6H522.6M522.6 622.6H527.5M527.5 622.6H536.6M536.6 622.6H544.6M544.6 622.6H547.8M547.8 622.6H551.9M551.9 622.6H559.9M559.9 622.6H565.7M569.5 622.6H576.7M576.7 622.6H579.9M579.9 622.6H589.8M589.8 622.6H594.9M594.9 622.6H600.8M600.8 622.6H609.9M609.9 622.6H613.7M613.7 622.6H622.8M622.8 622.6H627.9M627.9 622.6H636M232.6 632.3H241.5M254.3 632.3H262.8M345.7 632.3H351.2M364.5 632.3H369.4M374.4 632.3H383.9M392.3 632.3H397.9M434.6 632.3H444.5M444.5 632.3H450.5M450.5 632.3H459.2M459.2 632.3H464M472.9 632.3H482.6M482.6 632.3H489.3M489.3 632.3H492.3M501.1 632.3H508.7M508.7 632.3H517.3M517.3 632.3H521.9M526.4 632.3H533.9M533.9 632.3H539.1M539.1 632.3H547.5M547.5 632.3H551.6M551.6 632.3H554.9M554.9 632.3H559.6M559.6 632.3H566.3M566.3 632.3H569.8M569.8 632.3H573.4M573.4 632.3H582.9M582.9 632.3H592.1M592.1 632.3H600.4M600.4 632.3H607.7M607.7 632.3H615.5M615.5 632.3H624.9M630.7 632.3H636M240.5 638.4H247.5M247.5 638.4H254.4M300.8 638.4H308.7M318.1 638.4H322.2M338.6 638.4H346M356.4 638.4H364.4M376.5 638.4H385.3M385.3 638.4H392.3M423.5 638.4H430M430 638.4H435.2M435.2 638.4H443.8M450.4 638.4H454.9M454.9 638.4H459.9M459.9 638.4H464.9M464.9 638.4H473.7M483.6 638.4H486.6M486.6 638.4H495.3M495.3 638.4H499.5M499.5 638.4H506.7M506.7 638.4H511.3M511.3 638.4H517.9M527.4 638.4H531.6M531.6 638.4H539.2M539.2 638.4H543.6M543.6 638.4H549.4M549.4 638.4H557M563.8 638.4H570.2M570.2 638.4H580.1M580.1 638.4H588.8M588.8 638.4H592.8M592.8 638.4H597.6M597.6 638.4H601.1M601.1 638.4H604.2M604.2 638.4H607.8M607.8 638.4H614.6M614.6 638.4H623.7M623.7 638.4H632.5M632.5 638.4H636M310.2 641H319.4M340.5 641H347.5M372.9 641H377.2M397.7 641H407.2M407.2 641H414.2M414.2 641H418.1M418.1 641H422.7M422.7 641H431.7M431.7 641H436.1M436.1 641H444.9M452.3 641H457.8M457.8 641H463.5M463.5 641H468.1M471.5 641H474.9M474.9 641H483.2M483.2 641H488.6M488.6 641H492.4M492.4 641H501.9M510.4 641H517.8M521.7 641H527.2M527.2 641H531.8M531.8 641H541.5M550.1 641H556.5M556.5 641H560.8M566.4 641H575.5M581 641H589.3M597.2 641H606.4M606.4 641H610.3M615.7 641H624.6M624.6 641H629M629 641H634.9M634.9 641H636M69 643.4H76.9M139.8 644.3H149M178.1 644.8H184.2M184.2 644.8H189.9M189.9 644.9H198.7M198.7 645H204.6M204.6 645H209.8M209.8 645H215M215 645H219.9M230.1 645H234M242.4 645H245.7M251.6 645H257M263.6 645H273.2M293.5 645H298.4M298.4 645H301.7M305.6 645H310.5M336.7 645H345.6M350.8 645H356.9M422.8 645H428.6M149.9 698.9H159.1M176.1 699H183.7M183.7 699H191.9M200.9 699H206.9M206.9 699H212.8M220.7 699H223.9M223.9 699H230M230 699H233.2M233.2 699H238.3M238.3 699H243.6M243.6 699H251.1M251.1 699H259.7M259.7 699H268.6M274.8 699H278.2M278.2 699H282.9M282.9 699H292.2M292.2 699H297.1M297.1 699H305.8M312.7 699H321.5M321.5 699H328.8M328.8 699H334.1M334.1 699H337.6M337.6 699H340.9M340.9 699H350.4M350.4 699H354.4M354.4 699H358.8M358.8 699H364.1M372.3 699H378.9M378.9 699H383.1M383.1 699H387.3M387.3 699H393.5M393.5 699H403M412.5 699H419.4M419.4 699H428M436.7 699H445.3M462.6 699H472.6M475.8 699H485.7M497.5 699H501.1M507.1 699H511.1M548.6 699H553.4M582.8 699H592.8M167.5 714.7H176.8M183.6 714.9H192.6M329.7 715H337.3M437.5 715H447.4M447.4 715H450.8M476.6 715H486.3M486.3 715H493.9M505.5 715H509.4M509.4 715H516.6M526.3 715H529.9M529.9 715H536.2M536.2 715H541.7M541.7 715H548.2M551.2 715H557.1M557.1 715H561.3M561.3 715H567.5M567.5 715H576.7M576.7 715H584.5M590.1 715H597M597 715H606M618.5 715H624.6M624.6 715H631.4M631.4 715H636M175.5 719.9H183.3M223.1 720H231.5M238.2 720H245.4M245.4 720H253M253 720H260.5M266.1 720H271.5M271.5 720H275.2M275.2 720H278.7M278.7 720H287.9M287.9 720H292.9M292.9 720H298.9M316.7 720H320.2M328.4 720H336.3M336.3 720H342.5M342.5 720H348.6M352.5 720H362.4M371 720H375.3M380.7 720H385.2M385.2 720H394.7M394.7 720H401.1M401.1 720H408.1M408.1 720H416.4M435.3 720H441.7M441.7 720H447.2M447.2 720H455M455 720H460.8M460.8 720H469.7M469.7 720H477.3M477.3 720H482.6M491.3 720H497.9M497.9 720H507M512.5 720H518.9M518.9 720H524.9M537.2 720H544.7M544.7 720H553.9M553.9 720H560M566.1 720H574.5M584.3 720H593.7M593.7 720H602.7M602.7 720H606.3M606.3 720H611M611 720H618.6M618.6 720H623.7M623.7 720H629.5" stroke="#3f936d" stroke-width="2.6" fill="none"/>
<path d="M314.5 518.2H321.5M363.2 518.1H367.4M367.4 518.1H374.9M406 518H409.9M416.1 518H422.3M443.6 517.9H453.5M453.5 517.9H459.2M465.5 517.9H471.3M477.8 517.9H485.7M485.7 517.8H488.8M488.8 517.8H497M497 517.8H506.8M506.8 517.8H513.4M517.8 517.8H527.3M527.3 517.7H533.9M533.9 517.7H539.6M539.6 517.7H546.8M546.8 517.7H550.2M550.2 517.7H558M558 517.7H566.1M579.3 517.6H582.7M582.7 517.6H590M590 517.6H599M611.1 517.5H619.1M619.1 517.5H623.1M623.1 517.5H630.3M387.5 523H391.6M510.4 522.8H516.5M516.5 522.7H525.9M525.9 522.7H534.8M534.8 522.7H538.8M538.8 522.7H547.5M547.5 522.7H552.7M552.7 522.7H561.1M561.1 522.6H570.7M570.7 522.6H578.9M578.9 522.6H583.8M583.8 522.6H590.3M590.3 522.6H600.3M607.9 522.5H616.8M461 557.2H469.3M478.5 557.2H486.2M486.2 557.2H491.1M498.1 557.2H505.3M509.6 557.1H517.3M517.3 557.1H520.5M520.5 557.1H527.2M527.2 557.1H531.7M531.7 557.1H539M539 557.1H546.5M546.5 557.1H555.4M555.4 557.1H564.1M564.1 557.1H568.3M568.3 557.1H573.1M573.1 557.1H576.5M576.5 557.1H583.5M595 557H603.6M611.2 557H616.2M473.3 578.2H482.4M490.6 578.2H495.6M495.6 578.2H502.6M502.6 578.2H506.4M510 578.1H516.8M516.8 578.1H520.7M526.1 578.1H536M536 578.1H539.2M539.2 578.1H545.6M545.6 578.1H553.9M553.9 578.1H560.7M560.7 578.1H569.2M569.2 578.1H576.5M576.5 578.1H581.1M581.1 578.1H589.3M589.3 578H597.1M475.8 610H481.6M481.6 610H486.4M490.2 610H496.6M505.6 610H509.3M509.3 610H514.3M518.4 610H525.4M525.4 610H529.3M544.3 610H549.4M549.4 610H556.5M556.5 610H563M563 610H566.9M566.9 610H575.7M575.7 610H580.7M580.7 610H586.5M591.5 610H597M597 610H605.8M605.8 610H610.1M610.1 610H616.4M273.2 645H281M310.5 645H313.6M356.9 645H363.6M397.6 645H406.5M439 645H448.6M465.7 645H475M475 645H482.3M485.7 645H490.7M490.7 645H494M494 645H498.3M498.3 645H502.3M512.1 645H521.1M525 645H532M532 645H538.9M538.9 645H544.8M553.2 645H558.5M558.5 645H567.2M567.2 645H571.3M576.4 645H583.7M583.7 645H587.4M587.4 645H593.4M593.4 645H601.2M601.2 645H607.2M607.2 645H616.6M616.6 645H620.1M620.1 645H629.8M629.8 645H636M472.6 699H475.8M516.8 699H524.4M601.6 699H604.8M617 699H625.9M625.9 699H630.1M630.1 699H636" stroke="#3f936d" stroke-width="1" fill="none"/>
<path d="M210.6 531.3H216.7M248.7 531.2H255.1M271.4 531.2H277.7M277.7 531.1H287.2M287.2 531.1H294.7M308.3 531.1H313.7M313.7 531.1H322M322 531.1H328.5M328.5 531.1H337.9M337.9 531H342.5M342.5 531H352.3M352.3 531H358.2M358.2 531H366.6M371.4 531H381.3M381.3 531H384.4M384.4 531H388.5M388.5 530.9H394.1M394.1 530.9H399.1M399.1 530.9H405.6M423.7 530.9H430M430 530.9H433.2M433.2 530.9H436.7M436.7 530.9H440.6M440.6 530.9H447.5M447.5 530.8H454.9M459.9 530.8H469.3M469.3 530.8H476.7M503 549.2H512.2M512.2 549.2H516.8M520.4 549.2H523.6M532.1 549.2H541.6M549.7 549.1H557.8M557.8 549.1H563.2M563.2 549.1H572.9M572.9 549.1H582.3M585.7 549.1H591.2M591.2 549.1H597.3M597.3 549.1H601.4M601.4 549.1H606.6M606.6 549H616M626.7 549H630.2" stroke="#3f936d" stroke-width="2.7" fill="none"/>
<path d="M509.9 530.7H518.8M534.5 530.7H542.2M547 530.7H550M550 530.7H555M555 530.6H561.2M561.2 530.6H569.4M569.4 530.6H573.8M573.8 530.6H583.2M583.2 530.6H590.1M590.1 530.6H598.4M598.4 530.6H604.2M604.2 530.6H611.6M611.6 530.5H617.4M632.3 530.5H636" stroke="#3f936d" stroke-width="1.1" fill="none"/>
<path d="M529.6 515.2H532.8M542.2 515.2H551.3M551.3 515.2H560.5M577.7 515.2H586.7M590.9 515.2H594.5M599.6 515.2H608.6M608.6 515.2H614.9M620.7 515.2H629.8M634 515.2H636M141.8 519.7H150.6M160.3 519.3H169.5M169.5 519.1H177.8M177.8 518.9H186.6M66 526.8H69.9M76.8 526.4H85.5M85.5 526.2H95.4M106.3 525.7H115.9M141.3 524.8H150.7M157.8 524.4H166.1M166.1 524.2H171.5M171.5 524.1H175.9M182.9 523.8H188.2M196.9 523.4H200.4M225.3 523.3H229.3M229.3 523.3H233.7M233.7 523.3H239.9M248.4 523.3H257.2M260.4 523.3H267.1M285.3 523.2H294M331.8 523.1H337.3M134.1 547.1H137.5M145.7 547.2H150.5M187.1 547.4H195.7M211.3 547.5H218.5M218.5 547.5H225.9M225.9 547.6H231.6M231.6 547.6H238.2M243.9 547.6H247.1M256.3 547.6H265.1M265.1 547.6H273M273 547.6H278.6M278.6 547.7H287.2M300 547.7H303.3M303.3 547.7H310.3M317.6 547.7H327M331.6 547.7H337.3M337.3 547.8H344.3M347.4 547.8H351.2M361 547.8H364.5M369.1 547.8H375M375 547.8H383.8M383.8 547.8H387M396.6 547.9H402.5M402.5 547.9H405.5M413.1 547.9H420.6M420.6 547.9H424.3M424.3 547.9H428.8M436.3 547.9H439.6M439.6 547.9H445.4M485.6 548H490.1M490.1 548H493.6M503.5 548.1H508.7M524.5 548.1H533M47.9 559.7H57.3M65.5 559.5H70.3M70.3 559.4H77.7M81.4 559.2H89.6M89.6 559.1H98.5M98.5 559H107.1M107.1 558.8H116.1M122.8 558.6H127M127 558.6H133.9M138.6 558.4H148.4M161.9 558H166M176 557.8H181M489.3 566.9H494.9M520.3 566.9H528.7M528.7 566.9H538.4M571.2 567H579.1M591.5 567H595.9M595.9 567H601M601 567H607M607 567H615.9M615.9 567H623.3M627 567H633.4M633.4 567H636M143.5 578.6H149.4M157.8 578.6H167.4M167.4 578.6H173.9M183.1 578.5H190.2M203.7 578.5H212.2M529.7 582.1H536.8M35.5 592.5H41.2M46 592.3H54.7M54.7 592.2H64.4M64.4 592.1H74.1M89.5 591.8H94.9M94.9 591.7H104.3M113.2 591.5H119.3M119.3 591.4H124.4M132.6 591.2H135.9M135.9 591.2H144.7M144.7 591.1H150.9M165 590.8H170M170 590.8H173.4M188.9 590.5H192.4M192.4 590.5H197.7M197.7 590.4H203.6M203.6 590.4H213M213 590.4H216.3M216.3 590.3H224.4M230 590.3H239.3M239.3 590.3H242.7M257.4 590.2H266.9M266.9 590.2H275.1M275.1 590.2H283.3M292.1 590.1H297.1M297.1 590.1H305.4M305.4 590.1H314M339.4 590H346.1M352.7 590H358.4M358.4 590H365.6M406.5 589.8H411.1M455.7 589.7H461.2M439.8 599.2H446.2M515.3 599.5H522.1M549.5 599.7H553.9M603.2 599.9H610.1M610.1 599.9H618M628.2 600H636M122.5 610.3H126.7M156 610.2H161.2M161.2 610.1H169.5M169.5 610.1H176.3M176.3 610.1H183.2M183.2 610H192.9M199.2 610H208.2M227.6 610H235.2M235.2 610H242.9M242.9 610H249.4M254.2 610H262.2M42.1 623.9H47M56.3 623.8H64.2M64.2 623.7H71.4M89.2 623.5H97.4M103.9 623.4H107.4M107.4 623.4H115.5M115.5 623.3H119.1M136.9 623.1H145.2M145.2 623H153.3M166 622.9H169.6M169.6 622.8H174.6M174.6 622.8H183.4M183.4 622.7H192.2M192.2 622.6H199.6M207.1 622.6H216.6M216.6 622.6H219.8M219.8 622.6H226.7M226.7 622.6H232M238.6 622.6H245.7M245.7 622.6H253.6M262.1 622.6H268.4M268.4 622.6H278.3M278.3 622.6H287.6M287.6 622.6H294.2M294.2 622.6H300.7M307.4 622.6H315.4M315.4 622.6H322.6M322.6 622.6H326.9M326.9 622.6H336.2M345.7 622.6H353.9M353.9 622.6H356.9M356.9 622.6H364M364 622.6H372.7M372.7 622.6H377.7M377.7 622.6H383.3M383.3 622.6H390.2M390.2 622.6H396.2M411.2 622.6H414.7M414.7 622.6H423.8M423.8 622.6H427.9M435.2 622.6H438.9M438.9 622.6H447.2M477.7 622.6H484.4M140.5 631.3H148.5M154 631.5H159.6M159.6 631.6H162.6M187.5 632.1H195.1M195.1 632.2H198.5M210 632.3H218.8M218.8 632.3H224.6M224.6 632.3H229.4M229.4 632.3H232.6M241.5 632.3H245.9M262.8 632.3H270M270 632.3H279.9M279.9 632.3H288.3M288.3 632.3H298.3M298.3 632.3H304.8M304.8 632.3H313.8M313.8 632.3H322.1M322.1 632.3H327.8M327.8 632.3H337M337 632.3H345.7M351.2 632.3H355.5M355.5 632.3H364.5M369.4 632.3H374.4M383.9 632.3H392.3M397.9 632.3H406.6M406.6 632.3H411.1M411.1 632.3H419.2M419.2 632.3H427.8M427.8 632.3H430.9M430.9 632.3H434.6M464 632.3H472.9M492.3 632.3H501.1M521.9 632.3H526.4M80.4 636.2H83.5M99.7 636.6H104.5M139.2 637.3H144.2M144.2 637.4H149.3M154.2 637.7H164M164 637.8H172.6M172.6 638H182M182 638.2H192M209.1 638.4H212.7M212.7 638.4H222.4M222.4 638.4H228.2M228.2 638.4H233.7M233.7 638.4H240.5M254.4 638.4H262.1M262.1 638.4H265.9M265.9 638.4H275.5M275.5 638.4H279M279 638.4H283.1M283.1 638.4H287.3M287.3 638.4H295.7M295.7 638.4H300.8M308.7 638.4H318.1M322.2 638.4H332M332 638.4H338.6M346 638.4H350.8M350.8 638.4H356.4M364.4 638.4H371.6M371.6 638.4H376.5M392.3 638.4H399.5M399.5 638.4H404M404 638.4H407.9M407.9 638.4H411.5M411.5 638.4H417.3M417.3 638.4H423.5M443.8 638.4H450.4M473.7 638.4H483.6M517.9 638.4H527.4M84.8 638.7H90.5M155.4 640.2H164.7M177.6 640.6H182.5M197.2 641H204.4M209 641H215.1M215.1 641H220.6M220.6 641H224.2M224.2 641H233.3M243.3 641H250.6M250.6 641H260.4M260.4 641H267.1M267.1 641H274.5M274.5 641H281.3M281.3 641H284.9M284.9 641H288.5M288.5 641H297.7M297.7 641H304.2M304.2 641H310.2M319.4 641H324.4M324.4 641H330.1M330.1 641H335.9M335.9 641H340.5M347.5 641H357.4M357.4 641H365.7M365.7 641H372.9M377.2 641H384.9M384.9 641H393.6M393.6 641H397.7M444.9 641H452.3M468.1 641H471.5M501.9 641H510.4M517.8 641H521.7M560.8 641H566.4M35.5 642.9H40.4M76.9 643.5H81.9M81.9 643.6H91.1M91.1 643.7H98.6M98.6 643.7H103.8M103.8 643.8H109.5M115.4 644H123.6M123.6 644.1H132.8M132.8 644.2H139.8M149 644.4H152.1M159.8 644.5H168.8M168.8 644.7H178.1M58.4 698.7H67.3M83.3 698.8H91.5M100.5 698.8H109.2M109.2 698.8H114.9M114.9 698.9H121.9M121.9 698.9H130.5M130.5 698.9H140.3M140.3 698.9H149.9M159.1 698.9H162.6M162.6 698.9H172.1M172.1 699H176.1M191.9 699H200.9M212.8 699H220.7M158.3 714.5H167.5M176.8 714.8H183.6M192.6 715H202.4M214.9 715H221.2M232.9 715H238.9M244.9 715H248.3M248.3 715H256.9M256.9 715H265M286.4 715H291.7M291.7 715H298.9M298.9 715H308M308 715H312M312 715H320.4M320.4 715H325.3M325.3 715H329.7M355.7 715H361.7M361.7 715H366.7M366.7 715H371.1M371.1 715H376.8M376.8 715H384.8M384.8 715H388M388 715H396.2M400.2 715H404.6M408.8 715H417.3M417.3 715H420.5M420.5 715H429.6M429.6 715H437.5M450.8 715H454.8M454.8 715H460.7M460.7 715H464.9M464.9 715H473.6M473.6 715H476.6M493.9 715H500.9M500.9 715H505.5M516.6 715H526.3M584.5 715H590.1M606 715H614.3M614.3 715H618.5M153.4 719.7H161M183.3 719.9H188.8M188.8 719.9H193.8M193.8 720H200.3M200.3 720H204.7M204.7 720H208.3M208.3 720H215.8M215.8 720H223.1M231.5 720H238.2M260.5 720H266.1M298.9 720H306.9M306.9 720H316.7M320.2 720H328.4M348.6 720H352.5M362.4 720H371M375.3 720H380.7M416.4 720H425.8M425.8 720H435.3" stroke="#42966d" stroke-width="2.6" fill="none"/>
<path d="M223.6 518.4H232.8M249.3 518.4H259.1M273.6 518.3H279.6M279.6 518.3H284.5M284.5 518.3H289.5M289.5 518.3H294.5M301.1 518.3H305M305 518.2H314.5M336.2 518.2H340.8M340.8 518.2H344.9M344.9 518.2H350.3M350.3 518.1H356.7M356.7 518.1H363.2M383.3 518.1H392.3M392.3 518.1H399.9M399.9 518H406M409.9 518H416.1M422.3 518H426.4M426.4 518H434.4M434.4 518H443.6M459.2 517.9H465.5M471.3 517.9H477.8M513.4 517.8H517.8M408.7 523H415.7M415.7 522.9H425.6M443.7 522.9H451.9M451.9 522.9H459.5M459.5 522.9H467.2M467.2 522.8H476.2M476.2 522.8H481.1M481.1 522.8H488.5M488.5 522.8H496.6M500.6 522.8H510.4M540.7 548.1H547.7M547.7 548.1H556.9M556.9 548.2H561.9M573.1 548.2H581.5M608.3 548.3H617.9M617.9 548.3H624.2M632.9 548.3H636M260.2 557.4H266.6M275.5 557.4H283.1M318.7 557.4H324.2M328.5 557.3H335.3M335.3 557.3H338.6M338.6 557.3H348.1M363.3 557.3H372.6M382.4 557.3H387.3M387.3 557.3H394.2M394.2 557.3H403.7M408.6 557.3H418.1M418.1 557.2H424.8M424.8 557.2H433.1M433.1 557.2H441.5M441.5 557.2H449.7M449.7 557.2H457.7M457.7 557.2H461M469.3 557.2H478.5M491.1 557.2H498.1M505.3 557.1H509.6M290.7 578.4H295.5M295.5 578.4H303.2M313.1 578.4H321.7M351.2 578.3H360.2M360.2 578.3H366.9M366.9 578.3H371.9M371.9 578.3H380.3M380.3 578.3H383.6M383.6 578.3H388.5M388.5 578.3H392M392 578.3H401.4M406.6 578.3H412.4M412.4 578.3H418.3M418.3 578.2H422.4M422.4 578.2H427.8M427.8 578.2H435.6M440.1 578.2H448.4M448.4 578.2H458.2M458.2 578.2H462.4M462.4 578.2H469.1M469.1 578.2H473.3M482.4 578.2H490.6M506.4 578.1H510M520.7 578.1H526.1M314 590.1H318.3M548.4 589.4H556.8M594.5 589.3H603.4M611 589.3H620.9M624.3 589.2H631.4M370.8 610H379.7M379.7 610H385.9M393.2 610H401M401 610H408.9M408.9 610H414.1M441 610H447.8M447.8 610H453.2M461.5 610H465.3M471.3 610H475.8M486.4 610H490.2M496.6 610H501M514.3 610H518.4M529.3 610H535.1M535.1 610H544.3M565.7 622.6H569.5M622.8 622.6H627.9M624.9 632.3H630.7M557 638.4H560.1M560.1 638.4H563.8M452.3 641H457.8M541.5 641H550.1M575.5 641H581M589.3 641H597.2M610.3 641H615.7M152.1 644.4H159.8M219.9 645H224.2M224.2 645H230.1M234 645H242.4M242.4 645H245.7M245.7 645H251.6M257 645H263.6M281 645H284.1M284.1 645H289M289 645H293.5M301.7 645H305.6M313.6 645H321.7M321.7 645H329.4M329.4 645H336.7M336.7 645H345.6M345.6 645H350.8M363.6 645H370.9M370.9 645H374.5M374.5 645H384.2M384.2 645H393.6M393.6 645H397.6M406.5 645H414.4M414.4 645H422.8M422.8 645H428.6M428.6 645H433.8M433.8 645H439M448.6 645H458.3M458.3 645H465.7M482.3 645H485.7M502.3 645H512.1M544.8 645H553.2M268.6 699H274.8M292.2 699H297.1M305.8 699H312.7M312.7 699H321.5M364.1 699H372.3M378.9 699H383.1M403 699H412.5M428 699H436.7M436.7 699H445.3M445.3 699H455.1M455.1 699H462.6M475.8 699H485.7M485.7 699H489.2M489.2 699H497.5M497.5 699H501.1M501.1 699H507.1M511.1 699H516.8M524.4 699H530.3M530.3 699H534.1M534.1 699H542.3M542.3 699H548.6M553.4 699H561.9M561.9 699H569.3M569.3 699H577.9M577.9 699H582.8M582.8 699H592.8M592.8 699H601.6M604.8 699H609.5M609.5 699H617M328.4 720H336.3M482.6 720H491.3M507 720H512.5M524.9 720H528.3M528.3 720H537.2M553.9 720H560M560 720H566.1M574.5 720H584.3M602.7 720H606.3M629.5 720H636" stroke="#42966d" stroke-width="1" fill="none"/>
<path d="M189.9 531.4H198.2M198.2 531.3H204.5M204.5 531.3H210.6M216.7 531.3H220.9M220.9 531.3H225M232.8 531.2H238.8M238.8 531.2H248.7M255.1 531.2H263.4M263.4 531.2H271.4M294.7 531.1H300.1M300.1 531.1H308.3M363.9 549.4H370.9M467.5 549.3H476.6M476.6 549.3H482M482 549.2H487.8M487.8 549.2H494.6M497.6 549.2H503M516.8 549.2H520.4M523.6 549.2H532.1M541.6 549.1H549.7" stroke="#42966d" stroke-width="2.7" fill="none"/>
<path d="M366.6 531H371.4M371.4 531H381.3M405.6 530.9H413.9M413.9 530.9H423.7M454.9 530.8H459.9M459.9 530.8H469.3M476.7 530.8H480.2M480.2 530.8H486.8M486.8 530.8H495M495 530.8H500.7M500.7 530.7H509.9M518.8 530.7H524.7M524.7 530.7H529.3M529.3 530.7H534.5M542.2 530.7H547M582.3 549.1H585.7M616 549H620.1M620.1 549H626.7M630.2 549H636" stroke="#42966d" stroke-width="1.1" fill="none"/>
<path d="M165.4 515.2H174.6M306 515.3H315.8M327.8 515.3H331.5M336.9 515.3H344.1M352.2 515.3H356.1M356.1 515.3H362.9M379.4 515.3H389.1M420.1 515.3H425.1M433.3 515.3H441.7M448.5 515.3H451.6M459.2 515.3H463.6M466.8 515.3H474.4M482.9 515.3H487.3M487.3 515.3H492.4M492.4 515.3H501M501 515.3H504.3M504.3 515.3H511M514.8 515.3H521.3M521.3 515.3H529.6M532.8 515.2H542.2M565.5 515.2H569.2M569.2 515.2H577.7M594.5 515.2H599.6M614.9 515.2H620.7M629.8 515.2H634M110.8 520.5H118.8M118.8 520.3H122.8M122.8 520.2H126.8M134.4 519.9H141.8M150.6 519.5H160.3M46.1 527.3H51.8M51.8 527.1H56.9M95.4 526H102.1M102.1 525.8H106.3M115.9 525.5H123.4M123.4 525.2H131.7M150.7 524.6H157.8M192.1 523.5H196.9M200.4 523.4H207.5M72.2 546.7H80M106 546.9H109.8M109.8 547H115M124.9 547.1H134.1M137.5 547.1H145.7M150.5 547.2H158M158 547.3H164.5M164.5 547.3H168.1M168.1 547.3H172.5M172.5 547.4H181.9M181.9 547.4H187.1M203.6 547.5H211.3M238.2 547.6H243.9M247.1 547.6H256.3M35.5 560H39.2M39.2 559.9H47.9M57.3 559.6H61.2M61.2 559.6H65.5M77.7 559.3H81.4M116.1 558.7H122.8M148.4 558.2H154.2M96.5 565.8H102.2M266.8 566.7H274.9M317.8 566.8H320.8M339 566.8H344.3M374.4 566.8H378.2M396.9 566.8H403M411.5 566.8H417.1M417.1 566.9H424.7M424.7 566.9H432.5M446.2 566.9H452.3M452.3 566.9H458.5M465.6 566.9H475.3M475.3 566.9H479.8M479.8 566.9H483.2M483.2 566.9H489.3M494.9 566.9H503.7M503.7 566.9H506.8M506.8 566.9H512.4M512.4 566.9H520.3M538.4 566.9H541.7M541.7 566.9H550M557.1 566.9H566.1M566.1 567H571.2M579.1 567H588.4M588.4 567H591.5M623.3 567H627M61.6 578.8H70.5M70.5 578.8H74.5M109.5 578.7H115.6M115.6 578.7H119M119 578.7H127.3M127.3 578.7H136M136 578.6H143.5M149.4 578.6H152.5M152.5 578.6H157.8M293.4 582.4H299.8M442.5 582.2H449.9M502.7 582.2H506.4M516.1 582.1H525.2M579.8 582.1H589.8M589.8 582H597.4M597.4 582H600.4M614.1 582H622.2M622.2 582H627.7M41.2 592.4H46M79.7 591.9H89.5M124.4 591.3H132.6M155.3 590.9H165M115.4 597.8H119.6M304.3 598.7H311.4M353 598.9H357.4M357.4 598.9H365.6M375.3 599H379.5M402.1 599.1H410M410 599.1H419.2M434.3 599.2H439.8M459.8 599.3H467.9M467.9 599.4H471.2M493.9 599.5H498.4M498.4 599.5H501.5M501.5 599.5H505.7M522.1 599.6H531.6M531.6 599.6H535.3M573.9 599.8H579.4M579.4 599.8H585.3M585.3 599.8H592.1M592.1 599.8H597M597 599.9H603.2M618 599.9H624.6M624.6 600H628.2M109.4 610.3H118.5M118.5 610.3H122.5M132.2 610.2H136.4M142.1 610.2H150.8M150.8 610.2H156M391 616.1H394.7M394.7 616.1H404.3M404.3 616.1H408.9M433.9 616H443M488.4 615.8H493.1M539.4 615.7H543.9M566 615.6H571M576.3 615.6H579.7M579.7 615.6H582.7M591.2 615.5H598.2M602.4 615.5H610.8M618.2 615.4H624.9M624.9 615.4H631.6M71.4 623.7H79.3M79.3 623.6H89.2M97.4 623.4H103.9M119.1 623.3H128M128 623.2H136.9M153.3 623H160.7M160.7 622.9H166M199.6 622.6H207.1M232 622.6H238.6M108.5 630.7H115.1M148.5 631.4H154M162.6 631.7H167M167 631.7H171.1M171.1 631.8H179.2M179.2 632H187.5M198.5 632.3H204.6M204.6 632.3H210M245.9 632.3H254.3M35.5 635.5H44.2M49.9 635.7H54.1M54.1 635.8H61M61 635.9H65M65 636H70.5M70.5 636.1H80.4M83.5 636.3H89.8M89.8 636.4H95.2M95.2 636.5H99.7M104.5 636.7H110.8M110.8 636.8H114.2M114.2 636.9H122.8M122.8 637.1H132.5M132.5 637.2H135.7M135.7 637.3H139.2M149.3 637.5H154.2M192 638.3H199.9M199.9 638.4H209.1M56.8 638.1H63M70.9 638.4H76.4M90.5 638.8H98.8M110.8 639.2H116.5M144.2 639.9H151.6M164.7 640.3H170.3M170.3 640.5H177.6M182.5 640.7H187.6M187.6 640.8H197.2M204.4 641H209M233.3 641H243.3M40.4 643H49M49 643.1H52.9M52.9 643.2H59M59 643.3H69M109.5 643.9H115.4M537.6 648.9H546.2M594.5 648.9H598.6M43.7 698.7H51.1M51.1 698.7H58.4M67.3 698.8H76.5M76.5 698.8H83.3M91.5 698.8H100.5M587.4 707.2H595.9M553.6 712.5H558.7M117.5 714H125.7M125.7 714.1H132.5M136 714.3H143M143 714.3H146.5M202.4 715H206.1M206.1 715H214.9M221.2 715H225.7M225.7 715H232.9M238.9 715H244.9M265 715H275M275 715H281.1M281.1 715H286.4M337.3 715H347.3M347.3 715H355.7M396.2 715H400.2M404.6 715H408.8M548.2 715H551.2M55.2 719.1H63.6M97.3 719.4H102.9M102.9 719.4H111.6M115.1 719.5H124.6M128.6 719.6H134.7M134.7 719.6H144.1M144.1 719.7H153.4M161 719.8H168.4M168.4 719.8H175.5" stroke="#44986d" stroke-width="2.6" fill="none"/>
<path d="M189.6 518.7H194.5M194.5 518.6H199.9M199.9 518.5H206.5M213.8 518.5H223.6M232.8 518.4H240.7M266.6 518.3H273.6M294.5 518.3H301.1M321.5 518.2H327.6M327.6 518.2H336.2M374.9 518.1H383.3M315.5 523.2H322M326.2 523.1H331.8M340.4 523.1H344.7M344.7 523.1H354.7M354.7 523.1H364.5M364.5 523.1H370M370 523H374.8M374.8 523H383.7M383.7 523H387.5M391.6 523H396M396 523H401M401 523H408.7M425.6 522.9H431M431 522.9H437.9M437.9 522.9H443.7M496.6 522.8H500.6M310.3 547.7H317.6M387 547.9H396.6M514.9 548.1H519.3M561.9 548.2H565.1M565.1 548.2H573.1M581.5 548.2H590M590 548.2H594.1M594.1 548.2H602.4M602.4 548.2H608.3M624.2 548.3H632.9M223.2 557.5H227.4M227.4 557.5H230.6M230.6 557.5H237.2M246 557.4H249M249 557.4H254.5M266.6 557.4H272.3M272.3 557.4H275.5M286.9 557.4H293.5M293.5 557.4H300.1M300.1 557.4H308.8M308.8 557.4H318.7M324.2 557.4H328.5M348.1 557.3H352.6M352.6 557.3H359M359 557.3H363.3M372.6 557.3H382.4M403.7 557.3H408.6M212.2 578.5H215.6M234.6 578.5H241.5M258.1 578.4H265.4M270.8 578.4H275.6M275.6 578.4H279.1M279.1 578.4H284.8M284.8 578.4H290.7M303.2 578.4H313.1M321.7 578.4H326.3M326.3 578.4H332.8M332.8 578.3H336.3M336.3 578.3H343.8M343.8 578.3H351.2M401.4 578.3H406.6M435.6 578.2H440.1M150.9 591H155.3M242.7 590.3H248.6M334.8 590H339.4M365.6 589.9H371.3M380.6 589.9H390.5M390.5 589.9H395M411.1 589.8H416.2M437 589.7H442.4M442.4 589.7H449M461.2 589.7H470.6M470.6 589.6H478.3M478.3 589.6H483.4M491.4 589.6H497.3M497.3 589.6H506.5M506.5 589.5H511.4M514.8 589.5H522.6M527.7 589.5H532.6M532.6 589.5H542.5M542.5 589.4H548.4M556.8 589.4H564.7M568.2 589.4H577.4M585.3 589.3H594.5M603.4 589.3H611M631.4 589.2H636M267 610H274.9M281.6 610H289.2M289.2 610H294.2M300.1 610H303.9M303.9 610H309.8M318.7 610H323.3M336 610H344.1M344.1 610H351M351 610H360.5M385.9 610H393.2M414.1 610H419.8M419.8 610H424.6M424.6 610H432.1M432.1 610H441M453.2 610H461.5M465.3 610H471.3M501 610H505.6M300.7 622.6H307.4M499.4 622.6H502.5M515.5 622.6H522.6M527.5 622.6H536.6M544.6 622.6H547.8M569.5 622.6H576.7M576.7 622.6H579.9M579.9 622.6H589.8M589.8 622.6H594.9M594.9 622.6H600.8M600.8 622.6H609.9M609.9 622.6H613.7M232.6 632.3H241.5M392.3 632.3H397.9M472.9 632.3H482.6M482.6 632.3H489.3M501.1 632.3H508.7M517.3 632.3H521.9M533.9 632.3H539.1M539.1 632.3H547.5M559.6 632.3H566.3M566.3 632.3H569.8M573.4 632.3H582.9M592.1 632.3H600.4M607.7 632.3H615.5M630.7 632.3H636M247.5 638.4H254.4M450.4 638.4H454.9M454.9 638.4H459.9M486.6 638.4H495.3M511.3 638.4H517.9M527.4 638.4H531.6M549.4 638.4H557M563.8 638.4H570.2M580.1 638.4H588.8M588.8 638.4H592.8M592.8 638.4H597.6M601.1 638.4H604.2M604.2 638.4H607.8M607.8 638.4H614.6M632.5 638.4H636M418.1 641H422.7M463.5 641H468.1M471.5 641H474.9M483.2 641H488.6M510.4 641H517.8M521.7 641H527.2M550.1 641H556.5M556.5 641H560.8M566.4 641H575.5M606.4 641H610.3M615.7 641H624.6M624.6 641H629M69 643.4H76.9M189.9 644.9H198.7M204.6 645H209.8M215 645H219.9M230.1 645H234M251.6 645H257M263.6 645H273.2M293.5 645H298.4M298.4 645H301.7M305.6 645H310.5M350.8 645H356.9M176.1 699H183.7M206.9 699H212.8M220.7 699H223.9M223.9 699H230M233.2 699H238.3M251.1 699H259.7M282.9 699H292.2M297.1 699H305.8M321.5 699H328.8M334.1 699H337.6M337.6 699H340.9M340.9 699H350.4M372.3 699H378.9M383.1 699H387.3M387.3 699H393.5M412.5 699H419.4M419.4 699H428M462.6 699H472.6M507.1 699H511.1M548.6 699H553.4M536.2 715H541.7M551.2 715H557.1M557.1 715H561.3M618.5 715H624.6M631.4 715H636M175.5 719.9H183.3M371 720H375.3M435.3 720H441.7M447.2 720H455M455 720H460.8M460.8 720H469.7M469.7 720H477.3M477.3 720H482.6M491.3 720H497.9M497.9 720H507M512.5 720H518.9M518.9 720H524.9M544.7 720H553.9M566.1 720H574.5M584.3 720H593.7M593.7 720H602.7M606.3 720H611M611 720H618.6M618.6 720H623.7M623.7 720H629.5" stroke="#44986d" stroke-width="1" fill="none"/>
<path d="M149.9 531.9H158.3M165.4 531.7H174.9M174.9 531.6H181.2M181.2 531.5H189.9M225 531.2H232.8M389.8 549.4H396M402.2 549.4H410.1M410.1 549.4H413.3M413.3 549.4H417.2M428.4 549.3H437.6M437.6 549.3H447M447 549.3H453.3M453.3 549.3H458.7M458.7 549.3H462.4M462.4 549.3H467.5M494.6 549.2H497.6M515.4 574.1H521.5M536.9 574.1H541M589.7 574.2H597.2M612.5 574.2H615.6M621 574.2H626M485.4 607.5H488.5M585.1 608H590.9M610.4 608.1H613.8" stroke="#44986d" stroke-width="2.7" fill="none"/>
<path d="M271.4 531.2H277.7M277.7 531.1H287.2M287.2 531.1H294.7M308.3 531.1H313.7M313.7 531.1H322M322 531.1H328.5M328.5 531.1H337.9M337.9 531H342.5M352.3 531H358.2M358.2 531H366.6M384.4 531H388.5M388.5 530.9H394.1M394.1 530.9H399.1M399.1 530.9H405.6M430 530.9H433.2M433.2 530.9H436.7M436.7 530.9H440.6M440.6 530.9H447.5M447.5 530.8H454.9M469.3 530.8H476.7M557.8 549.1H563.2M585.7 549.1H591.2M591.2 549.1H597.3M597.3 549.1H601.4M601.4 549.1H606.6M606.6 549H616M626.7 549H630.2" stroke="#44986d" stroke-width="1.1" fill="none"/>
<path d="M77.1 514.7H80.5M152.7 515.1H162.3M174.6 515.3H183.1M196.9 515.4H206.3M219.9 515.4H227.1M247 515.4H252.4M266.9 515.4H273.6M273.6 515.4H280.9M298 515.4H306M315.8 515.3H322.4M322.4 515.3H327.8M331.5 515.3H336.9M344.1 515.3H352.2M362.9 515.3H371M371 515.3H374.4M374.4 515.3H379.4M389.1 515.3H393.6M393.6 515.3H401.8M401.8 515.3H411.6M425.1 515.3H433.3M441.7 515.3H448.5M451.6 515.3H459.2M463.6 515.3H466.8M474.4 515.3H482.9M511 515.3H514.8M560.5 515.2H565.5M72.7 521.4H80.4M85.6 521H94.3M94.3 520.8H103.8M126.8 520.1H134.4M35.5 527.5H40.7M40.7 527.4H46.1M56.9 526.9H66M69.9 526.6H76.8M45.4 546.6H52.3M57.8 546.7H67.6M67.6 546.7H72.2M87.5 546.8H95.9M115 547H124.9M47.1 565.4H56.2M67.8 565.6H77.1M146.3 566.3H150.9M200.4 566.7H208.9M234.1 566.7H237.5M250.8 566.7H254.3M260.6 566.7H266.8M279.1 566.8H288.8M320.8 566.8H325.1M378.2 566.8H385.2M385.2 566.8H389.1M403 566.8H411.5M440.8 566.9H446.2M458.5 566.9H465.6M550 566.9H557.1M49.5 578.9H54.5M78.4 578.8H88.3M88.3 578.8H95.7M95.7 578.7H100.8M100.8 578.7H106.4M106.4 578.7H109.5M255.5 582.4H262.7M278.8 582.4H282.8M289.5 582.4H293.4M359.3 582.3H364.2M380.6 582.3H385.4M393.6 582.3H400.3M404.7 582.3H410.7M421.6 582.2H429.2M439.3 582.2H442.5M449.9 582.2H459.2M506.4 582.1H511.9M525.2 582.1H529.7M556.3 582.1H560M560 582.1H564.5M564.5 582.1H570.5M600.4 582H605.9M627.7 582H632.8M632.8 582H636M74.1 592H79.7M112.1 597.8H115.4M136.3 597.9H142.1M154.4 598H158.6M177 598.2H185.9M185.9 598.2H189.2M202.5 598.3H206.4M211.3 598.4H219.2M240 598.5H249.2M249.2 598.5H252.2M252.2 598.5H262.1M262.1 598.6H271.2M288.3 598.7H292.2M292.2 598.7H297.6M311.4 598.8H320.4M320.4 598.8H327.3M327.3 598.8H337.1M365.6 599H375.3M379.5 599H388.8M388.8 599H394M394 599.1H402.1M419.2 599.2H427.5M427.5 599.2H434.3M446.2 599.3H451.4M451.4 599.3H459.8M471.2 599.4H478.3M478.3 599.4H484.9M505.7 599.5H515.3M535.3 599.6H538.9M538.9 599.6H544.7M544.7 599.7H549.5M553.9 599.7H558M558 599.7H567.2M567.2 599.7H573.9M66.4 610.5H73.4M73.4 610.5H77M90.9 610.4H96.2M96.2 610.4H100.9M100.9 610.4H105.7M105.7 610.3H109.4M136.4 610.2H142.1M40.9 617.4H45.7M131.8 617H141.3M222.3 616.6H227.2M248 616.5H253.7M270.2 616.5H278M284.7 616.4H292M351.1 616.2H360.4M366 616.2H371M378.7 616.2H382.7M408.9 616.1H418.8M471.1 615.9H476.7M493.1 615.8H496.8M496.8 615.8H501.6M506 615.8H514.8M521.7 615.7H527.1M543.9 615.7H552.3M556.5 615.6H566M571 615.6H576.3M598.2 615.5H602.4M610.8 615.5H618.2M35.5 624H42.1M47 623.9H56.3M40.1 629.4H43.7M75.2 630.1H82.7M82.7 630.2H87.7M92.6 630.4H102.3M122.3 630.9H129.3M129.3 631.1H136.6M136.6 631.2H140.5M44.2 635.6H49.9M41.1 637.8H51M76.4 638.5H84.8M98.8 638.9H102.5M102.5 639.1H110.8M116.5 639.3H123.1M123.1 639.5H127.6M127.6 639.6H132.9M132.9 639.7H138.2M138.2 639.8H144.2M151.6 640H155.4M264.8 648.9H270.8M319.2 648.9H322.4M340.8 648.9H349.3M372.6 648.9H381.1M485.3 648.9H493.1M551.5 648.9H555.3M585.5 648.9H594.5M612.6 648.9H621.8M35.5 698.7H43.7M91.4 706.6H97.5M307.7 707.2H314.9M314.9 707.2H324.8M340.5 707.2H348.8M407.6 707.2H413.2M429.5 707.2H438.3M446.7 707.2H450.2M469.7 707.2H479M485 707.2H491.9M516 707.2H519.2M519.2 707.2H526M538.8 707.2H544.6M567.5 707.2H571.8M579.5 707.2H587.4M595.9 707.2H602.4M635.6 707.2H636M281.4 712.5H291.3M299.7 712.5H308.7M326.3 712.5H334.7M353.3 712.5H358.5M408.3 712.5H417.3M420.6 712.5H425.8M443.2 712.5H450.3M466.1 712.5H471M478.1 712.5H487.5M487.5 712.5H494.9M494.9 712.5H499.2M499.2 712.5H507.9M507.9 712.5H512.5M512.5 712.5H518.6M518.6 712.5H527.3M527.3 712.5H531.9M531.9 712.5H537.1M558.7 712.5H564.2M591.7 712.5H598.3M607.7 712.5H615.8M633.2 712.5H636M35.5 713H38.8M78.6 713.6H83.2M83.2 713.6H89.4M89.4 713.7H97.3M106 713.9H113.9M132.5 714.2H136M146.5 714.4H150.6M150.6 714.4H158.3M67.6 719.2H74.6M74.6 719.3H83.1M111.6 719.5H115.1M124.6 719.6H128.6" stroke="#479b6d" stroke-width="2.6" fill="none"/>
<path d="M586.7 515.2H590.9M186.6 518.8H189.6M206.5 518.5H213.8M240.7 518.4H249.3M259.1 518.4H266.6M131.7 525H141.3M175.9 523.9H182.9M188.2 523.7H192.1M207.5 523.4H214.9M214.9 523.4H219.1M219.1 523.4H225.3M239.9 523.3H248.4M257.2 523.3H260.4M267.1 523.3H276.5M276.5 523.2H285.3M294 523.2H303.3M303.3 523.2H307.5M307.5 523.2H315.5M322 523.1H326.2M337.3 523.1H340.4M195.7 547.5H203.6M287.2 547.7H297M297 547.7H300M351.2 547.8H355.4M355.4 547.8H361M405.5 547.9H413.1M428.8 547.9H432.3M445.4 548H453.3M453.3 548H461M461 548H467.8M467.8 548H476.1M476.1 548H485.6M493.6 548H503.5M508.7 548.1H514.9M519.3 548.1H524.5M533 548.1H540.7M133.9 558.5H138.6M154.2 558.1H161.9M166 557.9H176M181 557.7H189.7M189.7 557.6H194.4M194.4 557.5H203.3M203.3 557.5H213M213 557.5H219.6M219.6 557.5H223.2M237.2 557.5H246M254.5 557.4H260.2M283.1 557.4H286.9M173.9 578.6H183.1M190.2 578.5H197.5M197.5 578.5H203.7M215.6 578.5H222M222 578.5H228.8M228.8 578.5H234.6M241.5 578.4H247.4M254 578.4H258.1M265.4 578.4H270.8M104.3 591.6H108.2M108.2 591.5H113.2M173.4 590.7H180.1M180.1 590.6H184.9M184.9 590.6H188.9M224.4 590.3H230M248.6 590.3H257.4M318.3 590.1H325.2M325.2 590H334.8M346.1 590H352.7M371.3 589.9H380.6M395 589.9H399.1M399.1 589.8H406.5M416.2 589.8H424.2M424.2 589.8H433M433 589.8H437M449 589.7H455.7M483.4 589.6H491.4M511.4 589.5H514.8M522.6 589.5H527.7M564.7 589.4H568.2M577.4 589.4H585.3M620.9 589.2H624.3M192.9 610H199.2M208.2 610H217.8M217.8 610H221.9M221.9 610H227.6M249.4 610H254.2M262.2 610H267M274.9 610H281.6M294.2 610H300.1M309.8 610H318.7M323.3 610H326.4M326.4 610H331.7M331.7 610H336M360.5 610H363.9M363.9 610H370.8M253.6 622.6H262.1M336.2 622.6H345.7M396.2 622.6H399.3M402.8 622.6H411.2M427.9 622.6H435.2M447.2 622.6H453.6M453.6 622.6H458.1M458.1 622.6H464.2M464.2 622.6H467.8M467.8 622.6H477.7M484.4 622.6H492.8M492.8 622.6H499.4M506.4 622.6H510.4M510.4 622.6H515.5M522.6 622.6H527.5M536.6 622.6H544.6M547.8 622.6H551.9M551.9 622.6H559.9M559.9 622.6H565.7M613.7 622.6H622.8M627.9 622.6H636M345.7 632.3H351.2M364.5 632.3H369.4M374.4 632.3H383.9M434.6 632.3H444.5M444.5 632.3H450.5M450.5 632.3H459.2M459.2 632.3H464M508.7 632.3H517.3M526.4 632.3H533.9M547.5 632.3H551.6M551.6 632.3H554.9M554.9 632.3H559.6M569.8 632.3H573.4M582.9 632.3H592.1M600.4 632.3H607.7M615.5 632.3H624.9M240.5 638.4H247.5M300.8 638.4H308.7M318.1 638.4H322.2M338.6 638.4H346M356.4 638.4H364.4M376.5 638.4H385.3M385.3 638.4H392.3M423.5 638.4H430M430 638.4H435.2M435.2 638.4H443.8M459.9 638.4H464.9M464.9 638.4H473.7M483.6 638.4H486.6M495.3 638.4H499.5M499.5 638.4H506.7M506.7 638.4H511.3M531.6 638.4H539.2M539.2 638.4H543.6M543.6 638.4H549.4M570.2 638.4H580.1M597.6 638.4H601.1M614.6 638.4H623.7M623.7 638.4H632.5M310.2 641H319.4M340.5 641H347.5M372.9 641H377.2M397.7 641H407.2M407.2 641H414.2M422.7 641H431.7M431.7 641H436.1M436.1 641H444.9M457.8 641H463.5M474.9 641H483.2M488.6 641H492.4M492.4 641H501.9M527.2 641H531.8M531.8 641H541.5M581 641H589.3M597.2 641H606.4M629 641H634.9M634.9 641H636M139.8 644.3H149M178.1 644.8H184.2M184.2 644.8H189.9M198.7 645H204.6M209.8 645H215M149.9 698.9H159.1M183.7 699H191.9M200.9 699H206.9M230 699H233.2M238.3 699H243.6M243.6 699H251.1M259.7 699H268.6M274.8 699H278.2M278.2 699H282.9M328.8 699H334.1M350.4 699H354.4M354.4 699H358.8M358.8 699H364.1M393.5 699H403M167.5 714.7H176.8M183.6 714.9H192.6M329.7 715H337.3M437.5 715H447.4M447.4 715H450.8M476.6 715H486.3M486.3 715H493.9M509.4 715H516.6M526.3 715H529.9M529.9 715H536.2M541.7 715H548.2M561.3 715H567.5M567.5 715H576.7M576.7 715H584.5M590.1 715H597M624.6 715H631.4M223.1 720H231.5M238.2 720H245.4M245.4 720H253M253 720H260.5M266.1 720H271.5M271.5 720H275.2M275.2 720H278.7M278.7 720H287.9M287.9 720H292.9M292.9 720H298.9M316.7 720H320.2M336.3 720H342.5M352.5 720H362.4M380.7 720H385.2M385.2 720H394.7M394.7 720H401.1M401.1 720H408.1M408.1 720H416.4M441.7 720H447.2M537.2 720H544.7" stroke="#479b6d" stroke-width="1" fill="none"/>
<path d="M120.1 532.3H124.8M135.9 532.1H139.8M139.8 532H145.7M260.6 549.6H268.7M268.7 549.6H275.1M298.7 549.5H304.7M312.1 549.5H316.2M316.2 549.5H324.4M324.4 549.5H333.2M340 549.5H346.8M346.8 549.5H350.9M350.9 549.5H358.4M358.4 549.4H363.9M370.9 549.4H375.6M381.4 549.4H386.2M386.2 549.4H389.8M396 549.4H402.2M417.2 549.3H421M421 549.3H428.4M357.8 573.9H363.1M458.5 574H465.2M541 574.1H546.2M553.9 574.1H557.5M565.3 574.1H571.6M571.6 574.1H577.7M577.7 574.1H583.4M583.4 574.2H589.7M597.2 574.2H600.4M615.6 574.2H621M626 574.2H630M630 574.2H636M367.4 607H374.3M428.8 607.3H437.6M502.7 607.6H512.6M512.6 607.6H517.2M534.2 607.7H539.4M545.6 607.8H554.3M554.3 607.8H558.3M613.8 608.1H620M620 608.1H625.3M625.3 608.2H634.8M634.8 608.2H636" stroke="#479b6d" stroke-width="2.7" fill="none"/>
<path d="M210.6 531.3H216.7M248.7 531.2H255.1M342.5 531H352.3M381.3 531H384.4M423.7 530.9H430M503 549.2H512.2M512.2 549.2H516.8M520.4 549.2H523.6M532.1 549.2H541.6M549.7 549.1H557.8M563.2 549.1H572.9M572.9 549.1H582.3" stroke="#479b6d" stroke-width="1.1" fill="none"/>
<path d="M49 514.5H57.9M68.9 514.6H77.1M91.7 514.8H99.1M99.1 514.8H102.6M117.3 514.9H125.4M125.4 515H131.6M131.6 515H138.7M138.7 515H144.5M144.5 515.1H152.7M162.3 515.2H165.4M183.1 515.3H193M193 515.4H196.9M206.3 515.4H212.8M227.1 515.4H233.6M237.5 515.4H241.2M241.2 515.4H247M252.4 515.4H257.6M257.6 515.4H266.9M280.9 515.4H287.2M287.2 515.4H293.6M293.6 515.4H298M411.6 515.3H420.1M44.9 522H54.6M80.4 521.2H85.6M103.8 520.6H110.8M35.5 546.5H45.4M80 546.8H87.5M95.9 546.9H99.8M99.8 546.9H106M35.5 565.3H39.3M59.3 565.5H63.4M102.2 565.9H105.9M118.8 566H121.9M121.9 566.1H129.9M150.9 566.3H158.5M167.2 566.4H172.8M172.8 566.5H176.4M208.9 566.7H216.3M242.2 566.7H250.8M274.9 566.8H279.1M288.8 566.8H297.6M297.6 566.8H307.4M307.4 566.8H312.5M325.1 566.8H331.8M331.8 566.8H339M344.3 566.8H352.6M352.6 566.8H359.4M359.4 566.8H369.4M389.1 566.8H396.9M432.5 566.9H440.8M35.5 578.9H39.7M54.5 578.8H61.6M64 585.1H68.5M168.3 583.1H174.5M196.6 582.5H201.9M220.2 582.5H224.8M237.7 582.5H244.5M244.5 582.4H248.9M282.8 582.4H289.5M305.6 582.4H314.1M314.1 582.4H322.6M322.6 582.4H326.4M326.4 582.4H330.3M337.3 582.3H343.1M343.1 582.3H349.8M349.8 582.3H359.3M364.2 582.3H373.9M373.9 582.3H380.6M410.7 582.3H414.5M414.5 582.2H421.6M429.2 582.2H435.6M435.6 582.2H439.3M459.2 582.2H467.9M467.9 582.2H472.3M472.3 582.2H479.3M479.3 582.2H488.7M494.2 582.2H498.5M498.5 582.2H502.7M511.9 582.1H516.1M536.8 582.1H542.7M542.7 582.1H550.5M550.5 582.1H556.3M605.9 582H614.1M54.5 597.4H63.6M63.6 597.5H72.2M92.6 597.7H102.6M102.6 597.7H108.6M119.6 597.8H124.9M129.1 597.9H136.3M147.9 598H154.4M158.6 598.1H167.3M167.3 598.1H172.6M172.6 598.1H177M189.2 598.3H197.5M206.4 598.3H211.3M219.2 598.4H227.6M227.6 598.4H236.7M236.7 598.4H240M271.2 598.6H278.5M278.5 598.6H288.3M297.6 598.7H304.3M345.8 598.9H353M484.9 599.4H493.9M49.8 610.5H53.5M53.5 610.5H61.2M61.2 610.5H66.4M77 610.4H81.7M81.7 610.4H87M87 610.4H90.9M126.7 610.3H132.2M49.2 617.3H54.3M82.8 617.2H87M141.3 616.9H151.2M151.2 616.9H155.1M155.1 616.9H163.8M163.8 616.8H171M175 616.8H184.1M184.1 616.8H191.7M191.7 616.7H198.4M227.2 616.6H231.5M231.5 616.6H235.1M235.1 616.6H240.1M240.1 616.6H248M261.3 616.5H270.2M292 616.4H298.1M298.1 616.4H304.1M304.1 616.4H309.7M317.4 616.3H326.2M326.2 616.3H332.1M332.1 616.3H337.9M337.9 616.3H344.9M344.9 616.3H351.1M371 616.2H378.7M418.8 616H427.9M427.9 616H433.9M443 616H448.9M448.9 615.9H456.8M456.8 615.9H462.8M467.7 615.9H471.1M476.7 615.9H481.2M501.6 615.8H506M514.8 615.8H521.7M527.1 615.7H533.5M533.5 615.7H539.4M552.3 615.6H556.5M582.7 615.5H591.2M631.6 615.4H636M52.7 629.7H60.4M60.4 629.8H65.9M65.9 629.9H69.6M69.6 630H75.2M102.3 630.6H108.5M115.1 630.8H122.3M35.5 637.7H41.1M51 638H56.8M63 638.2H70.9M35.5 649.4H44M153 649H162.7M253.4 648.9H256.6M283.2 648.9H290.3M349.3 648.9H358M397.7 648.9H404.3M419.9 648.9H427.9M427.9 648.9H437.5M475.8 648.9H485.3M493.1 648.9H501.5M514.3 648.9H519M529.3 648.9H537.6M555.3 648.9H560.1M560.1 648.9H564.4M564.4 648.9H571M571 648.9H575.5M575.5 648.9H585.5M604.7 648.9H612.6M625.7 648.9H633.3M633.3 648.9H636M56.2 706.4H61.4M82.8 706.6H91.4M124.2 706.8H127.8M182.7 707.1H189.6M206.2 707.2H215.5M241.6 707.2H248.5M255.6 707.2H265.2M272.7 707.2H280.6M324.8 707.2H334.4M334.4 707.2H340.5M362.5 707.2H368M368 707.2H372.9M372.9 707.2H376.7M387.7 707.2H393.6M401.2 707.2H407.6M450.2 707.2H456.7M479 707.2H485M491.9 707.2H501.8M501.8 707.2H510.6M510.6 707.2H516M526 707.2H531.1M549.4 707.2H557.6M557.6 707.2H567.5M602.4 707.2H607.2M607.2 707.2H616.1M616.1 707.2H623.1M623.1 707.2H626.8M626.8 707.2H635.6M133.9 711.8H137.9M137.9 711.9H144M223.1 712.5H228.9M228.9 712.5H232.9M274.1 712.5H281.4M308.7 712.5H313.4M345.7 712.5H353.3M358.5 712.5H366.3M383.5 712.5H389.4M398.7 712.5H403.4M403.4 712.5H408.3M438.5 712.5H443.2M459.5 712.5H466.1M471 712.5H478.1M537.1 712.5H544M544 712.5H549.1M549.1 712.5H553.6M564.2 712.5H572.7M572.7 712.5H576.5M576.5 712.5H585.3M585.3 712.5H591.7M598.3 712.5H607.7M615.8 712.5H625.3M625.3 712.5H633.2M38.8 713.1H46.7M55 713.3H59.5M59.5 713.4H69.5M69.5 713.5H78.6M97.3 713.8H106M113.9 714H117.5M35.5 719H40M40 719H45.7M45.7 719.1H55.2M63.6 719.2H67.6M83.1 719.3H92M92 719.4H97.3" stroke="#499e6e" stroke-width="2.6" fill="none"/>
<path d="M177.8 518.9H186.6M196.9 523.4H200.4M225.3 523.3H229.3M229.3 523.3H233.7M233.7 523.3H239.9M248.4 523.3H257.2M260.4 523.3H267.1M285.3 523.2H294M331.8 523.1H337.3M134.1 547.1H137.5M187.1 547.4H195.7M225.9 547.6H231.6M243.9 547.6H247.1M256.3 547.6H265.1M278.6 547.7H287.2M300 547.7H303.3M317.6 547.7H327M327 547.7H331.6M337.3 547.8H344.3M344.3 547.8H347.4M361 547.8H364.5M364.5 547.8H369.1M369.1 547.8H375M375 547.8H383.8M383.8 547.8H387M402.5 547.9H405.5M413.1 547.9H420.6M420.6 547.9H424.3M424.3 547.9H428.8M432.3 547.9H436.3M436.3 547.9H439.6M439.6 547.9H445.4M485.6 548H490.1M490.1 548H493.6M503.5 548.1H508.7M524.5 548.1H533M127 558.6H133.9M161.9 558H166M176 557.8H181M520.3 566.9H528.7M571.2 567H579.1M591.5 567H595.9M633.4 567H636M143.5 578.6H149.4M203.7 578.5H212.2M247.4 578.4H254M113.2 591.5H119.3M132.6 591.2H135.9M135.9 591.2H144.7M165 590.8H170M170 590.8H173.4M203.6 590.4H213M216.3 590.3H224.4M266.9 590.2H275.1M275.1 590.2H283.3M283.3 590.2H292.1M292.1 590.1H297.1M297.1 590.1H305.4M305.4 590.1H314M339.4 590H346.1M352.7 590H358.4M358.4 590H365.6M406.5 589.8H411.1M455.7 589.7H461.2M515.3 599.5H522.1M122.5 610.3H126.7M199.2 610H208.2M227.6 610H235.2M242.9 610H249.4M89.2 623.5H97.4M115.5 623.3H119.1M169.6 622.8H174.6M183.4 622.7H192.2M245.7 622.6H253.6M268.4 622.6H278.3M294.2 622.6H300.7M307.4 622.6H315.4M353.9 622.6H356.9M383.3 622.6H390.2M399.3 622.6H402.8M411.2 622.6H414.7M423.8 622.6H427.9M435.2 622.6H438.9M477.7 622.6H484.4M502.5 622.6H506.4M187.5 632.1H195.1M224.6 632.3H229.4M241.5 632.3H245.9M254.3 632.3H262.8M270 632.3H279.9M279.9 632.3H288.3M304.8 632.3H313.8M313.8 632.3H322.1M337 632.3H345.7M351.2 632.3H355.5M355.5 632.3H364.5M369.4 632.3H374.4M383.9 632.3H392.3M397.9 632.3H406.6M406.6 632.3H411.1M411.1 632.3H419.2M419.2 632.3H427.8M427.8 632.3H430.9M430.9 632.3H434.6M464 632.3H472.9M489.3 632.3H492.3M492.3 632.3H501.1M521.9 632.3H526.4M182 638.2H192M209.1 638.4H212.7M212.7 638.4H222.4M254.4 638.4H262.1M265.9 638.4H275.5M283.1 638.4H287.3M287.3 638.4H295.7M308.7 638.4H318.1M332 638.4H338.6M371.6 638.4H376.5M392.3 638.4H399.5M404 638.4H407.9M417.3 638.4H423.5M443.8 638.4H450.4M473.7 638.4H483.6M517.9 638.4H527.4M220.6 641H224.2M250.6 641H260.4M267.1 641H274.5M274.5 641H281.3M281.3 641H284.9M284.9 641H288.5M288.5 641H297.7M319.4 641H324.4M324.4 641H330.1M335.9 641H340.5M347.5 641H357.4M357.4 641H365.7M365.7 641H372.9M377.2 641H384.9M393.6 641H397.7M414.2 641H418.1M468.1 641H471.5M501.9 641H510.4M517.8 641H521.7M560.8 641H566.4M91.1 643.7H98.6M98.6 643.7H103.8M103.8 643.8H109.5M115.4 644H123.6M123.6 644.1H132.8M132.8 644.2H139.8M149 644.4H152.1M159.8 644.5H168.8M168.8 644.7H178.1M58.4 698.7H67.3M109.2 698.8H114.9M114.9 698.9H121.9M130.5 698.9H140.3M159.1 698.9H162.6M162.6 698.9H172.1M172.1 699H176.1M191.9 699H200.9M212.8 699H220.7M244.9 715H248.3M286.4 715H291.7M298.9 715H308M355.7 715H361.7M361.7 715H366.7M400.2 715H404.6M450.8 715H454.8M460.7 715H464.9M493.9 715H500.9M500.9 715H505.5M505.5 715H509.4M516.6 715H526.3M584.5 715H590.1M597 715H606M606 715H614.3M614.3 715H618.5M153.4 719.7H161M188.8 719.9H193.8M193.8 720H200.3M200.3 720H204.7M204.7 720H208.3M208.3 720H215.8M215.8 720H223.1M231.5 720H238.2M260.5 720H266.1M298.9 720H306.9M306.9 720H316.7M320.2 720H328.4M342.5 720H348.6M348.6 720H352.5M362.4 720H371M375.3 720H380.7M416.4 720H425.8M425.8 720H435.3" stroke="#499e6e" stroke-width="1" fill="none"/>
<path d="M99.6 532.5H108.1M108.1 532.4H112.8M112.8 532.4H120.1M124.8 532.2H129.6M129.6 532.2H135.9M145.7 532H149.9M158.3 531.8H165.4M159 550.6H168.7M168.7 550.3H177.1M194.5 549.7H201.9M229.7 549.6H238.8M238.8 549.6H244.6M244.6 549.6H252.7M252.7 549.6H260.6M281 549.6H290.3M304.7 549.5H312.1M333.2 549.5H336.7M375.6 549.4H381.4M375 574H380.2M390.1 574H394.6M401.2 574H404.2M404.2 574H413.3M429.6 574H438.9M448 574H451M451 574H458.5M465.2 574H474.1M486.1 574.1H493.5M500.4 574.1H506.7M506.7 574.1H515.4M521.5 574.1H529M529 574.1H536.9M549.3 574.1H553.9M557.5 574.1H565.3M600.4 574.2H607.8M607.8 574.2H612.5M58.6 604.2H64.7M187.4 606H191.9M320.9 606.8H329.1M363.3 607H367.4M374.3 607H381.5M381.5 607H388.7M421.4 607.2H428.8M445.8 607.3H454M460.6 607.4H470.2M470.2 607.5H476.8M476.8 607.5H485.4M517.2 607.7H525.4M525.4 607.7H534.2M558.3 607.9H562.5M562.5 607.9H568.9M578.9 608H585.1M590.9 608H597.3M597.3 608H601.5M601.5 608.1H610.4" stroke="#499e6e" stroke-width="2.7" fill="none"/>
<path d="M198.2 531.3H204.5M204.5 531.3H210.6M216.7 531.3H220.9M232.8 531.2H238.8M238.8 531.2H248.7M255.1 531.2H263.4M263.4 531.2H271.4M294.7 531.1H300.1M300.1 531.1H308.3M523.6 549.2H532.1" stroke="#499e6e" stroke-width="1.1" fill="none"/>
<path d="M259.6 681.5H269.1M441.1 681.5H446.1M446.1 681.5H454.6M528.9 681.5H536.3M554.4 681.5H561.9" stroke="#499e6e" stroke-width="2.8" fill="none"/>
<path d="M35.5 514.4H38.5M57.9 514.5H61.9M80.5 514.7H87.7M102.6 514.8H108.8M108.8 514.9H117.3M212.8 515.4H219.9M233.6 515.4H237.5M35.5 522.2H40.6M40.6 522.1H44.9M54.6 521.8H64M64 521.6H67.4M67.4 521.5H72.7M52.3 546.6H57.8M39.3 565.4H47.1M56.2 565.5H59.3M63.4 565.6H67.8M77.1 565.7H85.2M85.2 565.8H92M92 565.8H96.5M129.9 566.1H139.1M139.1 566.2H146.3M176.4 566.5H185.6M194.4 566.7H200.4M216.3 566.7H224.6M237.5 566.7H242.2M312.5 566.8H317.8M369.4 566.8H374.4M39.7 578.9H49.5M74.5 578.8H78.4M35.5 585.6H45.4M52.4 585.3H60.5M78.6 584.8H87.2M97.8 584.5H101.3M135.1 583.7H141.5M146.9 583.5H153.2M161.5 583.2H168.3M174.5 582.9H182.6M182.6 582.8H190.3M201.9 582.5H211.5M211.5 582.5H220.2M224.8 582.5H230.8M230.8 582.5H237.7M248.9 582.4H255.5M330.3 582.3H337.3M385.4 582.3H388.5M388.5 582.3H393.6M400.3 582.3H404.7M488.7 582.2H494.2M570.5 582.1H579.8M40.9 597.4H50.8M85 597.6H92.6M124.9 597.9H129.1M142.1 598H147.9M197.5 598.3H202.5M337.1 598.9H345.8M35.5 610.6H40.6M40.6 610.6H49.8M35.5 617.4H40.9M59.1 617.3H64.7M74.2 617.2H82.8M95.5 617.1H102.7M108.2 617.1H116.5M116.5 617H122.3M122.3 617H131.8M198.4 616.7H206.2M215.9 616.6H222.3M278 616.5H284.7M309.7 616.4H317.4M360.4 616.2H366M382.7 616.1H391M462.8 615.9H467.7M481.2 615.9H488.4M35.5 629.3H40.1M43.7 629.5H52.7M87.7 630.3H92.6M44 649.4H53.9M107.9 649.2H111.5M132.2 649.1H139M170.5 649H178.3M256.6 648.9H261.4M261.4 648.9H264.8M300.7 648.9H310.3M313.5 648.9H319.2M322.4 648.9H329.8M358 648.9H365.8M404.3 648.9H409.2M416 648.9H419.9M463.4 648.9H468.6M468.6 648.9H472.8M472.8 648.9H475.8M501.5 648.9H505.7M505.7 648.9H514.3M523.5 648.9H529.3M546.2 648.9H551.5M598.6 648.9H604.7M621.8 648.9H625.7M35.5 706.3H43.2M47.6 706.4H56.2M70.1 706.5H74.9M74.9 706.5H82.8M102 706.7H105.8M105.8 706.7H109.3M109.3 706.7H119M119 706.8H124.2M141.9 706.9H151.2M151.2 706.9H155.3M155.3 707H158.7M215.5 707.2H220M237.2 707.2H241.6M265.2 707.2H272.7M290 707.2H299M299 707.2H307.7M348.8 707.2H358.3M358.3 707.2H362.5M376.7 707.2H383.6M383.6 707.2H387.7M393.6 707.2H401.2M413.2 707.2H418.8M418.8 707.2H424.5M424.5 707.2H429.5M438.3 707.2H446.7M456.7 707.2H463.1M463.1 707.2H469.7M531.1 707.2H538.8M544.6 707.2H549.4M105.6 711.6H112.5M128.5 711.8H133.9M148.8 712H153.8M153.8 712H157.4M168.8 712.2H175.1M175.1 712.3H180.2M195.2 712.5H205.1M205.1 712.5H214.6M232.9 712.5H237.4M237.4 712.5H242.9M291.3 712.5H299.7M313.4 712.5H320M334.7 712.5H339.9M366.3 712.5H375.9M375.9 712.5H383.5M389.4 712.5H393.7M393.7 712.5H398.7M417.3 712.5H420.6M429.6 712.5H438.5M450.3 712.5H459.5" stroke="#4ca16e" stroke-width="2.6" fill="none"/>
<path d="M529.6 515.2H532.8M542.2 515.2H551.3M551.3 515.2H560.5M599.6 515.2H608.6M608.6 515.2H614.9M620.7 515.2H629.8M141.8 519.7H150.6M169.5 519.1H177.8M66 526.8H69.9M76.8 526.4H85.5M85.5 526.2H95.4M106.3 525.7H115.9M141.3 524.8H150.7M171.5 524.1H175.9M182.9 523.8H188.2M145.7 547.2H150.5M211.3 547.5H218.5M231.6 547.6H238.2M265.1 547.6H273M273 547.6H278.6M303.3 547.7H310.3M331.6 547.7H337.3M347.4 547.8H351.2M396.6 547.9H402.5M47.9 559.7H57.3M65.5 559.5H70.3M89.6 559.1H98.5M107.1 558.8H116.1M122.8 558.6H127M138.6 558.4H148.4M528.7 566.9H538.4M595.9 567H601M627 567H633.4M157.8 578.6H167.4M167.4 578.6H173.9M183.1 578.5H190.2M529.7 582.1H536.8M35.5 592.5H41.2M46 592.3H54.7M54.7 592.2H64.4M94.9 591.7H104.3M119.3 591.4H124.4M144.7 591.1H150.9M188.9 590.5H192.4M192.4 590.5H197.7M197.7 590.4H203.6M213 590.4H216.3M230 590.3H239.3M239.3 590.3H242.7M257.4 590.2H266.9M439.8 599.2H446.2M549.5 599.7H553.9M603.2 599.9H610.1M610.1 599.9H618M628.2 600H636M161.2 610.1H169.5M169.5 610.1H176.3M176.3 610.1H183.2M183.2 610H192.9M254.2 610H262.2M42.1 623.9H47M107.4 623.4H115.5M145.2 623H153.3M166 622.9H169.6M174.6 622.8H183.4M192.2 622.6H199.6M207.1 622.6H216.6M216.6 622.6H219.8M219.8 622.6H226.7M238.6 622.6H245.7M262.1 622.6H268.4M278.3 622.6H287.6M287.6 622.6H294.2M315.4 622.6H322.6M322.6 622.6H326.9M345.7 622.6H353.9M356.9 622.6H364M364 622.6H372.7M377.7 622.6H383.3M390.2 622.6H396.2M414.7 622.6H423.8M438.9 622.6H447.2M140.5 631.3H148.5M195.1 632.2H198.5M218.8 632.3H224.6M229.4 632.3H232.6M288.3 632.3H298.3M298.3 632.3H304.8M322.1 632.3H327.8M327.8 632.3H337M80.4 636.2H83.5M99.7 636.6H104.5M139.2 637.3H144.2M144.2 637.4H149.3M154.2 637.7H164M164 637.8H172.6M172.6 638H182M222.4 638.4H228.2M228.2 638.4H233.7M233.7 638.4H240.5M262.1 638.4H265.9M275.5 638.4H279M279 638.4H283.1M346 638.4H350.8M350.8 638.4H356.4M364.4 638.4H371.6M399.5 638.4H404M407.9 638.4H411.5M411.5 638.4H417.3M84.8 638.7H90.5M155.4 640.2H164.7M177.6 640.6H182.5M197.2 641H204.4M209 641H215.1M215.1 641H220.6M224.2 641H233.3M243.3 641H250.6M260.4 641H267.1M297.7 641H304.2M304.2 641H310.2M330.1 641H335.9M384.9 641H393.6M444.9 641H452.3M81.9 643.6H91.1M83.3 698.8H91.5M100.5 698.8H109.2M121.9 698.9H130.5M140.3 698.9H149.9M158.3 714.5H167.5M214.9 715H221.2M232.9 715H238.9M248.3 715H256.9M256.9 715H265M291.7 715H298.9M312 715H320.4M320.4 715H325.3M325.3 715H329.7M366.7 715H371.1M371.1 715H376.8M376.8 715H384.8M384.8 715H388M388 715H396.2M417.3 715H420.5M420.5 715H429.6M429.6 715H437.5M454.8 715H460.7M473.6 715H476.6M183.3 719.9H188.8" stroke="#4ca16e" stroke-width="1" fill="none"/>
<path d="M76.5 532.8H83.1M83.1 532.8H89.7M78.1 552.5H83.9M135 551.2H141.5M141.5 551H150.5M186.6 550H190.6M223 549.7H229.7M275.1 549.6H281M336.7 549.5H340M173.2 573.6H179M194.6 573.8H199.8M199.8 573.8H207.8M273.9 573.9H283.5M286.9 573.9H292.3M292.3 573.9H298.5M298.5 573.9H304.2M321.2 573.9H328.3M341.1 573.9H348.9M363.1 574H369M369 574H375M383.7 574H390.1M394.6 574H401.2M413.3 574H420.4M438.9 574H448M474.1 574.1H480.7M480.7 574.1H486.1M493.5 574.1H500.4M546.2 574.1H549.3M88.1 604.6H94.7M201.6 606.2H210.4M220.1 606.3H223.5M250.4 606.4H255.1M262.4 606.5H269.4M269.4 606.5H273.4M285.8 606.6H292.3M329.1 606.8H339M339 606.9H346.7M346.7 606.9H354.1M354.1 606.9H363.3M388.7 607.1H393M393 607.1H401.2M401.2 607.1H407.1M416.4 607.2H421.4M437.6 607.3H441.4M441.4 607.3H445.8M454 607.4H460.6M494.7 607.6H502.7M539.4 607.8H545.6M568.9 607.9H578.9" stroke="#4ca16e" stroke-width="2.7" fill="none"/>
<path d="M220.9 531.3H225M476.6 549.3H482M482 549.2H487.8M487.8 549.2H494.6M516.8 549.2H520.4M541.6 549.1H549.7" stroke="#4ca16e" stroke-width="1.1" fill="none"/>
<path d="M39.3 540.4H44.1M128.5 681.5H138.2M454.6 681.5H458.1M461.4 681.5H471M479.4 681.5H489.1M507.7 681.5H513.5M587.2 681.5H595.2" stroke="#4ca16e" stroke-width="2.8" fill="none"/>
<path d="M38.5 514.4H45M87.7 514.7H91.7M105.9 565.9H115.7M115.7 566H118.8M158.5 566.4H167.2M185.6 566.6H194.4M224.6 566.7H234.1M254.3 566.7H260.6M60.5 585.2H64M73.4 584.9H78.6M91.9 584.5H97.8M101.3 584.4H107.1M113 584.2H116.2M126.2 583.8H135.1M153.2 583.3H161.5M272.1 582.4H278.8M299.8 582.4H305.6M50.8 597.4H54.5M72.2 597.5H80.1M80.1 597.6H85M108.6 597.8H112.1M45.7 617.3H49.2M54.3 617.3H59.1M102.7 617.1H108.2M171 616.8H175M206.2 616.7H215.9M57.6 649.3H67.2M67.2 649.3H76.5M86.7 649.2H94.9M103.3 649.2H107.9M122.1 649.1H128.4M145.1 649.1H153M178.3 649H185.6M185.6 648.9H193.6M200 648.9H204.7M214.4 648.9H221.2M221.2 648.9H226.2M235 648.9H244.1M270.8 648.9H278.8M278.8 648.9H283.2M290.3 648.9H295.1M295.1 648.9H300.7M310.3 648.9H313.5M329.8 648.9H335.6M335.6 648.9H340.8M381.1 648.9H388.6M388.6 648.9H397.7M409.2 648.9H416M437.5 648.9H443.7M443.7 648.9H447.5M457.3 648.9H463.4M61.4 706.5H70.1M97.5 706.7H102M158.7 707H168M173.4 707.1H182.7M189.6 707.2H198.8M198.8 707.2H201.9M201.9 707.2H206.2M220 707.2H228.6M248.5 707.2H255.6M280.6 707.2H290M571.8 707.2H579.5M45.2 710.9H53.1M53.1 711H60M60 711.1H69.8M77.9 711.3H84.5M144 711.9H148.8M157.4 712.1H164M180.2 712.3H185.2M214.6 712.5H223.1M250.3 712.5H259.7M266.6 712.5H274.1M320 712.5H326.3M339.9 712.5H345.7M425.8 712.5H429.6M46.7 713.2H55" stroke="#50a56e" stroke-width="2.6" fill="none"/>
<path d="M352.2 515.3H356.1M420.1 515.3H425.1M448.5 515.3H451.6M466.8 515.3H474.4M501 515.3H504.3M565.5 515.2H569.2M569.2 515.2H577.7M577.7 515.2H586.7M590.9 515.2H594.5M614.9 515.2H620.7M634 515.2H636M150.6 519.5H160.3M160.3 519.3H169.5M115.9 525.5H123.4M123.4 525.2H131.7M157.8 524.4H166.1M166.1 524.2H171.5M192.1 523.5H196.9M200.4 523.4H207.5M106 546.9H109.8M109.8 547H115M172.5 547.4H181.9M181.9 547.4H187.1M203.6 547.5H211.3M218.5 547.5H225.9M238.2 547.6H243.9M57.3 559.6H61.2M61.2 559.6H65.5M70.3 559.4H77.7M81.4 559.2H89.6M98.5 559H107.1M116.1 558.7H122.8M148.4 558.2H154.2M417.1 566.9H424.7M483.2 566.9H489.3M489.3 566.9H494.9M503.7 566.9H506.8M512.4 566.9H520.3M538.4 566.9H541.7M541.7 566.9H550M557.1 566.9H566.1M566.1 567H571.2M579.1 567H588.4M588.4 567H591.5M601 567H607M607 567H615.9M615.9 567H623.3M623.3 567H627M149.4 578.6H152.5M622.2 582H627.7M64.4 592.1H74.1M89.5 591.8H94.9M124.4 591.3H132.6M155.3 590.9H165M459.8 599.3H467.9M501.5 599.5H505.7M579.4 599.8H585.3M592.1 599.8H597M597 599.9H603.2M624.6 600H628.2M109.4 610.3H118.5M118.5 610.3H122.5M132.2 610.2H136.4M142.1 610.2H150.8M156 610.2H161.2M235.2 610H242.9M488.4 615.8H493.1M602.4 615.5H610.8M56.3 623.8H64.2M64.2 623.7H71.4M71.4 623.7H79.3M97.4 623.4H103.9M103.9 623.4H107.4M136.9 623.1H145.2M153.3 623H160.7M199.6 622.6H207.1M226.7 622.6H232M232 622.6H238.6M326.9 622.6H336.2M372.7 622.6H377.7M154 631.5H159.6M159.6 631.6H162.6M179.2 632H187.5M198.5 632.3H204.6M204.6 632.3H210M210 632.3H218.8M245.9 632.3H254.3M262.8 632.3H270M35.5 635.5H44.2M54.1 635.8H61M65 636H70.5M89.8 636.4H95.2M95.2 636.5H99.7M110.8 636.8H114.2M132.5 637.2H135.7M149.3 637.5H154.2M192 638.3H199.9M199.9 638.4H209.1M295.7 638.4H300.8M322.2 638.4H332M90.5 638.8H98.8M187.6 640.8H197.2M35.5 642.9H40.4M49 643.1H52.9M59 643.3H69M76.9 643.5H81.9M109.5 643.9H115.4M51.1 698.7H58.4M91.5 698.8H100.5M176.8 714.8H183.6M192.6 715H202.4M202.4 715H206.1M206.1 715H214.9M221.2 715H225.7M225.7 715H232.9M265 715H275M275 715H281.1M308 715H312M337.3 715H347.3M396.2 715H400.2M404.6 715H408.8M408.8 715H417.3M464.9 715H473.6M548.2 715H551.2M102.9 719.4H111.6M115.1 719.5H124.6M144.1 719.7H153.4M161 719.8H168.4M168.4 719.8H175.5" stroke="#50a56e" stroke-width="1" fill="none"/>
<path d="M48.9 533.2H56.6M64.7 533H72.4M72.4 532.9H76.5M83.9 552.4H87.4M87.4 552.3H93.1M93.1 552.1H101.5M125.4 551.4H135M150.5 550.8H159M190.6 549.9H194.5M205.5 549.7H213.3M213.3 549.7H223M290.3 549.5H298.7M54.9 572.3H61.3M70.3 572.5H73.6M81.1 572.6H87.8M120.8 573H125.3M141.6 573.2H149.9M179 573.6H187.1M213.9 573.8H219.2M235.3 573.8H240.3M246.2 573.8H251.7M251.7 573.8H256.6M304.2 573.9H311.8M338.1 573.9H341.1M348.9 573.9H357.8M380.2 574H383.7M420.4 574H424.4M424.4 574H429.6M118.2 605H122.5M165 605.8H174.3M174.3 605.9H178.9M178.9 606H187.4M195.2 606.2H201.6M210.4 606.3H220.1M227.2 606.3H234.2M273.4 606.6H279.2M279.2 606.6H285.8M292.3 606.6H298.6M298.6 606.7H306M306 606.7H311.9M311.9 606.7H320.9M410.1 607.2H416.4M488.5 607.5H494.7" stroke="#50a56e" stroke-width="2.7" fill="none"/>
<path d="M189.9 531.4H198.2M225 531.2H232.8M363.9 549.4H370.9M453.3 549.3H458.7M462.4 549.3H467.5M467.5 549.3H476.6M494.6 549.2H497.6M497.6 549.2H503M536.9 574.1H541M612.5 574.2H615.6" stroke="#50a56e" stroke-width="1.1" fill="none"/>
<path d="M35.5 540.4H39.3M44.1 540.4H49.5M49.5 540.4H58.7M61.9 540.5H68.1M81.8 540.5H91.5M91.5 540.5H96.2M489.9 541.3H497.9M526.7 541.4H534.8M588.9 541.5H597.4M299.1 681.5H303.4M303.4 681.5H307.4M336.9 681.5H341.7M355 681.5H363.8M395.8 681.5H400.6M400.6 681.5H410M421.6 681.5H429.9M435.4 681.5H441.1M471 681.5H474.9M489.1 681.5H493.6M513.5 681.5H523M546.5 681.5H554.4M571.3 681.5H575.4M595.2 681.5H603.2M607.7 681.5H616.5M616.5 681.5H620.1M623.1 681.5H632.4M632.4 681.5H636" stroke="#50a56e" stroke-width="2.8" fill="none"/>
<path d="M45 514.5H49M61.9 514.6H68.9M45.4 585.4H52.4M87.2 584.6H91.9M107.1 584.3H113M116.2 584H126.2M141.5 583.6H146.9M190.3 582.6H196.6M262.7 582.4H272.1M35.5 597.3H40.9M64.7 617.3H74.2M87 617.2H95.5M253.7 616.5H261.3M53.9 649.3H57.6M76.5 649.3H83.5M83.5 649.2H86.7M94.9 649.2H103.3M115.9 649.1H122.1M128.4 649.1H132.2M139 649.1H145.1M162.7 649H170.5M193.6 648.9H200M204.7 648.9H214.4M365.8 648.9H372.6M447.5 648.9H457.3M519 648.9H523.5M43.2 706.4H47.6M127.8 706.8H134.3M168 707H173.4M228.6 707.2H237.2M35.5 710.8H45.2M84.5 711.4H93.9M102.4 711.5H105.6M112.5 711.6H122.1M122.1 711.7H128.5M164 712.2H168.8M185.2 712.4H195.2M242.9 712.5H250.3M259.7 712.5H266.6" stroke="#54a96e" stroke-width="2.6" fill="none"/>
<path d="M327.8 515.3H331.5M336.9 515.3H344.1M356.1 515.3H362.9M379.4 515.3H389.1M482.9 515.3H487.3M487.3 515.3H492.4M504.3 515.3H511M514.8 515.3H521.3M521.3 515.3H529.6M532.8 515.2H542.2M110.8 520.5H118.8M118.8 520.3H122.8M122.8 520.2H126.8M46.1 527.3H51.8M51.8 527.1H56.9M150.7 524.6H157.8M72.2 546.7H80M124.9 547.1H134.1M137.5 547.1H145.7M164.5 547.3H168.1M168.1 547.3H172.5M247.1 547.6H256.3M35.5 560H39.2M39.2 559.9H47.9M77.7 559.3H81.4M266.8 566.7H274.9M374.4 566.8H378.2M411.5 566.8H417.1M465.6 566.9H475.3M475.3 566.9H479.8M479.8 566.9H483.2M494.9 566.9H503.7M506.8 566.9H512.4M61.6 578.8H70.5M109.5 578.7H115.6M119 578.7H127.3M136 578.6H143.5M152.5 578.6H157.8M293.4 582.4H299.8M502.7 582.2H506.4M516.1 582.1H525.2M589.8 582H597.4M597.4 582H600.4M614.1 582H622.2M41.2 592.4H46M79.7 591.9H89.5M304.3 598.7H311.4M402.1 599.1H410M434.3 599.2H439.8M467.9 599.4H471.2M493.9 599.5H498.4M522.1 599.6H531.6M531.6 599.6H535.3M573.9 599.8H579.4M150.8 610.2H156M433.9 616H443M576.3 615.6H579.7M618.2 615.4H624.9M79.3 623.6H89.2M119.1 623.3H128M128 623.2H136.9M160.7 622.9H166M108.5 630.7H115.1M167 631.7H171.1M49.9 635.7H54.1M70.5 636.1H80.4M83.5 636.3H89.8M104.5 636.7H110.8M114.2 636.9H122.8M122.8 637.1H132.5M135.7 637.3H139.2M70.9 638.4H76.4M110.8 639.2H116.5M144.2 639.9H151.6M170.3 640.5H177.6M182.5 640.7H187.6M204.4 641H209M594.5 648.9H598.6M43.7 698.7H51.1M67.3 698.8H76.5M587.4 707.2H595.9M553.6 712.5H558.7M125.7 714.1H132.5M238.9 715H244.9M281.1 715H286.4M347.3 715H355.7M97.3 719.4H102.9M134.7 719.6H144.1" stroke="#54a96e" stroke-width="1" fill="none"/>
<path d="M89.7 532.6H99.6M44.4 553.3H52.1M68.6 552.7H78.1M107.7 551.8H117.1M177.1 550.1H186.6M201.9 549.7H205.5M87.8 572.7H94.4M149.9 573.3H155.4M155.4 573.4H163M187.1 573.7H194.6M240.3 573.8H246.2M283.5 573.9H286.9M311.8 573.9H321.2M328.3 573.9H338.1M45.2 604H52.8M64.7 604.3H69.3M77.5 604.5H84.1M94.7 604.7H99.5M99.5 604.8H109.1M138.4 605.3H141.6M141.6 605.4H149.2M155.2 605.6H165M234.2 606.4H241.9M241.9 606.4H250.4M255.1 606.5H262.4M407.1 607.2H410.1" stroke="#54a96e" stroke-width="2.7" fill="none"/>
<path d="M149.9 531.9H158.3M165.4 531.7H174.9M181.2 531.5H189.9M389.8 549.4H396M402.2 549.4H410.1M410.1 549.4H413.3M413.3 549.4H417.2M428.4 549.3H437.6M447 549.3H453.3M589.7 574.2H597.2M485.4 607.5H488.5" stroke="#54a96e" stroke-width="1.1" fill="none"/>
<path d="M58.7 540.5H61.9M68.1 540.5H75.9M75.9 540.5H81.8M96.2 540.6H104.4M104.4 540.6H109.9M109.9 540.6H117.8M127.6 540.6H136.4M140.9 540.7H149.8M167 540.7H172.1M172.1 540.7H180.9M286 541H294.8M339 541.1H345.1M379.3 541.1H383.5M445.3 541.3H450.7M553 541.5H558M67.4 681.4H72.1M159.4 681.5H167.5M167.5 681.5H173.6M200.6 681.5H206.3M243.6 681.5H251.5M251.5 681.5H256.5M256.5 681.5H259.6M273.2 681.5H278.8M307.4 681.5H315.2M341.7 681.5H351M379.6 681.5H384.6M384.6 681.5H390.7M390.7 681.5H395.8M429.9 681.5H435.4M500.9 681.5H507.7M580.3 681.5H587.2M603.2 681.5H607.7" stroke="#54a96e" stroke-width="2.8" fill="none"/>
<path d="M165.4 515.2H174.6M306 515.3H315.8M433.3 515.3H441.7M441.7 515.3H448.5M459.2 515.3H463.6M492.4 515.3H501M594.5 515.2H599.6M629.8 515.2H634M72.7 521.4H80.4M126.8 520.1H134.4M134.4 519.9H141.8M56.9 526.9H66M95.4 526H102.1M102.1 525.8H106.3M150.5 547.2H158M158 547.3H164.5M47.1 565.4H56.2M96.5 565.8H102.2M250.8 566.7H254.3M317.8 566.8H320.8M339 566.8H344.3M396.9 566.8H403M424.7 566.9H432.5M446.2 566.9H452.3M452.3 566.9H458.5M458.5 566.9H465.6M70.5 578.8H74.5M95.7 578.7H100.8M115.6 578.7H119M127.3 578.7H136M380.6 582.3H385.4M393.6 582.3H400.3M439.3 582.2H442.5M442.5 582.2H449.9M449.9 582.2H459.2M556.3 582.1H560M560 582.1H564.5M579.8 582.1H589.8M632.8 582H636M74.1 592H79.7M115.4 597.8H119.6M211.3 598.4H219.2M262.1 598.6H271.2M353 598.9H357.4M357.4 598.9H365.6M375.3 599H379.5M410 599.1H419.2M446.2 599.3H451.4M451.4 599.3H459.8M498.4 599.5H501.5M567.2 599.7H573.9M585.3 599.8H592.1M618 599.9H624.6M96.2 610.4H100.9M136.4 610.2H142.1M222.3 616.6H227.2M248 616.5H253.7M391 616.1H394.7M394.7 616.1H404.3M404.3 616.1H408.9M471.1 615.9H476.7M506 615.8H514.8M539.4 615.7H543.9M566 615.6H571M579.7 615.6H582.7M591.2 615.5H598.2M624.9 615.4H631.6M47 623.9H56.3M82.7 630.2H87.7M148.5 631.4H154M162.6 631.7H167M171.1 631.8H179.2M44.2 635.6H49.9M61 635.9H65M56.8 638.1H63M116.5 639.3H123.1M123.1 639.5H127.6M164.7 640.3H170.3M233.3 641H243.3M40.4 643H49M52.9 643.2H59M537.6 648.9H546.2M76.5 698.8H83.3M519.2 707.2H526M512.5 712.5H518.6M633.2 712.5H636M117.5 714H125.7M136 714.3H143M143 714.3H146.5M146.5 714.4H150.6M150.6 714.4H158.3M55.2 719.1H63.6M74.6 719.3H83.1M128.6 719.6H134.7" stroke="#58ac6e" stroke-width="1" fill="none"/>
<path d="M43.8 533.3H48.9M56.6 533.1H64.7M61.6 552.9H68.6M101.5 552H107.7M117.1 551.6H125.4M35.5 572.1H42.1M42.1 572.2H46.1M94.4 572.8H103M103 572.8H111.9M111.9 572.9H120.8M125.3 573.1H133.1M266 573.9H273.9M35.5 603.9H45.2M52.8 604.1H58.6M69.3 604.4H77.5M84.1 604.5H88.1M109.1 604.9H113.9M122.5 605.1H129.4M191.9 606.1H195.2M223.5 606.3H227.2" stroke="#58ac6e" stroke-width="2.7" fill="none"/>
<path d="M135.9 532.1H139.8M139.8 532H145.7M174.9 531.6H181.2M260.6 549.6H268.7M396 549.4H402.2M437.6 549.3H447M458.7 549.3H462.4M515.4 574.1H521.5M577.7 574.1H583.4M621 574.2H626M626 574.2H630M554.3 607.8H558.3M585.1 608H590.9M610.4 608.1H613.8M634.8 608.2H636" stroke="#58ac6e" stroke-width="1.1" fill="none"/>
<path d="M117.8 540.6H127.6M136.4 540.7H140.9M149.8 540.7H158M184 540.8H187.9M187.9 540.8H191.9M204.9 540.8H214.4M223.6 540.8H230.8M230.8 540.9H238.8M238.8 540.9H247.5M251.6 540.9H259.4M275.1 540.9H282.3M282.3 541H286M310.1 541H315.7M322.1 541H329.8M329.8 541H335.1M335.1 541.1H339M345.1 541.1H350M357.9 541.1H367.4M367.4 541.1H371.7M427.2 541.2H431.6M450.7 541.3H455.9M455.9 541.3H462.5M462.5 541.3H470.8M470.8 541.3H478.9M478.9 541.3H485.3M485.3 541.3H489.9M497.9 541.4H502.3M510.7 541.4H517.1M534.8 541.4H543.2M543.2 541.4H549.5M549.5 541.4H553M558 541.5H561.3M561.3 541.5H565.2M565.2 541.5H571M571 541.5H575.9M575.9 541.5H583.2M583.2 541.5H588.9M597.4 541.5H603.1M603.1 541.5H611.2M611.2 541.6H620.5M620.5 541.6H628M628 541.6H631.1M631.1 541.6H636M104.6 681.4H109.2M193.6 681.5H200.6M234.8 681.5H243.6M269.1 681.5H273.2M278.8 681.5H286.1M286.1 681.5H293.9M293.9 681.5H299.1M333.8 681.5H336.9M351 681.5H355M493.6 681.5H500.9M523 681.5H528.9M536.3 681.5H542.4M542.4 681.5H546.5M561.9 681.5H571.3M575.4 681.5H580.3M620.1 681.5H623.1" stroke="#58ac6e" stroke-width="2.8" fill="none"/>
<path d="M68.5 585H73.4M111.5 649.2H115.9M226.2 648.9H235M244.1 648.9H253.4M134.3 706.9H141.9M93.9 711.4H102.4" stroke="#58ac6e" stroke-width="2.6" fill="none"/>
<path d="M152.7 515.1H162.3M174.6 515.3H183.1M266.9 515.4H273.6M273.6 515.4H280.9M331.5 515.3H336.9M344.1 515.3H352.2M371 515.3H374.4M374.4 515.3H379.4M389.1 515.3H393.6M401.8 515.3H411.6M451.6 515.3H459.2M474.4 515.3H482.9M511 515.3H514.8M560.5 515.2H565.5M85.6 521H94.3M40.7 527.4H46.1M45.4 546.6H52.3M57.8 546.7H67.6M67.6 546.7H72.2M87.5 546.8H95.9M115 547H124.9M67.8 565.6H77.1M146.3 566.3H150.9M320.8 566.8H325.1M385.2 566.8H389.1M403 566.8H411.5M49.5 578.9H54.5M78.4 578.8H88.3M88.3 578.8H95.7M106.4 578.7H109.5M255.5 582.4H262.7M289.5 582.4H293.4M404.7 582.3H410.7M506.4 582.1H511.9M525.2 582.1H529.7M564.5 582.1H570.5M600.4 582H605.9M627.7 582H632.8M136.3 597.9H142.1M154.4 598H158.6M177 598.2H185.9M202.5 598.3H206.4M240 598.5H249.2M252.2 598.5H262.1M288.3 598.7H292.2M292.2 598.7H297.6M320.4 598.8H327.3M327.3 598.8H337.1M379.5 599H388.8M388.8 599H394M505.7 599.5H515.3M535.3 599.6H538.9M538.9 599.6H544.7M544.7 599.7H549.5M553.9 599.7H558M66.4 610.5H73.4M105.7 610.3H109.4M131.8 617H141.3M270.2 616.5H278M378.7 616.2H382.7M408.9 616.1H418.8M496.8 615.8H501.6M521.7 615.7H527.1M556.5 615.6H566M598.2 615.5H602.4M610.8 615.5H618.2M35.5 624H42.1M92.6 630.4H102.3M129.3 631.1H136.6M136.6 631.2H140.5M76.4 638.5H84.8M98.8 638.9H102.5M102.5 639.1H110.8M127.6 639.6H132.9M132.9 639.7H138.2M138.2 639.8H144.2M151.6 640H155.4M319.2 648.9H322.4M585.5 648.9H594.5M612.6 648.9H621.8M35.5 698.7H43.7M91.4 706.6H97.5M340.5 707.2H348.8M429.5 707.2H438.3M516 707.2H519.2M538.8 707.2H544.6M579.5 707.2H587.4M635.6 707.2H636M299.7 712.5H308.7M326.3 712.5H334.7M353.3 712.5H358.5M408.3 712.5H417.3M466.1 712.5H471M487.5 712.5H494.9M499.2 712.5H507.9M507.9 712.5H512.5M531.9 712.5H537.1M89.4 713.7H97.3M106 713.9H113.9M132.5 714.2H136M67.6 719.2H74.6" stroke="#5bb06e" stroke-width="1" fill="none"/>
<path d="M35.5 533.3H43.8M35.5 553.5H44.4M52.1 553.1H61.6M61.3 572.4H70.3M163 573.4H168.4M168.4 573.5H173.2M219.2 573.8H229.1M229.1 573.8H235.3M256.6 573.9H266M129.4 605.2H138.4M149.2 605.5H155.2" stroke="#5bb06e" stroke-width="2.7" fill="none"/>
<path d="M158 540.7H167M180.9 540.8H184M214.4 540.8H223.6M247.5 540.9H251.6M259.4 540.9H265.5M265.5 540.9H275.1M294.8 541H300.7M300.7 541H310.1M350 541.1H357.9M371.7 541.1H379.3M383.5 541.1H392M409.2 541.2H418.8M418.8 541.2H427.2M431.6 541.2H436.3M436.3 541.2H445.3M502.3 541.4H510.7M517.1 541.4H526.7M35.5 681.4H41.6M41.6 681.4H51.5M51.5 681.4H60.5M60.5 681.4H64.3M72.1 681.4H79.1M109.2 681.4H115.9M138.2 681.5H144.9M173.6 681.5H177.9M187.1 681.5H193.6M206.3 681.5H216.1M315.2 681.5H324.6M324.6 681.5H333.8M372.8 681.5H379.6M410 681.5H413.8M413.8 681.5H421.6M474.9 681.5H479.4" stroke="#5bb06e" stroke-width="2.8" fill="none"/>
<path d="M298.7 549.5H304.7M312.1 549.5H316.2M324.4 549.5H333.2M346.8 549.5H350.9M350.9 549.5H358.4M358.4 549.4H363.9M370.9 549.4H375.6M381.4 549.4H386.2M421 549.3H428.4M541 574.1H546.2M571.6 574.1H577.7M597.2 574.2H600.4M615.6 574.2H621M630 574.2H636M367.4 607H374.3M428.8 607.3H437.6M545.6 607.8H554.3M620 608.1H625.3" stroke="#5bb06e" stroke-width="1.1" fill="none"/>
<path d="M69.8 711.2H77.9" stroke="#5bb06e" stroke-width="2.6" fill="none"/>
<path d="M77.1 514.7H80.5M117.3 514.9H125.4M196.9 515.4H206.3M219.9 515.4H227.1M247 515.4H252.4M287.2 515.4H293.6M298 515.4H306M315.8 515.3H322.4M322.4 515.3H327.8M362.9 515.3H371M393.6 515.3H401.8M411.6 515.3H420.1M425.1 515.3H433.3M463.6 515.3H466.8M94.3 520.8H103.8M35.5 527.5H40.7M69.9 526.6H76.8M99.8 546.9H106M200.4 566.7H208.9M234.1 566.7H237.5M260.6 566.7H266.8M279.1 566.8H288.8M378.2 566.8H385.2M432.5 566.9H440.8M440.8 566.9H446.2M550 566.9H557.1M100.8 578.7H106.4M278.8 582.4H282.8M337.3 582.3H343.1M359.3 582.3H364.2M410.7 582.3H414.5M421.6 582.2H429.2M435.6 582.2H439.3M54.5 597.4H63.6M112.1 597.8H115.4M147.9 598H154.4M185.9 598.2H189.2M189.2 598.3H197.5M249.2 598.5H252.2M297.6 598.7H304.3M311.4 598.8H320.4M365.6 599H375.3M394 599.1H402.1M419.2 599.2H427.5M427.5 599.2H434.3M471.2 599.4H478.3M478.3 599.4H484.9M558 599.7H567.2M73.4 610.5H77M90.9 610.4H96.2M100.9 610.4H105.7M126.7 610.3H132.2M40.9 617.4H45.7M82.8 617.2H87M284.7 616.4H292M332.1 616.3H337.9M337.9 616.3H344.9M351.1 616.2H360.4M366 616.2H371M448.9 615.9H456.8M493.1 615.8H496.8M543.9 615.7H552.3M571 615.6H576.3M40.1 629.4H43.7M75.2 630.1H82.7M115.1 630.8H122.3M122.3 630.9H129.3M35.5 637.7H41.1M41.1 637.8H51M264.8 648.9H270.8M340.8 648.9H349.3M372.6 648.9H381.1M485.3 648.9H493.1M529.3 648.9H537.6M551.5 648.9H555.3M307.7 707.2H314.9M314.9 707.2H324.8M401.2 707.2H407.6M407.6 707.2H413.2M446.7 707.2H450.2M450.2 707.2H456.7M469.7 707.2H479M485 707.2H491.9M567.5 707.2H571.8M595.9 707.2H602.4M602.4 707.2H607.2M607.2 707.2H616.1M281.4 712.5H291.3M420.6 712.5H425.8M443.2 712.5H450.3M478.1 712.5H487.5M494.9 712.5H499.2M518.6 712.5H527.3M527.3 712.5H531.9M558.7 712.5H564.2M564.2 712.5H572.7M585.3 712.5H591.7M591.7 712.5H598.3M607.7 712.5H615.8M615.8 712.5H625.3M35.5 713H38.8M78.6 713.6H83.2M83.2 713.6H89.4M111.6 719.5H115.1M124.6 719.6H128.6" stroke="#5fb46e" stroke-width="1" fill="none"/>
<path d="M120.1 532.3H124.8M145.7 532H149.9M158.3 531.8H165.4M268.7 549.6H275.1M316.2 549.5H324.4M340 549.5H346.8M375.6 549.4H381.4M386.2 549.4H389.8M417.2 549.3H421M357.8 573.9H363.1M458.5 574H465.2M500.4 574.1H506.7M529 574.1H536.9M549.3 574.1H553.9M553.9 574.1H557.5M565.3 574.1H571.6M583.4 574.2H589.7M502.7 607.6H512.6M512.6 607.6H517.2M534.2 607.7H539.4M590.9 608H597.3M601.5 608.1H610.4M613.8 608.1H620M625.3 608.2H634.8" stroke="#5fb46e" stroke-width="1.1" fill="none"/>
<path d="M191.9 540.8H196.7M196.7 540.8H204.9M315.7 541H322.1M392 541.2H400.6M400.6 541.2H409.2M64.3 681.4H67.4M86.2 681.4H95.1M115.9 681.5H120.6M120.6 681.5H128.5M144.9 681.5H152.2M152.2 681.5H159.4M177.9 681.5H187.1M216.1 681.5H220.4M220.4 681.5H226.5M363.8 681.5H372.8M458.1 681.5H461.4" stroke="#5fb46e" stroke-width="2.8" fill="none"/>
<path d="M207.8 573.8H213.9M113.9 605H118.2" stroke="#5fb46e" stroke-width="2.7" fill="none"/>
<path d="M68.9 514.6H77.1M131.6 515H138.7M138.7 515H144.5M144.5 515.1H152.7M183.1 515.3H193M227.1 515.4H233.6M237.5 515.4H241.2M241.2 515.4H247M257.6 515.4H266.9M293.6 515.4H298M44.9 522H54.6M103.8 520.6H110.8M95.9 546.9H99.8M59.3 565.5H63.4M121.9 566.1H129.9M242.2 566.7H250.8M288.8 566.8H297.6M325.1 566.8H331.8M359.4 566.8H369.4M196.6 582.5H201.9M220.2 582.5H224.8M237.7 582.5H244.5M244.5 582.4H248.9M282.8 582.4H289.5M314.1 582.4H322.6M326.4 582.4H330.3M343.1 582.3H349.8M349.8 582.3H359.3M459.2 582.2H467.9M472.3 582.2H479.3M479.3 582.2H488.7M494.2 582.2H498.5M498.5 582.2H502.7M536.8 582.1H542.7M542.7 582.1H550.5M550.5 582.1H556.3M605.9 582H614.1M63.6 597.5H72.2M102.6 597.7H108.6M158.6 598.1H167.3M167.3 598.1H172.6M206.4 598.3H211.3M219.2 598.4H227.6M236.7 598.4H240M271.2 598.6H278.5M484.9 599.4H493.9M61.2 610.5H66.4M77 610.4H81.7M81.7 610.4H87M87 610.4H90.9M49.2 617.3H54.3M163.8 616.8H171M184.1 616.8H191.7M227.2 616.6H231.5M261.3 616.5H270.2M292 616.4H298.1M317.4 616.3H326.2M344.9 616.3H351.1M371 616.2H378.7M427.9 616H433.9M501.6 615.8H506M514.8 615.8H521.7M527.1 615.7H533.5M533.5 615.7H539.4M552.3 615.6H556.5M582.7 615.5H591.2M631.6 615.4H636M52.7 629.7H60.4M60.4 629.8H65.9M65.9 629.9H69.6M69.6 630H75.2M102.3 630.6H108.5M51 638H56.8M35.5 649.4H44M153 649H162.7M253.4 648.9H256.6M283.2 648.9H290.3M419.9 648.9H427.9M493.1 648.9H501.5M555.3 648.9H560.1M560.1 648.9H564.4M564.4 648.9H571M571 648.9H575.5M604.7 648.9H612.6M82.8 706.6H91.4M182.7 707.1H189.6M206.2 707.2H215.5M241.6 707.2H248.5M324.8 707.2H334.4M334.4 707.2H340.5M362.5 707.2H368M372.9 707.2H376.7M479 707.2H485M491.9 707.2H501.8M501.8 707.2H510.6M510.6 707.2H516M526 707.2H531.1M549.4 707.2H557.6M616.1 707.2H623.1M626.8 707.2H635.6M133.9 711.8H137.9M223.1 712.5H228.9M398.7 712.5H403.4M403.4 712.5H408.3M459.5 712.5H466.1M471 712.5H478.1M537.1 712.5H544M549.1 712.5H553.6M572.7 712.5H576.5M598.3 712.5H607.7M625.3 712.5H633.2M38.8 713.1H46.7M59.5 713.4H69.5M69.5 713.5H78.6M97.3 713.8H106M35.5 719H40M40 719H45.7M63.6 719.2H67.6M83.1 719.3H92M92 719.4H97.3" stroke="#63b86e" stroke-width="1" fill="none"/>
<path d="M108.1 532.4H112.8M112.8 532.4H120.1M129.6 532.2H135.9M168.7 550.3H177.1M194.5 549.7H201.9M229.7 549.6H238.8M238.8 549.6H244.6M304.7 549.5H312.1M375 574H380.2M401.2 574H404.2M404.2 574H413.3M465.2 574H474.1M486.1 574.1H493.5M600.4 574.2H607.8M187.4 606H191.9M381.5 607H388.7M421.4 607.2H428.8M445.8 607.3H454M470.2 607.5H476.8M517.2 607.7H525.4M525.4 607.7H534.2M558.3 607.9H562.5M562.5 607.9H568.9M597.3 608H601.5" stroke="#63b86e" stroke-width="1.1" fill="none"/>
<path d="M46.1 572.3H54.9M133.1 573.2H141.6" stroke="#63b86e" stroke-width="2.7" fill="none"/>
<path d="M95.1 681.4H104.6" stroke="#63b86e" stroke-width="2.8" fill="none"/>
<path d="M441.1 681.5H446.1M528.9 681.5H536.3" stroke="#63b86e" stroke-width="1.2" fill="none"/>
<path d="M49 514.5H57.9M91.7 514.8H99.1M99.1 514.8H102.6M125.4 515H131.6M162.3 515.2H165.4M193 515.4H196.9M206.3 515.4H212.8M212.8 515.4H219.9M252.4 515.4H257.6M280.9 515.4H287.2M80.4 521.2H85.6M35.5 546.5H45.4M80 546.8H87.5M35.5 565.3H39.3M102.2 565.9H105.9M118.8 566H121.9M150.9 566.3H158.5M167.2 566.4H172.8M172.8 566.5H176.4M208.9 566.7H216.3M274.9 566.8H279.1M297.6 566.8H307.4M307.4 566.8H312.5M331.8 566.8H339M344.3 566.8H352.6M352.6 566.8H359.4M389.1 566.8H396.9M35.5 578.9H39.7M54.5 578.8H61.6M64 585.1H68.5M168.3 583.1H174.5M305.6 582.4H314.1M322.6 582.4H326.4M364.2 582.3H373.9M373.9 582.3H380.6M414.5 582.2H421.6M429.2 582.2H435.6M467.9 582.2H472.3M511.9 582.1H516.1M92.6 597.7H102.6M119.6 597.8H124.9M129.1 597.9H136.3M172.6 598.1H177M227.6 598.4H236.7M278.5 598.6H288.3M345.8 598.9H353M49.8 610.5H53.5M53.5 610.5H61.2M141.3 616.9H151.2M151.2 616.9H155.1M155.1 616.9H163.8M175 616.8H184.1M191.7 616.7H198.4M215.9 616.6H222.3M231.5 616.6H235.1M235.1 616.6H240.1M240.1 616.6H248M298.1 616.4H304.1M304.1 616.4H309.7M326.2 616.3H332.1M360.4 616.2H366M418.8 616H427.9M443 616H448.9M456.8 615.9H462.8M467.7 615.9H471.1M476.7 615.9H481.2M63 638.2H70.9M349.3 648.9H358M397.7 648.9H404.3M427.9 648.9H437.5M475.8 648.9H485.3M514.3 648.9H519M575.5 648.9H585.5M625.7 648.9H633.3M633.3 648.9H636M56.2 706.4H61.4M124.2 706.8H127.8M255.6 707.2H265.2M265.2 707.2H272.7M272.7 707.2H280.6M368 707.2H372.9M376.7 707.2H383.6M387.7 707.2H393.6M557.6 707.2H567.5M623.1 707.2H626.8M137.9 711.9H144M228.9 712.5H232.9M274.1 712.5H281.4M308.7 712.5H313.4M345.7 712.5H353.3M358.5 712.5H366.3M375.9 712.5H383.5M383.5 712.5H389.4M429.6 712.5H438.5M438.5 712.5H443.2M544 712.5H549.1M576.5 712.5H585.3M55 713.3H59.5M113.9 714H117.5M45.7 719.1H55.2" stroke="#68bb6e" stroke-width="1" fill="none"/>
<path d="M99.6 532.5H108.1M124.8 532.2H129.6M159 550.6H168.7M244.6 549.6H252.7M252.7 549.6H260.6M281 549.6H290.3M333.2 549.5H336.7M390.1 574H394.6M429.6 574H438.9M448 574H451M451 574H458.5M506.7 574.1H515.4M521.5 574.1H529M557.5 574.1H565.3M607.8 574.2H612.5M58.6 604.2H64.7M262.4 606.5H269.4M320.9 606.8H329.1M363.3 607H367.4M374.3 607H381.5M460.6 607.4H470.2M476.8 607.5H485.4M578.9 608H585.1" stroke="#68bb6e" stroke-width="1.1" fill="none"/>
<path d="M73.6 572.5H81.1" stroke="#68bb6e" stroke-width="2.7" fill="none"/>
<path d="M226.5 681.5H234.8" stroke="#68bb6e" stroke-width="2.8" fill="none"/>
<path d="M259.6 681.5H269.1M446.1 681.5H454.6M554.4 681.5H561.9" stroke="#68bb6e" stroke-width="1.2" fill="none"/>
<path d="M35.5 514.4H38.5M57.9 514.5H61.9M80.5 514.7H87.7M102.6 514.8H108.8M233.6 515.4H237.5M35.5 522.2H40.6M40.6 522.1H44.9M54.6 521.8H64M64 521.6H67.4M67.4 521.5H72.7M52.3 546.6H57.8M39.3 565.4H47.1M77.1 565.7H85.2M92 565.8H96.5M176.4 566.5H185.6M194.4 566.7H200.4M216.3 566.7H224.6M369.4 566.8H374.4M78.6 584.8H87.2M174.5 582.9H182.6M182.6 582.8H190.3M201.9 582.5H211.5M211.5 582.5H220.2M230.8 582.5H237.7M330.3 582.3H337.3M40.9 597.4H50.8M197.5 598.3H202.5M337.1 598.9H345.8M59.1 617.3H64.7M74.2 617.2H82.8M95.5 617.1H102.7M108.2 617.1H116.5M116.5 617H122.3M122.3 617H131.8M198.4 616.7H206.2M278 616.5H284.7M309.7 616.4H317.4M462.8 615.9H467.7M481.2 615.9H488.4M35.5 629.3H40.1M87.7 630.3H92.6M44 649.4H53.9M132.2 649.1H139M170.5 649H178.3M256.6 648.9H261.4M300.7 648.9H310.3M313.5 648.9H319.2M322.4 648.9H329.8M416 648.9H419.9M468.6 648.9H472.8M472.8 648.9H475.8M505.7 648.9H514.3M546.2 648.9H551.5M598.6 648.9H604.7M47.6 706.4H56.2M102 706.7H105.8M141.9 706.9H151.2M215.5 707.2H220M299 707.2H307.7M383.6 707.2H387.7M393.6 707.2H401.2M413.2 707.2H418.8M418.8 707.2H424.5M456.7 707.2H463.1M531.1 707.2H538.8M544.6 707.2H549.4M148.8 712H153.8M175.1 712.3H180.2M195.2 712.5H205.1M232.9 712.5H237.4M313.4 712.5H320M334.7 712.5H339.9M393.7 712.5H398.7M450.3 712.5H459.5" stroke="#6dbe6d" stroke-width="1" fill="none"/>
<path d="M76.5 532.8H83.1M78.1 552.5H83.9M135 551.2H141.5M223 549.7H229.7M336.7 549.5H340M321.2 573.9H328.3M341.1 573.9H348.9M369 574H375M383.7 574H390.1M394.6 574H401.2M413.3 574H420.4M438.9 574H448M493.5 574.1H500.4M546.2 574.1H549.3M201.6 606.2H210.4M285.8 606.6H292.3M329.1 606.8H339M354.1 606.9H363.3M416.4 607.2H421.4M441.4 607.3H445.8M494.7 607.6H502.7M539.4 607.8H545.6M568.9 607.9H578.9" stroke="#6dbe6d" stroke-width="1.1" fill="none"/>
<path d="M75.1 674.5H79.6M79.6 674.5H88.5M186 674.4H194.4M229.3 674.4H239M269.6 674.4H275.2M388.7 674.4H392.5M397.2 674.4H406.7M419.2 674.4H425.8M458.8 674.4H467.9M486 674.4H492.9M602.6 674.4H610.7" stroke="#6dbe6d" stroke-width="3.2" fill="none"/>
<path d="M79.1 681.4H86.2" stroke="#6dbe6d" stroke-width="2.8" fill="none"/>
<path d="M454.6 681.5H458.1M479.4 681.5H489.1M507.7 681.5H513.5" stroke="#6dbe6d" stroke-width="1.2" fill="none"/>
<path d="M108.8 514.9H117.3M56.2 565.5H59.3M63.4 565.6H67.8M85.2 565.8H92M129.9 566.1H139.1M139.1 566.2H146.3M237.5 566.7H242.2M312.5 566.8H317.8M39.7 578.9H49.5M74.5 578.8H78.4M52.4 585.3H60.5M97.8 584.5H101.3M135.1 583.7H141.5M146.9 583.5H153.2M161.5 583.2H168.3M224.8 582.5H230.8M248.9 582.4H255.5M388.5 582.3H393.6M400.3 582.3H404.7M488.7 582.2H494.2M570.5 582.1H579.8M85 597.6H92.6M124.9 597.9H129.1M40.6 610.6H49.8M35.5 617.4H40.9M382.7 616.1H391M43.7 629.5H52.7M261.4 648.9H264.8M358 648.9H365.8M404.3 648.9H409.2M463.4 648.9H468.6M501.5 648.9H505.7M523.5 648.9H529.3M621.8 648.9H625.7M35.5 706.3H43.2M70.1 706.5H74.9M74.9 706.5H82.8M105.8 706.7H109.3M109.3 706.7H119M119 706.8H124.2M155.3 707H158.7M237.2 707.2H241.6M290 707.2H299M348.8 707.2H358.3M358.3 707.2H362.5M424.5 707.2H429.5M438.3 707.2H446.7M463.1 707.2H469.7M105.6 711.6H112.5M128.5 711.8H133.9M153.8 712H157.4M168.8 712.2H175.1M205.1 712.5H214.6M237.4 712.5H242.9M366.3 712.5H375.9M389.4 712.5H393.7" stroke="#72c16d" stroke-width="1" fill="none"/>
<path d="M83.1 532.8H89.7M141.5 551H150.5M186.6 550H190.6M275.1 549.6H281M173.2 573.6H179M194.6 573.8H199.8M199.8 573.8H207.8M273.9 573.9H283.5M286.9 573.9H292.3M292.3 573.9H298.5M298.5 573.9H304.2M363.1 574H369M474.1 574.1H480.7M480.7 574.1H486.1M88.1 604.6H94.7M220.1 606.3H223.5M250.4 606.4H255.1M269.4 606.5H273.4M339 606.9H346.7M393 607.1H401.2M401.2 607.1H407.1M437.6 607.3H441.4M454 607.4H460.6" stroke="#72c16d" stroke-width="1.1" fill="none"/>
<path d="M39.3 540.4H44.1M128.5 681.5H138.2M587.2 681.5H595.2" stroke="#72c16d" stroke-width="1.2" fill="none"/>
<path d="M35.5 674.6H39.2M39.2 674.6H47.1M47.1 674.6H55.2M55.2 674.6H60.2M60.2 674.6H66.4M88.5 674.5H94.1M94.1 674.5H100.9M108.1 674.5H111.3M115.5 674.5H120M133.3 674.5H137.4M137.4 674.5H146.7M146.7 674.5H156.1M156.1 674.4H163.1M167.6 674.4H174.7M174.7 674.4H178.1M178.1 674.4H186M194.4 674.4H202.1M202.1 674.4H205.3M208.8 674.4H215.5M215.5 674.4H221M221 674.4H229.3M239 674.4H247.8M255.2 674.4H261M261 674.4H269.6M275.2 674.4H283.8M292.9 674.4H302.4M316.9 674.4H321.5M321.5 674.4H325.6M325.6 674.4H328.6M328.6 674.4H337.7M337.7 674.4H344.6M344.6 674.4H354.1M354.1 674.4H357.7M357.7 674.4H362.8M362.8 674.4H371.3M371.3 674.4H375.2M375.2 674.4H384.3M392.5 674.4H397.2M406.7 674.4H414.9M414.9 674.4H419.2M425.8 674.4H430.6M437.2 674.4H445.6M445.6 674.4H453.4M453.4 674.4H458.8M467.9 674.4H472.4M472.4 674.4H478.3M492.9 674.4H500.7M500.7 674.4H507.5M507.5 674.4H514M514 674.4H521.2M521.2 674.4H529.3M529.3 674.4H536.8M544.4 674.4H552.2M558.4 674.4H564.5M564.5 674.4H572.8M578.9 674.4H586.6M596.4 674.4H602.6M610.7 674.4H619.7M619.7 674.4H628.6M628.6 674.4H636" stroke="#72c16d" stroke-width="3.2" fill="none"/>
<path d="M49.5 540.4H58.7M81.8 540.5H91.5M91.5 540.5H96.2M395.8 681.5H400.6M400.6 681.5H410M461.4 681.5H471M513.5 681.5H523M571.3 681.5H575.4M607.7 681.5H616.5" stroke="#77c46d" stroke-width="1.2" fill="none"/>
<path d="M93.1 552.1H101.5M190.6 549.9H194.5M246.2 573.8H251.7M251.7 573.8H256.6M348.9 573.9H357.8M380.2 574H383.7M424.4 574H429.6M118.2 605H122.5M165 605.8H174.3M174.3 605.9H178.9M227.2 606.3H234.2M273.4 606.6H279.2M292.3 606.6H298.6M298.6 606.7H306M306 606.7H311.9M346.7 606.9H354.1M388.7 607.1H393M488.5 607.5H494.7" stroke="#77c46d" stroke-width="1.1" fill="none"/>
<path d="M105.9 565.9H115.7M115.7 566H118.8M185.6 566.6H194.4M35.5 585.6H45.4M60.5 585.2H64M126.2 583.8H135.1M272.1 582.4H278.8M299.8 582.4H305.6M385.4 582.3H388.5M50.8 597.4H54.5M72.2 597.5H80.1M80.1 597.6H85M142.1 598H147.9M35.5 610.6H40.6M54.3 617.3H59.1M102.7 617.1H108.2M171 616.8H175M206.2 616.7H215.9M57.6 649.3H67.2M107.9 649.2H111.5M200 648.9H204.7M235 648.9H244.1M270.8 648.9H278.8M329.8 648.9H335.6M335.6 648.9H340.8M388.6 648.9H397.7M457.3 648.9H463.4M97.5 706.7H102M151.2 706.9H155.3M173.4 707.1H182.7M189.6 707.2H198.8M220 707.2H228.6M248.5 707.2H255.6M280.6 707.2H290M571.8 707.2H579.5M144 711.9H148.8M157.4 712.1H164M180.2 712.3H185.2M250.3 712.5H259.7M291.3 712.5H299.7M417.3 712.5H420.6M425.8 712.5H429.6M46.7 713.2H55" stroke="#77c46d" stroke-width="1" fill="none"/>
<path d="M66.4 674.6H75.1M100.9 674.5H108.1M111.3 674.5H115.5M120 674.5H126.5M126.5 674.5H133.3M163.1 674.4H167.6M205.3 674.4H208.8M247.8 674.4H255.2M283.8 674.4H292.9M302.4 674.4H309.2M309.2 674.4H316.9M384.3 674.4H388.7M430.6 674.4H437.2M478.3 674.4H486M536.8 674.4H544.4M552.2 674.4H558.4M572.8 674.4H578.9M586.6 674.4H596.4" stroke="#77c46d" stroke-width="3.2" fill="none"/>
<path d="M38.5 514.4H45M87.7 514.7H91.7M158.5 566.4H167.2M254.3 566.7H260.6M73.4 584.9H78.6M91.9 584.5H97.8M101.3 584.4H107.1M113 584.2H116.2M153.2 583.3H161.5M108.6 597.8H112.1M45.7 617.3H49.2M67.2 649.3H76.5M86.7 649.2H94.9M145.1 649.1H153M178.3 649H185.6M185.6 648.9H193.6M290.3 648.9H295.1M295.1 648.9H300.7M310.3 648.9H313.5M381.1 648.9H388.6M409.2 648.9H416M437.5 648.9H443.7M443.7 648.9H447.5M61.4 706.5H70.1M158.7 707H168M198.8 707.2H201.9M201.9 707.2H206.2M45.2 710.9H53.1M53.1 711H60M77.9 711.3H84.5M214.6 712.5H223.1M266.6 712.5H274.1M320 712.5H326.3M339.9 712.5H345.7" stroke="#7dc76d" stroke-width="1" fill="none"/>
<path d="M48.9 533.2H56.6M64.7 533H72.4M72.4 532.9H76.5M83.9 552.4H87.4M87.4 552.3H93.1M125.4 551.4H135M150.5 550.8H159M213.3 549.7H223M290.3 549.5H298.7M54.9 572.3H61.3M81.1 572.6H87.8M120.8 573H125.3M141.6 573.2H149.9M304.2 573.9H311.8M420.4 574H424.4M178.9 606H187.4M195.2 606.2H201.6M210.4 606.3H220.1M410.1 607.2H416.4" stroke="#7dc76d" stroke-width="1.1" fill="none"/>
<path d="M35.5 540.4H39.3M44.1 540.4H49.5M61.9 540.5H68.1M489.9 541.3H497.9M588.9 541.5H597.4M303.4 681.5H307.4M336.9 681.5H341.7M355 681.5H363.8M435.4 681.5H441.1M489.1 681.5H493.6M546.5 681.5H554.4M595.2 681.5H603.2M616.5 681.5H620.1M632.4 681.5H636" stroke="#7dc76d" stroke-width="1.2" fill="none"/>
<path d="M75.9 540.5H81.8M286 541H294.8M526.7 541.4H534.8M159.4 681.5H167.5M243.6 681.5H251.5M251.5 681.5H256.5M299.1 681.5H303.4M307.4 681.5H315.2M379.6 681.5H384.6M421.6 681.5H429.9M471 681.5H474.9M500.9 681.5H507.7M580.3 681.5H587.2M623.1 681.5H632.4" stroke="#82ca6c" stroke-width="1.2" fill="none"/>
<path d="M205.5 549.7H213.3M70.3 572.5H73.6M87.8 572.7H94.4M149.9 573.3H155.4M179 573.6H187.1M213.9 573.8H219.2M235.3 573.8H240.3M338.1 573.9H341.1M64.7 604.3H69.3M141.6 605.4H149.2M155.2 605.6H165M279.2 606.6H285.8M311.9 606.7H320.9M407.1 607.2H410.1" stroke="#82ca6c" stroke-width="1.1" fill="none"/>
<path d="M224.6 566.7H234.1M45.4 585.4H52.4M87.2 584.6H91.9M35.5 597.3H40.9M83.5 649.2H86.7M103.3 649.2H107.9M122.1 649.1H128.4M128.4 649.1H132.2M139 649.1H145.1M214.4 648.9H221.2M221.2 648.9H226.2M278.8 648.9H283.2M365.8 648.9H372.6M519 648.9H523.5M168 707H173.4M60 711.1H69.8M112.5 711.6H122.1M185.2 712.4H195.2M242.9 712.5H250.3M259.7 712.5H266.6" stroke="#82ca6c" stroke-width="1" fill="none"/>
<path d="M45 514.5H49M61.9 514.6H68.9M107.1 584.3H113M116.2 584H126.2M190.3 582.6H196.6M87 617.2H95.5M253.7 616.5H261.3M53.9 649.3H57.6M115.9 649.1H122.1M162.7 649H170.5M43.2 706.4H47.6M127.8 706.8H134.3M228.6 707.2H237.2M84.5 711.4H93.9M122.1 711.7H128.5M164 712.2H168.8" stroke="#87cd6c" stroke-width="1" fill="none"/>
<path d="M89.7 532.6H99.6M44.4 553.3H52.1M68.6 552.7H78.1M107.7 551.8H117.1M155.4 573.4H163M187.1 573.7H194.6M311.8 573.9H321.2M45.2 604H52.8M77.5 604.5H84.1M94.7 604.7H99.5M99.5 604.8H109.1M138.4 605.3H141.6M234.2 606.4H241.9" stroke="#87cd6c" stroke-width="1.1" fill="none"/>
<path d="M58.7 540.5H61.9M68.1 540.5H75.9M96.2 540.6H104.4M104.4 540.6H109.9M109.9 540.6H117.8M127.6 540.6H136.4M379.3 541.1H383.5M67.4 681.4H72.1M167.5 681.5H173.6M200.6 681.5H206.3M384.6 681.5H390.7M390.7 681.5H395.8M429.9 681.5H435.4" stroke="#87cd6c" stroke-width="1.2" fill="none"/>
<path d="M43.8 533.3H48.9M61.6 552.9H68.6M101.5 552H107.7M177.1 550.1H186.6M201.9 549.7H205.5M240.3 573.8H246.2M283.5 573.9H286.9M328.3 573.9H338.1M35.5 603.9H45.2M241.9 606.4H250.4M255.1 606.5H262.4" stroke="#8dd06c" stroke-width="1.1" fill="none"/>
<path d="M136.4 540.7H140.9M140.9 540.7H149.8M167 540.7H172.1M172.1 540.7H180.9M335.1 541.1H339M339 541.1H345.1M445.3 541.3H450.7M470.8 541.3H478.9M553 541.5H558M558 541.5H561.3M561.3 541.5H565.2M583.2 541.5H588.9M597.4 541.5H603.1M628 541.6H631.1M256.5 681.5H259.6M273.2 681.5H278.8M278.8 681.5H286.1M341.7 681.5H351M561.9 681.5H571.3M603.2 681.5H607.7" stroke="#8dd06c" stroke-width="1.2" fill="none"/>
<path d="M141.5 583.6H146.9M262.7 582.4H272.1M64.7 617.3H74.2M76.5 649.3H83.5M94.9 649.2H103.3M193.6 648.9H200M204.7 648.9H214.4M447.5 648.9H457.3M134.3 706.9H141.9M35.5 710.8H45.2M93.9 711.4H102.4M102.4 711.5H105.6" stroke="#8dd06c" stroke-width="1" fill="none"/>
<path d="M56.6 533.1H64.7M117.1 551.6H125.4M42.1 572.2H46.1M94.4 572.8H103M103 572.8H111.9M111.9 572.9H120.8M125.3 573.1H133.1M266 573.9H273.9M52.8 604.1H58.6M223.5 606.3H227.2" stroke="#94d46b" stroke-width="1.1" fill="none"/>
<path d="M117.8 540.6H127.6M149.8 540.7H158M184 540.8H187.9M230.8 540.9H238.8M251.6 540.9H259.4M275.1 540.9H282.3M282.3 541H286M322.1 541H329.8M329.8 541H335.1M427.2 541.2H431.6M478.9 541.3H485.3M485.3 541.3H489.9M497.9 541.4H502.3M510.7 541.4H517.1M543.2 541.4H549.5M549.5 541.4H553M611.2 541.6H620.5M620.5 541.6H628M193.6 681.5H200.6M234.8 681.5H243.6M286.1 681.5H293.9M493.6 681.5H500.9M523 681.5H528.9M575.4 681.5H580.3M620.1 681.5H623.1" stroke="#94d46b" stroke-width="1.2" fill="none"/>
<path d="M68.5 585H73.4M226.2 648.9H235M244.1 648.9H253.4" stroke="#94d46b" stroke-width="1" fill="none"/>
<path d="M187.9 540.8H191.9M204.9 540.8H214.4M223.6 540.8H230.8M238.8 540.9H247.5M310.1 541H315.7M345.1 541.1H350M357.9 541.1H367.4M367.4 541.1H371.7M450.7 541.3H455.9M455.9 541.3H462.5M462.5 541.3H470.8M517.1 541.4H526.7M534.8 541.4H543.2M565.2 541.5H571M571 541.5H575.9M575.9 541.5H583.2M603.1 541.5H611.2M631.1 541.6H636M104.6 681.4H109.2M269.1 681.5H273.2M293.9 681.5H299.1M324.6 681.5H333.8M333.8 681.5H336.9M351 681.5H355M536.3 681.5H542.4M542.4 681.5H546.5" stroke="#9ad76b" stroke-width="1.2" fill="none"/>
<path d="M52.1 553.1H61.6M35.5 572.1H42.1M61.3 572.4H70.3M229.1 573.8H235.3M69.3 604.4H77.5M84.1 604.5H88.1M109.1 604.9H113.9M122.5 605.1H129.4M191.9 606.1H195.2" stroke="#9ad76b" stroke-width="1.1" fill="none"/>
<path d="M111.5 649.2H115.9" stroke="#9ad76b" stroke-width="1" fill="none"/>
<path d="M35.5 533.3H43.8M35.5 553.5H44.4M168.4 573.5H173.2M219.2 573.8H229.1M256.6 573.9H266M129.4 605.2H138.4M149.2 605.5H155.2" stroke="#a1db6a" stroke-width="1.1" fill="none"/>
<path d="M158 540.7H167M180.9 540.8H184M247.5 540.9H251.6M259.4 540.9H265.5M265.5 540.9H275.1M350 541.1H357.9M371.7 541.1H379.3M383.5 541.1H392M409.2 541.2H418.8M418.8 541.2H427.2M431.6 541.2H436.3M436.3 541.2H445.3M502.3 541.4H510.7M35.5 681.4H41.6M60.5 681.4H64.3M72.1 681.4H79.1M187.1 681.5H193.6M206.3 681.5H216.1M315.2 681.5H324.6M410 681.5H413.8M474.9 681.5H479.4" stroke="#a1db6a" stroke-width="1.2" fill="none"/>
<path d="M69.8 711.2H77.9" stroke="#a1db6a" stroke-width="1" fill="none"/>
<path d="M214.4 540.8H223.6M294.8 541H300.7M300.7 541H310.1M41.6 681.4H51.5M51.5 681.4H60.5M109.2 681.4H115.9M138.2 681.5H144.9M173.6 681.5H177.9M372.8 681.5H379.6M413.8 681.5H421.6" stroke="#a7de6a" stroke-width="1.2" fill="none"/>
<path d="M163 573.4H168.4" stroke="#a7de6a" stroke-width="1.1" fill="none"/>
<path d="M191.9 540.8H196.7M196.7 540.8H204.9M315.7 541H322.1M392 541.2H400.6M400.6 541.2H409.2M64.3 681.4H67.4M86.2 681.4H95.1M115.9 681.5H120.6M152.2 681.5H159.4" stroke="#aee269" stroke-width="1.2" fill="none"/>
<path d="M207.8 573.8H213.9M113.9 605H118.2" stroke="#b4e569" stroke-width="1.1" fill="none"/>
<path d="M120.6 681.5H128.5M177.9 681.5H187.1M216.1 681.5H220.4M220.4 681.5H226.5M363.8 681.5H372.8" stroke="#b4e569" stroke-width="1.2" fill="none"/>
<path d="M46.1 572.3H54.9" stroke="#b9e86a" stroke-width="1.1" fill="none"/>
<path d="M144.9 681.5H152.2M458.1 681.5H461.4" stroke="#b9e86a" stroke-width="1.2" fill="none"/>
<path d="M133.1 573.2H141.6" stroke="#bfeb6a" stroke-width="1.1" fill="none"/>
<path d="M73.6 572.5H81.1" stroke="#c4ee6a" stroke-width="1.1" fill="none"/>
<path d="M95.1 681.4H104.6M226.5 681.5H234.8" stroke="#c4ee6a" stroke-width="1.2" fill="none"/>
<path d="M75.1 674.5H79.6M79.6 674.5H88.5M186 674.4H194.4M229.3 674.4H239M269.6 674.4H275.2M388.7 674.4H392.5M397.2 674.4H406.7M406.7 674.4H414.9M419.2 674.4H425.8M458.8 674.4H467.9M486 674.4H492.9M602.6 674.4H610.7" stroke="#daf86c" stroke-width="1.6" fill="none"/>
<path d="M79.1 681.4H86.2" stroke="#daf86c" stroke-width="1.2" fill="none"/>
<path d="M35.5 674.6H39.2M39.2 674.6H47.1M55.2 674.6H60.2M60.2 674.6H66.4M94.1 674.5H100.9M108.1 674.5H111.3M133.3 674.5H137.4M174.7 674.4H178.1M202.1 674.4H205.3M221 674.4H229.3M275.2 674.4H283.8M292.9 674.4H302.4M316.9 674.4H321.5M321.5 674.4H325.6M344.6 674.4H354.1M354.1 674.4H357.7M375.2 674.4H384.3M445.6 674.4H453.4M467.9 674.4H472.4M492.9 674.4H500.7M500.7 674.4H507.5M521.2 674.4H529.3M529.3 674.4H536.8M558.4 674.4H564.5M578.9 674.4H586.6M596.4 674.4H602.6M610.7 674.4H619.7M628.6 674.4H636" stroke="#def96b" stroke-width="1.6" fill="none"/>
<path d="M47.1 674.6H55.2M88.5 674.5H94.1M115.5 674.5H120M137.4 674.5H146.7M146.7 674.5H156.1M156.1 674.4H163.1M167.6 674.4H174.7M178.1 674.4H186M194.4 674.4H202.1M215.5 674.4H221M239 674.4H247.8M255.2 674.4H261M261 674.4H269.6M325.6 674.4H328.6M328.6 674.4H337.7M357.7 674.4H362.8M362.8 674.4H371.3M371.3 674.4H375.2M392.5 674.4H397.2M414.9 674.4H419.2M425.8 674.4H430.6M437.2 674.4H445.6M453.4 674.4H458.8M472.4 674.4H478.3M514 674.4H521.2M544.4 674.4H552.2M564.5 674.4H572.8M619.7 674.4H628.6" stroke="#e2fa6b" stroke-width="1.6" fill="none"/>
<path d="M66.4 674.6H75.1M100.9 674.5H108.1M111.3 674.5H115.5M120 674.5H126.5M126.5 674.5H133.3M205.3 674.4H208.8M208.8 674.4H215.5M247.8 674.4H255.2M283.8 674.4H292.9M302.4 674.4H309.2M337.7 674.4H344.6M384.3 674.4H388.7M430.6 674.4H437.2M478.3 674.4H486M507.5 674.4H514M536.8 674.4H544.4M552.2 674.4H558.4M572.8 674.4H578.9" stroke="#e6fa6a" stroke-width="1.6" fill="none"/>
<path d="M163.1 674.4H167.6M586.6 674.4H596.4" stroke="#eafb6a" stroke-width="1.6" fill="none"/>
<path d="M309.2 674.4H316.9" stroke="#eefb69" stroke-width="1.6" fill="none"/>
</g>
</g>
<rect x="35.5" y="508.6" width="600.5" height="219.7" fill="none" stroke="#262626" stroke-width="0.9"/>
<path d="M35.5 531.2h5M636.0 531.2h-5M35.5 554.1h5M636.0 554.1h-5M35.5 577h5M636.0 577h-5M35.5 599.8h5M636.0 599.8h-5M35.5 622.6h5M636.0 622.6h-5M35.5 645.5h5M636.0 645.5h-5M35.5 668.4h5M636.0 668.4h-5M35.5 691.2h5M636.0 691.2h-5M35.5 714h5M636.0 714h-5M37.7 508.6v5M37.7 728.3v-5M121.2 508.6v5M121.2 728.3v-5M204.7 508.6v5M204.7 728.3v-5M288.2 508.6v5M288.2 728.3v-5M371.7 508.6v5M371.7 728.3v-5M455.2 508.6v5M455.2 728.3v-5M538.7 508.6v5M538.7 728.3v-5M622.2 508.6v5M622.2 728.3v-5" stroke="#262626" stroke-width="0.9" fill="none"/>
<text x="32.2" y="512.3" font-size="10.5" text-anchor="end" fill="#262626">0</text>
<text x="32.2" y="535.1" font-size="10.5" text-anchor="end" fill="#262626">1</text>
<text x="32.2" y="558" font-size="10.5" text-anchor="end" fill="#262626">2</text>
<text x="32.2" y="580.9" font-size="10.5" text-anchor="end" fill="#262626">3</text>
<text x="32.2" y="603.7" font-size="10.5" text-anchor="end" fill="#262626">4</text>
<text x="32.2" y="626.5" font-size="10.5" text-anchor="end" fill="#262626">5</text>
<text x="32.2" y="649.4" font-size="10.5" text-anchor="end" fill="#262626">6</text>
<text x="32.2" y="672.2" font-size="10.5" text-anchor="end" fill="#262626">7</text>
<text x="32.2" y="695.1" font-size="10.5" text-anchor="end" fill="#262626">8</text>
<text x="32.2" y="717.9" font-size="10.5" text-anchor="end" fill="#262626">9</text>
<text x="37.7" y="742.3" font-size="10.5" text-anchor="middle" fill="#262626">0</text>
<text x="121.2" y="742.3" font-size="10.5" text-anchor="middle" fill="#262626">0.5</text>
<text x="204.7" y="742.3" font-size="10.5" text-anchor="middle" fill="#262626">1</text>
<text x="288.2" y="742.3" font-size="10.5" text-anchor="middle" fill="#262626">1.5</text>
<text x="371.7" y="742.3" font-size="10.5" text-anchor="middle" fill="#262626">2</text>
<text x="455.2" y="742.3" font-size="10.5" text-anchor="middle" fill="#262626">2.5</text>
<text x="538.7" y="742.3" font-size="10.5" text-anchor="middle" fill="#262626">3</text>
<text x="622.2" y="742.3" font-size="10.5" text-anchor="middle" fill="#262626">3.5</text>
<text x="363" y="758" font-size="12.7" text-anchor="middle" fill="#262626">Time (×10<tspan font-size="7.5" dy="-4.3">4</tspan><tspan dy="4.3"> s)</tspan></text>
<text x="15.3" y="617.9" font-size="13.0" text-anchor="middle" transform="rotate(-90 15.3 617.9)" fill="#262626">Frequency, ν (Hz)</text>
<rect x="640" y="508.6" width="9" height="219.7" fill="url(#cbg)" stroke="#262626" stroke-width="0.9"/>
<path d="M649 508.6h-4.5M649 545.2h-4.5M649 581.8h-4.5M649 618.5h-4.5M649 655.1h-4.5M649 691.7h-4.5M649 728.3h-4.5" stroke="#262626" stroke-width="0.9"/>
<text x="651.5" y="512.1" font-size="10.5" text-anchor="start" fill="#262626">-30</text>
<text x="651.5" y="548.7" font-size="10.5" text-anchor="start" fill="#262626">-40</text>
<text x="651.5" y="585.3" font-size="10.5" text-anchor="start" fill="#262626">-50</text>
<text x="651.5" y="622" font-size="10.5" text-anchor="start" fill="#262626">-60</text>
<text x="651.5" y="658.6" font-size="10.5" text-anchor="start" fill="#262626">-70</text>
<text x="651.5" y="695.2" font-size="10.5" text-anchor="start" fill="#262626">-80</text>
<text x="651.5" y="731.8" font-size="10.5" text-anchor="start" fill="#262626">-90</text>
<text x="679" y="618.3" font-size="12.5" text-anchor="middle" transform="rotate(-90 679 618.3)" fill="#262626">Log(x(ω)) (a.u.)</text>
<rect x="446.3" y="578.5" width="180.1" height="140.8" fill="#fff"/>
<clipPath id="cI"><rect x="476.6" y="584.4" width="128.2" height="113.3"/></clipPath>
<g clip-path="url(#cI)">
<rect x="476.6" y="584.4" width="128.2" height="113.3" fill="#40946d"/>
<rect x="476.6" y="584.4" width="5.2" height="113.3" fill="#43976d"/>
<rect x="481.7" y="584.4" width="2.8" height="113.3" fill="#3e926c"/>
<rect x="484.5" y="584.4" width="4.5" height="113.3" fill="#43976d"/>
<rect x="489" y="584.4" width="4.9" height="113.3" fill="#3e926c"/>
<rect x="493.8" y="584.4" width="4.1" height="113.3" fill="#43976d"/>
<rect x="497.8" y="584.4" width="4.9" height="113.3" fill="#3e926c"/>
<rect x="502.7" y="584.4" width="5.2" height="113.3" fill="#43976d"/>
<rect x="507.9" y="584.4" width="4.8" height="113.3" fill="#3e926c"/>
<rect x="512.6" y="584.4" width="3.1" height="113.3" fill="#43976d"/>
<rect x="515.7" y="584.4" width="2.9" height="113.3" fill="#3e926c"/>
<rect x="518.6" y="584.4" width="4.2" height="113.3" fill="#43976d"/>
<rect x="522.7" y="584.4" width="5.5" height="113.3" fill="#3e926c"/>
<rect x="528.1" y="584.4" width="5.4" height="113.3" fill="#43976d"/>
<rect x="533.5" y="584.4" width="3.9" height="113.3" fill="#3e926c"/>
<rect x="537.4" y="584.4" width="4.4" height="113.3" fill="#43976d"/>
<rect x="541.8" y="584.4" width="3.5" height="113.3" fill="#3e926c"/>
<rect x="545.2" y="584.4" width="4.5" height="113.3" fill="#43976d"/>
<rect x="549.6" y="584.4" width="2.6" height="113.3" fill="#3e926c"/>
<rect x="552.2" y="584.4" width="5.2" height="113.3" fill="#43976d"/>
<rect x="557.3" y="584.4" width="5.3" height="113.3" fill="#3e926c"/>
<rect x="562.6" y="584.4" width="4.6" height="113.3" fill="#43976d"/>
<rect x="567.1" y="584.4" width="3" height="113.3" fill="#3e926c"/>
<rect x="570" y="584.4" width="3.4" height="113.3" fill="#43976d"/>
<rect x="573.4" y="584.4" width="5.1" height="113.3" fill="#3e926c"/>
<rect x="578.5" y="584.4" width="3.5" height="113.3" fill="#43976d"/>
<rect x="581.9" y="584.4" width="4.9" height="113.3" fill="#3e926c"/>
<rect x="586.8" y="584.4" width="5.1" height="113.3" fill="#43976d"/>
<rect x="591.8" y="584.4" width="4.7" height="113.3" fill="#3e926c"/>
<rect x="596.5" y="584.4" width="3.5" height="113.3" fill="#43976d"/>
<rect x="599.9" y="584.4" width="4.4" height="113.3" fill="#3e926c"/>
<rect x="604.2" y="584.4" width="5.1" height="113.3" fill="#43976d"/>
<g filter="url(#bl)">
<path d="M476.6 650.6 L604.8 628.0 L604.8 635.2 Z" fill="#489d6e" opacity="1.0"/>
<path d="M476.6 650.6 L604.8 635.2 L604.8 643.8 Z" fill="#72c16d" opacity="1.0"/>
<path d="M476.6 650.6 L604.8 643.8 L604.8 651.2 Z" fill="#58ac6e" opacity="1.0"/>
<path d="M476.6 650.6 L604.8 651.2 L604.8 659.0 Z" fill="#4da26e" opacity="1.0"/>
<ellipse cx="484.5" cy="650.4" rx="2.2" ry="0.9" fill="#cbf26b"/>
<ellipse cx="484.5" cy="650.9" rx="1.7" ry="0.5" fill="#76c36d"/>
<ellipse cx="484.5" cy="650.4" rx="1.5" ry="0.4" fill="#87cd6c"/>
<ellipse cx="490.8" cy="649.9" rx="2.3" ry="1.1" fill="#cbf26b"/>
<ellipse cx="490.8" cy="651.1" rx="1.9" ry="0.7" fill="#76c36d"/>
<ellipse cx="490.8" cy="650.3" rx="1.6" ry="0.6" fill="#87cd6c"/>
<ellipse cx="498.3" cy="649.2" rx="3.1" ry="1.3" fill="#cbf26b"/>
<ellipse cx="498.3" cy="651.4" rx="2.5" ry="1" fill="#76c36d"/>
<ellipse cx="498.3" cy="650.1" rx="2.2" ry="0.8" fill="#87cd6c"/>
<ellipse cx="507.4" cy="648.4" rx="3.4" ry="1.6" fill="#cbf26b"/>
<ellipse cx="507.4" cy="651.7" rx="2.7" ry="1.2" fill="#76c36d"/>
<ellipse cx="507.4" cy="649.9" rx="2.4" ry="1.1" fill="#87cd6c"/>
<ellipse cx="517.3" cy="647.6" rx="3.7" ry="2" fill="#cbf26b"/>
<ellipse cx="517.3" cy="652" rx="3" ry="1.5" fill="#76c36d"/>
<ellipse cx="517.3" cy="649.6" rx="2.6" ry="1.4" fill="#87cd6c"/>
<ellipse cx="528.2" cy="646.6" rx="4.1" ry="2.3" fill="#cbf26b"/>
<ellipse cx="528.2" cy="652.4" rx="3.3" ry="1.9" fill="#76c36d"/>
<ellipse cx="528.2" cy="649.4" rx="2.9" ry="1.7" fill="#87cd6c"/>
<ellipse cx="540" cy="645.6" rx="4.4" ry="2.7" fill="#cbf26b"/>
<ellipse cx="540" cy="652.8" rx="3.5" ry="2.2" fill="#76c36d"/>
<ellipse cx="540" cy="649.1" rx="3.1" ry="2" fill="#87cd6c"/>
<ellipse cx="552.4" cy="644.5" rx="4.4" ry="3.1" fill="#cbf26b"/>
<ellipse cx="552.4" cy="653.3" rx="3.5" ry="2.6" fill="#76c36d"/>
<ellipse cx="552.4" cy="648.8" rx="3.1" ry="2.4" fill="#87cd6c"/>
<ellipse cx="565.1" cy="643.4" rx="4.8" ry="3.6" fill="#cbf26b"/>
<ellipse cx="565.1" cy="653.7" rx="3.8" ry="3" fill="#76c36d"/>
<ellipse cx="565.1" cy="648.5" rx="3.4" ry="2.8" fill="#87cd6c"/>
<ellipse cx="578.5" cy="642.3" rx="4.8" ry="4" fill="#cbf26b"/>
<ellipse cx="578.5" cy="654.2" rx="3.8" ry="3.4" fill="#76c36d"/>
<ellipse cx="578.5" cy="648.1" rx="3.4" ry="3.1" fill="#87cd6c"/>
<ellipse cx="592.2" cy="641.1" rx="5.1" ry="4.5" fill="#cbf26b"/>
<ellipse cx="592.2" cy="654.7" rx="4.1" ry="3.8" fill="#76c36d"/>
<ellipse cx="592.2" cy="647.8" rx="3.6" ry="3.5" fill="#87cd6c"/>
<ellipse cx="605.6" cy="639.9" rx="4.6" ry="4.9" fill="#cbf26b"/>
<ellipse cx="605.6" cy="655.1" rx="3.7" ry="4.2" fill="#76c36d"/>
<ellipse cx="605.6" cy="647.5" rx="3.2" ry="3.9" fill="#87cd6c"/>
<path d="M476.6 650.6 L604.8 619.5" stroke="#5fb46e" stroke-width="0.8" fill="none"/>
<path d="M476.6 650.6 L604.8 628.0" stroke="#87cd6c" stroke-width="0.9" fill="none"/>
<path d="M476.6 650.6 L604.8 635.2" stroke="#a6de6a" stroke-width="1.0" fill="none"/>
<path d="M476.6 650.6 L604.8 643.8" stroke="#dff96b" stroke-width="1.2" fill="none"/>
<path d="M476.6 650.6 L604.8 659.0" stroke="#aee269" stroke-width="1.1" fill="none"/>
</g>
<path d="M476.6 651.2 L604.8 651.2" stroke="#edfb6a" stroke-width="1" fill="none"/>
</g>
<rect x="476.6" y="584.4" width="128.2" height="113.3" fill="none" stroke="#262626" stroke-width="0.8"/>
<path d="M476.6 686.5h2.5M604.8 686.5h-2.5M476.6 674.8h2.5M604.8 674.8h-2.5M476.6 663h2.5M604.8 663h-2.5M476.6 651.2h2.5M604.8 651.2h-2.5M476.6 639.4h2.5M604.8 639.4h-2.5M476.6 627.6h2.5M604.8 627.6h-2.5M476.6 615.9h2.5M604.8 615.9h-2.5M476.6 604.1h2.5M604.8 604.1h-2.5M476.6 592.3h2.5M604.8 592.3h-2.5M499.6 584.4v2.5M499.6 697.7v-2.5M525.9 584.4v2.5M525.9 697.7v-2.5M552.2 584.4v2.5M552.2 697.7v-2.5M578.5 584.4v2.5M578.5 697.7v-2.5" stroke="#262626" stroke-width="0.8" fill="none"/>
<text x="474.3" y="607.1" font-size="8.6" text-anchor="end" fill="#262626">1.48</text>
<text x="474.3" y="630.7" font-size="8.6" text-anchor="end" fill="#262626">1.44</text>
<text x="474.3" y="654.2" font-size="8.6" text-anchor="end" fill="#262626">1.4</text>
<text x="474.3" y="678.2" font-size="8.6" text-anchor="end" fill="#262626">1.36</text>
<text x="498.2" y="707.4" font-size="9.0" text-anchor="middle" fill="#262626">0.2</text>
<text x="524.5" y="707.4" font-size="9.0" text-anchor="middle" fill="#262626">0.4</text>
<text x="550.8" y="707.4" font-size="9.0" text-anchor="middle" fill="#262626">0.6</text>
<text x="577.1" y="707.4" font-size="9.0" text-anchor="middle" fill="#262626">0.8</text>
<text x="601.8" y="707.4" font-size="9.0" text-anchor="middle" fill="#262626">1</text>
<text x="547.7" y="716.6" font-size="9.0" text-anchor="middle" fill="#262626">Drive amplitude (a.u.)</text>
<text x="455" y="644" font-size="9.1" text-anchor="middle" transform="rotate(-90 455 644)" fill="#262626">Frequency (Hz)</text>
<rect x="608.4" y="584.4" width="5.5" height="113.3" fill="url(#cbg)" stroke="#262626" stroke-width="0.8"/>
<text x="615" y="587.6" font-size="9.0" text-anchor="start" fill="#262626">80</text>
<text x="615" y="625.4" font-size="9.0" text-anchor="start" fill="#262626">60</text>
<text x="615" y="663.1" font-size="9.0" text-anchor="start" fill="#262626">40</text>
<text x="615" y="700.9" font-size="9.0" text-anchor="start" fill="#262626">20</text>
</svg></body></html>
